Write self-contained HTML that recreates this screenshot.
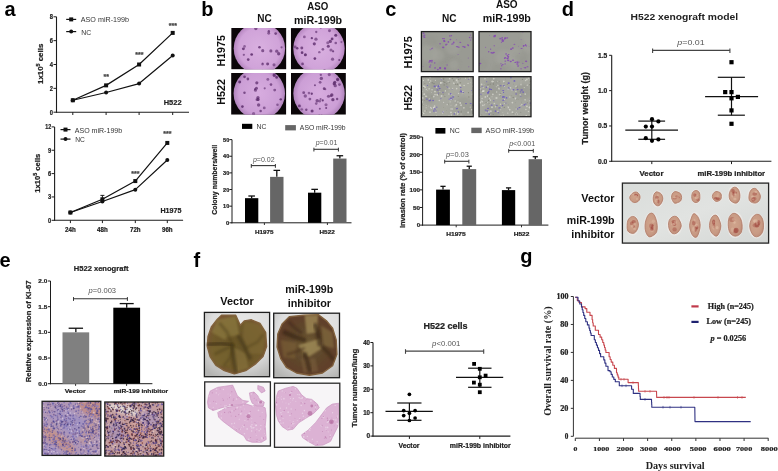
<!DOCTYPE html>
<html><head><meta charset="utf-8"><style>
html,body{margin:0;padding:0;background:#fff;width:778px;height:471px;overflow:hidden;}
svg{display:block;}
</style></head><body>
<svg width="778" height="471" viewBox="0 0 778 471" style="filter:blur(0.35px)"><defs><filter id="bl1" x="-50%" y="-50%" width="200%" height="200%"><feGaussianBlur stdDeviation="0.45"/></filter><filter id="bl2" x="-50%" y="-50%" width="200%" height="200%"><feGaussianBlur stdDeviation="0.8"/></filter><filter id="bl3" x="-50%" y="-50%" width="200%" height="200%"><feGaussianBlur stdDeviation="1.6"/></filter><radialGradient id="dishg" cx="0.5" cy="0.5" r="0.5"><stop offset="0" stop-color="#d9b0e0"/><stop offset="0.8" stop-color="#d0a3d9"/><stop offset="1" stop-color="#b686c0"/></radialGradient><radialGradient id="dishg2" cx="0.5" cy="0.5" r="0.5"><stop offset="0" stop-color="#d7acdf"/><stop offset="0.8" stop-color="#cc9fd6"/><stop offset="1" stop-color="#b184bd"/></radialGradient><clipPath id="d1"><rect x="231.20" y="28.00" width="55.20" height="41.40"/></clipPath><clipPath id="d2"><rect x="290.80" y="28.10" width="55.20" height="41.30"/></clipPath><clipPath id="d3"><rect x="231.10" y="72.90" width="55.20" height="41.80"/></clipPath><clipPath id="d4"><rect x="291.00" y="72.90" width="54.90" height="41.80"/></clipPath><clipPath id="i1"><rect x="421.40" y="31.60" width="51.80" height="40.00"/></clipPath><clipPath id="i2"><rect x="479.00" y="31.60" width="52.00" height="40.00"/></clipPath><clipPath id="i3"><rect x="421.40" y="76.70" width="51.80" height="40.00"/></clipPath><clipPath id="i4"><rect x="479.00" y="76.70" width="52.00" height="40.00"/></clipPath><clipPath id="tp"><rect x="622.40" y="183.10" width="146.20" height="60.00"/></clipPath><radialGradient id="tum" cx="0.45" cy="0.45" r="0.6"><stop offset="0" stop-color="#d0a48c"/><stop offset="0.7" stop-color="#c89a84"/><stop offset="1" stop-color="#bb8a76"/></radialGradient><linearGradient id="tbg" x1="0" y1="0" x2="1" y2="1"><stop offset="0" stop-color="#d9dcda"/><stop offset="0.5" stop-color="#e1e3e1"/><stop offset="1" stop-color="#d4d7d5"/></linearGradient><clipPath id="h1"><rect x="42.10" y="401.30" width="58.70" height="54.10"/></clipPath><clipPath id="h2"><rect x="104.80" y="402.00" width="58.90" height="54.10"/></clipPath><radialGradient id="lbg" cx="0.55" cy="0.3" r="0.8"><stop offset="0" stop-color="#ebebea"/><stop offset="0.6" stop-color="#dedede"/><stop offset="1" stop-color="#b4b4b2"/></radialGradient><radialGradient id="lung1" cx="0.5" cy="0.5" r="0.55"><stop offset="0" stop-color="#665428"/><stop offset="0.75" stop-color="#6f5a2c"/><stop offset="1" stop-color="#7a5434"/></radialGradient><radialGradient id="lung2" cx="0.5" cy="0.5" r="0.55"><stop offset="0" stop-color="#6e5a32"/><stop offset="0.55" stop-color="#5e462c"/><stop offset="1" stop-color="#623e2a"/></radialGradient><clipPath id="l1"><rect x="204.40" y="312.40" width="65.20" height="64.30"/></clipPath><clipPath id="l2"><rect x="273.70" y="313.20" width="65.80" height="64.50"/></clipPath><clipPath id="e1"><rect x="204.70" y="381.90" width="65.70" height="64.10"/></clipPath><clipPath id="e1t"><path d="M 208.4 396.6 L 210.2 391.0 L 217.7 387.3 L 224.2 386.4 L 232.6 385.1 L 234.5 389.2 L 237.3 395.7 L 242.9 400.4 L 248.5 401.3 L 244.7 404.1 L 237.3 405.0 L 228.0 406.0 L 218.6 408.7 L 213.0 410.6 L 208.4 407.8 L 207.5 402.2 Z"/><path d="M 217.7 412.5 L 226.1 407.8 L 237.3 405.6 L 246.6 404.1 L 252.2 406.0 L 257.8 405.0 L 261.5 406.0 L 265.2 407.8 L 266.2 415.3 L 265.2 426.5 L 266.2 439.5 L 261.5 442.3 L 252.2 442.3 L 246.6 440.4 L 243.8 435.8 L 237.3 432.0 L 229.8 426.5 L 222.4 420.9 L 218.6 417.1 Z"/><path d="M 249.4 392.9 L 254.0 392.0 L 257.8 395.7 L 259.6 399.4 L 264.3 402.2 L 263.4 406.0 L 256.8 406.0 L 252.2 403.2 L 250.3 398.5 Z"/><path d="M 257.8 385.5 L 263.4 387.3 L 265.2 391.0 L 261.5 392.9 L 257.8 389.2 Z"/></clipPath><clipPath id="e2"><rect x="274.50" y="383.20" width="65.30" height="64.10"/></clipPath><clipPath id="e2t"><path d="M 276.4 396.6 L 278.3 391.0 L 285.7 388.2 L 293.2 386.4 L 296.9 388.2 L 301.6 394.8 L 306.2 398.5 L 311.8 399.4 L 317.4 404.1 L 319.3 407.8 L 313.7 413.4 L 306.2 418.1 L 298.8 422.7 L 293.2 429.2 L 287.6 430.2 L 282.0 426.5 L 278.3 420.9 L 276.4 415.3 L 275.5 406.0 Z"/><path d="M 301.6 434.8 L 308.1 430.2 L 315.5 422.7 L 321.1 415.3 L 326.7 407.8 L 332.3 404.1 L 338.8 403.2 L 338.8 415.3 L 337.9 426.5 L 334.2 433.9 L 330.5 441.4 L 323.0 445.1 L 315.5 445.5 L 308.1 441.4 L 302.5 437.6 Z"/></clipPath></defs>
<text x="4.60" y="16.20" font-family="'Liberation Sans', sans-serif" font-size="20" font-weight="bold" text-anchor="start" fill="#000">a</text>
<text x="201.20" y="16.00" font-family="'Liberation Sans', sans-serif" font-size="20" font-weight="bold" text-anchor="start" fill="#000">b</text>
<text x="385.30" y="16.40" font-family="'Liberation Sans', sans-serif" font-size="20" font-weight="bold" text-anchor="start" fill="#000">c</text>
<text x="561.80" y="16.00" font-family="'Liberation Sans', sans-serif" font-size="20" font-weight="bold" text-anchor="start" fill="#000">d</text>
<text x="-0.60" y="266.60" font-family="'Liberation Sans', sans-serif" font-size="20" font-weight="bold" text-anchor="start" fill="#000">e</text>
<text x="193.60" y="267.10" font-family="'Liberation Sans', sans-serif" font-size="20" font-weight="bold" text-anchor="start" fill="#000">f</text>
<text x="520.30" y="263.00" font-family="'Liberation Sans', sans-serif" font-size="20" font-weight="bold" text-anchor="start" fill="#000">g</text>
<line x1="56.50" y1="16.80" x2="56.50" y2="112.70" stroke="#1c1c1c" stroke-width="1.1"/>
<line x1="56.00" y1="112.20" x2="189.00" y2="112.20" stroke="#1c1c1c" stroke-width="1.1"/>
<line x1="53.50" y1="112.20" x2="56.50" y2="112.20" stroke="#1c1c1c" stroke-width="1"/>
<text x="53.00" y="114.50" font-family="'Liberation Sans', sans-serif" font-size="6.6" font-weight="bold" text-anchor="end" fill="#222" stroke="#222" stroke-width="0.22" textLength="3.20" lengthAdjust="spacingAndGlyphs">0</text>
<line x1="53.50" y1="88.35" x2="56.50" y2="88.35" stroke="#1c1c1c" stroke-width="1"/>
<text x="53.00" y="90.65" font-family="'Liberation Sans', sans-serif" font-size="6.6" font-weight="bold" text-anchor="end" fill="#222" stroke="#222" stroke-width="0.22" textLength="3.20" lengthAdjust="spacingAndGlyphs">2</text>
<line x1="53.50" y1="64.50" x2="56.50" y2="64.50" stroke="#1c1c1c" stroke-width="1"/>
<text x="53.00" y="66.80" font-family="'Liberation Sans', sans-serif" font-size="6.6" font-weight="bold" text-anchor="end" fill="#222" stroke="#222" stroke-width="0.22" textLength="3.20" lengthAdjust="spacingAndGlyphs">4</text>
<line x1="53.50" y1="40.65" x2="56.50" y2="40.65" stroke="#1c1c1c" stroke-width="1"/>
<text x="53.00" y="42.95" font-family="'Liberation Sans', sans-serif" font-size="6.6" font-weight="bold" text-anchor="end" fill="#222" stroke="#222" stroke-width="0.22" textLength="3.20" lengthAdjust="spacingAndGlyphs">6</text>
<line x1="53.50" y1="16.80" x2="56.50" y2="16.80" stroke="#1c1c1c" stroke-width="1"/>
<text x="53.00" y="19.10" font-family="'Liberation Sans', sans-serif" font-size="6.6" font-weight="bold" text-anchor="end" fill="#222" stroke="#222" stroke-width="0.22" textLength="3.20" lengthAdjust="spacingAndGlyphs">8</text>
<line x1="72.80" y1="112.20" x2="72.80" y2="115.00" stroke="#1c1c1c" stroke-width="1"/>
<line x1="106.10" y1="112.20" x2="106.10" y2="115.00" stroke="#1c1c1c" stroke-width="1"/>
<line x1="139.10" y1="112.20" x2="139.10" y2="115.00" stroke="#1c1c1c" stroke-width="1"/>
<line x1="172.70" y1="112.20" x2="172.70" y2="115.00" stroke="#1c1c1c" stroke-width="1"/>
<polyline points="72.80,100.28 106.10,85.37 139.10,64.50 172.70,32.90" fill="none" stroke="#111" stroke-width="1.2" stroke-linejoin="round" />
<polyline points="72.80,100.28 106.10,92.52 139.10,83.58 172.70,55.56" fill="none" stroke="#111" stroke-width="1.2" stroke-linejoin="round" />
<circle cx="72.80" cy="100.28" r="2.00" fill="#111" />
<circle cx="106.10" cy="92.52" r="2.00" fill="#111" />
<circle cx="139.10" cy="83.58" r="2.00" fill="#111" />
<circle cx="172.70" cy="55.56" r="2.00" fill="#111" />
<rect x="70.80" y="98.28" width="4.00" height="4.00" fill="#111" />
<rect x="104.10" y="83.37" width="4.00" height="4.00" fill="#111" />
<rect x="137.10" y="62.50" width="4.00" height="4.00" fill="#111" />
<rect x="170.70" y="30.90" width="4.00" height="4.00" fill="#111" />
<line x1="66.20" y1="19.40" x2="76.20" y2="19.40" stroke="#111" stroke-width="1.2"/>
<rect x="69.20" y="17.40" width="4.00" height="4.00" fill="#111" />
<text x="104.90" y="21.80" font-family="'Liberation Sans', sans-serif" font-size="7.5" font-weight="normal" text-anchor="middle" fill="#333" textLength="48.12" lengthAdjust="spacingAndGlyphs">ASO miR-199b</text>
<line x1="66.20" y1="31.60" x2="76.20" y2="31.60" stroke="#111" stroke-width="1.2"/>
<circle cx="71.20" cy="31.60" r="2.00" fill="#111" />
<text x="86.30" y="34.50" font-family="'Liberation Sans', sans-serif" font-size="7.5" font-weight="normal" text-anchor="middle" fill="#333" textLength="9.93" lengthAdjust="spacingAndGlyphs">NC</text>
<text x="172.65" y="104.80" font-family="'Liberation Sans', sans-serif" font-size="7.5" font-weight="bold" text-anchor="middle" fill="#222" stroke="#222" stroke-width="0.22" textLength="17.83" lengthAdjust="spacingAndGlyphs">H522</text>
<text x="106.30" y="79.30" font-family="'Liberation Sans', sans-serif" font-size="7" font-weight="bold" text-anchor="middle" fill="#444" stroke="#444" stroke-width="0.22">**</text>
<text x="139.30" y="56.60" font-family="'Liberation Sans', sans-serif" font-size="7" font-weight="bold" text-anchor="middle" fill="#444" stroke="#444" stroke-width="0.22">***</text>
<text x="172.90" y="27.60" font-family="'Liberation Sans', sans-serif" font-size="7" font-weight="bold" text-anchor="middle" fill="#444" stroke="#444" stroke-width="0.22">***</text>
<text x="42.70" y="63.85" font-family="'Liberation Sans', sans-serif" font-size="7.3" font-weight="bold" text-anchor="middle" fill="#222" stroke="#222" stroke-width="0.22" textLength="40.30" lengthAdjust="spacingAndGlyphs" transform="rotate(-90 42.70 63.85)">1x10<tspan font-size="5" dy="-3">5</tspan><tspan dy="3"> cells</tspan></text>
<line x1="54.60" y1="126.90" x2="54.60" y2="220.80" stroke="#1c1c1c" stroke-width="1.1"/>
<line x1="54.10" y1="220.30" x2="183.10" y2="220.30" stroke="#1c1c1c" stroke-width="1.1"/>
<line x1="51.60" y1="220.30" x2="54.60" y2="220.30" stroke="#1c1c1c" stroke-width="1"/>
<text x="51.20" y="222.60" font-family="'Liberation Sans', sans-serif" font-size="6.6" font-weight="bold" text-anchor="end" fill="#222" stroke="#222" stroke-width="0.22" textLength="3.20" lengthAdjust="spacingAndGlyphs">0</text>
<line x1="51.60" y1="196.95" x2="54.60" y2="196.95" stroke="#1c1c1c" stroke-width="1"/>
<text x="51.20" y="199.25" font-family="'Liberation Sans', sans-serif" font-size="6.6" font-weight="bold" text-anchor="end" fill="#222" stroke="#222" stroke-width="0.22" textLength="3.20" lengthAdjust="spacingAndGlyphs">3</text>
<line x1="51.60" y1="173.60" x2="54.60" y2="173.60" stroke="#1c1c1c" stroke-width="1"/>
<text x="51.20" y="175.90" font-family="'Liberation Sans', sans-serif" font-size="6.6" font-weight="bold" text-anchor="end" fill="#222" stroke="#222" stroke-width="0.22" textLength="3.20" lengthAdjust="spacingAndGlyphs">6</text>
<line x1="51.60" y1="150.25" x2="54.60" y2="150.25" stroke="#1c1c1c" stroke-width="1"/>
<text x="51.20" y="152.55" font-family="'Liberation Sans', sans-serif" font-size="6.6" font-weight="bold" text-anchor="end" fill="#222" stroke="#222" stroke-width="0.22" textLength="3.20" lengthAdjust="spacingAndGlyphs">9</text>
<line x1="51.60" y1="126.90" x2="54.60" y2="126.90" stroke="#1c1c1c" stroke-width="1"/>
<text x="51.20" y="129.20" font-family="'Liberation Sans', sans-serif" font-size="6.6" font-weight="bold" text-anchor="end" fill="#222" stroke="#222" stroke-width="0.22" textLength="6.00" lengthAdjust="spacingAndGlyphs">12</text>
<line x1="70.40" y1="220.30" x2="70.40" y2="223.10" stroke="#1c1c1c" stroke-width="1"/>
<line x1="102.40" y1="220.30" x2="102.40" y2="223.10" stroke="#1c1c1c" stroke-width="1"/>
<line x1="135.30" y1="220.30" x2="135.30" y2="223.10" stroke="#1c1c1c" stroke-width="1"/>
<line x1="167.30" y1="220.30" x2="167.30" y2="223.10" stroke="#1c1c1c" stroke-width="1"/>
<text x="70.40" y="231.90" font-family="'Liberation Sans', sans-serif" font-size="6.4" font-weight="bold" text-anchor="middle" fill="#222" stroke="#222" stroke-width="0.22" textLength="10.65" lengthAdjust="spacingAndGlyphs">24h</text>
<text x="102.40" y="231.90" font-family="'Liberation Sans', sans-serif" font-size="6.4" font-weight="bold" text-anchor="middle" fill="#222" stroke="#222" stroke-width="0.22" textLength="10.65" lengthAdjust="spacingAndGlyphs">48h</text>
<text x="135.30" y="231.90" font-family="'Liberation Sans', sans-serif" font-size="6.4" font-weight="bold" text-anchor="middle" fill="#222" stroke="#222" stroke-width="0.22" textLength="10.65" lengthAdjust="spacingAndGlyphs">72h</text>
<text x="167.30" y="231.90" font-family="'Liberation Sans', sans-serif" font-size="6.4" font-weight="bold" text-anchor="middle" fill="#222" stroke="#222" stroke-width="0.22" textLength="10.65" lengthAdjust="spacingAndGlyphs">96h</text>
<line x1="102.40" y1="199.28" x2="102.40" y2="195.39" stroke="#1c1c1c" stroke-width="1"/>
<line x1="100.40" y1="195.39" x2="104.40" y2="195.39" stroke="#1c1c1c" stroke-width="1"/>
<polyline points="70.40,212.52 102.40,199.28 135.30,181.07 167.30,142.93" fill="none" stroke="#111" stroke-width="1.2" stroke-linejoin="round" />
<polyline points="70.40,212.52 102.40,201.46 135.30,189.63 167.30,159.98" fill="none" stroke="#111" stroke-width="1.2" stroke-linejoin="round" />
<circle cx="70.40" cy="212.52" r="2.00" fill="#111" />
<circle cx="102.40" cy="201.46" r="2.00" fill="#111" />
<circle cx="135.30" cy="189.63" r="2.00" fill="#111" />
<circle cx="167.30" cy="159.98" r="2.00" fill="#111" />
<rect x="68.40" y="210.52" width="4.00" height="4.00" fill="#111" />
<rect x="100.40" y="197.28" width="4.00" height="4.00" fill="#111" />
<rect x="133.30" y="179.07" width="4.00" height="4.00" fill="#111" />
<rect x="165.30" y="140.93" width="4.00" height="4.00" fill="#111" />
<line x1="60.50" y1="129.60" x2="70.50" y2="129.60" stroke="#111" stroke-width="1.2"/>
<rect x="63.50" y="127.60" width="4.00" height="4.00" fill="#111" />
<text x="98.45" y="132.50" font-family="'Liberation Sans', sans-serif" font-size="7.5" font-weight="normal" text-anchor="middle" fill="#333" textLength="47.43" lengthAdjust="spacingAndGlyphs">ASO miR-199b</text>
<line x1="60.50" y1="139.10" x2="70.50" y2="139.10" stroke="#111" stroke-width="1.2"/>
<circle cx="65.50" cy="139.10" r="2.00" fill="#111" />
<text x="80.05" y="141.90" font-family="'Liberation Sans', sans-serif" font-size="7.5" font-weight="normal" text-anchor="middle" fill="#333" textLength="9.62" lengthAdjust="spacingAndGlyphs">NC</text>
<text x="170.90" y="213.00" font-family="'Liberation Sans', sans-serif" font-size="7.5" font-weight="bold" text-anchor="middle" fill="#222" stroke="#222" stroke-width="0.22" textLength="20.93" lengthAdjust="spacingAndGlyphs">H1975</text>
<text x="135.30" y="176.40" font-family="'Liberation Sans', sans-serif" font-size="7" font-weight="bold" text-anchor="middle" fill="#444" stroke="#444" stroke-width="0.22">***</text>
<text x="167.30" y="136.10" font-family="'Liberation Sans', sans-serif" font-size="7" font-weight="bold" text-anchor="middle" fill="#444" stroke="#444" stroke-width="0.22">***</text>
<text x="40.20" y="173.25" font-family="'Liberation Sans', sans-serif" font-size="7.3" font-weight="bold" text-anchor="middle" fill="#222" stroke="#222" stroke-width="0.22" textLength="39.10" lengthAdjust="spacingAndGlyphs" transform="rotate(-90 40.20 173.25)">1x10<tspan font-size="5" dy="-3">5</tspan><tspan dy="3"> cells</tspan></text>
<text x="264.55" y="21.90" font-family="'Liberation Sans', sans-serif" font-size="10.5" font-weight="bold" text-anchor="middle" fill="#111" textLength="14.43" lengthAdjust="spacingAndGlyphs">NC</text>
<text x="317.75" y="10.20" font-family="'Liberation Sans', sans-serif" font-size="10.5" font-weight="bold" text-anchor="middle" fill="#111" textLength="21.03" lengthAdjust="spacingAndGlyphs">ASO</text>
<text x="318.10" y="24.00" font-family="'Liberation Sans', sans-serif" font-size="10.5" font-weight="bold" text-anchor="middle" fill="#111" textLength="48.14" lengthAdjust="spacingAndGlyphs">miR-199b</text>
<text x="225.30" y="50.80" font-family="'Liberation Sans', sans-serif" font-size="10.5" font-weight="bold" text-anchor="middle" fill="#111" textLength="31.33" lengthAdjust="spacingAndGlyphs" transform="rotate(-90 225.30 50.80)">H1975</text>
<text x="225.30" y="91.90" font-family="'Liberation Sans', sans-serif" font-size="10.5" font-weight="bold" text-anchor="middle" fill="#111" textLength="25.53" lengthAdjust="spacingAndGlyphs" transform="rotate(-90 225.30 91.90)">H522</text>
<g clip-path="url(#d1)">
<rect x="231.20" y="28.00" width="55.20" height="41.40" fill="#0b0609" />
<circle cx="259.40" cy="48.40" r="25.70" fill="url(#dishg)" filter="url(#bl1)"/>
<circle cx="274.02" cy="64.85" r="1.53" fill="#5e2e6e" opacity="0.64" filter="url(#bl1)"/>
<circle cx="243.38" cy="48.86" r="1.46" fill="#5e2e6e" opacity="0.83" filter="url(#bl1)"/>
<circle cx="262.74" cy="50.64" r="1.59" fill="#5e2e6e" opacity="0.70" filter="url(#bl1)"/>
<circle cx="259.48" cy="47.31" r="1.31" fill="#5e2e6e" opacity="0.80" filter="url(#bl1)"/>
<circle cx="262.49" cy="71.43" r="1.63" fill="#5e2e6e" opacity="0.56" filter="url(#bl1)"/>
<circle cx="276.76" cy="51.20" r="1.66" fill="#5e2e6e" opacity="0.68" filter="url(#bl1)"/>
<circle cx="262.63" cy="63.59" r="1.02" fill="#5e2e6e" opacity="0.63" filter="url(#bl1)"/>
<circle cx="243.84" cy="54.80" r="1.16" fill="#5e2e6e" opacity="0.63" filter="url(#bl1)"/>
<circle cx="262.56" cy="64.29" r="1.20" fill="#5e2e6e" opacity="0.56" filter="url(#bl1)"/>
<circle cx="268.72" cy="33.20" r="1.45" fill="#5e2e6e" opacity="0.62" filter="url(#bl1)"/>
<circle cx="281.54" cy="47.36" r="1.08" fill="#5e2e6e" opacity="0.67" filter="url(#bl1)"/>
<circle cx="255.81" cy="28.57" r="1.66" fill="#5e2e6e" opacity="0.70" filter="url(#bl1)"/>
<circle cx="268.83" cy="31.25" r="1.21" fill="#5e2e6e" opacity="0.76" filter="url(#bl1)"/>
<circle cx="275.66" cy="33.60" r="1.35" fill="#5e2e6e" opacity="0.76" filter="url(#bl1)"/>
<circle cx="270.90" cy="50.93" r="1.56" fill="#5e2e6e" opacity="0.70" filter="url(#bl1)"/>
<circle cx="267.64" cy="64.07" r="1.49" fill="#5e2e6e" opacity="0.79" filter="url(#bl1)"/>
<circle cx="248.22" cy="59.62" r="1.36" fill="#5e2e6e" opacity="0.82" filter="url(#bl1)"/>
<circle cx="244.54" cy="46.43" r="1.34" fill="#5e2e6e" opacity="0.56" filter="url(#bl1)"/>
<circle cx="278.70" cy="53.81" r="1.69" fill="#5e2e6e" opacity="0.76" filter="url(#bl1)"/>
<circle cx="251.66" cy="54.51" r="1.35" fill="#5e2e6e" opacity="0.89" filter="url(#bl1)"/>
</g>
<g clip-path="url(#d2)">
<rect x="290.80" y="28.10" width="55.20" height="41.30" fill="#0b0609" />
<circle cx="319.00" cy="48.45" r="25.70" fill="url(#dishg)" filter="url(#bl1)"/>
<circle cx="341.39" cy="42.10" r="1.04" fill="#5e2e6e" opacity="0.58" filter="url(#bl1)"/>
<circle cx="329.49" cy="30.83" r="1.47" fill="#5e2e6e" opacity="0.66" filter="url(#bl1)"/>
<circle cx="304.36" cy="36.95" r="1.41" fill="#5e2e6e" opacity="0.61" filter="url(#bl1)"/>
<circle cx="305.41" cy="54.78" r="1.51" fill="#5e2e6e" opacity="0.90" filter="url(#bl1)"/>
<circle cx="335.75" cy="42.94" r="1.31" fill="#5e2e6e" opacity="0.64" filter="url(#bl1)"/>
<circle cx="322.86" cy="49.34" r="1.33" fill="#5e2e6e" opacity="0.66" filter="url(#bl1)"/>
<circle cx="302.55" cy="63.90" r="1.37" fill="#5e2e6e" opacity="0.75" filter="url(#bl1)"/>
<circle cx="319.32" cy="52.13" r="1.23" fill="#5e2e6e" opacity="0.60" filter="url(#bl1)"/>
<circle cx="295.16" cy="46.92" r="1.47" fill="#5e2e6e" opacity="0.61" filter="url(#bl1)"/>
<circle cx="335.74" cy="35.22" r="1.51" fill="#5e2e6e" opacity="0.87" filter="url(#bl1)"/>
<circle cx="320.72" cy="27.28" r="1.25" fill="#5e2e6e" opacity="0.89" filter="url(#bl1)"/>
<circle cx="328.32" cy="46.17" r="1.53" fill="#5e2e6e" opacity="0.80" filter="url(#bl1)"/>
<circle cx="302.10" cy="52.63" r="1.34" fill="#5e2e6e" opacity="0.87" filter="url(#bl1)"/>
<circle cx="297.21" cy="48.33" r="1.25" fill="#5e2e6e" opacity="0.86" filter="url(#bl1)"/>
<circle cx="332.11" cy="38.89" r="1.40" fill="#5e2e6e" opacity="0.87" filter="url(#bl1)"/>
<circle cx="316.26" cy="32.00" r="1.16" fill="#5e2e6e" opacity="0.66" filter="url(#bl1)"/>
<circle cx="315.97" cy="39.19" r="1.64" fill="#5e2e6e" opacity="0.64" filter="url(#bl1)"/>
<circle cx="330.29" cy="41.42" r="1.67" fill="#5e2e6e" opacity="0.80" filter="url(#bl1)"/>
<circle cx="301.81" cy="47.99" r="1.46" fill="#5e2e6e" opacity="0.76" filter="url(#bl1)"/>
<circle cx="314.87" cy="58.53" r="1.36" fill="#5e2e6e" opacity="0.88" filter="url(#bl1)"/>
<circle cx="314.31" cy="43.86" r="1.57" fill="#5e2e6e" opacity="0.80" filter="url(#bl1)"/>
<circle cx="327.75" cy="42.72" r="1.52" fill="#5e2e6e" opacity="0.57" filter="url(#bl1)"/>
<circle cx="311.84" cy="38.21" r="1.16" fill="#5e2e6e" opacity="0.86" filter="url(#bl1)"/>
<circle cx="332.56" cy="59.15" r="1.60" fill="#5e2e6e" opacity="0.64" filter="url(#bl1)"/>
<circle cx="324.51" cy="70.19" r="1.30" fill="#5e2e6e" opacity="0.80" filter="url(#bl1)"/>
<circle cx="333.10" cy="51.31" r="1.12" fill="#5e2e6e" opacity="0.79" filter="url(#bl1)"/>
<circle cx="339.25" cy="60.07" r="1.02" fill="#5e2e6e" opacity="0.81" filter="url(#bl1)"/>
<circle cx="330.98" cy="50.05" r="1.57" fill="#5e2e6e" opacity="0.60" filter="url(#bl1)"/>
</g>
<g clip-path="url(#d3)">
<rect x="231.10" y="72.90" width="55.20" height="41.80" fill="#0b0609" />
<circle cx="259.30" cy="93.50" r="25.70" fill="url(#dishg2)" filter="url(#bl1)"/>
<circle cx="260.63" cy="111.08" r="1.26" fill="#5e2e6e" opacity="0.76" filter="url(#bl1)"/>
<circle cx="254.99" cy="89.15" r="1.01" fill="#5e2e6e" opacity="0.84" filter="url(#bl1)"/>
<circle cx="258.62" cy="105.05" r="1.70" fill="#5e2e6e" opacity="0.71" filter="url(#bl1)"/>
<circle cx="267.83" cy="79.38" r="1.45" fill="#5e2e6e" opacity="0.60" filter="url(#bl1)"/>
<circle cx="244.56" cy="76.81" r="1.37" fill="#5e2e6e" opacity="0.81" filter="url(#bl1)"/>
<circle cx="256.43" cy="88.17" r="1.53" fill="#5e2e6e" opacity="0.76" filter="url(#bl1)"/>
<circle cx="257.97" cy="97.49" r="1.61" fill="#5e2e6e" opacity="0.72" filter="url(#bl1)"/>
<circle cx="254.94" cy="71.52" r="1.50" fill="#5e2e6e" opacity="0.87" filter="url(#bl1)"/>
<circle cx="242.40" cy="106.61" r="1.31" fill="#5e2e6e" opacity="0.88" filter="url(#bl1)"/>
<circle cx="264.70" cy="88.35" r="1.10" fill="#5e2e6e" opacity="0.63" filter="url(#bl1)"/>
<circle cx="274.71" cy="90.10" r="1.44" fill="#5e2e6e" opacity="0.66" filter="url(#bl1)"/>
<circle cx="244.47" cy="92.82" r="1.25" fill="#5e2e6e" opacity="0.75" filter="url(#bl1)"/>
<circle cx="239.68" cy="82.02" r="1.48" fill="#5e2e6e" opacity="0.88" filter="url(#bl1)"/>
<circle cx="274.05" cy="74.83" r="1.47" fill="#5e2e6e" opacity="0.61" filter="url(#bl1)"/>
<circle cx="274.34" cy="75.47" r="1.63" fill="#5e2e6e" opacity="0.75" filter="url(#bl1)"/>
<circle cx="256.82" cy="82.80" r="1.58" fill="#5e2e6e" opacity="0.75" filter="url(#bl1)"/>
<circle cx="257.99" cy="99.38" r="1.60" fill="#5e2e6e" opacity="0.90" filter="url(#bl1)"/>
<circle cx="277.46" cy="104.79" r="1.29" fill="#5e2e6e" opacity="0.60" filter="url(#bl1)"/>
<circle cx="253.59" cy="113.66" r="1.61" fill="#5e2e6e" opacity="0.57" filter="url(#bl1)"/>
<circle cx="255.49" cy="90.16" r="1.50" fill="#5e2e6e" opacity="0.67" filter="url(#bl1)"/>
<circle cx="276.65" cy="77.40" r="1.35" fill="#5e2e6e" opacity="0.90" filter="url(#bl1)"/>
<circle cx="256.87" cy="99.67" r="1.42" fill="#5e2e6e" opacity="0.56" filter="url(#bl1)"/>
<circle cx="264.26" cy="107.94" r="1.43" fill="#5e2e6e" opacity="0.60" filter="url(#bl1)"/>
<circle cx="280.78" cy="99.37" r="1.22" fill="#5e2e6e" opacity="0.89" filter="url(#bl1)"/>
<circle cx="271.00" cy="84.62" r="1.32" fill="#5e2e6e" opacity="0.73" filter="url(#bl1)"/>
<circle cx="247.89" cy="79.00" r="1.39" fill="#5e2e6e" opacity="0.77" filter="url(#bl1)"/>
</g>
<g clip-path="url(#d4)">
<rect x="291.00" y="72.90" width="54.90" height="41.80" fill="#0b0609" />
<circle cx="319.05" cy="93.50" r="25.70" fill="url(#dishg2)" filter="url(#bl1)"/>
<circle cx="319.72" cy="101.15" r="1.28" fill="#5e2e6e" opacity="0.60" filter="url(#bl1)"/>
<circle cx="332.89" cy="99.65" r="1.64" fill="#5e2e6e" opacity="0.83" filter="url(#bl1)"/>
<circle cx="320.12" cy="82.29" r="1.38" fill="#5e2e6e" opacity="0.65" filter="url(#bl1)"/>
<circle cx="322.69" cy="100.39" r="1.15" fill="#5e2e6e" opacity="0.87" filter="url(#bl1)"/>
<circle cx="329.26" cy="74.62" r="1.56" fill="#5e2e6e" opacity="0.62" filter="url(#bl1)"/>
<circle cx="312.10" cy="111.10" r="1.51" fill="#5e2e6e" opacity="0.85" filter="url(#bl1)"/>
<circle cx="324.18" cy="88.68" r="1.42" fill="#5e2e6e" opacity="0.79" filter="url(#bl1)"/>
<circle cx="308.98" cy="93.12" r="1.33" fill="#5e2e6e" opacity="0.58" filter="url(#bl1)"/>
<circle cx="339.43" cy="84.62" r="1.38" fill="#5e2e6e" opacity="0.66" filter="url(#bl1)"/>
<circle cx="334.25" cy="83.70" r="1.62" fill="#5e2e6e" opacity="0.85" filter="url(#bl1)"/>
<circle cx="303.69" cy="92.69" r="1.42" fill="#5e2e6e" opacity="0.70" filter="url(#bl1)"/>
<circle cx="326.03" cy="104.71" r="1.57" fill="#5e2e6e" opacity="0.57" filter="url(#bl1)"/>
<circle cx="337.17" cy="98.93" r="1.20" fill="#5e2e6e" opacity="0.74" filter="url(#bl1)"/>
<circle cx="305.28" cy="96.02" r="1.70" fill="#5e2e6e" opacity="0.62" filter="url(#bl1)"/>
<circle cx="309.87" cy="99.11" r="1.44" fill="#5e2e6e" opacity="0.65" filter="url(#bl1)"/>
<circle cx="306.30" cy="109.76" r="1.22" fill="#5e2e6e" opacity="0.75" filter="url(#bl1)"/>
<circle cx="325.31" cy="89.20" r="1.04" fill="#5e2e6e" opacity="0.63" filter="url(#bl1)"/>
<circle cx="320.83" cy="74.83" r="1.17" fill="#5e2e6e" opacity="0.67" filter="url(#bl1)"/>
<circle cx="326.17" cy="108.04" r="1.03" fill="#5e2e6e" opacity="0.79" filter="url(#bl1)"/>
<circle cx="337.59" cy="79.29" r="1.51" fill="#5e2e6e" opacity="0.89" filter="url(#bl1)"/>
<circle cx="331.81" cy="94.97" r="1.68" fill="#5e2e6e" opacity="0.82" filter="url(#bl1)"/>
<circle cx="299.42" cy="105.89" r="1.43" fill="#5e2e6e" opacity="0.84" filter="url(#bl1)"/>
<circle cx="316.23" cy="103.57" r="1.31" fill="#5e2e6e" opacity="0.60" filter="url(#bl1)"/>
<circle cx="301.80" cy="109.37" r="1.23" fill="#5e2e6e" opacity="0.55" filter="url(#bl1)"/>
<circle cx="328.50" cy="96.23" r="1.55" fill="#5e2e6e" opacity="0.68" filter="url(#bl1)"/>
<circle cx="317.18" cy="100.71" r="1.69" fill="#5e2e6e" opacity="0.70" filter="url(#bl1)"/>
<circle cx="320.57" cy="99.12" r="1.04" fill="#5e2e6e" opacity="0.61" filter="url(#bl1)"/>
<circle cx="314.95" cy="85.21" r="1.03" fill="#5e2e6e" opacity="0.72" filter="url(#bl1)"/>
<circle cx="319.19" cy="117.37" r="1.09" fill="#5e2e6e" opacity="0.74" filter="url(#bl1)"/>
<circle cx="321.33" cy="78.38" r="1.69" fill="#5e2e6e" opacity="0.72" filter="url(#bl1)"/>
<circle cx="319.83" cy="108.80" r="1.03" fill="#5e2e6e" opacity="0.70" filter="url(#bl1)"/>
<circle cx="319.25" cy="116.04" r="1.58" fill="#5e2e6e" opacity="0.72" filter="url(#bl1)"/>
<circle cx="330.87" cy="95.88" r="1.17" fill="#5e2e6e" opacity="0.62" filter="url(#bl1)"/>
<circle cx="321.64" cy="115.64" r="1.10" fill="#5e2e6e" opacity="0.57" filter="url(#bl1)"/>
<circle cx="335.21" cy="85.65" r="1.69" fill="#5e2e6e" opacity="0.69" filter="url(#bl1)"/>
<circle cx="334.75" cy="82.23" r="1.55" fill="#5e2e6e" opacity="0.81" filter="url(#bl1)"/>
<circle cx="311.77" cy="93.76" r="1.15" fill="#5e2e6e" opacity="0.86" filter="url(#bl1)"/>
<circle cx="337.62" cy="79.96" r="1.24" fill="#5e2e6e" opacity="0.78" filter="url(#bl1)"/>
</g>
<line x1="232.00" y1="139.60" x2="232.00" y2="223.30" stroke="#1c1c1c" stroke-width="1"/>
<line x1="231.50" y1="222.80" x2="351.50" y2="222.80" stroke="#1c1c1c" stroke-width="1"/>
<line x1="229.40" y1="222.80" x2="232.00" y2="222.80" stroke="#1c1c1c" stroke-width="1"/>
<text x="229.30" y="224.90" font-family="'Liberation Sans', sans-serif" font-size="5.8" font-weight="bold" text-anchor="end" fill="#222" stroke="#222" stroke-width="0.22">0</text>
<line x1="229.40" y1="206.16" x2="232.00" y2="206.16" stroke="#1c1c1c" stroke-width="1"/>
<text x="229.30" y="208.26" font-family="'Liberation Sans', sans-serif" font-size="5.8" font-weight="bold" text-anchor="end" fill="#222" stroke="#222" stroke-width="0.22" textLength="6.20" lengthAdjust="spacingAndGlyphs">10</text>
<line x1="229.40" y1="189.52" x2="232.00" y2="189.52" stroke="#1c1c1c" stroke-width="1"/>
<text x="229.30" y="191.62" font-family="'Liberation Sans', sans-serif" font-size="5.8" font-weight="bold" text-anchor="end" fill="#222" stroke="#222" stroke-width="0.22" textLength="6.20" lengthAdjust="spacingAndGlyphs">20</text>
<line x1="229.40" y1="172.88" x2="232.00" y2="172.88" stroke="#1c1c1c" stroke-width="1"/>
<text x="229.30" y="174.98" font-family="'Liberation Sans', sans-serif" font-size="5.8" font-weight="bold" text-anchor="end" fill="#222" stroke="#222" stroke-width="0.22" textLength="6.20" lengthAdjust="spacingAndGlyphs">30</text>
<line x1="229.40" y1="156.24" x2="232.00" y2="156.24" stroke="#1c1c1c" stroke-width="1"/>
<text x="229.30" y="158.34" font-family="'Liberation Sans', sans-serif" font-size="5.8" font-weight="bold" text-anchor="end" fill="#222" stroke="#222" stroke-width="0.22" textLength="6.20" lengthAdjust="spacingAndGlyphs">40</text>
<line x1="229.40" y1="139.60" x2="232.00" y2="139.60" stroke="#1c1c1c" stroke-width="1"/>
<text x="229.30" y="141.70" font-family="'Liberation Sans', sans-serif" font-size="5.8" font-weight="bold" text-anchor="end" fill="#222" stroke="#222" stroke-width="0.22" textLength="6.20" lengthAdjust="spacingAndGlyphs">50</text>
<line x1="264.40" y1="222.80" x2="264.40" y2="225.00" stroke="#1c1c1c" stroke-width="0.9"/>
<line x1="327.40" y1="222.80" x2="327.40" y2="225.00" stroke="#1c1c1c" stroke-width="0.9"/>
<line x1="251.65" y1="198.17" x2="251.65" y2="196.01" stroke="#111" stroke-width="1.3"/>
<line x1="248.35" y1="196.01" x2="254.95" y2="196.01" stroke="#111" stroke-width="1.3"/>
<rect x="245.00" y="198.17" width="13.30" height="24.63" fill="#000" />
<line x1="276.80" y1="176.87" x2="276.80" y2="170.38" stroke="#111" stroke-width="1.3"/>
<line x1="273.50" y1="170.38" x2="280.10" y2="170.38" stroke="#111" stroke-width="1.3"/>
<rect x="270.10" y="176.87" width="13.40" height="45.93" fill="#666" />
<line x1="314.65" y1="192.68" x2="314.65" y2="189.35" stroke="#111" stroke-width="1.3"/>
<line x1="311.35" y1="189.35" x2="317.95" y2="189.35" stroke="#111" stroke-width="1.3"/>
<rect x="308.00" y="192.68" width="13.30" height="30.12" fill="#000" />
<line x1="339.85" y1="158.57" x2="339.85" y2="155.74" stroke="#111" stroke-width="1.3"/>
<line x1="336.55" y1="155.74" x2="343.15" y2="155.74" stroke="#111" stroke-width="1.3"/>
<rect x="333.20" y="158.57" width="13.30" height="64.23" fill="#666" />
<line x1="251.30" y1="165.60" x2="275.40" y2="165.60" stroke="#333" stroke-width="1.1"/>
<line x1="251.30" y1="164.00" x2="251.30" y2="167.80" stroke="#333" stroke-width="1"/>
<line x1="275.40" y1="164.00" x2="275.40" y2="167.80" stroke="#333" stroke-width="1"/>
<text x="263.80" y="161.70" font-family="'Liberation Sans', sans-serif" font-size="7" font-weight="normal" text-anchor="middle" fill="#555" textLength="21.69" lengthAdjust="spacingAndGlyphs"><tspan font-style="italic">p</tspan>=0.02</text>
<line x1="313.90" y1="149.30" x2="338.40" y2="149.30" stroke="#333" stroke-width="1.1"/>
<line x1="313.90" y1="147.70" x2="313.90" y2="151.50" stroke="#333" stroke-width="1"/>
<line x1="338.40" y1="147.70" x2="338.40" y2="151.50" stroke="#333" stroke-width="1"/>
<text x="326.50" y="145.30" font-family="'Liberation Sans', sans-serif" font-size="7" font-weight="normal" text-anchor="middle" fill="#555" textLength="21.69" lengthAdjust="spacingAndGlyphs"><tspan font-style="italic">p</tspan>=0.01</text>
<rect x="242.00" y="123.80" width="10.30" height="5.10" fill="#000" />
<text x="261.45" y="128.50" font-family="'Liberation Sans', sans-serif" font-size="7" font-weight="normal" text-anchor="middle" fill="#333" textLength="9.79" lengthAdjust="spacingAndGlyphs">NC</text>
<rect x="285.20" y="125.10" width="10.70" height="5.30" fill="#666" />
<text x="322.70" y="129.90" font-family="'Liberation Sans', sans-serif" font-size="7" font-weight="normal" text-anchor="middle" fill="#333" textLength="45.69" lengthAdjust="spacingAndGlyphs">ASO miR-199b</text>
<text x="264.20" y="233.50" font-family="'Liberation Sans', sans-serif" font-size="6.2" font-weight="bold" text-anchor="middle" fill="#222" stroke="#222" stroke-width="0.22" textLength="18.43" lengthAdjust="spacingAndGlyphs">H1975</text>
<text x="327.10" y="233.50" font-family="'Liberation Sans', sans-serif" font-size="6.2" font-weight="bold" text-anchor="middle" fill="#222" stroke="#222" stroke-width="0.22" textLength="15.23" lengthAdjust="spacingAndGlyphs">H522</text>
<text x="217.30" y="179.85" font-family="'Liberation Sans', sans-serif" font-size="6.9" font-weight="bold" text-anchor="middle" fill="#222" stroke="#222" stroke-width="0.22" textLength="69.98" lengthAdjust="spacingAndGlyphs" transform="rotate(-90 217.30 179.85)">Colony numbers/well</text>
<text x="449.20" y="22.00" font-family="'Liberation Sans', sans-serif" font-size="10.5" font-weight="bold" text-anchor="middle" fill="#111" textLength="14.54" lengthAdjust="spacingAndGlyphs">NC</text>
<text x="506.80" y="7.60" font-family="'Liberation Sans', sans-serif" font-size="10.5" font-weight="bold" text-anchor="middle" fill="#111" textLength="21.73" lengthAdjust="spacingAndGlyphs">ASO</text>
<text x="506.80" y="22.00" font-family="'Liberation Sans', sans-serif" font-size="10.5" font-weight="bold" text-anchor="middle" fill="#111" textLength="48.13" lengthAdjust="spacingAndGlyphs">miR-199b</text>
<text x="412.30" y="52.35" font-family="'Liberation Sans', sans-serif" font-size="10.5" font-weight="bold" text-anchor="middle" fill="#111" textLength="32.23" lengthAdjust="spacingAndGlyphs" transform="rotate(-90 412.30 52.35)">H1975</text>
<text x="412.30" y="97.75" font-family="'Liberation Sans', sans-serif" font-size="10.5" font-weight="bold" text-anchor="middle" fill="#111" textLength="25.64" lengthAdjust="spacingAndGlyphs" transform="rotate(-90 412.30 97.75)">H522</text>
<g clip-path="url(#i1)">
<rect x="421.40" y="31.60" width="51.80" height="40.00" fill="#999a93" />
<circle cx="444.83" cy="53.99" r="9.62" fill="#94958e" opacity="0.5" filter="url(#bl3)"/>
<circle cx="444.80" cy="65.80" r="5.95" fill="#94958e" opacity="0.5" filter="url(#bl3)"/>
<circle cx="454.03" cy="63.32" r="5.47" fill="#94958e" opacity="0.5" filter="url(#bl3)"/>
<circle cx="428.74" cy="53.15" r="9.45" fill="#a4a59e" opacity="0.5" filter="url(#bl3)"/>
<circle cx="452.24" cy="47.45" r="7.26" fill="#a4a59e" opacity="0.5" filter="url(#bl3)"/>
<circle cx="453.68" cy="64.87" r="5.32" fill="#a4a59e" opacity="0.5" filter="url(#bl3)"/>
<circle cx="431.25" cy="41.28" r="5.15" fill="#94958e" opacity="0.5" filter="url(#bl3)"/>
<circle cx="438.30" cy="55.24" r="5.98" fill="#a4a59e" opacity="0.5" filter="url(#bl3)"/>
<ellipse cx="442.9" cy="38.6" rx="1.00" ry="0.68" fill="#8548b4" opacity="0.85"/>
<ellipse cx="443.2" cy="47.3" rx="1.20" ry="0.84" fill="#8548b4" opacity="0.85"/>
<ellipse cx="444.2" cy="38.7" rx="0.74" ry="0.62" fill="#8548b4" opacity="0.85"/>
<ellipse cx="448.4" cy="41.9" rx="0.84" ry="0.84" fill="#8548b4" opacity="0.85"/>
<ellipse cx="440.1" cy="43.7" rx="1.11" ry="0.50" fill="#8548b4" opacity="0.85"/>
<ellipse cx="446.0" cy="44.7" rx="0.88" ry="0.89" fill="#8548b4" opacity="0.85"/>
<ellipse cx="444.0" cy="40.9" rx="0.98" ry="0.81" fill="#8548b4" opacity="0.85"/>
<ellipse cx="444.6" cy="41.2" rx="0.80" ry="0.89" fill="#8548b4" opacity="0.85"/>
<ellipse cx="430.8" cy="60.6" rx="0.75" ry="0.54" fill="#8548b4" opacity="0.85"/>
<ellipse cx="434.7" cy="62.9" rx="0.71" ry="0.72" fill="#8548b4" opacity="0.85"/>
<ellipse cx="429.2" cy="62.0" rx="1.04" ry="0.55" fill="#8548b4" opacity="0.85"/>
<ellipse cx="430.0" cy="60.8" rx="0.85" ry="0.59" fill="#8548b4" opacity="0.85"/>
<ellipse cx="429.9" cy="66.9" rx="1.08" ry="0.62" fill="#8548b4" opacity="0.85"/>
<ellipse cx="432.0" cy="60.7" rx="0.84" ry="0.84" fill="#8548b4" opacity="0.85"/>
<ellipse cx="430.0" cy="60.9" rx="1.19" ry="0.59" fill="#8548b4" opacity="0.85"/>
<ellipse cx="430.5" cy="65.0" rx="0.80" ry="0.62" fill="#8548b4" opacity="0.85"/>
<ellipse cx="431.7" cy="62.0" rx="0.95" ry="0.60" fill="#8548b4" opacity="0.85"/>
<ellipse cx="453.7" cy="42.5" rx="0.87" ry="0.88" fill="#8548b4" opacity="0.85"/>
<ellipse cx="452.5" cy="43.9" rx="1.12" ry="0.57" fill="#8548b4" opacity="0.85"/>
<ellipse cx="458.6" cy="47.2" rx="1.09" ry="0.60" fill="#8548b4" opacity="0.85"/>
<ellipse cx="457.0" cy="46.6" rx="1.16" ry="0.58" fill="#8548b4" opacity="0.85"/>
<ellipse cx="460.3" cy="42.3" rx="0.96" ry="0.67" fill="#8548b4" opacity="0.85"/>
<ellipse cx="424.5" cy="35.1" rx="1.18" ry="0.60" fill="#8548b4" opacity="0.85"/>
<ellipse cx="423.5" cy="33.3" rx="1.09" ry="0.74" fill="#8548b4" opacity="0.85"/>
<ellipse cx="423.6" cy="36.0" rx="1.03" ry="0.53" fill="#8548b4" opacity="0.85"/>
<ellipse cx="424.4" cy="37.3" rx="1.11" ry="0.75" fill="#8548b4" opacity="0.85"/>
<ellipse cx="470.6" cy="40.0" rx="0.72" ry="0.51" fill="#8548b4" opacity="0.85"/>
<ellipse cx="471.3" cy="37.8" rx="0.64" ry="0.57" fill="#8548b4" opacity="0.85"/>
<ellipse cx="469.5" cy="37.5" rx="0.68" ry="0.64" fill="#8548b4" opacity="0.85"/>
<ellipse cx="476.9" cy="32.0" rx="0.99" ry="0.78" fill="#8548b4" opacity="0.85"/>
<ellipse cx="470.5" cy="35.0" rx="0.62" ry="0.51" fill="#8548b4" opacity="0.85"/>
<ellipse cx="440.1" cy="67.9" rx="1.18" ry="0.51" fill="#8548b4" opacity="0.85"/>
<ellipse cx="435.1" cy="67.9" rx="1.04" ry="0.63" fill="#8548b4" opacity="0.85"/>
<ellipse cx="437.9" cy="69.6" rx="0.93" ry="0.79" fill="#8548b4" opacity="0.85"/>
<ellipse cx="440.1" cy="67.7" rx="1.02" ry="0.82" fill="#8548b4" opacity="0.85"/>
<ellipse cx="445.1" cy="68.7" rx="1.01" ry="0.86" fill="#8548b4" opacity="0.85"/>
<ellipse cx="444.9" cy="68.1" rx="1.07" ry="0.85" fill="#8548b4" opacity="0.85"/>
<ellipse cx="440.1" cy="68.4" rx="0.83" ry="0.73" fill="#8548b4" opacity="0.85"/>
<ellipse cx="464.7" cy="47.1" rx="0.98" ry="0.90" fill="#8548b4" opacity="0.85"/>
<ellipse cx="468.3" cy="45.4" rx="0.83" ry="0.79" fill="#8548b4" opacity="0.85"/>
<ellipse cx="463.2" cy="46.6" rx="1.10" ry="0.53" fill="#8548b4" opacity="0.85"/>
<ellipse cx="449.9" cy="35.9" rx="0.96" ry="0.69" fill="#8548b4" opacity="0.85"/>
<ellipse cx="450.4" cy="39.5" rx="0.90" ry="0.75" fill="#8548b4" opacity="0.85"/>
<ellipse cx="451.5" cy="35.7" rx="0.61" ry="0.62" fill="#8548b4" opacity="0.85"/>
<circle cx="456.53" cy="39.70" r="0.47" fill="#8548b4" opacity="0.6"/>
<circle cx="468.32" cy="58.00" r="0.58" fill="#8548b4" opacity="0.6"/>
<circle cx="467.59" cy="44.68" r="0.67" fill="#8548b4" opacity="0.6"/>
<circle cx="431.68" cy="48.84" r="0.72" fill="#8548b4" opacity="0.6"/>
<circle cx="468.76" cy="66.81" r="0.55" fill="#8548b4" opacity="0.6"/>
<circle cx="451.60" cy="44.26" r="0.45" fill="#8548b4" opacity="0.6"/>
<circle cx="447.12" cy="65.08" r="0.74" fill="#8548b4" opacity="0.6"/>
<circle cx="458.24" cy="69.60" r="0.51" fill="#8548b4" opacity="0.6"/>
<circle cx="430.16" cy="49.63" r="0.51" fill="#8548b4" opacity="0.6"/>
<circle cx="432.49" cy="48.16" r="0.65" fill="#8548b4" opacity="0.6"/>
<circle cx="446.98" cy="44.21" r="0.74" fill="#8548b4" opacity="0.6"/>
<circle cx="472.27" cy="49.70" r="0.43" fill="#8548b4" opacity="0.6"/>
<circle cx="423.03" cy="66.51" r="0.42" fill="#8548b4" opacity="0.6"/>
<circle cx="458.11" cy="54.42" r="0.52" fill="#8548b4" opacity="0.6"/>
</g>
<rect x="421.40" y="31.60" width="51.80" height="40.00" fill="none" stroke="#1e1e1e" stroke-width="1.3"/>
<g clip-path="url(#i2)">
<rect x="479.00" y="31.60" width="52.00" height="40.00" fill="#9b9c95" />
<circle cx="503.68" cy="57.90" r="8.33" fill="#a4a59e" opacity="0.5" filter="url(#bl3)"/>
<circle cx="498.85" cy="71.46" r="7.41" fill="#94958e" opacity="0.5" filter="url(#bl3)"/>
<circle cx="514.91" cy="55.66" r="7.79" fill="#a4a59e" opacity="0.5" filter="url(#bl3)"/>
<circle cx="529.86" cy="46.31" r="6.70" fill="#a4a59e" opacity="0.5" filter="url(#bl3)"/>
<circle cx="482.06" cy="64.35" r="5.37" fill="#94958e" opacity="0.5" filter="url(#bl3)"/>
<circle cx="514.43" cy="63.52" r="5.44" fill="#a4a59e" opacity="0.5" filter="url(#bl3)"/>
<circle cx="521.62" cy="58.08" r="6.12" fill="#94958e" opacity="0.5" filter="url(#bl3)"/>
<circle cx="528.23" cy="36.10" r="7.12" fill="#a4a59e" opacity="0.5" filter="url(#bl3)"/>
<ellipse cx="500.2" cy="38.6" rx="0.93" ry="0.89" fill="#8548b4" opacity="0.85"/>
<ellipse cx="507.3" cy="37.9" rx="0.90" ry="0.53" fill="#8548b4" opacity="0.85"/>
<ellipse cx="502.2" cy="37.7" rx="0.88" ry="0.74" fill="#8548b4" opacity="0.85"/>
<ellipse cx="501.7" cy="38.9" rx="0.65" ry="0.58" fill="#8548b4" opacity="0.85"/>
<ellipse cx="505.4" cy="38.1" rx="1.16" ry="0.85" fill="#8548b4" opacity="0.85"/>
<ellipse cx="503.4" cy="40.7" rx="0.75" ry="0.63" fill="#8548b4" opacity="0.85"/>
<ellipse cx="502.8" cy="41.5" rx="1.06" ry="0.57" fill="#8548b4" opacity="0.85"/>
<ellipse cx="501.5" cy="42.3" rx="0.62" ry="0.51" fill="#8548b4" opacity="0.85"/>
<ellipse cx="504.7" cy="39.1" rx="0.72" ry="0.74" fill="#8548b4" opacity="0.85"/>
<ellipse cx="505.0" cy="38.2" rx="0.65" ry="0.61" fill="#8548b4" opacity="0.85"/>
<ellipse cx="502.4" cy="40.6" rx="0.96" ry="0.79" fill="#8548b4" opacity="0.85"/>
<ellipse cx="502.7" cy="39.4" rx="0.80" ry="0.68" fill="#8548b4" opacity="0.85"/>
<ellipse cx="506.1" cy="53.9" rx="0.74" ry="0.90" fill="#8548b4" opacity="0.85"/>
<ellipse cx="504.6" cy="58.2" rx="0.71" ry="0.81" fill="#8548b4" opacity="0.85"/>
<ellipse cx="508.2" cy="60.3" rx="1.17" ry="0.87" fill="#8548b4" opacity="0.85"/>
<ellipse cx="508.1" cy="56.4" rx="1.08" ry="0.70" fill="#8548b4" opacity="0.85"/>
<ellipse cx="507.6" cy="58.6" rx="0.82" ry="0.72" fill="#8548b4" opacity="0.85"/>
<ellipse cx="510.7" cy="61.4" rx="1.13" ry="0.77" fill="#8548b4" opacity="0.85"/>
<ellipse cx="507.4" cy="58.6" rx="1.07" ry="0.70" fill="#8548b4" opacity="0.85"/>
<ellipse cx="505.4" cy="57.7" rx="1.01" ry="0.68" fill="#8548b4" opacity="0.85"/>
<ellipse cx="507.4" cy="55.4" rx="0.97" ry="0.52" fill="#8548b4" opacity="0.85"/>
<ellipse cx="505.3" cy="61.1" rx="0.98" ry="0.68" fill="#8548b4" opacity="0.85"/>
<ellipse cx="508.6" cy="54.5" rx="0.91" ry="0.51" fill="#8548b4" opacity="0.85"/>
<ellipse cx="508.2" cy="57.6" rx="0.93" ry="0.61" fill="#8548b4" opacity="0.85"/>
<ellipse cx="517.5" cy="62.6" rx="0.88" ry="0.52" fill="#8548b4" opacity="0.85"/>
<ellipse cx="513.0" cy="60.2" rx="1.16" ry="0.60" fill="#8548b4" opacity="0.85"/>
<ellipse cx="518.9" cy="62.1" rx="0.66" ry="0.66" fill="#8548b4" opacity="0.85"/>
<ellipse cx="517.4" cy="64.0" rx="1.19" ry="0.76" fill="#8548b4" opacity="0.85"/>
<ellipse cx="515.4" cy="62.4" rx="1.01" ry="0.56" fill="#8548b4" opacity="0.85"/>
<ellipse cx="517.1" cy="61.7" rx="0.64" ry="0.67" fill="#8548b4" opacity="0.85"/>
<ellipse cx="518.1" cy="66.0" rx="1.08" ry="0.78" fill="#8548b4" opacity="0.85"/>
<ellipse cx="492.7" cy="53.1" rx="1.08" ry="0.77" fill="#8548b4" opacity="0.85"/>
<ellipse cx="488.7" cy="51.7" rx="0.73" ry="0.74" fill="#8548b4" opacity="0.85"/>
<ellipse cx="490.6" cy="49.2" rx="0.64" ry="0.64" fill="#8548b4" opacity="0.85"/>
<ellipse cx="493.9" cy="52.5" rx="1.01" ry="0.79" fill="#8548b4" opacity="0.85"/>
<ellipse cx="491.4" cy="52.8" rx="1.01" ry="0.75" fill="#8548b4" opacity="0.85"/>
<ellipse cx="523.4" cy="46.1" rx="0.73" ry="0.75" fill="#8548b4" opacity="0.85"/>
<ellipse cx="523.9" cy="45.7" rx="0.96" ry="0.68" fill="#8548b4" opacity="0.85"/>
<ellipse cx="525.6" cy="45.0" rx="0.73" ry="0.89" fill="#8548b4" opacity="0.85"/>
<ellipse cx="521.6" cy="48.5" rx="1.01" ry="0.62" fill="#8548b4" opacity="0.85"/>
<ellipse cx="480.3" cy="63.5" rx="1.14" ry="0.63" fill="#8548b4" opacity="0.85"/>
<ellipse cx="479.2" cy="63.6" rx="0.90" ry="0.78" fill="#8548b4" opacity="0.85"/>
<ellipse cx="477.5" cy="64.5" rx="0.63" ry="0.81" fill="#8548b4" opacity="0.85"/>
<ellipse cx="478.5" cy="65.3" rx="1.08" ry="0.71" fill="#8548b4" opacity="0.85"/>
<ellipse cx="501.7" cy="65.8" rx="0.66" ry="0.73" fill="#8548b4" opacity="0.85"/>
<ellipse cx="500.9" cy="68.7" rx="0.61" ry="0.81" fill="#8548b4" opacity="0.85"/>
<ellipse cx="505.1" cy="63.9" rx="0.70" ry="0.69" fill="#8548b4" opacity="0.85"/>
<ellipse cx="502.8" cy="64.6" rx="0.90" ry="0.67" fill="#8548b4" opacity="0.85"/>
<ellipse cx="511.2" cy="49.1" rx="0.98" ry="0.61" fill="#8548b4" opacity="0.85"/>
<ellipse cx="514.4" cy="44.3" rx="0.96" ry="0.56" fill="#8548b4" opacity="0.85"/>
<ellipse cx="512.8" cy="48.1" rx="0.99" ry="0.82" fill="#8548b4" opacity="0.85"/>
<ellipse cx="511.0" cy="49.1" rx="1.00" ry="0.64" fill="#8548b4" opacity="0.85"/>
<ellipse cx="526.1" cy="61.3" rx="1.16" ry="0.83" fill="#8548b4" opacity="0.85"/>
<ellipse cx="527.5" cy="66.8" rx="1.10" ry="0.54" fill="#8548b4" opacity="0.85"/>
<ellipse cx="525.2" cy="67.8" rx="1.12" ry="0.76" fill="#8548b4" opacity="0.85"/>
<ellipse cx="494.4" cy="36.4" rx="1.19" ry="0.87" fill="#8548b4" opacity="0.85"/>
<ellipse cx="495.2" cy="35.7" rx="0.79" ry="0.85" fill="#8548b4" opacity="0.85"/>
<ellipse cx="494.6" cy="35.6" rx="0.93" ry="0.52" fill="#8548b4" opacity="0.85"/>
<circle cx="521.14" cy="39.42" r="0.48" fill="#8548b4" opacity="0.6"/>
<circle cx="521.05" cy="68.68" r="0.79" fill="#8548b4" opacity="0.6"/>
<circle cx="519.22" cy="53.45" r="0.41" fill="#8548b4" opacity="0.6"/>
<circle cx="526.36" cy="46.18" r="0.60" fill="#8548b4" opacity="0.6"/>
<circle cx="489.41" cy="35.53" r="0.40" fill="#8548b4" opacity="0.6"/>
<circle cx="485.58" cy="47.31" r="0.59" fill="#8548b4" opacity="0.6"/>
<circle cx="494.26" cy="45.84" r="0.74" fill="#8548b4" opacity="0.6"/>
<circle cx="523.35" cy="67.31" r="0.41" fill="#8548b4" opacity="0.6"/>
<circle cx="522.94" cy="32.42" r="0.46" fill="#8548b4" opacity="0.6"/>
<circle cx="518.37" cy="46.26" r="0.44" fill="#8548b4" opacity="0.6"/>
<circle cx="522.85" cy="63.45" r="0.62" fill="#8548b4" opacity="0.6"/>
<circle cx="529.06" cy="46.60" r="0.43" fill="#8548b4" opacity="0.6"/>
<circle cx="526.68" cy="45.54" r="0.49" fill="#8548b4" opacity="0.6"/>
<circle cx="501.00" cy="63.83" r="0.73" fill="#8548b4" opacity="0.6"/>
</g>
<rect x="479.00" y="31.60" width="52.00" height="40.00" fill="none" stroke="#1e1e1e" stroke-width="1.3"/>
<g clip-path="url(#i3)">
<rect x="421.40" y="76.70" width="51.80" height="40.00" fill="#a8a9a0" />
<circle cx="434.82" cy="104.11" r="8.42" fill="#a4a59e" opacity="0.5" filter="url(#bl3)"/>
<circle cx="455.17" cy="103.35" r="9.35" fill="#a4a59e" opacity="0.5" filter="url(#bl3)"/>
<circle cx="428.15" cy="97.95" r="6.07" fill="#94958e" opacity="0.5" filter="url(#bl3)"/>
<circle cx="422.95" cy="81.75" r="8.42" fill="#a4a59e" opacity="0.5" filter="url(#bl3)"/>
<circle cx="472.84" cy="110.08" r="5.42" fill="#94958e" opacity="0.5" filter="url(#bl3)"/>
<circle cx="464.21" cy="106.49" r="9.75" fill="#94958e" opacity="0.5" filter="url(#bl3)"/>
<circle cx="439.83" cy="86.06" r="9.49" fill="#94958e" opacity="0.5" filter="url(#bl3)"/>
<circle cx="456.14" cy="112.25" r="8.19" fill="#a4a59e" opacity="0.5" filter="url(#bl3)"/>
<circle cx="439.32" cy="100.49" r="0.78" fill="#e6e6de" opacity="0.6"/>
<circle cx="435.02" cy="94.64" r="0.77" fill="#e6e6de" opacity="0.6"/>
<circle cx="472.53" cy="94.32" r="0.84" fill="#e6e6de" opacity="0.6"/>
<circle cx="449.16" cy="88.43" r="0.51" fill="#e6e6de" opacity="0.6"/>
<circle cx="439.85" cy="91.54" r="0.56" fill="#e6e6de" opacity="0.6"/>
<circle cx="435.91" cy="112.27" r="0.75" fill="#e6e6de" opacity="0.6"/>
<circle cx="449.89" cy="99.31" r="0.93" fill="#e6e6de" opacity="0.6"/>
<circle cx="457.74" cy="81.94" r="0.66" fill="#e6e6de" opacity="0.6"/>
<circle cx="453.99" cy="95.25" r="0.40" fill="#e6e6de" opacity="0.6"/>
<circle cx="443.38" cy="111.40" r="0.53" fill="#e6e6de" opacity="0.6"/>
<circle cx="447.20" cy="104.63" r="0.67" fill="#e6e6de" opacity="0.6"/>
<circle cx="434.54" cy="106.03" r="0.84" fill="#e6e6de" opacity="0.6"/>
<circle cx="434.42" cy="107.10" r="0.61" fill="#e6e6de" opacity="0.6"/>
<circle cx="457.94" cy="101.92" r="0.71" fill="#e6e6de" opacity="0.6"/>
<circle cx="455.43" cy="112.76" r="0.82" fill="#e6e6de" opacity="0.6"/>
<circle cx="433.71" cy="96.55" r="0.92" fill="#e6e6de" opacity="0.6"/>
<circle cx="423.60" cy="104.77" r="0.42" fill="#e6e6de" opacity="0.6"/>
<circle cx="451.60" cy="99.50" r="0.51" fill="#e6e6de" opacity="0.6"/>
<circle cx="431.39" cy="108.20" r="0.73" fill="#e6e6de" opacity="0.6"/>
<circle cx="468.05" cy="83.39" r="0.66" fill="#e6e6de" opacity="0.6"/>
<circle cx="452.23" cy="108.98" r="0.82" fill="#e6e6de" opacity="0.6"/>
<circle cx="471.70" cy="109.71" r="0.79" fill="#e6e6de" opacity="0.6"/>
<circle cx="448.68" cy="81.76" r="0.59" fill="#e6e6de" opacity="0.6"/>
<circle cx="442.54" cy="112.97" r="0.74" fill="#e6e6de" opacity="0.6"/>
<circle cx="457.61" cy="114.24" r="0.71" fill="#e6e6de" opacity="0.6"/>
<circle cx="465.51" cy="78.13" r="0.59" fill="#e6e6de" opacity="0.6"/>
<circle cx="429.43" cy="99.09" r="0.72" fill="#e6e6de" opacity="0.6"/>
<circle cx="464.10" cy="85.62" r="0.52" fill="#e6e6de" opacity="0.6"/>
<circle cx="462.78" cy="91.75" r="0.83" fill="#e6e6de" opacity="0.6"/>
<circle cx="429.54" cy="82.55" r="0.66" fill="#e6e6de" opacity="0.6"/>
<circle cx="464.09" cy="85.31" r="0.65" fill="#e6e6de" opacity="0.6"/>
<circle cx="433.61" cy="107.62" r="0.76" fill="#e6e6de" opacity="0.6"/>
<circle cx="443.56" cy="102.33" r="0.66" fill="#e6e6de" opacity="0.6"/>
<circle cx="437.82" cy="95.13" r="0.44" fill="#e6e6de" opacity="0.6"/>
<circle cx="423.76" cy="113.55" r="0.79" fill="#e6e6de" opacity="0.6"/>
<circle cx="437.27" cy="94.68" r="0.99" fill="#e6e6de" opacity="0.6"/>
<circle cx="441.59" cy="79.15" r="0.72" fill="#e6e6de" opacity="0.6"/>
<circle cx="470.69" cy="82.63" r="0.43" fill="#e6e6de" opacity="0.6"/>
<circle cx="440.49" cy="82.95" r="0.58" fill="#e6e6de" opacity="0.6"/>
<circle cx="452.65" cy="88.34" r="0.61" fill="#e6e6de" opacity="0.6"/>
<circle cx="426.56" cy="96.34" r="0.75" fill="#e6e6de" opacity="0.6"/>
<circle cx="451.61" cy="94.07" r="0.61" fill="#e6e6de" opacity="0.6"/>
<circle cx="436.71" cy="115.40" r="0.43" fill="#e6e6de" opacity="0.6"/>
<circle cx="430.03" cy="112.19" r="0.84" fill="#e6e6de" opacity="0.6"/>
<circle cx="468.14" cy="112.48" r="0.95" fill="#e6e6de" opacity="0.6"/>
<circle cx="456.71" cy="80.29" r="0.96" fill="#e6e6de" opacity="0.6"/>
<circle cx="425.05" cy="87.26" r="0.89" fill="#e6e6de" opacity="0.6"/>
<circle cx="423.83" cy="86.21" r="0.90" fill="#e6e6de" opacity="0.6"/>
<circle cx="433.77" cy="108.15" r="0.86" fill="#e6e6de" opacity="0.6"/>
<circle cx="431.50" cy="92.42" r="0.43" fill="#e6e6de" opacity="0.6"/>
<circle cx="449.74" cy="78.78" r="0.77" fill="#e6e6de" opacity="0.6"/>
<circle cx="470.23" cy="107.10" r="0.62" fill="#e6e6de" opacity="0.6"/>
<circle cx="441.94" cy="82.66" r="0.73" fill="#e6e6de" opacity="0.6"/>
<circle cx="434.91" cy="91.61" r="0.96" fill="#e6e6de" opacity="0.6"/>
<circle cx="430.05" cy="77.32" r="0.71" fill="#e6e6de" opacity="0.6"/>
<circle cx="435.45" cy="80.34" r="0.60" fill="#e6e6de" opacity="0.6"/>
<circle cx="453.90" cy="83.12" r="0.99" fill="#e6e6de" opacity="0.6"/>
<circle cx="456.33" cy="104.73" r="0.95" fill="#e6e6de" opacity="0.6"/>
<circle cx="423.51" cy="80.49" r="0.64" fill="#e6e6de" opacity="0.6"/>
<circle cx="441.48" cy="92.30" r="0.49" fill="#e6e6de" opacity="0.6"/>
<circle cx="429.14" cy="88.74" r="0.72" fill="#e6e6de" opacity="0.6"/>
<circle cx="448.97" cy="87.75" r="0.54" fill="#e6e6de" opacity="0.6"/>
<circle cx="472.80" cy="114.86" r="0.97" fill="#e6e6de" opacity="0.6"/>
<circle cx="440.82" cy="82.96" r="0.90" fill="#e6e6de" opacity="0.6"/>
<circle cx="462.89" cy="93.07" r="0.49" fill="#e6e6de" opacity="0.6"/>
<circle cx="451.35" cy="115.02" r="0.68" fill="#e6e6de" opacity="0.6"/>
<circle cx="461.09" cy="105.26" r="0.90" fill="#e6e6de" opacity="0.6"/>
<circle cx="422.91" cy="112.93" r="0.69" fill="#e6e6de" opacity="0.6"/>
<circle cx="447.34" cy="81.71" r="0.40" fill="#e6e6de" opacity="0.6"/>
<circle cx="428.29" cy="79.93" r="0.94" fill="#e6e6de" opacity="0.6"/>
<circle cx="450.99" cy="105.69" r="0.43" fill="#e6e6de" opacity="0.6"/>
<circle cx="457.94" cy="113.15" r="0.81" fill="#e6e6de" opacity="0.6"/>
<circle cx="422.80" cy="97.97" r="0.87" fill="#e6e6de" opacity="0.6"/>
<circle cx="456.68" cy="88.63" r="0.77" fill="#e6e6de" opacity="0.6"/>
<circle cx="455.09" cy="105.98" r="0.66" fill="#e6e6de" opacity="0.6"/>
<circle cx="460.29" cy="85.73" r="0.41" fill="#e6e6de" opacity="0.6"/>
<circle cx="426.27" cy="89.35" r="0.70" fill="#e6e6de" opacity="0.6"/>
<circle cx="450.99" cy="112.38" r="0.94" fill="#e6e6de" opacity="0.6"/>
<circle cx="455.22" cy="101.03" r="0.71" fill="#e6e6de" opacity="0.6"/>
<circle cx="472.81" cy="86.12" r="0.71" fill="#e6e6de" opacity="0.6"/>
<circle cx="422.06" cy="91.46" r="0.49" fill="#e6e6de" opacity="0.6"/>
<circle cx="445.58" cy="90.80" r="0.48" fill="#e6e6de" opacity="0.6"/>
<circle cx="439.26" cy="85.76" r="0.57" fill="#e6e6de" opacity="0.6"/>
<circle cx="426.21" cy="105.21" r="0.48" fill="#e6e6de" opacity="0.6"/>
<circle cx="430.64" cy="80.88" r="0.73" fill="#e6e6de" opacity="0.6"/>
<circle cx="428.74" cy="106.11" r="0.42" fill="#e6e6de" opacity="0.6"/>
<circle cx="445.33" cy="90.95" r="0.75" fill="#e6e6de" opacity="0.6"/>
<circle cx="450.98" cy="108.89" r="0.71" fill="#e6e6de" opacity="0.6"/>
<circle cx="424.89" cy="111.06" r="0.72" fill="#e6e6de" opacity="0.6"/>
<circle cx="435.93" cy="91.88" r="0.47" fill="#e6e6de" opacity="0.6"/>
<circle cx="432.05" cy="89.79" r="0.75" fill="#e6e6de" opacity="0.6"/>
<circle cx="461.07" cy="113.97" r="0.58" fill="#e6e6de" opacity="0.6"/>
<circle cx="469.47" cy="77.75" r="0.83" fill="#e6e6de" opacity="0.6"/>
<circle cx="441.58" cy="95.96" r="0.94" fill="#e6e6de" opacity="0.6"/>
<circle cx="424.56" cy="86.72" r="0.40" fill="#e6e6de" opacity="0.6"/>
<circle cx="448.98" cy="116.31" r="0.90" fill="#e6e6de" opacity="0.6"/>
<circle cx="448.90" cy="93.96" r="0.74" fill="#e6e6de" opacity="0.6"/>
<circle cx="421.98" cy="101.86" r="0.93" fill="#e6e6de" opacity="0.6"/>
<circle cx="460.23" cy="102.94" r="0.97" fill="#e6e6de" opacity="0.6"/>
<circle cx="450.13" cy="101.82" r="0.59" fill="#e6e6de" opacity="0.6"/>
<circle cx="472.77" cy="83.10" r="0.51" fill="#e6e6de" opacity="0.6"/>
<circle cx="424.28" cy="94.20" r="0.99" fill="#e6e6de" opacity="0.6"/>
<circle cx="430.63" cy="107.49" r="0.65" fill="#e6e6de" opacity="0.6"/>
<circle cx="425.58" cy="96.18" r="0.71" fill="#e6e6de" opacity="0.6"/>
<circle cx="427.17" cy="90.65" r="0.43" fill="#e6e6de" opacity="0.6"/>
<circle cx="463.89" cy="107.85" r="0.85" fill="#e6e6de" opacity="0.6"/>
<circle cx="426.14" cy="107.72" r="0.58" fill="#e6e6de" opacity="0.6"/>
<circle cx="436.81" cy="87.19" r="0.88" fill="#e6e6de" opacity="0.6"/>
<circle cx="458.45" cy="93.41" r="0.57" fill="#e6e6de" opacity="0.6"/>
<circle cx="459.90" cy="85.17" r="0.90" fill="#e6e6de" opacity="0.6"/>
<circle cx="425.78" cy="78.58" r="0.36" fill="#6c6c60" opacity="0.45"/>
<circle cx="460.38" cy="82.68" r="0.80" fill="#6c6c60" opacity="0.45"/>
<circle cx="453.75" cy="80.71" r="0.55" fill="#6c6c60" opacity="0.45"/>
<circle cx="452.42" cy="78.54" r="0.75" fill="#6c6c60" opacity="0.45"/>
<circle cx="449.63" cy="82.17" r="0.54" fill="#6c6c60" opacity="0.45"/>
<circle cx="446.17" cy="110.35" r="0.36" fill="#6c6c60" opacity="0.45"/>
<circle cx="458.31" cy="96.30" r="0.65" fill="#6c6c60" opacity="0.45"/>
<circle cx="461.25" cy="110.93" r="0.43" fill="#6c6c60" opacity="0.45"/>
<circle cx="422.19" cy="113.51" r="0.65" fill="#6c6c60" opacity="0.45"/>
<circle cx="454.14" cy="82.31" r="0.47" fill="#6c6c60" opacity="0.45"/>
<circle cx="443.60" cy="94.15" r="0.48" fill="#6c6c60" opacity="0.45"/>
<circle cx="438.41" cy="90.66" r="0.40" fill="#6c6c60" opacity="0.45"/>
<circle cx="429.06" cy="83.10" r="0.38" fill="#6c6c60" opacity="0.45"/>
<circle cx="443.54" cy="78.97" r="0.78" fill="#6c6c60" opacity="0.45"/>
<circle cx="443.79" cy="81.63" r="0.51" fill="#6c6c60" opacity="0.45"/>
<circle cx="432.19" cy="82.87" r="0.77" fill="#6c6c60" opacity="0.45"/>
<circle cx="462.82" cy="92.62" r="0.50" fill="#6c6c60" opacity="0.45"/>
<circle cx="468.63" cy="92.71" r="0.34" fill="#6c6c60" opacity="0.45"/>
<circle cx="433.95" cy="83.44" r="0.78" fill="#6c6c60" opacity="0.45"/>
<circle cx="460.31" cy="78.67" r="0.53" fill="#6c6c60" opacity="0.45"/>
<circle cx="426.73" cy="110.80" r="0.56" fill="#6c6c60" opacity="0.45"/>
<circle cx="444.83" cy="82.42" r="0.69" fill="#6c6c60" opacity="0.45"/>
<circle cx="423.65" cy="105.61" r="0.31" fill="#6c6c60" opacity="0.45"/>
<circle cx="471.76" cy="78.49" r="0.44" fill="#6c6c60" opacity="0.45"/>
<circle cx="443.39" cy="107.69" r="0.40" fill="#6c6c60" opacity="0.45"/>
<circle cx="468.45" cy="92.71" r="0.61" fill="#6c6c60" opacity="0.45"/>
<circle cx="444.18" cy="84.94" r="0.68" fill="#6c6c60" opacity="0.45"/>
<circle cx="441.77" cy="92.33" r="0.41" fill="#6c6c60" opacity="0.45"/>
<circle cx="455.71" cy="84.35" r="0.74" fill="#6c6c60" opacity="0.45"/>
<circle cx="432.00" cy="78.18" r="0.31" fill="#6c6c60" opacity="0.45"/>
<circle cx="448.58" cy="104.11" r="0.50" fill="#6c6c60" opacity="0.45"/>
<circle cx="468.85" cy="96.88" r="0.73" fill="#6c6c60" opacity="0.45"/>
<circle cx="444.88" cy="96.39" r="0.54" fill="#6c6c60" opacity="0.45"/>
<circle cx="453.97" cy="79.96" r="0.57" fill="#6c6c60" opacity="0.45"/>
<circle cx="457.12" cy="77.23" r="0.66" fill="#6c6c60" opacity="0.45"/>
<circle cx="446.74" cy="83.79" r="0.66" fill="#6c6c60" opacity="0.45"/>
<circle cx="422.82" cy="104.77" r="0.58" fill="#6c6c60" opacity="0.45"/>
<circle cx="431.94" cy="95.91" r="0.51" fill="#6c6c60" opacity="0.45"/>
<circle cx="423.56" cy="87.78" r="0.70" fill="#6c6c60" opacity="0.45"/>
<circle cx="448.64" cy="82.64" r="0.38" fill="#6c6c60" opacity="0.45"/>
<circle cx="464.09" cy="115.62" r="0.39" fill="#6c6c60" opacity="0.45"/>
<circle cx="424.85" cy="83.46" r="0.54" fill="#6c6c60" opacity="0.45"/>
<circle cx="431.45" cy="116.43" r="0.30" fill="#6c6c60" opacity="0.45"/>
<circle cx="458.55" cy="79.42" r="0.69" fill="#6c6c60" opacity="0.45"/>
<circle cx="424.75" cy="100.51" r="0.49" fill="#6c6c60" opacity="0.45"/>
<circle cx="457.52" cy="84.38" r="0.76" fill="#6c6c60" opacity="0.45"/>
<circle cx="459.32" cy="91.97" r="0.40" fill="#6c6c60" opacity="0.45"/>
<circle cx="473.15" cy="94.74" r="0.70" fill="#6c6c60" opacity="0.45"/>
<circle cx="438.41" cy="94.62" r="0.60" fill="#6c6c60" opacity="0.45"/>
<circle cx="461.15" cy="112.01" r="0.72" fill="#6c6c60" opacity="0.45"/>
<ellipse cx="434.6" cy="86.4" rx="1.02" ry="0.82" fill="#6a58c0" opacity="0.85"/>
<ellipse cx="438.6" cy="86.5" rx="0.86" ry="0.82" fill="#6a58c0" opacity="0.85"/>
<ellipse cx="437.5" cy="89.9" rx="1.07" ry="0.61" fill="#6a58c0" opacity="0.85"/>
<ellipse cx="439.6" cy="88.5" rx="1.06" ry="0.68" fill="#6a58c0" opacity="0.85"/>
<ellipse cx="438.5" cy="85.2" rx="0.71" ry="0.51" fill="#6a58c0" opacity="0.85"/>
<ellipse cx="450.7" cy="93.7" rx="0.94" ry="0.74" fill="#6a58c0" opacity="0.85"/>
<ellipse cx="453.1" cy="97.0" rx="1.14" ry="0.76" fill="#6a58c0" opacity="0.85"/>
<ellipse cx="451.0" cy="98.2" rx="0.80" ry="0.89" fill="#6a58c0" opacity="0.85"/>
<ellipse cx="452.3" cy="98.9" rx="0.66" ry="0.51" fill="#6a58c0" opacity="0.85"/>
<ellipse cx="449.6" cy="99.1" rx="1.11" ry="0.53" fill="#6a58c0" opacity="0.85"/>
<ellipse cx="430.1" cy="100.4" rx="1.06" ry="0.81" fill="#6a58c0" opacity="0.85"/>
<ellipse cx="433.1" cy="100.5" rx="0.89" ry="0.73" fill="#6a58c0" opacity="0.85"/>
<ellipse cx="429.1" cy="100.7" rx="0.91" ry="0.51" fill="#6a58c0" opacity="0.85"/>
<ellipse cx="426.9" cy="99.0" rx="1.18" ry="0.53" fill="#6a58c0" opacity="0.85"/>
<ellipse cx="460.8" cy="91.8" rx="1.14" ry="0.53" fill="#6a58c0" opacity="0.85"/>
<ellipse cx="463.4" cy="92.5" rx="0.67" ry="0.56" fill="#6a58c0" opacity="0.85"/>
<ellipse cx="461.3" cy="91.8" rx="0.90" ry="0.80" fill="#6a58c0" opacity="0.85"/>
<ellipse cx="460.7" cy="87.5" rx="0.90" ry="0.54" fill="#6a58c0" opacity="0.85"/>
<ellipse cx="460.9" cy="90.3" rx="0.65" ry="0.68" fill="#6a58c0" opacity="0.85"/>
<ellipse cx="436.0" cy="110.9" rx="0.63" ry="0.71" fill="#6a58c0" opacity="0.85"/>
<ellipse cx="433.9" cy="111.0" rx="0.98" ry="0.74" fill="#6a58c0" opacity="0.85"/>
<ellipse cx="435.1" cy="109.1" rx="0.78" ry="0.69" fill="#6a58c0" opacity="0.85"/>
<ellipse cx="434.2" cy="108.7" rx="0.62" ry="0.62" fill="#6a58c0" opacity="0.85"/>
<ellipse cx="436.8" cy="107.2" rx="0.60" ry="0.67" fill="#6a58c0" opacity="0.85"/>
<ellipse cx="456.6" cy="108.8" rx="0.82" ry="0.57" fill="#6a58c0" opacity="0.85"/>
<ellipse cx="454.3" cy="113.9" rx="0.83" ry="0.62" fill="#6a58c0" opacity="0.85"/>
<ellipse cx="457.2" cy="108.4" rx="0.61" ry="0.63" fill="#6a58c0" opacity="0.85"/>
<ellipse cx="458.5" cy="112.0" rx="0.77" ry="0.82" fill="#6a58c0" opacity="0.85"/>
<ellipse cx="466.0" cy="103.6" rx="0.91" ry="0.61" fill="#6a58c0" opacity="0.85"/>
<ellipse cx="473.3" cy="105.1" rx="1.05" ry="0.60" fill="#6a58c0" opacity="0.85"/>
<ellipse cx="470.7" cy="103.5" rx="1.04" ry="0.56" fill="#6a58c0" opacity="0.85"/>
<circle cx="442.99" cy="92.45" r="0.73" fill="#6a58c0" opacity="0.6"/>
<circle cx="437.69" cy="86.92" r="0.68" fill="#6a58c0" opacity="0.6"/>
<circle cx="436.08" cy="85.80" r="0.57" fill="#6a58c0" opacity="0.6"/>
<circle cx="446.37" cy="86.52" r="0.43" fill="#6a58c0" opacity="0.6"/>
<circle cx="427.47" cy="85.43" r="0.67" fill="#6a58c0" opacity="0.6"/>
<circle cx="471.64" cy="90.55" r="0.50" fill="#6a58c0" opacity="0.6"/>
<circle cx="452.08" cy="89.46" r="0.43" fill="#6a58c0" opacity="0.6"/>
<circle cx="438.37" cy="93.18" r="0.68" fill="#6a58c0" opacity="0.6"/>
<circle cx="441.47" cy="79.72" r="0.63" fill="#6a58c0" opacity="0.6"/>
<circle cx="447.71" cy="87.16" r="0.71" fill="#6a58c0" opacity="0.6"/>
<circle cx="440.84" cy="98.55" r="0.61" fill="#6a58c0" opacity="0.6"/>
<circle cx="468.52" cy="79.34" r="0.66" fill="#6a58c0" opacity="0.6"/>
<circle cx="458.42" cy="77.22" r="0.53" fill="#6a58c0" opacity="0.6"/>
<circle cx="443.03" cy="112.03" r="0.70" fill="#6a58c0" opacity="0.6"/>
</g>
<rect x="421.40" y="76.70" width="51.80" height="40.00" fill="none" stroke="#1e1e1e" stroke-width="1.3"/>
<g clip-path="url(#i4)">
<rect x="479.00" y="76.70" width="52.00" height="40.00" fill="#a6a79f" />
<circle cx="484.56" cy="104.80" r="8.26" fill="#a4a59e" opacity="0.5" filter="url(#bl3)"/>
<circle cx="493.10" cy="86.93" r="8.67" fill="#94958e" opacity="0.5" filter="url(#bl3)"/>
<circle cx="494.76" cy="104.07" r="6.98" fill="#a4a59e" opacity="0.5" filter="url(#bl3)"/>
<circle cx="492.70" cy="111.53" r="6.58" fill="#94958e" opacity="0.5" filter="url(#bl3)"/>
<circle cx="497.75" cy="102.01" r="7.58" fill="#a4a59e" opacity="0.5" filter="url(#bl3)"/>
<circle cx="507.67" cy="103.26" r="5.82" fill="#a4a59e" opacity="0.5" filter="url(#bl3)"/>
<circle cx="485.40" cy="90.18" r="5.42" fill="#a4a59e" opacity="0.5" filter="url(#bl3)"/>
<circle cx="523.41" cy="91.98" r="7.92" fill="#94958e" opacity="0.5" filter="url(#bl3)"/>
<circle cx="525.61" cy="80.48" r="0.78" fill="#e6e6de" opacity="0.6"/>
<circle cx="525.08" cy="99.85" r="0.78" fill="#e6e6de" opacity="0.6"/>
<circle cx="497.94" cy="111.29" r="0.85" fill="#e6e6de" opacity="0.6"/>
<circle cx="504.30" cy="103.59" r="0.56" fill="#e6e6de" opacity="0.6"/>
<circle cx="511.45" cy="96.09" r="0.57" fill="#e6e6de" opacity="0.6"/>
<circle cx="492.24" cy="81.55" r="1.00" fill="#e6e6de" opacity="0.6"/>
<circle cx="493.49" cy="81.43" r="0.50" fill="#e6e6de" opacity="0.6"/>
<circle cx="500.42" cy="104.15" r="0.75" fill="#e6e6de" opacity="0.6"/>
<circle cx="501.11" cy="115.65" r="0.50" fill="#e6e6de" opacity="0.6"/>
<circle cx="499.11" cy="89.08" r="0.68" fill="#e6e6de" opacity="0.6"/>
<circle cx="500.72" cy="109.77" r="0.55" fill="#e6e6de" opacity="0.6"/>
<circle cx="499.49" cy="94.67" r="0.77" fill="#e6e6de" opacity="0.6"/>
<circle cx="504.43" cy="99.46" r="0.69" fill="#e6e6de" opacity="0.6"/>
<circle cx="492.87" cy="94.36" r="0.90" fill="#e6e6de" opacity="0.6"/>
<circle cx="500.10" cy="116.19" r="0.41" fill="#e6e6de" opacity="0.6"/>
<circle cx="515.91" cy="91.42" r="0.68" fill="#e6e6de" opacity="0.6"/>
<circle cx="497.49" cy="97.90" r="0.43" fill="#e6e6de" opacity="0.6"/>
<circle cx="508.11" cy="108.61" r="0.46" fill="#e6e6de" opacity="0.6"/>
<circle cx="484.09" cy="84.40" r="0.42" fill="#e6e6de" opacity="0.6"/>
<circle cx="479.02" cy="96.97" r="0.71" fill="#e6e6de" opacity="0.6"/>
<circle cx="520.84" cy="116.29" r="0.47" fill="#e6e6de" opacity="0.6"/>
<circle cx="528.74" cy="107.70" r="0.40" fill="#e6e6de" opacity="0.6"/>
<circle cx="492.01" cy="96.73" r="0.51" fill="#e6e6de" opacity="0.6"/>
<circle cx="489.81" cy="103.90" r="0.60" fill="#e6e6de" opacity="0.6"/>
<circle cx="516.51" cy="112.52" r="0.42" fill="#e6e6de" opacity="0.6"/>
<circle cx="526.93" cy="106.35" r="0.87" fill="#e6e6de" opacity="0.6"/>
<circle cx="487.23" cy="102.48" r="0.52" fill="#e6e6de" opacity="0.6"/>
<circle cx="504.49" cy="86.49" r="0.63" fill="#e6e6de" opacity="0.6"/>
<circle cx="507.79" cy="113.10" r="0.69" fill="#e6e6de" opacity="0.6"/>
<circle cx="528.52" cy="77.96" r="0.79" fill="#e6e6de" opacity="0.6"/>
<circle cx="501.33" cy="107.64" r="0.45" fill="#e6e6de" opacity="0.6"/>
<circle cx="520.97" cy="81.90" r="0.43" fill="#e6e6de" opacity="0.6"/>
<circle cx="527.28" cy="85.16" r="0.69" fill="#e6e6de" opacity="0.6"/>
<circle cx="485.54" cy="112.58" r="0.43" fill="#e6e6de" opacity="0.6"/>
<circle cx="484.53" cy="104.86" r="0.72" fill="#e6e6de" opacity="0.6"/>
<circle cx="500.77" cy="94.49" r="0.45" fill="#e6e6de" opacity="0.6"/>
<circle cx="521.04" cy="83.58" r="0.41" fill="#e6e6de" opacity="0.6"/>
<circle cx="526.23" cy="115.96" r="0.92" fill="#e6e6de" opacity="0.6"/>
<circle cx="521.64" cy="116.49" r="0.76" fill="#e6e6de" opacity="0.6"/>
<circle cx="521.81" cy="104.83" r="0.75" fill="#e6e6de" opacity="0.6"/>
<circle cx="503.36" cy="115.07" r="0.59" fill="#e6e6de" opacity="0.6"/>
<circle cx="482.99" cy="91.32" r="1.00" fill="#e6e6de" opacity="0.6"/>
<circle cx="512.37" cy="102.62" r="0.89" fill="#e6e6de" opacity="0.6"/>
<circle cx="526.87" cy="79.44" r="0.90" fill="#e6e6de" opacity="0.6"/>
<circle cx="484.99" cy="78.76" r="0.79" fill="#e6e6de" opacity="0.6"/>
<circle cx="487.88" cy="76.70" r="0.81" fill="#e6e6de" opacity="0.6"/>
<circle cx="481.33" cy="116.06" r="0.93" fill="#e6e6de" opacity="0.6"/>
<circle cx="486.79" cy="112.05" r="0.68" fill="#e6e6de" opacity="0.6"/>
<circle cx="523.95" cy="105.43" r="0.41" fill="#e6e6de" opacity="0.6"/>
<circle cx="483.23" cy="87.56" r="0.57" fill="#e6e6de" opacity="0.6"/>
<circle cx="509.85" cy="97.02" r="0.73" fill="#e6e6de" opacity="0.6"/>
<circle cx="520.41" cy="105.70" r="0.40" fill="#e6e6de" opacity="0.6"/>
<circle cx="497.63" cy="81.16" r="0.47" fill="#e6e6de" opacity="0.6"/>
<circle cx="498.89" cy="88.43" r="0.83" fill="#e6e6de" opacity="0.6"/>
<circle cx="496.34" cy="86.79" r="0.57" fill="#e6e6de" opacity="0.6"/>
<circle cx="508.46" cy="107.44" r="0.59" fill="#e6e6de" opacity="0.6"/>
<circle cx="490.25" cy="100.07" r="0.94" fill="#e6e6de" opacity="0.6"/>
<circle cx="480.33" cy="102.54" r="1.00" fill="#e6e6de" opacity="0.6"/>
<circle cx="496.68" cy="92.08" r="0.76" fill="#e6e6de" opacity="0.6"/>
<circle cx="492.01" cy="107.24" r="0.99" fill="#e6e6de" opacity="0.6"/>
<circle cx="529.52" cy="107.98" r="0.63" fill="#e6e6de" opacity="0.6"/>
<circle cx="516.21" cy="86.48" r="0.89" fill="#e6e6de" opacity="0.6"/>
<circle cx="529.65" cy="107.11" r="0.90" fill="#e6e6de" opacity="0.6"/>
<circle cx="489.15" cy="110.69" r="0.44" fill="#e6e6de" opacity="0.6"/>
<circle cx="520.15" cy="94.84" r="0.80" fill="#e6e6de" opacity="0.6"/>
<circle cx="481.61" cy="84.29" r="0.89" fill="#e6e6de" opacity="0.6"/>
<circle cx="510.40" cy="88.02" r="1.00" fill="#e6e6de" opacity="0.6"/>
<circle cx="502.90" cy="112.68" r="0.44" fill="#e6e6de" opacity="0.6"/>
<circle cx="482.87" cy="105.42" r="0.83" fill="#e6e6de" opacity="0.6"/>
<circle cx="502.97" cy="84.80" r="0.46" fill="#e6e6de" opacity="0.6"/>
<circle cx="497.92" cy="85.42" r="0.81" fill="#e6e6de" opacity="0.6"/>
<circle cx="496.37" cy="98.07" r="0.99" fill="#e6e6de" opacity="0.6"/>
<circle cx="481.59" cy="101.09" r="0.68" fill="#e6e6de" opacity="0.6"/>
<circle cx="525.90" cy="109.49" r="0.69" fill="#e6e6de" opacity="0.6"/>
<circle cx="494.85" cy="78.61" r="0.43" fill="#e6e6de" opacity="0.6"/>
<circle cx="480.58" cy="88.97" r="0.62" fill="#e6e6de" opacity="0.6"/>
<circle cx="494.38" cy="103.53" r="0.84" fill="#e6e6de" opacity="0.6"/>
<circle cx="485.83" cy="116.66" r="0.53" fill="#e6e6de" opacity="0.6"/>
<circle cx="519.03" cy="116.58" r="0.93" fill="#e6e6de" opacity="0.6"/>
<circle cx="490.86" cy="111.26" r="0.91" fill="#e6e6de" opacity="0.6"/>
<circle cx="509.73" cy="109.64" r="0.89" fill="#e6e6de" opacity="0.6"/>
<circle cx="488.23" cy="86.56" r="0.92" fill="#e6e6de" opacity="0.6"/>
<circle cx="512.02" cy="90.11" r="0.71" fill="#e6e6de" opacity="0.6"/>
<circle cx="529.88" cy="81.12" r="0.42" fill="#e6e6de" opacity="0.6"/>
<circle cx="524.28" cy="87.59" r="0.58" fill="#e6e6de" opacity="0.6"/>
<circle cx="521.00" cy="84.68" r="0.71" fill="#e6e6de" opacity="0.6"/>
<circle cx="517.42" cy="114.00" r="0.57" fill="#e6e6de" opacity="0.6"/>
<circle cx="501.97" cy="92.14" r="0.47" fill="#e6e6de" opacity="0.6"/>
<circle cx="530.42" cy="100.85" r="0.89" fill="#e6e6de" opacity="0.6"/>
<circle cx="515.65" cy="98.51" r="0.96" fill="#e6e6de" opacity="0.6"/>
<circle cx="482.08" cy="98.43" r="0.73" fill="#e6e6de" opacity="0.6"/>
<circle cx="530.04" cy="100.22" r="0.52" fill="#e6e6de" opacity="0.6"/>
<circle cx="483.19" cy="91.25" r="0.99" fill="#e6e6de" opacity="0.6"/>
<circle cx="503.80" cy="81.46" r="0.86" fill="#e6e6de" opacity="0.6"/>
<circle cx="528.49" cy="111.58" r="0.75" fill="#e6e6de" opacity="0.6"/>
<circle cx="490.75" cy="114.70" r="0.48" fill="#e6e6de" opacity="0.6"/>
<circle cx="507.88" cy="89.38" r="0.71" fill="#e6e6de" opacity="0.6"/>
<circle cx="512.44" cy="112.22" r="0.93" fill="#e6e6de" opacity="0.6"/>
<circle cx="485.35" cy="96.91" r="0.91" fill="#e6e6de" opacity="0.6"/>
<circle cx="487.59" cy="96.06" r="0.83" fill="#e6e6de" opacity="0.6"/>
<circle cx="484.14" cy="90.88" r="0.72" fill="#e6e6de" opacity="0.6"/>
<circle cx="495.54" cy="106.75" r="0.72" fill="#e6e6de" opacity="0.6"/>
<circle cx="489.55" cy="98.31" r="0.61" fill="#e6e6de" opacity="0.6"/>
<circle cx="515.54" cy="114.07" r="0.50" fill="#e6e6de" opacity="0.6"/>
<circle cx="493.62" cy="78.69" r="0.85" fill="#e6e6de" opacity="0.6"/>
<circle cx="482.47" cy="101.78" r="0.69" fill="#e6e6de" opacity="0.6"/>
<circle cx="488.85" cy="111.88" r="0.93" fill="#e6e6de" opacity="0.6"/>
<circle cx="525.23" cy="94.12" r="0.86" fill="#e6e6de" opacity="0.6"/>
<circle cx="508.03" cy="106.91" r="0.65" fill="#e6e6de" opacity="0.6"/>
<circle cx="516.17" cy="108.93" r="0.53" fill="#e6e6de" opacity="0.6"/>
<circle cx="515.21" cy="102.85" r="0.43" fill="#6c6c60" opacity="0.45"/>
<circle cx="505.61" cy="79.09" r="0.37" fill="#6c6c60" opacity="0.45"/>
<circle cx="499.42" cy="81.21" r="0.41" fill="#6c6c60" opacity="0.45"/>
<circle cx="489.23" cy="103.63" r="0.69" fill="#6c6c60" opacity="0.45"/>
<circle cx="480.79" cy="87.73" r="0.42" fill="#6c6c60" opacity="0.45"/>
<circle cx="496.34" cy="82.10" r="0.33" fill="#6c6c60" opacity="0.45"/>
<circle cx="493.33" cy="83.93" r="0.57" fill="#6c6c60" opacity="0.45"/>
<circle cx="521.60" cy="102.09" r="0.44" fill="#6c6c60" opacity="0.45"/>
<circle cx="504.37" cy="107.38" r="0.67" fill="#6c6c60" opacity="0.45"/>
<circle cx="504.73" cy="82.74" r="0.40" fill="#6c6c60" opacity="0.45"/>
<circle cx="516.99" cy="87.11" r="0.78" fill="#6c6c60" opacity="0.45"/>
<circle cx="529.55" cy="84.70" r="0.59" fill="#6c6c60" opacity="0.45"/>
<circle cx="513.11" cy="113.59" r="0.55" fill="#6c6c60" opacity="0.45"/>
<circle cx="500.10" cy="95.82" r="0.57" fill="#6c6c60" opacity="0.45"/>
<circle cx="530.37" cy="89.45" r="0.57" fill="#6c6c60" opacity="0.45"/>
<circle cx="522.50" cy="79.48" r="0.63" fill="#6c6c60" opacity="0.45"/>
<circle cx="530.29" cy="79.24" r="0.38" fill="#6c6c60" opacity="0.45"/>
<circle cx="488.82" cy="86.76" r="0.55" fill="#6c6c60" opacity="0.45"/>
<circle cx="515.94" cy="107.14" r="0.30" fill="#6c6c60" opacity="0.45"/>
<circle cx="508.68" cy="110.77" r="0.34" fill="#6c6c60" opacity="0.45"/>
<circle cx="483.87" cy="100.79" r="0.40" fill="#6c6c60" opacity="0.45"/>
<circle cx="513.21" cy="97.50" r="0.78" fill="#6c6c60" opacity="0.45"/>
<circle cx="520.78" cy="112.24" r="0.51" fill="#6c6c60" opacity="0.45"/>
<circle cx="520.94" cy="89.92" r="0.49" fill="#6c6c60" opacity="0.45"/>
<circle cx="508.50" cy="104.93" r="0.43" fill="#6c6c60" opacity="0.45"/>
<circle cx="493.59" cy="84.11" r="0.36" fill="#6c6c60" opacity="0.45"/>
<circle cx="530.17" cy="81.57" r="0.71" fill="#6c6c60" opacity="0.45"/>
<circle cx="527.26" cy="102.66" r="0.54" fill="#6c6c60" opacity="0.45"/>
<circle cx="481.87" cy="95.54" r="0.31" fill="#6c6c60" opacity="0.45"/>
<circle cx="486.19" cy="102.33" r="0.68" fill="#6c6c60" opacity="0.45"/>
<circle cx="488.08" cy="84.71" r="0.65" fill="#6c6c60" opacity="0.45"/>
<circle cx="499.01" cy="85.11" r="0.36" fill="#6c6c60" opacity="0.45"/>
<circle cx="522.41" cy="89.82" r="0.33" fill="#6c6c60" opacity="0.45"/>
<circle cx="529.27" cy="113.61" r="0.31" fill="#6c6c60" opacity="0.45"/>
<circle cx="516.78" cy="99.00" r="0.69" fill="#6c6c60" opacity="0.45"/>
<circle cx="518.40" cy="99.14" r="0.37" fill="#6c6c60" opacity="0.45"/>
<circle cx="481.67" cy="90.07" r="0.60" fill="#6c6c60" opacity="0.45"/>
<circle cx="500.79" cy="93.29" r="0.61" fill="#6c6c60" opacity="0.45"/>
<circle cx="511.52" cy="95.91" r="0.75" fill="#6c6c60" opacity="0.45"/>
<circle cx="481.73" cy="115.25" r="0.66" fill="#6c6c60" opacity="0.45"/>
<circle cx="489.00" cy="100.56" r="0.70" fill="#6c6c60" opacity="0.45"/>
<circle cx="485.53" cy="88.73" r="0.31" fill="#6c6c60" opacity="0.45"/>
<circle cx="507.29" cy="84.39" r="0.53" fill="#6c6c60" opacity="0.45"/>
<circle cx="513.30" cy="84.09" r="0.44" fill="#6c6c60" opacity="0.45"/>
<circle cx="493.20" cy="114.48" r="0.54" fill="#6c6c60" opacity="0.45"/>
<circle cx="489.07" cy="96.15" r="0.67" fill="#6c6c60" opacity="0.45"/>
<circle cx="490.22" cy="84.13" r="0.61" fill="#6c6c60" opacity="0.45"/>
<circle cx="491.17" cy="116.13" r="0.38" fill="#6c6c60" opacity="0.45"/>
<circle cx="483.23" cy="92.28" r="0.55" fill="#6c6c60" opacity="0.45"/>
<circle cx="488.44" cy="100.16" r="0.52" fill="#6c6c60" opacity="0.45"/>
<ellipse cx="486.3" cy="87.3" rx="0.77" ry="0.81" fill="#6a58c0" opacity="0.85"/>
<ellipse cx="489.0" cy="91.2" rx="0.62" ry="0.71" fill="#6a58c0" opacity="0.85"/>
<ellipse cx="489.8" cy="89.2" rx="0.93" ry="0.87" fill="#6a58c0" opacity="0.85"/>
<ellipse cx="488.0" cy="92.9" rx="1.08" ry="0.57" fill="#6a58c0" opacity="0.85"/>
<ellipse cx="488.0" cy="92.7" rx="1.04" ry="0.73" fill="#6a58c0" opacity="0.85"/>
<ellipse cx="488.6" cy="91.8" rx="0.68" ry="0.90" fill="#6a58c0" opacity="0.85"/>
<ellipse cx="491.3" cy="89.5" rx="0.72" ry="0.55" fill="#6a58c0" opacity="0.85"/>
<ellipse cx="491.3" cy="89.6" rx="0.64" ry="0.62" fill="#6a58c0" opacity="0.85"/>
<ellipse cx="503.1" cy="96.7" rx="1.00" ry="0.61" fill="#6a58c0" opacity="0.85"/>
<ellipse cx="504.3" cy="96.9" rx="1.04" ry="0.74" fill="#6a58c0" opacity="0.85"/>
<ellipse cx="502.8" cy="97.4" rx="0.67" ry="0.66" fill="#6a58c0" opacity="0.85"/>
<ellipse cx="506.6" cy="97.9" rx="0.78" ry="0.80" fill="#6a58c0" opacity="0.85"/>
<ellipse cx="503.3" cy="100.2" rx="1.10" ry="0.63" fill="#6a58c0" opacity="0.85"/>
<ellipse cx="503.5" cy="92.4" rx="0.63" ry="0.72" fill="#6a58c0" opacity="0.85"/>
<ellipse cx="491.7" cy="105.1" rx="1.15" ry="0.64" fill="#6a58c0" opacity="0.85"/>
<ellipse cx="502.5" cy="105.5" rx="0.78" ry="0.77" fill="#6a58c0" opacity="0.85"/>
<ellipse cx="499.4" cy="107.9" rx="1.18" ry="0.61" fill="#6a58c0" opacity="0.85"/>
<ellipse cx="495.5" cy="111.2" rx="0.83" ry="0.84" fill="#6a58c0" opacity="0.85"/>
<ellipse cx="496.9" cy="105.6" rx="0.65" ry="0.74" fill="#6a58c0" opacity="0.85"/>
<ellipse cx="521.7" cy="90.0" rx="1.16" ry="0.80" fill="#6a58c0" opacity="0.85"/>
<ellipse cx="513.5" cy="89.8" rx="1.03" ry="0.82" fill="#6a58c0" opacity="0.85"/>
<ellipse cx="516.1" cy="93.9" rx="0.79" ry="0.54" fill="#6a58c0" opacity="0.85"/>
<ellipse cx="520.6" cy="91.8" rx="0.79" ry="0.59" fill="#6a58c0" opacity="0.85"/>
<ellipse cx="523.1" cy="92.1" rx="0.87" ry="0.87" fill="#6a58c0" opacity="0.85"/>
<ellipse cx="517.6" cy="89.5" rx="1.00" ry="0.80" fill="#6a58c0" opacity="0.85"/>
<ellipse cx="525.7" cy="104.0" rx="0.97" ry="0.62" fill="#6a58c0" opacity="0.85"/>
<ellipse cx="517.7" cy="108.9" rx="0.77" ry="0.61" fill="#6a58c0" opacity="0.85"/>
<ellipse cx="524.3" cy="104.9" rx="0.78" ry="0.81" fill="#6a58c0" opacity="0.85"/>
<ellipse cx="519.5" cy="107.6" rx="1.20" ry="0.72" fill="#6a58c0" opacity="0.85"/>
<ellipse cx="508.7" cy="83.1" rx="1.14" ry="0.85" fill="#6a58c0" opacity="0.85"/>
<ellipse cx="508.7" cy="87.8" rx="0.90" ry="0.51" fill="#6a58c0" opacity="0.85"/>
<ellipse cx="510.9" cy="77.6" rx="0.70" ry="0.88" fill="#6a58c0" opacity="0.85"/>
<ellipse cx="514.4" cy="80.9" rx="0.95" ry="0.89" fill="#6a58c0" opacity="0.85"/>
<ellipse cx="488.0" cy="108.4" rx="0.89" ry="0.58" fill="#6a58c0" opacity="0.85"/>
<ellipse cx="489.2" cy="114.2" rx="0.62" ry="0.85" fill="#6a58c0" opacity="0.85"/>
<ellipse cx="487.2" cy="111.0" rx="1.09" ry="0.66" fill="#6a58c0" opacity="0.85"/>
<ellipse cx="485.5" cy="110.1" rx="0.90" ry="0.57" fill="#6a58c0" opacity="0.85"/>
<ellipse cx="500.7" cy="85.7" rx="1.05" ry="0.56" fill="#6a58c0" opacity="0.85"/>
<ellipse cx="503.9" cy="85.7" rx="0.76" ry="0.70" fill="#6a58c0" opacity="0.85"/>
<ellipse cx="503.2" cy="90.5" rx="1.06" ry="0.60" fill="#6a58c0" opacity="0.85"/>
<circle cx="505.93" cy="103.08" r="0.60" fill="#6a58c0" opacity="0.6"/>
<circle cx="480.96" cy="94.29" r="0.74" fill="#6a58c0" opacity="0.6"/>
<circle cx="493.74" cy="100.63" r="0.68" fill="#6a58c0" opacity="0.6"/>
<circle cx="530.24" cy="103.23" r="0.76" fill="#6a58c0" opacity="0.6"/>
<circle cx="520.83" cy="96.29" r="0.66" fill="#6a58c0" opacity="0.6"/>
<circle cx="522.95" cy="105.52" r="0.48" fill="#6a58c0" opacity="0.6"/>
<circle cx="498.35" cy="112.61" r="0.77" fill="#6a58c0" opacity="0.6"/>
<circle cx="479.64" cy="89.59" r="0.56" fill="#6a58c0" opacity="0.6"/>
<circle cx="509.80" cy="88.49" r="0.57" fill="#6a58c0" opacity="0.6"/>
<circle cx="523.89" cy="76.94" r="0.56" fill="#6a58c0" opacity="0.6"/>
<circle cx="482.13" cy="86.41" r="0.62" fill="#6a58c0" opacity="0.6"/>
<circle cx="530.14" cy="99.74" r="0.51" fill="#6a58c0" opacity="0.6"/>
<circle cx="486.64" cy="81.64" r="0.67" fill="#6a58c0" opacity="0.6"/>
<circle cx="507.73" cy="89.62" r="0.49" fill="#6a58c0" opacity="0.6"/>
</g>
<rect x="479.00" y="76.70" width="52.00" height="40.00" fill="none" stroke="#1e1e1e" stroke-width="1.3"/>
<line x1="422.60" y1="137.00" x2="422.60" y2="225.60" stroke="#1c1c1c" stroke-width="1"/>
<line x1="422.10" y1="225.10" x2="548.40" y2="225.10" stroke="#1c1c1c" stroke-width="1"/>
<line x1="420.00" y1="225.10" x2="422.60" y2="225.10" stroke="#1c1c1c" stroke-width="1"/>
<text x="420.00" y="227.20" font-family="'Liberation Sans', sans-serif" font-size="6.0" font-weight="bold" text-anchor="end" fill="#222" stroke="#222" stroke-width="0.22">0</text>
<line x1="420.00" y1="207.48" x2="422.60" y2="207.48" stroke="#1c1c1c" stroke-width="1"/>
<text x="420.00" y="209.58" font-family="'Liberation Sans', sans-serif" font-size="6.0" font-weight="bold" text-anchor="end" fill="#222" stroke="#222" stroke-width="0.22" textLength="7.00" lengthAdjust="spacingAndGlyphs">50</text>
<line x1="420.00" y1="189.86" x2="422.60" y2="189.86" stroke="#1c1c1c" stroke-width="1"/>
<text x="420.00" y="191.96" font-family="'Liberation Sans', sans-serif" font-size="6.0" font-weight="bold" text-anchor="end" fill="#222" stroke="#222" stroke-width="0.22" textLength="10.50" lengthAdjust="spacingAndGlyphs">100</text>
<line x1="420.00" y1="172.24" x2="422.60" y2="172.24" stroke="#1c1c1c" stroke-width="1"/>
<text x="420.00" y="174.34" font-family="'Liberation Sans', sans-serif" font-size="6.0" font-weight="bold" text-anchor="end" fill="#222" stroke="#222" stroke-width="0.22" textLength="10.50" lengthAdjust="spacingAndGlyphs">150</text>
<line x1="420.00" y1="154.62" x2="422.60" y2="154.62" stroke="#1c1c1c" stroke-width="1"/>
<text x="420.00" y="156.72" font-family="'Liberation Sans', sans-serif" font-size="6.0" font-weight="bold" text-anchor="end" fill="#222" stroke="#222" stroke-width="0.22" textLength="10.50" lengthAdjust="spacingAndGlyphs">200</text>
<line x1="420.00" y1="137.00" x2="422.60" y2="137.00" stroke="#1c1c1c" stroke-width="1"/>
<text x="420.00" y="139.10" font-family="'Liberation Sans', sans-serif" font-size="6.0" font-weight="bold" text-anchor="end" fill="#222" stroke="#222" stroke-width="0.22" textLength="10.50" lengthAdjust="spacingAndGlyphs">250</text>
<line x1="456.20" y1="225.10" x2="456.20" y2="227.30" stroke="#1c1c1c" stroke-width="0.9"/>
<line x1="521.50" y1="225.10" x2="521.50" y2="227.30" stroke="#1c1c1c" stroke-width="0.9"/>
<line x1="443.00" y1="189.61" x2="443.00" y2="186.34" stroke="#111" stroke-width="1.3"/>
<line x1="440.40" y1="186.34" x2="445.60" y2="186.34" stroke="#111" stroke-width="1.3"/>
<rect x="436.10" y="189.61" width="13.80" height="35.49" fill="#000" />
<line x1="469.25" y1="169.10" x2="469.25" y2="166.21" stroke="#111" stroke-width="1.3"/>
<line x1="466.65" y1="166.21" x2="471.85" y2="166.21" stroke="#111" stroke-width="1.3"/>
<rect x="462.30" y="169.10" width="13.90" height="56.00" fill="#666" />
<line x1="508.55" y1="190.11" x2="508.55" y2="187.89" stroke="#111" stroke-width="1.3"/>
<line x1="505.95" y1="187.89" x2="511.15" y2="187.89" stroke="#111" stroke-width="1.3"/>
<rect x="501.90" y="190.11" width="13.30" height="34.99" fill="#000" />
<line x1="535.30" y1="159.20" x2="535.30" y2="156.73" stroke="#111" stroke-width="1.3"/>
<line x1="532.70" y1="156.73" x2="537.90" y2="156.73" stroke="#111" stroke-width="1.3"/>
<rect x="528.60" y="159.20" width="13.40" height="65.90" fill="#666" />
<line x1="444.70" y1="161.30" x2="468.90" y2="161.30" stroke="#333" stroke-width="1.1"/>
<line x1="444.70" y1="159.70" x2="444.70" y2="163.50" stroke="#333" stroke-width="1"/>
<line x1="468.90" y1="159.70" x2="468.90" y2="163.50" stroke="#333" stroke-width="1"/>
<text x="457.40" y="157.00" font-family="'Liberation Sans', sans-serif" font-size="7" font-weight="normal" text-anchor="middle" fill="#555" textLength="22.89" lengthAdjust="spacingAndGlyphs"><tspan font-style="italic">p</tspan>=0.03</text>
<line x1="508.70" y1="150.50" x2="533.30" y2="150.50" stroke="#333" stroke-width="1.1"/>
<line x1="508.70" y1="148.90" x2="508.70" y2="152.70" stroke="#333" stroke-width="1"/>
<line x1="533.30" y1="148.90" x2="533.30" y2="152.70" stroke="#333" stroke-width="1"/>
<text x="522.15" y="145.50" font-family="'Liberation Sans', sans-serif" font-size="7" font-weight="normal" text-anchor="middle" fill="#555" textLength="25.99" lengthAdjust="spacingAndGlyphs"><tspan font-style="italic">p</tspan>&lt;0.001</text>
<rect x="435.40" y="128.00" width="10.00" height="5.60" fill="#000" />
<text x="454.80" y="132.60" font-family="'Liberation Sans', sans-serif" font-size="7" font-weight="normal" text-anchor="middle" fill="#333" textLength="10.09" lengthAdjust="spacingAndGlyphs">NC</text>
<rect x="471.30" y="127.70" width="10.40" height="5.40" fill="#666" />
<text x="509.75" y="132.60" font-family="'Liberation Sans', sans-serif" font-size="7" font-weight="normal" text-anchor="middle" fill="#333" textLength="48.39" lengthAdjust="spacingAndGlyphs">ASO miR-199b</text>
<text x="455.95" y="235.60" font-family="'Liberation Sans', sans-serif" font-size="6.2" font-weight="bold" text-anchor="middle" fill="#222" stroke="#222" stroke-width="0.22" textLength="19.53" lengthAdjust="spacingAndGlyphs">H1975</text>
<text x="521.55" y="235.60" font-family="'Liberation Sans', sans-serif" font-size="6.2" font-weight="bold" text-anchor="middle" fill="#222" stroke="#222" stroke-width="0.22" textLength="15.73" lengthAdjust="spacingAndGlyphs">H522</text>
<text x="405.20" y="180.50" font-family="'Liberation Sans', sans-serif" font-size="7.2" font-weight="bold" text-anchor="middle" fill="#222" stroke="#222" stroke-width="0.22" textLength="95.10" lengthAdjust="spacingAndGlyphs" transform="rotate(-90 405.20 180.50)">Invasion rate (% of  control)</text>
<text x="684.35" y="20.00" font-family="'Liberation Sans', sans-serif" font-size="9.6" font-weight="bold" text-anchor="middle" fill="#222" textLength="107.57" lengthAdjust="spacingAndGlyphs">H522 xenograft model</text>
<line x1="611.70" y1="55.30" x2="611.70" y2="161.80" stroke="#1c1c1c" stroke-width="1.1"/>
<line x1="611.20" y1="161.30" x2="771.40" y2="161.30" stroke="#1c1c1c" stroke-width="1.1"/>
<line x1="609.10" y1="161.30" x2="611.70" y2="161.30" stroke="#1c1c1c" stroke-width="1"/>
<text x="607.30" y="163.60" font-family="'Liberation Sans', sans-serif" font-size="6.5" font-weight="bold" text-anchor="end" fill="#222" stroke="#222" stroke-width="0.22" textLength="9.30" lengthAdjust="spacingAndGlyphs">0.0</text>
<line x1="609.10" y1="125.97" x2="611.70" y2="125.97" stroke="#1c1c1c" stroke-width="1"/>
<text x="607.30" y="128.27" font-family="'Liberation Sans', sans-serif" font-size="6.5" font-weight="bold" text-anchor="end" fill="#222" stroke="#222" stroke-width="0.22" textLength="9.30" lengthAdjust="spacingAndGlyphs">0.5</text>
<line x1="609.10" y1="90.63" x2="611.70" y2="90.63" stroke="#1c1c1c" stroke-width="1"/>
<text x="607.30" y="92.93" font-family="'Liberation Sans', sans-serif" font-size="6.5" font-weight="bold" text-anchor="end" fill="#222" stroke="#222" stroke-width="0.22" textLength="9.30" lengthAdjust="spacingAndGlyphs">1.0</text>
<line x1="609.10" y1="55.30" x2="611.70" y2="55.30" stroke="#1c1c1c" stroke-width="1"/>
<text x="607.30" y="57.60" font-family="'Liberation Sans', sans-serif" font-size="6.5" font-weight="bold" text-anchor="end" fill="#222" stroke="#222" stroke-width="0.22" textLength="9.30" lengthAdjust="spacingAndGlyphs">1.5</text>
<line x1="651.80" y1="161.30" x2="651.80" y2="164.10" stroke="#1c1c1c" stroke-width="1"/>
<line x1="625.30" y1="130.10" x2="678.00" y2="130.10" stroke="#111" stroke-width="1.2"/>
<line x1="638.30" y1="121.10" x2="665.10" y2="121.10" stroke="#111" stroke-width="1.2"/>
<line x1="638.30" y1="139.30" x2="665.10" y2="139.30" stroke="#111" stroke-width="1.2"/>
<line x1="651.80" y1="121.10" x2="651.80" y2="139.30" stroke="#111" stroke-width="1.2"/>
<circle cx="652.00" cy="119.20" r="2.10" fill="#000" />
<circle cx="658.40" cy="121.40" r="2.10" fill="#000" />
<circle cx="645.80" cy="126.60" r="2.10" fill="#000" />
<circle cx="652.00" cy="126.60" r="2.10" fill="#000" />
<circle cx="645.80" cy="138.20" r="2.10" fill="#000" />
<circle cx="652.00" cy="140.80" r="2.10" fill="#000" />
<circle cx="658.40" cy="139.40" r="2.10" fill="#000" />
<line x1="731.50" y1="161.30" x2="731.50" y2="164.10" stroke="#1c1c1c" stroke-width="1"/>
<line x1="705.10" y1="96.70" x2="758.10" y2="96.70" stroke="#111" stroke-width="1.2"/>
<line x1="717.80" y1="77.30" x2="744.90" y2="77.30" stroke="#111" stroke-width="1.2"/>
<line x1="717.80" y1="115.20" x2="744.90" y2="115.20" stroke="#111" stroke-width="1.2"/>
<line x1="731.50" y1="77.30" x2="731.50" y2="115.20" stroke="#111" stroke-width="1.2"/>
<rect x="729.40" y="60.10" width="4.20" height="4.20" fill="#000" />
<rect x="723.10" y="90.00" width="4.20" height="4.20" fill="#000" />
<rect x="729.40" y="90.00" width="4.20" height="4.20" fill="#000" />
<rect x="729.40" y="96.20" width="4.20" height="4.20" fill="#000" />
<rect x="735.80" y="94.80" width="4.20" height="4.20" fill="#000" />
<rect x="729.40" y="108.30" width="4.20" height="4.20" fill="#000" />
<rect x="729.40" y="121.70" width="4.20" height="4.20" fill="#000" />
<line x1="652.60" y1="50.40" x2="729.90" y2="50.40" stroke="#444" stroke-width="1.2"/>
<line x1="652.60" y1="48.40" x2="652.60" y2="53.00" stroke="#444" stroke-width="1.1"/>
<line x1="729.90" y1="48.40" x2="729.90" y2="53.00" stroke="#444" stroke-width="1.1"/>
<text x="691.00" y="45.10" font-family="'Liberation Sans', sans-serif" font-size="8.1" font-weight="normal" text-anchor="middle" fill="#555" textLength="27.37" lengthAdjust="spacingAndGlyphs"><tspan font-style="italic">p</tspan>=0.01</text>
<text x="651.50" y="176.10" font-family="'Liberation Sans', sans-serif" font-size="6.8" font-weight="bold" text-anchor="middle" fill="#222" stroke="#222" stroke-width="0.22" textLength="23.88" lengthAdjust="spacingAndGlyphs">Vector</text>
<text x="731.30" y="176.10" font-family="'Liberation Sans', sans-serif" font-size="6.8" font-weight="bold" text-anchor="middle" fill="#222" stroke="#222" stroke-width="0.22" textLength="67.68" lengthAdjust="spacingAndGlyphs">miR-199b inhibitor</text>
<text x="588.00" y="108.25" font-family="'Liberation Sans', sans-serif" font-size="8.8" font-weight="bold" text-anchor="middle" fill="#222" stroke="#222" stroke-width="0.22" textLength="72.32" lengthAdjust="spacingAndGlyphs" transform="rotate(-90 588.00 108.25)">Tumor weight (g)</text>
<g clip-path="url(#tp)">
<rect x="622.40" y="183.10" width="146.20" height="60.00" fill="url(#tbg)" />
<ellipse cx="635" cy="197.2" rx="6.1000000000000005" ry="6.1000000000000005" fill="#f0ebe8" opacity="0.7" filter="url(#bl1)"/>
<path d="M 639.86 195.62 Q 640.35 197.20 639.90 198.82 Q 639.45 200.43 638.09 201.46 Q 636.72 202.50 634.97 202.58 Q 633.22 202.67 631.89 201.55 Q 630.55 200.43 629.91 198.82 Q 629.27 197.20 630.27 195.84 Q 631.27 194.49 632.34 193.39 Q 633.41 192.30 635.09 192.01 Q 636.78 191.73 638.07 192.88 Q 639.36 194.03 639.86 195.62 Z" fill="url(#tum)" stroke="#b07a66" stroke-width="0.8" filter="url(#bl1)"/>
<ellipse cx="636.7" cy="195.2" rx="1.5" ry="1.0" fill="#a0463e" opacity="0.51" filter="url(#bl1)"/>
<ellipse cx="635.3" cy="194.7" rx="1.3" ry="1.0" fill="#a0463e" opacity="0.62" filter="url(#bl1)"/>
<ellipse cx="636.1" cy="195.4" rx="1.9" ry="0.9" fill="#a0463e" opacity="0.54" filter="url(#bl1)"/>
<ellipse cx="633.4" cy="194.6" rx="1.5" ry="0.6" fill="#e8c8b0" opacity="0.34" filter="url(#bl1)"/>
<ellipse cx="637.0" cy="199.1" rx="1.0" ry="1.0" fill="#e8c8b0" opacity="0.41" filter="url(#bl1)"/>
<ellipse cx="635.7" cy="195.7" rx="1.5" ry="0.9" fill="#e8c8b0" opacity="0.49" filter="url(#bl1)"/>
<ellipse cx="657.6" cy="198.9" rx="6.0" ry="8.6" fill="#f0ebe8" opacity="0.7" filter="url(#bl1)"/>
<path d="M 662.54 196.54 Q 663.18 198.90 662.35 201.05 Q 661.53 203.21 660.33 204.59 Q 659.12 205.98 657.64 205.81 Q 656.15 205.64 654.99 204.34 Q 653.82 203.04 653.43 200.97 Q 653.03 198.90 653.35 196.74 Q 653.67 194.59 654.83 192.99 Q 655.99 191.40 657.49 191.92 Q 658.99 192.45 660.45 193.32 Q 661.90 194.18 662.54 196.54 Z" fill="url(#tum)" stroke="#b07a66" stroke-width="0.8" filter="url(#bl1)"/>
<ellipse cx="656.9" cy="197.4" rx="1.9" ry="1.7" fill="#a0463e" opacity="0.44" filter="url(#bl1)"/>
<ellipse cx="657.5" cy="200.5" rx="1.1" ry="2.3" fill="#a0463e" opacity="0.36" filter="url(#bl1)"/>
<ellipse cx="658.6" cy="201.6" rx="1.0" ry="2.1" fill="#a0463e" opacity="0.46" filter="url(#bl1)"/>
<ellipse cx="657.9" cy="195.1" rx="0.8" ry="0.9" fill="#e8c8b0" opacity="0.49" filter="url(#bl1)"/>
<ellipse cx="656.4" cy="200.9" rx="1.5" ry="1.5" fill="#e8c8b0" opacity="0.37" filter="url(#bl1)"/>
<ellipse cx="657.0" cy="199.1" rx="1.4" ry="0.9" fill="#e8c8b0" opacity="0.45" filter="url(#bl1)"/>
<ellipse cx="676.3" cy="197.5" rx="6.1000000000000005" ry="6.9" fill="#f0ebe8" opacity="0.7" filter="url(#bl1)"/>
<path d="M 681.40 195.56 Q 681.87 197.50 681.37 199.42 Q 680.87 201.33 679.30 201.95 Q 677.73 202.57 676.12 203.19 Q 674.52 203.82 673.51 202.25 Q 672.51 200.68 671.90 199.09 Q 671.30 197.50 671.64 195.69 Q 671.98 193.88 673.26 192.55 Q 674.53 191.22 676.19 191.62 Q 677.85 192.01 679.39 192.81 Q 680.94 193.61 681.40 195.56 Z" fill="url(#tum)" stroke="#b07a66" stroke-width="0.8" filter="url(#bl1)"/>
<ellipse cx="676.5" cy="196.4" rx="1.4" ry="1.1" fill="#a0463e" opacity="0.37" filter="url(#bl1)"/>
<ellipse cx="674.8" cy="198.6" rx="2.1" ry="1.0" fill="#a0463e" opacity="0.36" filter="url(#bl1)"/>
<ellipse cx="678.3" cy="197.7" rx="1.5" ry="1.1" fill="#a0463e" opacity="0.53" filter="url(#bl1)"/>
<ellipse cx="677.7" cy="197.2" rx="1.1" ry="0.6" fill="#e8c8b0" opacity="0.48" filter="url(#bl1)"/>
<ellipse cx="674.4" cy="197.5" rx="1.4" ry="0.7" fill="#e8c8b0" opacity="0.45" filter="url(#bl1)"/>
<ellipse cx="678.2" cy="198.3" rx="1.4" ry="0.7" fill="#e8c8b0" opacity="0.39" filter="url(#bl1)"/>
<ellipse cx="696.1" cy="196.6" rx="5.1000000000000005" ry="7.4" fill="#f0ebe8" opacity="0.7" filter="url(#bl1)"/>
<path d="M 699.82 194.58 Q 699.95 196.60 699.86 198.67 Q 699.78 200.74 698.56 201.61 Q 697.33 202.48 696.08 202.59 Q 694.82 202.71 693.56 201.80 Q 692.29 200.88 691.92 198.74 Q 691.54 196.60 691.93 194.47 Q 692.31 192.34 693.57 191.41 Q 694.82 190.49 696.11 190.46 Q 697.39 190.44 698.54 191.50 Q 699.69 192.57 699.82 194.58 Z" fill="url(#tum)" stroke="#b07a66" stroke-width="0.8" filter="url(#bl1)"/>
<ellipse cx="696.0" cy="195.2" rx="1.2" ry="1.1" fill="#a0463e" opacity="0.46" filter="url(#bl1)"/>
<ellipse cx="697.7" cy="199.6" rx="1.4" ry="1.5" fill="#a0463e" opacity="0.45" filter="url(#bl1)"/>
<ellipse cx="694.7" cy="195.1" rx="1.5" ry="1.8" fill="#a0463e" opacity="0.46" filter="url(#bl1)"/>
<ellipse cx="697.1" cy="198.4" rx="1.1" ry="1.1" fill="#e8c8b0" opacity="0.45" filter="url(#bl1)"/>
<ellipse cx="695.6" cy="197.9" rx="0.8" ry="1.0" fill="#e8c8b0" opacity="0.45" filter="url(#bl1)"/>
<ellipse cx="696.7" cy="195.3" rx="1.2" ry="1.1" fill="#e8c8b0" opacity="0.42" filter="url(#bl1)"/>
<ellipse cx="717.2" cy="196.5" rx="5.7" ry="6.1000000000000005" fill="#f0ebe8" opacity="0.7" filter="url(#bl1)"/>
<path d="M 721.33 194.92 Q 721.44 196.50 721.28 198.05 Q 721.13 199.59 719.86 200.37 Q 718.59 201.15 717.13 201.40 Q 715.66 201.65 714.50 200.59 Q 713.35 199.53 712.69 198.01 Q 712.04 196.50 712.61 194.92 Q 713.18 193.34 714.40 192.27 Q 715.61 191.20 717.12 191.47 Q 718.63 191.74 719.92 192.54 Q 721.22 193.34 721.33 194.92 Z" fill="url(#tum)" stroke="#b07a66" stroke-width="0.8" filter="url(#bl1)"/>
<ellipse cx="718.1" cy="198.2" rx="1.3" ry="1.4" fill="#a0463e" opacity="0.61" filter="url(#bl1)"/>
<ellipse cx="717.9" cy="199.0" rx="1.9" ry="1.2" fill="#a0463e" opacity="0.51" filter="url(#bl1)"/>
<ellipse cx="715.9" cy="198.3" rx="1.9" ry="1.2" fill="#a0463e" opacity="0.56" filter="url(#bl1)"/>
<ellipse cx="718.0" cy="197.7" rx="0.8" ry="0.9" fill="#e8c8b0" opacity="0.42" filter="url(#bl1)"/>
<ellipse cx="717.8" cy="196.1" rx="1.2" ry="0.9" fill="#e8c8b0" opacity="0.43" filter="url(#bl1)"/>
<ellipse cx="718.0" cy="194.0" rx="0.8" ry="0.7" fill="#e8c8b0" opacity="0.43" filter="url(#bl1)"/>
<ellipse cx="734.5" cy="195" rx="6.9" ry="9.700000000000001" fill="#f0ebe8" opacity="0.7" filter="url(#bl1)"/>
<path d="M 739.54 192.61 Q 740.10 195.00 739.83 197.70 Q 739.57 200.40 737.99 202.02 Q 736.41 203.63 734.63 203.04 Q 732.85 202.45 731.26 201.29 Q 729.68 200.14 729.29 197.57 Q 728.89 195.00 729.53 192.69 Q 730.17 190.38 731.49 188.87 Q 732.81 187.37 734.54 187.18 Q 736.27 187.00 737.63 188.61 Q 738.98 190.22 739.54 192.61 Z" fill="url(#tum)" stroke="#b07a66" stroke-width="0.8" filter="url(#bl1)"/>
<ellipse cx="733.0" cy="190.9" rx="1.8" ry="1.8" fill="#a0463e" opacity="0.53" filter="url(#bl1)"/>
<ellipse cx="734.9" cy="192.7" rx="2.3" ry="1.3" fill="#a0463e" opacity="0.47" filter="url(#bl1)"/>
<ellipse cx="733.4" cy="194.2" rx="1.3" ry="2.4" fill="#a0463e" opacity="0.46" filter="url(#bl1)"/>
<ellipse cx="732.3" cy="196.0" rx="1.0" ry="1.4" fill="#e8c8b0" opacity="0.37" filter="url(#bl1)"/>
<ellipse cx="734.9" cy="199.0" rx="1.6" ry="1.2" fill="#e8c8b0" opacity="0.46" filter="url(#bl1)"/>
<ellipse cx="735.2" cy="193.9" rx="1.0" ry="1.4" fill="#e8c8b0" opacity="0.41" filter="url(#bl1)"/>
<ellipse cx="754.2" cy="195.8" rx="6.9" ry="8.6" fill="#f0ebe8" opacity="0.7" filter="url(#bl1)"/>
<path d="M 759.75 193.73 Q 760.86 195.80 760.23 198.32 Q 759.60 200.83 757.85 202.07 Q 756.10 203.31 754.26 203.09 Q 752.41 202.86 750.65 201.81 Q 748.89 200.75 748.90 198.28 Q 748.92 195.80 749.36 193.75 Q 749.80 191.70 751.06 190.03 Q 752.32 188.36 754.21 188.32 Q 756.11 188.27 757.37 189.97 Q 758.64 191.66 759.75 193.73 Z" fill="url(#tum)" stroke="#b07a66" stroke-width="0.8" filter="url(#bl1)"/>
<ellipse cx="754.8" cy="198.8" rx="1.7" ry="1.7" fill="#a0463e" opacity="0.42" filter="url(#bl1)"/>
<ellipse cx="753.2" cy="199.4" rx="1.7" ry="2.3" fill="#a0463e" opacity="0.62" filter="url(#bl1)"/>
<ellipse cx="754.7" cy="194.0" rx="2.4" ry="1.7" fill="#a0463e" opacity="0.47" filter="url(#bl1)"/>
<ellipse cx="753.3" cy="199.5" rx="1.3" ry="1.0" fill="#e8c8b0" opacity="0.40" filter="url(#bl1)"/>
<ellipse cx="752.4" cy="196.7" rx="1.3" ry="1.0" fill="#e8c8b0" opacity="0.46" filter="url(#bl1)"/>
<ellipse cx="755.8" cy="192.1" rx="1.4" ry="1.0" fill="#e8c8b0" opacity="0.49" filter="url(#bl1)"/>
<ellipse cx="632.6" cy="225.3" rx="6.800000000000001" ry="10.1" fill="#f0ebe8" opacity="0.7" filter="url(#bl1)"/>
<path d="M 638.20 222.53 Q 638.90 225.30 637.99 227.84 Q 637.08 230.38 635.70 231.97 Q 634.32 233.56 632.62 233.44 Q 630.93 233.32 629.10 232.33 Q 627.27 231.34 627.13 228.32 Q 626.99 225.30 627.35 222.53 Q 627.70 219.75 629.25 218.18 Q 630.79 216.60 632.64 216.42 Q 634.49 216.25 635.99 218.00 Q 637.49 219.76 638.20 222.53 Z" fill="url(#tum)" stroke="#b07a66" stroke-width="0.8" filter="url(#bl1)"/>
<ellipse cx="633.7" cy="221.8" rx="2.1" ry="1.8" fill="#a0463e" opacity="0.51" filter="url(#bl1)"/>
<ellipse cx="631.8" cy="223.4" rx="1.8" ry="2.0" fill="#a0463e" opacity="0.46" filter="url(#bl1)"/>
<ellipse cx="633.8" cy="226.1" rx="1.2" ry="1.7" fill="#a0463e" opacity="0.49" filter="url(#bl1)"/>
<ellipse cx="634.6" cy="228.9" rx="1.4" ry="0.9" fill="#e8c8b0" opacity="0.46" filter="url(#bl1)"/>
<ellipse cx="632.3" cy="226.0" rx="1.5" ry="1.5" fill="#e8c8b0" opacity="0.40" filter="url(#bl1)"/>
<ellipse cx="634.5" cy="224.2" rx="1.2" ry="1.7" fill="#e8c8b0" opacity="0.34" filter="url(#bl1)"/>
<ellipse cx="651.2" cy="225.4" rx="7.5" ry="12.9" fill="#f0ebe8" opacity="0.7" filter="url(#bl1)"/>
<path d="M 656.78 222.18 Q 657.48 225.40 657.22 229.21 Q 656.96 233.01 654.99 234.32 Q 653.03 235.62 651.01 236.68 Q 649.00 237.73 647.30 235.26 Q 645.61 232.78 645.16 229.09 Q 644.71 225.40 645.42 222.05 Q 646.13 218.71 647.58 215.96 Q 649.02 213.22 651.23 213.04 Q 653.44 212.86 654.76 215.91 Q 656.08 218.95 656.78 222.18 Z" fill="url(#tum)" stroke="#b07a66" stroke-width="0.8" filter="url(#bl1)"/>
<ellipse cx="651.1" cy="226.0" rx="2.0" ry="2.4" fill="#a0463e" opacity="0.40" filter="url(#bl1)"/>
<ellipse cx="651.7" cy="229.1" rx="1.4" ry="2.2" fill="#a0463e" opacity="0.60" filter="url(#bl1)"/>
<ellipse cx="652.7" cy="227.4" rx="1.4" ry="3.1" fill="#a0463e" opacity="0.64" filter="url(#bl1)"/>
<ellipse cx="653.8" cy="227.8" rx="1.0" ry="2.2" fill="#e8c8b0" opacity="0.34" filter="url(#bl1)"/>
<ellipse cx="652.0" cy="230.8" rx="1.7" ry="1.4" fill="#e8c8b0" opacity="0.36" filter="url(#bl1)"/>
<ellipse cx="653.4" cy="221.2" rx="1.6" ry="1.7" fill="#e8c8b0" opacity="0.33" filter="url(#bl1)"/>
<ellipse cx="674.6" cy="225.6" rx="7.9" ry="10.1" fill="#f0ebe8" opacity="0.7" filter="url(#bl1)"/>
<path d="M 680.79 223.13 Q 681.81 225.60 680.72 228.01 Q 679.64 230.42 678.10 231.97 Q 676.56 233.53 674.53 233.81 Q 672.50 234.10 671.01 232.27 Q 669.52 230.45 668.93 228.03 Q 668.34 225.60 668.59 222.85 Q 668.83 220.09 670.57 218.22 Q 672.31 216.34 674.64 216.20 Q 676.96 216.06 678.36 218.36 Q 679.77 220.67 680.79 223.13 Z" fill="url(#tum)" stroke="#b07a66" stroke-width="0.8" filter="url(#bl1)"/>
<ellipse cx="674.2" cy="223.9" rx="2.2" ry="2.1" fill="#a0463e" opacity="0.63" filter="url(#bl1)"/>
<ellipse cx="673.9" cy="221.5" rx="2.4" ry="1.6" fill="#a0463e" opacity="0.54" filter="url(#bl1)"/>
<ellipse cx="674.6" cy="229.4" rx="2.2" ry="2.2" fill="#a0463e" opacity="0.43" filter="url(#bl1)"/>
<ellipse cx="674.9" cy="223.3" rx="1.8" ry="1.4" fill="#e8c8b0" opacity="0.33" filter="url(#bl1)"/>
<ellipse cx="673.1" cy="224.4" rx="1.8" ry="1.1" fill="#e8c8b0" opacity="0.44" filter="url(#bl1)"/>
<ellipse cx="675.5" cy="221.8" rx="1.8" ry="1.0" fill="#e8c8b0" opacity="0.32" filter="url(#bl1)"/>
<ellipse cx="695" cy="225.2" rx="6.4" ry="13.200000000000001" fill="#f0ebe8" opacity="0.7" filter="url(#bl1)"/>
<path d="M 699.85 221.89 Q 700.62 225.20 699.90 228.59 Q 699.17 231.98 698.01 234.97 Q 696.85 237.96 695.08 237.40 Q 693.31 236.84 692.02 234.48 Q 690.74 232.12 689.92 228.66 Q 689.11 225.20 690.08 221.99 Q 691.05 218.79 692.13 215.83 Q 693.21 212.87 694.86 213.81 Q 696.52 214.76 697.80 216.67 Q 699.08 218.58 699.85 221.89 Z" fill="url(#tum)" stroke="#b07a66" stroke-width="0.8" filter="url(#bl1)"/>
<ellipse cx="697.0" cy="227.4" rx="1.3" ry="2.1" fill="#a0463e" opacity="0.64" filter="url(#bl1)"/>
<ellipse cx="695.7" cy="229.1" rx="1.3" ry="3.0" fill="#a0463e" opacity="0.46" filter="url(#bl1)"/>
<ellipse cx="693.8" cy="223.1" rx="1.8" ry="2.5" fill="#a0463e" opacity="0.47" filter="url(#bl1)"/>
<ellipse cx="693.4" cy="229.3" rx="1.4" ry="2.2" fill="#e8c8b0" opacity="0.39" filter="url(#bl1)"/>
<ellipse cx="696.5" cy="225.4" rx="1.3" ry="1.9" fill="#e8c8b0" opacity="0.45" filter="url(#bl1)"/>
<ellipse cx="694.5" cy="220.2" rx="0.9" ry="1.5" fill="#e8c8b0" opacity="0.31" filter="url(#bl1)"/>
<ellipse cx="715.2" cy="225.6" rx="6.5" ry="12.1" fill="#f0ebe8" opacity="0.7" filter="url(#bl1)"/>
<path d="M 720.31 222.62 Q 721.32 225.60 720.52 228.88 Q 719.71 232.15 718.37 234.54 Q 717.04 236.92 715.36 235.95 Q 713.68 234.97 712.19 233.56 Q 710.70 232.14 709.89 228.87 Q 709.08 225.60 709.81 222.21 Q 710.54 218.83 712.02 216.98 Q 713.50 215.13 715.21 215.08 Q 716.92 215.04 718.11 217.34 Q 719.30 219.65 720.31 222.62 Z" fill="url(#tum)" stroke="#b07a66" stroke-width="0.8" filter="url(#bl1)"/>
<ellipse cx="713.7" cy="221.8" rx="1.5" ry="2.3" fill="#a0463e" opacity="0.61" filter="url(#bl1)"/>
<ellipse cx="713.6" cy="222.8" rx="1.4" ry="2.0" fill="#a0463e" opacity="0.44" filter="url(#bl1)"/>
<ellipse cx="714.0" cy="225.4" rx="1.2" ry="3.2" fill="#a0463e" opacity="0.46" filter="url(#bl1)"/>
<ellipse cx="717.2" cy="227.7" rx="1.4" ry="1.6" fill="#e8c8b0" opacity="0.49" filter="url(#bl1)"/>
<ellipse cx="713.5" cy="227.5" rx="1.1" ry="1.9" fill="#e8c8b0" opacity="0.45" filter="url(#bl1)"/>
<ellipse cx="713.7" cy="222.3" rx="0.9" ry="1.4" fill="#e8c8b0" opacity="0.32" filter="url(#bl1)"/>
<ellipse cx="735.1" cy="224.9" rx="8.4" ry="13.200000000000001" fill="#f0ebe8" opacity="0.7" filter="url(#bl1)"/>
<path d="M 741.61 221.51 Q 742.42 224.90 742.14 228.93 Q 741.86 232.95 739.60 234.58 Q 737.34 236.22 735.11 236.14 Q 732.89 236.07 730.98 234.07 Q 729.08 232.07 728.53 228.49 Q 727.99 224.90 728.34 221.08 Q 728.69 217.27 730.68 214.93 Q 732.66 212.59 734.95 213.37 Q 737.23 214.15 739.01 216.13 Q 740.79 218.12 741.61 221.51 Z" fill="url(#tum)" stroke="#b07a66" stroke-width="0.8" filter="url(#bl1)"/>
<ellipse cx="736.1" cy="230.3" rx="2.5" ry="2.6" fill="#a0463e" opacity="0.64" filter="url(#bl1)"/>
<ellipse cx="732.1" cy="219.5" rx="2.7" ry="2.6" fill="#a0463e" opacity="0.36" filter="url(#bl1)"/>
<ellipse cx="735.4" cy="230.9" rx="2.3" ry="2.5" fill="#a0463e" opacity="0.38" filter="url(#bl1)"/>
<ellipse cx="732.5" cy="229.8" rx="1.7" ry="2.4" fill="#e8c8b0" opacity="0.31" filter="url(#bl1)"/>
<ellipse cx="733.6" cy="219.4" rx="1.6" ry="1.3" fill="#e8c8b0" opacity="0.35" filter="url(#bl1)"/>
<ellipse cx="734.5" cy="222.5" rx="1.2" ry="1.3" fill="#e8c8b0" opacity="0.49" filter="url(#bl1)"/>
<ellipse cx="756.6" cy="225.9" rx="8.6" ry="12.5" fill="#f0ebe8" opacity="0.7" filter="url(#bl1)"/>
<path d="M 763.34 222.41 Q 763.71 225.90 763.27 229.32 Q 762.84 232.73 760.88 234.70 Q 758.92 236.67 756.56 236.84 Q 754.20 237.02 752.60 234.53 Q 750.99 232.04 750.12 228.97 Q 749.24 225.90 750.10 222.81 Q 750.96 219.72 752.58 217.24 Q 754.20 214.76 756.71 214.25 Q 759.22 213.75 761.10 216.34 Q 762.98 218.92 763.34 222.41 Z" fill="url(#tum)" stroke="#b07a66" stroke-width="0.8" filter="url(#bl1)"/>
<ellipse cx="758.8" cy="222.6" rx="1.6" ry="2.7" fill="#a0463e" opacity="0.50" filter="url(#bl1)"/>
<ellipse cx="757.0" cy="224.5" rx="2.5" ry="3.0" fill="#a0463e" opacity="0.62" filter="url(#bl1)"/>
<ellipse cx="755.4" cy="225.3" rx="2.8" ry="2.1" fill="#a0463e" opacity="0.38" filter="url(#bl1)"/>
<ellipse cx="755.4" cy="221.1" rx="2.0" ry="2.1" fill="#e8c8b0" opacity="0.36" filter="url(#bl1)"/>
<ellipse cx="754.3" cy="221.1" rx="1.4" ry="1.3" fill="#e8c8b0" opacity="0.39" filter="url(#bl1)"/>
<ellipse cx="757.1" cy="222.9" rx="1.2" ry="2.0" fill="#e8c8b0" opacity="0.31" filter="url(#bl1)"/>
</g>
<rect x="622.4" y="183.1" width="146.2" height="60.0" fill="none" stroke="#262626" stroke-width="1.3"/>
<text x="597.95" y="201.60" font-family="'Liberation Sans', sans-serif" font-size="10.3" font-weight="bold" text-anchor="middle" fill="#111" textLength="33.22" lengthAdjust="spacingAndGlyphs">Vector</text>
<text x="590.65" y="223.90" font-family="'Liberation Sans', sans-serif" font-size="10.3" font-weight="bold" text-anchor="middle" fill="#111" textLength="47.82" lengthAdjust="spacingAndGlyphs">miR-199b</text>
<text x="592.90" y="237.90" font-family="'Liberation Sans', sans-serif" font-size="10.3" font-weight="bold" text-anchor="middle" fill="#111" textLength="43.32" lengthAdjust="spacingAndGlyphs">inhibitor</text>
<text x="101.10" y="270.50" font-family="'Liberation Sans', sans-serif" font-size="7.5" font-weight="bold" text-anchor="middle" fill="#222" stroke="#222" stroke-width="0.22" textLength="54.72" lengthAdjust="spacingAndGlyphs">H522 xenograft</text>
<line x1="50.50" y1="281.00" x2="50.50" y2="384.20" stroke="#1c1c1c" stroke-width="1"/>
<line x1="50.00" y1="383.70" x2="152.40" y2="383.70" stroke="#1c1c1c" stroke-width="1"/>
<line x1="47.90" y1="383.70" x2="50.50" y2="383.70" stroke="#1c1c1c" stroke-width="1"/>
<text x="47.20" y="385.80" font-family="'Liberation Sans', sans-serif" font-size="6.0" font-weight="bold" text-anchor="end" fill="#222" stroke="#222" stroke-width="0.22" textLength="8.85" lengthAdjust="spacingAndGlyphs">0.0</text>
<line x1="47.90" y1="358.02" x2="50.50" y2="358.02" stroke="#1c1c1c" stroke-width="1"/>
<text x="47.20" y="360.12" font-family="'Liberation Sans', sans-serif" font-size="6.0" font-weight="bold" text-anchor="end" fill="#222" stroke="#222" stroke-width="0.22" textLength="8.85" lengthAdjust="spacingAndGlyphs">0.5</text>
<line x1="47.90" y1="332.35" x2="50.50" y2="332.35" stroke="#1c1c1c" stroke-width="1"/>
<text x="47.20" y="334.45" font-family="'Liberation Sans', sans-serif" font-size="6.0" font-weight="bold" text-anchor="end" fill="#222" stroke="#222" stroke-width="0.22" textLength="8.85" lengthAdjust="spacingAndGlyphs">1.0</text>
<line x1="47.90" y1="306.68" x2="50.50" y2="306.68" stroke="#1c1c1c" stroke-width="1"/>
<text x="47.20" y="308.78" font-family="'Liberation Sans', sans-serif" font-size="6.0" font-weight="bold" text-anchor="end" fill="#222" stroke="#222" stroke-width="0.22" textLength="8.85" lengthAdjust="spacingAndGlyphs">1.5</text>
<line x1="47.90" y1="281.00" x2="50.50" y2="281.00" stroke="#1c1c1c" stroke-width="1"/>
<text x="47.20" y="283.10" font-family="'Liberation Sans', sans-serif" font-size="6.0" font-weight="bold" text-anchor="end" fill="#222" stroke="#222" stroke-width="0.22" textLength="8.85" lengthAdjust="spacingAndGlyphs">2.0</text>
<line x1="75.60" y1="383.70" x2="75.60" y2="385.90" stroke="#1c1c1c" stroke-width="0.9"/>
<line x1="126.60" y1="383.70" x2="126.60" y2="385.90" stroke="#1c1c1c" stroke-width="0.9"/>
<line x1="75.85" y1="332.35" x2="75.85" y2="328.24" stroke="#111" stroke-width="1.3"/>
<line x1="68.65" y1="328.24" x2="83.05" y2="328.24" stroke="#111" stroke-width="1.3"/>
<rect x="62.50" y="332.35" width="26.70" height="51.35" fill="#808080" />
<line x1="126.70" y1="307.70" x2="126.70" y2="303.59" stroke="#111" stroke-width="1.3"/>
<line x1="119.70" y1="303.59" x2="133.70" y2="303.59" stroke="#111" stroke-width="1.3"/>
<rect x="113.30" y="307.70" width="26.80" height="76.00" fill="#000" />
<line x1="73.50" y1="298.70" x2="127.40" y2="298.70" stroke="#333" stroke-width="1.1"/>
<line x1="73.50" y1="297.10" x2="73.50" y2="300.90" stroke="#333" stroke-width="1"/>
<line x1="127.40" y1="297.10" x2="127.40" y2="300.90" stroke="#333" stroke-width="1"/>
<text x="102.30" y="292.60" font-family="'Liberation Sans', sans-serif" font-size="7.2" font-weight="normal" text-anchor="middle" fill="#555" textLength="27.50" lengthAdjust="spacingAndGlyphs"><tspan font-style="italic">p</tspan>=0.003</text>
<text x="75.15" y="393.20" font-family="'Liberation Sans', sans-serif" font-size="6.2" font-weight="bold" text-anchor="middle" fill="#222" stroke="#222" stroke-width="0.22" textLength="20.93" lengthAdjust="spacingAndGlyphs">Vector</text>
<text x="140.90" y="393.10" font-family="'Liberation Sans', sans-serif" font-size="6.2" font-weight="bold" text-anchor="middle" fill="#222" stroke="#222" stroke-width="0.22" textLength="54.43" lengthAdjust="spacingAndGlyphs">miR-199 inhibitor</text>
<text x="30.60" y="331.40" font-family="'Liberation Sans', sans-serif" font-size="7.5" font-weight="bold" text-anchor="middle" fill="#222" stroke="#222" stroke-width="0.22" textLength="101.72" lengthAdjust="spacingAndGlyphs" transform="rotate(-90 30.60 331.40)">Relative expression of Ki-67</text>
<g clip-path="url(#h1)">
<rect x="42.10" y="401.30" width="58.70" height="54.10" fill="#b198b6" />
<ellipse cx="93.8" cy="406.7" rx="16" ry="10" transform="rotate(20 93.8 406.7)" fill="#c48a7e" opacity="0.8" filter="url(#bl3)"/>
<ellipse cx="56.8" cy="439.2" rx="22" ry="6" transform="rotate(35 56.8 439.2)" fill="#c9917f" opacity="0.7" filter="url(#bl3)"/>
<ellipse cx="74.4" cy="425.6" rx="14" ry="10" transform="rotate(30 74.4 425.6)" fill="#9a90c8" opacity="0.6" filter="url(#bl3)"/>
<ellipse cx="62.6" cy="414.8" rx="12" ry="8" transform="rotate(0 62.6 414.8)" fill="#a596c8" opacity="0.5" filter="url(#bl3)"/>
<ellipse cx="89.1" cy="431.1" rx="8" ry="14" transform="rotate(30 89.1 431.1)" fill="#c4968e" opacity="0.5" filter="url(#bl3)"/>
<ellipse cx="50.9" cy="452.7" rx="10" ry="6" transform="rotate(0 50.9 452.7)" fill="#a89ad0" opacity="0.5" filter="url(#bl3)"/>
<circle cx="51.78" cy="438.62" r="0.72" fill="#e6d8e4" opacity="0.6"/>
<circle cx="70.22" cy="412.99" r="0.80" fill="#e6d8e4" opacity="0.6"/>
<circle cx="89.52" cy="429.02" r="0.65" fill="#e6d8e4" opacity="0.6"/>
<circle cx="55.96" cy="401.47" r="0.59" fill="#e6d8e4" opacity="0.6"/>
<circle cx="76.46" cy="405.05" r="0.80" fill="#e6d8e4" opacity="0.6"/>
<circle cx="55.73" cy="413.89" r="0.42" fill="#e6d8e4" opacity="0.6"/>
<circle cx="100.66" cy="441.26" r="0.84" fill="#e6d8e4" opacity="0.6"/>
<circle cx="78.25" cy="403.14" r="0.56" fill="#e6d8e4" opacity="0.6"/>
<circle cx="71.31" cy="407.57" r="0.88" fill="#e6d8e4" opacity="0.6"/>
<circle cx="63.73" cy="409.68" r="0.81" fill="#e6d8e4" opacity="0.6"/>
<circle cx="49.43" cy="451.50" r="0.63" fill="#e6d8e4" opacity="0.6"/>
<circle cx="74.50" cy="419.85" r="0.64" fill="#e6d8e4" opacity="0.6"/>
<circle cx="53.07" cy="403.31" r="0.83" fill="#e6d8e4" opacity="0.6"/>
<circle cx="55.89" cy="443.51" r="0.50" fill="#e6d8e4" opacity="0.6"/>
<circle cx="98.97" cy="449.66" r="0.78" fill="#e6d8e4" opacity="0.6"/>
<circle cx="86.88" cy="432.72" r="0.76" fill="#e6d8e4" opacity="0.6"/>
<circle cx="49.29" cy="427.07" r="0.81" fill="#e6d8e4" opacity="0.6"/>
<circle cx="53.90" cy="451.24" r="0.84" fill="#e6d8e4" opacity="0.6"/>
<circle cx="66.14" cy="421.06" r="0.63" fill="#e6d8e4" opacity="0.6"/>
<circle cx="64.75" cy="455.12" r="0.59" fill="#e6d8e4" opacity="0.6"/>
<circle cx="43.68" cy="406.35" r="0.76" fill="#e6d8e4" opacity="0.6"/>
<circle cx="100.38" cy="428.13" r="0.65" fill="#e6d8e4" opacity="0.6"/>
<circle cx="74.41" cy="441.78" r="0.51" fill="#e6d8e4" opacity="0.6"/>
<circle cx="77.84" cy="431.41" r="0.71" fill="#e6d8e4" opacity="0.6"/>
<circle cx="52.71" cy="410.50" r="0.57" fill="#e6d8e4" opacity="0.6"/>
<circle cx="96.52" cy="420.05" r="0.70" fill="#e6d8e4" opacity="0.6"/>
<circle cx="60.10" cy="406.89" r="0.43" fill="#e6d8e4" opacity="0.6"/>
<circle cx="89.86" cy="443.34" r="0.59" fill="#e6d8e4" opacity="0.6"/>
<circle cx="82.21" cy="437.87" r="0.85" fill="#e6d8e4" opacity="0.6"/>
<circle cx="98.35" cy="423.32" r="0.89" fill="#e6d8e4" opacity="0.6"/>
<circle cx="98.54" cy="433.25" r="0.84" fill="#e6d8e4" opacity="0.6"/>
<circle cx="70.92" cy="421.62" r="0.52" fill="#e6d8e4" opacity="0.6"/>
<circle cx="93.53" cy="410.08" r="0.43" fill="#e6d8e4" opacity="0.6"/>
<circle cx="89.37" cy="443.17" r="0.64" fill="#e6d8e4" opacity="0.6"/>
<circle cx="91.23" cy="404.12" r="0.53" fill="#e6d8e4" opacity="0.6"/>
<circle cx="59.12" cy="424.00" r="0.49" fill="#e6d8e4" opacity="0.6"/>
<circle cx="46.18" cy="419.59" r="0.85" fill="#e6d8e4" opacity="0.6"/>
<circle cx="99.83" cy="441.65" r="0.64" fill="#e6d8e4" opacity="0.6"/>
<circle cx="56.91" cy="453.18" r="0.66" fill="#e6d8e4" opacity="0.6"/>
<circle cx="84.87" cy="402.83" r="0.51" fill="#e6d8e4" opacity="0.6"/>
<circle cx="91.31" cy="444.32" r="0.84" fill="#e6d8e4" opacity="0.6"/>
<circle cx="77.40" cy="424.35" r="0.69" fill="#e6d8e4" opacity="0.6"/>
<circle cx="91.96" cy="417.96" r="0.67" fill="#e6d8e4" opacity="0.6"/>
<circle cx="58.30" cy="442.86" r="0.41" fill="#e6d8e4" opacity="0.6"/>
<circle cx="82.33" cy="452.91" r="0.41" fill="#e6d8e4" opacity="0.6"/>
<circle cx="76.95" cy="436.13" r="0.83" fill="#e6d8e4" opacity="0.6"/>
<circle cx="76.40" cy="415.21" r="0.60" fill="#e6d8e4" opacity="0.6"/>
<circle cx="98.38" cy="450.29" r="0.47" fill="#e6d8e4" opacity="0.6"/>
<circle cx="47.67" cy="406.38" r="0.41" fill="#e6d8e4" opacity="0.6"/>
<circle cx="68.33" cy="408.92" r="0.83" fill="#e6d8e4" opacity="0.6"/>
<circle cx="80.57" cy="408.15" r="0.67" fill="#e6d8e4" opacity="0.6"/>
<circle cx="61.14" cy="428.02" r="0.51" fill="#e6d8e4" opacity="0.6"/>
<circle cx="51.85" cy="411.25" r="0.59" fill="#e6d8e4" opacity="0.6"/>
<circle cx="83.78" cy="431.06" r="0.42" fill="#e6d8e4" opacity="0.6"/>
<circle cx="83.83" cy="448.58" r="0.79" fill="#e6d8e4" opacity="0.6"/>
<circle cx="88.52" cy="401.72" r="0.63" fill="#e6d8e4" opacity="0.6"/>
<circle cx="45.83" cy="442.63" r="0.49" fill="#e6d8e4" opacity="0.6"/>
<circle cx="83.86" cy="414.98" r="0.75" fill="#e6d8e4" opacity="0.6"/>
<circle cx="60.51" cy="403.57" r="0.59" fill="#e6d8e4" opacity="0.6"/>
<circle cx="60.26" cy="450.03" r="0.55" fill="#e6d8e4" opacity="0.6"/>
<circle cx="71.63" cy="431.02" r="0.87" fill="#e6d8e4" opacity="0.6"/>
<circle cx="47.89" cy="433.82" r="0.65" fill="#e6d8e4" opacity="0.6"/>
<circle cx="85.22" cy="453.62" r="0.56" fill="#e6d8e4" opacity="0.6"/>
<circle cx="83.16" cy="429.75" r="0.68" fill="#e6d8e4" opacity="0.6"/>
<circle cx="45.84" cy="445.37" r="0.89" fill="#e6d8e4" opacity="0.6"/>
<circle cx="62.95" cy="418.51" r="0.90" fill="#e6d8e4" opacity="0.6"/>
<circle cx="48.42" cy="405.42" r="0.44" fill="#e6d8e4" opacity="0.6"/>
<circle cx="89.90" cy="442.41" r="0.62" fill="#e6d8e4" opacity="0.6"/>
<circle cx="78.58" cy="402.37" r="0.72" fill="#e6d8e4" opacity="0.6"/>
<circle cx="68.08" cy="429.29" r="0.59" fill="#e6d8e4" opacity="0.6"/>
<circle cx="65.67" cy="413.50" r="0.42" fill="#e6d8e4" opacity="0.6"/>
<circle cx="67.57" cy="414.67" r="0.75" fill="#e6d8e4" opacity="0.6"/>
<circle cx="90.08" cy="440.46" r="0.63" fill="#e6d8e4" opacity="0.6"/>
<circle cx="55.98" cy="422.15" r="0.64" fill="#e6d8e4" opacity="0.6"/>
<circle cx="79.19" cy="453.41" r="0.44" fill="#e6d8e4" opacity="0.6"/>
<circle cx="70.26" cy="427.91" r="0.76" fill="#e6d8e4" opacity="0.6"/>
<circle cx="94.37" cy="443.47" r="0.71" fill="#e6d8e4" opacity="0.6"/>
<circle cx="86.63" cy="437.44" r="0.83" fill="#e6d8e4" opacity="0.6"/>
<circle cx="83.13" cy="438.25" r="0.52" fill="#e6d8e4" opacity="0.6"/>
<circle cx="95.91" cy="422.18" r="0.71" fill="#e6d8e4" opacity="0.6"/>
<circle cx="90.52" cy="453.44" r="0.89" fill="#e6d8e4" opacity="0.6"/>
<circle cx="42.47" cy="418.21" r="0.56" fill="#e6d8e4" opacity="0.6"/>
<circle cx="65.06" cy="409.17" r="0.68" fill="#e6d8e4" opacity="0.6"/>
<circle cx="46.77" cy="417.67" r="0.87" fill="#e6d8e4" opacity="0.6"/>
<circle cx="85.68" cy="426.31" r="0.45" fill="#e6d8e4" opacity="0.6"/>
<circle cx="98.22" cy="439.38" r="0.50" fill="#e6d8e4" opacity="0.6"/>
<circle cx="61.78" cy="436.01" r="0.74" fill="#e6d8e4" opacity="0.6"/>
<circle cx="57.41" cy="452.76" r="0.56" fill="#e6d8e4" opacity="0.6"/>
<circle cx="57.02" cy="447.03" r="0.48" fill="#e6d8e4" opacity="0.6"/>
<circle cx="82.08" cy="412.11" r="0.70" fill="#e6d8e4" opacity="0.6"/>
<circle cx="58.38" cy="421.80" r="0.87" fill="#e6d8e4" opacity="0.6"/>
<circle cx="69.51" cy="424.94" r="0.71" fill="#e6d8e4" opacity="0.6"/>
<circle cx="58.57" cy="410.73" r="0.59" fill="#e6d8e4" opacity="0.6"/>
<circle cx="58.09" cy="411.50" r="0.88" fill="#e6d8e4" opacity="0.6"/>
<circle cx="44.12" cy="445.14" r="0.87" fill="#e6d8e4" opacity="0.6"/>
<circle cx="83.46" cy="402.33" r="0.65" fill="#e6d8e4" opacity="0.6"/>
<circle cx="44.41" cy="434.19" r="0.75" fill="#e6d8e4" opacity="0.6"/>
<circle cx="56.20" cy="401.71" r="0.67" fill="#e6d8e4" opacity="0.6"/>
<circle cx="47.65" cy="418.01" r="0.63" fill="#e6d8e4" opacity="0.6"/>
<circle cx="94.60" cy="421.32" r="0.47" fill="#e6d8e4" opacity="0.6"/>
<circle cx="88.57" cy="445.79" r="0.66" fill="#e6d8e4" opacity="0.6"/>
<circle cx="44.99" cy="411.45" r="0.60" fill="#e6d8e4" opacity="0.6"/>
<circle cx="74.50" cy="413.48" r="0.80" fill="#e6d8e4" opacity="0.6"/>
<circle cx="91.61" cy="451.35" r="0.84" fill="#e6d8e4" opacity="0.6"/>
<circle cx="43.13" cy="432.79" r="0.44" fill="#e6d8e4" opacity="0.6"/>
<circle cx="94.91" cy="441.71" r="0.78" fill="#e6d8e4" opacity="0.6"/>
<circle cx="53.15" cy="404.53" r="0.81" fill="#e6d8e4" opacity="0.6"/>
<circle cx="77.70" cy="434.86" r="0.64" fill="#e6d8e4" opacity="0.6"/>
<circle cx="89.07" cy="419.59" r="0.53" fill="#e6d8e4" opacity="0.6"/>
<circle cx="62.83" cy="417.42" r="0.71" fill="#e6d8e4" opacity="0.6"/>
<circle cx="94.35" cy="405.14" r="0.43" fill="#e6d8e4" opacity="0.6"/>
<circle cx="72.14" cy="437.98" r="0.49" fill="#e6d8e4" opacity="0.6"/>
<circle cx="57.94" cy="404.48" r="0.42" fill="#e6d8e4" opacity="0.6"/>
<circle cx="71.16" cy="438.13" r="0.73" fill="#e6d8e4" opacity="0.6"/>
<circle cx="51.39" cy="406.93" r="0.87" fill="#e6d8e4" opacity="0.6"/>
<circle cx="73.71" cy="423.40" r="0.75" fill="#e6d8e4" opacity="0.6"/>
<circle cx="84.82" cy="429.68" r="0.44" fill="#e6d8e4" opacity="0.6"/>
<circle cx="90.66" cy="412.86" r="0.42" fill="#e6d8e4" opacity="0.6"/>
<circle cx="62.78" cy="430.11" r="0.71" fill="#e6d8e4" opacity="0.6"/>
<circle cx="52.32" cy="439.69" r="0.65" fill="#e6d8e4" opacity="0.6"/>
<circle cx="51.61" cy="447.34" r="0.80" fill="#e6d8e4" opacity="0.6"/>
<circle cx="95.30" cy="438.06" r="0.51" fill="#e6d8e4" opacity="0.6"/>
<circle cx="87.75" cy="450.14" r="0.67" fill="#e6d8e4" opacity="0.6"/>
<circle cx="95.43" cy="453.79" r="0.60" fill="#e6d8e4" opacity="0.6"/>
<circle cx="97.39" cy="451.98" r="0.80" fill="#e6d8e4" opacity="0.6"/>
<circle cx="42.76" cy="420.34" r="0.71" fill="#e6d8e4" opacity="0.6"/>
<circle cx="77.74" cy="442.18" r="0.72" fill="#e6d8e4" opacity="0.6"/>
<circle cx="51.58" cy="451.66" r="0.67" fill="#e6d8e4" opacity="0.6"/>
<circle cx="93.86" cy="412.49" r="0.90" fill="#e6d8e4" opacity="0.6"/>
<circle cx="74.67" cy="443.26" r="0.77" fill="#e6d8e4" opacity="0.6"/>
<circle cx="93.92" cy="420.90" r="0.44" fill="#e6d8e4" opacity="0.6"/>
<circle cx="65.91" cy="410.94" r="0.67" fill="#e6d8e4" opacity="0.6"/>
<circle cx="89.94" cy="420.90" r="0.47" fill="#e6d8e4" opacity="0.6"/>
<circle cx="43.68" cy="424.18" r="0.69" fill="#e6d8e4" opacity="0.6"/>
<circle cx="43.64" cy="437.30" r="0.51" fill="#e6d8e4" opacity="0.6"/>
<circle cx="48.38" cy="451.49" r="0.66" fill="#e6d8e4" opacity="0.6"/>
<circle cx="94.64" cy="429.10" r="0.46" fill="#e6d8e4" opacity="0.6"/>
<circle cx="56.19" cy="424.25" r="0.72" fill="#e6d8e4" opacity="0.6"/>
<circle cx="87.35" cy="441.95" r="0.73" fill="#e6d8e4" opacity="0.6"/>
<circle cx="56.95" cy="424.57" r="0.59" fill="#e6d8e4" opacity="0.6"/>
<circle cx="70.84" cy="415.66" r="0.74" fill="#7e5f90" opacity="0.67"/>
<circle cx="88.42" cy="419.48" r="0.70" fill="#7a70b5" opacity="0.86"/>
<circle cx="85.00" cy="455.05" r="0.67" fill="#7e5f90" opacity="0.61"/>
<circle cx="87.74" cy="448.18" r="0.63" fill="#7e5f90" opacity="0.67"/>
<circle cx="55.44" cy="441.02" r="0.87" fill="#7e5f90" opacity="0.84"/>
<circle cx="43.69" cy="450.88" r="0.56" fill="#7a70b5" opacity="0.76"/>
<circle cx="64.96" cy="435.30" r="0.77" fill="#8a7cc0" opacity="0.62"/>
<circle cx="57.15" cy="406.96" r="0.80" fill="#8a7cc0" opacity="0.87"/>
<circle cx="88.64" cy="451.51" r="0.59" fill="#7a70b5" opacity="0.91"/>
<circle cx="46.63" cy="417.96" r="0.79" fill="#5a4f98" opacity="0.86"/>
<circle cx="97.00" cy="406.94" r="0.78" fill="#8a7cc0" opacity="0.68"/>
<circle cx="54.25" cy="428.22" r="0.82" fill="#5a4f98" opacity="0.61"/>
<circle cx="94.96" cy="451.15" r="0.74" fill="#6d62a8" opacity="0.67"/>
<circle cx="50.38" cy="404.42" r="0.81" fill="#7e5f90" opacity="0.62"/>
<circle cx="86.49" cy="433.86" r="0.73" fill="#8a7cc0" opacity="0.68"/>
<circle cx="83.45" cy="427.70" r="0.74" fill="#4a3f80" opacity="0.73"/>
<circle cx="79.45" cy="435.69" r="0.66" fill="#7a70b5" opacity="0.74"/>
<circle cx="68.15" cy="436.35" r="0.82" fill="#4a3f80" opacity="0.68"/>
<circle cx="88.44" cy="402.38" r="0.79" fill="#7e5f90" opacity="0.90"/>
<circle cx="87.57" cy="450.11" r="0.84" fill="#7a70b5" opacity="0.77"/>
<circle cx="51.79" cy="444.53" r="0.65" fill="#7a70b5" opacity="0.70"/>
<circle cx="98.72" cy="426.01" r="0.59" fill="#6d62a8" opacity="0.82"/>
<circle cx="91.84" cy="413.26" r="0.55" fill="#4a3f80" opacity="0.83"/>
<circle cx="78.99" cy="407.92" r="0.56" fill="#8a7cc0" opacity="0.84"/>
<circle cx="73.72" cy="405.90" r="0.61" fill="#4a3f80" opacity="0.80"/>
<circle cx="56.47" cy="424.66" r="0.85" fill="#4a3f80" opacity="0.84"/>
<circle cx="89.79" cy="422.92" r="0.93" fill="#8a7cc0" opacity="0.73"/>
<circle cx="88.17" cy="403.16" r="0.72" fill="#7e5f90" opacity="0.87"/>
<circle cx="76.13" cy="411.15" r="0.92" fill="#6d62a8" opacity="0.87"/>
<circle cx="57.18" cy="426.82" r="0.62" fill="#5a4f98" opacity="0.70"/>
<circle cx="63.88" cy="427.86" r="0.62" fill="#7a70b5" opacity="0.62"/>
<circle cx="58.96" cy="406.19" r="0.65" fill="#5a4f98" opacity="0.86"/>
<circle cx="50.87" cy="417.98" r="0.55" fill="#8a7cc0" opacity="0.84"/>
<circle cx="95.32" cy="403.95" r="0.84" fill="#7e5f90" opacity="0.78"/>
<circle cx="48.34" cy="453.90" r="0.60" fill="#7a70b5" opacity="0.85"/>
<circle cx="44.84" cy="435.17" r="0.77" fill="#7e5f90" opacity="0.67"/>
<circle cx="95.71" cy="424.32" r="0.59" fill="#6d62a8" opacity="0.68"/>
<circle cx="51.81" cy="453.44" r="0.51" fill="#5a4f98" opacity="0.90"/>
<circle cx="98.69" cy="414.75" r="0.66" fill="#7e5f90" opacity="0.67"/>
<circle cx="83.26" cy="449.94" r="0.58" fill="#7a70b5" opacity="0.77"/>
<circle cx="61.38" cy="449.53" r="0.88" fill="#5a4f98" opacity="0.70"/>
<circle cx="86.13" cy="438.98" r="0.83" fill="#6d62a8" opacity="0.91"/>
<circle cx="56.54" cy="455.22" r="0.65" fill="#7e5f90" opacity="0.89"/>
<circle cx="88.05" cy="440.33" r="0.51" fill="#4a3f80" opacity="0.70"/>
<circle cx="57.77" cy="444.27" r="0.78" fill="#8a7cc0" opacity="0.68"/>
<circle cx="49.22" cy="402.62" r="0.59" fill="#7e5f90" opacity="0.94"/>
<circle cx="71.41" cy="439.26" r="0.73" fill="#5a4f98" opacity="0.83"/>
<circle cx="67.37" cy="437.22" r="0.63" fill="#5a4f98" opacity="0.78"/>
<circle cx="44.94" cy="439.88" r="0.84" fill="#5a4f98" opacity="0.76"/>
<circle cx="86.91" cy="403.92" r="0.79" fill="#6d62a8" opacity="0.66"/>
<circle cx="76.32" cy="436.61" r="0.89" fill="#7a70b5" opacity="0.74"/>
<circle cx="65.10" cy="440.71" r="0.55" fill="#7a70b5" opacity="0.60"/>
<circle cx="66.13" cy="444.14" r="0.89" fill="#7e5f90" opacity="0.82"/>
<circle cx="60.45" cy="439.27" r="0.88" fill="#5a4f98" opacity="0.79"/>
<circle cx="80.34" cy="435.39" r="0.59" fill="#5a4f98" opacity="0.89"/>
<circle cx="58.46" cy="443.68" r="0.50" fill="#7a70b5" opacity="0.62"/>
<circle cx="88.42" cy="438.81" r="0.73" fill="#6d62a8" opacity="0.88"/>
<circle cx="52.28" cy="432.31" r="0.75" fill="#5a4f98" opacity="0.90"/>
<circle cx="78.59" cy="410.44" r="0.84" fill="#6d62a8" opacity="0.66"/>
<circle cx="85.07" cy="423.61" r="0.65" fill="#8a7cc0" opacity="0.74"/>
<circle cx="88.56" cy="447.55" r="0.84" fill="#8a7cc0" opacity="0.61"/>
<circle cx="59.66" cy="413.62" r="0.87" fill="#5a4f98" opacity="0.95"/>
<circle cx="47.02" cy="453.48" r="0.91" fill="#7e5f90" opacity="0.85"/>
<circle cx="96.90" cy="411.22" r="0.82" fill="#7e5f90" opacity="0.94"/>
<circle cx="93.78" cy="450.62" r="0.54" fill="#8a7cc0" opacity="0.79"/>
<circle cx="95.19" cy="451.77" r="0.87" fill="#6d62a8" opacity="0.82"/>
<circle cx="42.62" cy="442.76" r="0.94" fill="#4a3f80" opacity="0.65"/>
<circle cx="79.40" cy="435.38" r="0.53" fill="#7e5f90" opacity="0.63"/>
<circle cx="66.02" cy="454.52" r="0.89" fill="#7e5f90" opacity="0.77"/>
<circle cx="57.67" cy="431.91" r="0.79" fill="#5a4f98" opacity="0.71"/>
<circle cx="96.53" cy="408.99" r="0.91" fill="#8a7cc0" opacity="0.71"/>
<circle cx="57.46" cy="420.37" r="0.74" fill="#6d62a8" opacity="0.73"/>
<circle cx="72.08" cy="450.61" r="0.79" fill="#5a4f98" opacity="0.76"/>
<circle cx="69.84" cy="429.19" r="0.61" fill="#4a3f80" opacity="0.77"/>
<circle cx="87.38" cy="438.41" r="0.64" fill="#4a3f80" opacity="0.81"/>
<circle cx="70.47" cy="424.03" r="0.60" fill="#7a70b5" opacity="0.67"/>
<circle cx="52.65" cy="430.56" r="0.93" fill="#5a4f98" opacity="0.63"/>
<circle cx="84.57" cy="415.66" r="0.84" fill="#7e5f90" opacity="0.81"/>
<circle cx="57.97" cy="428.46" r="0.54" fill="#4a3f80" opacity="0.83"/>
<circle cx="79.01" cy="407.56" r="0.63" fill="#6d62a8" opacity="0.67"/>
<circle cx="73.67" cy="438.98" r="0.73" fill="#4a3f80" opacity="0.78"/>
<circle cx="88.95" cy="435.77" r="0.79" fill="#8a7cc0" opacity="0.75"/>
<circle cx="82.24" cy="437.82" r="0.62" fill="#8a7cc0" opacity="0.66"/>
<circle cx="53.38" cy="439.78" r="0.94" fill="#7e5f90" opacity="0.67"/>
<circle cx="81.47" cy="454.99" r="0.92" fill="#8a7cc0" opacity="0.83"/>
<circle cx="65.42" cy="416.62" r="0.83" fill="#5a4f98" opacity="0.62"/>
<circle cx="63.37" cy="421.54" r="0.65" fill="#7e5f90" opacity="0.78"/>
<circle cx="57.58" cy="409.98" r="0.90" fill="#5a4f98" opacity="0.64"/>
<circle cx="80.56" cy="450.36" r="0.58" fill="#4a3f80" opacity="0.66"/>
<circle cx="77.03" cy="440.32" r="0.80" fill="#6d62a8" opacity="0.61"/>
<circle cx="45.11" cy="437.72" r="0.87" fill="#4a3f80" opacity="0.81"/>
<circle cx="52.00" cy="422.77" r="0.87" fill="#7e5f90" opacity="0.87"/>
<circle cx="99.71" cy="409.20" r="0.92" fill="#7e5f90" opacity="0.83"/>
<circle cx="68.39" cy="423.14" r="0.93" fill="#7a70b5" opacity="0.64"/>
<circle cx="81.41" cy="436.17" r="0.87" fill="#6d62a8" opacity="0.64"/>
<circle cx="61.87" cy="407.52" r="0.67" fill="#8a7cc0" opacity="0.72"/>
<circle cx="65.66" cy="440.81" r="0.62" fill="#8a7cc0" opacity="0.92"/>
<circle cx="45.26" cy="442.74" r="0.91" fill="#4a3f80" opacity="0.69"/>
<circle cx="63.10" cy="428.27" r="0.64" fill="#6d62a8" opacity="0.76"/>
<circle cx="66.28" cy="425.73" r="0.72" fill="#7a70b5" opacity="0.91"/>
<circle cx="89.14" cy="423.56" r="0.79" fill="#6d62a8" opacity="0.87"/>
<circle cx="85.59" cy="432.38" r="0.61" fill="#7a70b5" opacity="0.70"/>
<circle cx="88.77" cy="424.38" r="0.85" fill="#8a7cc0" opacity="0.87"/>
<circle cx="64.41" cy="419.83" r="0.93" fill="#5a4f98" opacity="0.71"/>
<circle cx="91.47" cy="416.68" r="0.87" fill="#8a7cc0" opacity="0.76"/>
<circle cx="98.55" cy="406.18" r="0.62" fill="#8a7cc0" opacity="0.64"/>
<circle cx="71.33" cy="436.67" r="0.64" fill="#7e5f90" opacity="0.72"/>
<circle cx="55.45" cy="415.34" r="0.85" fill="#5a4f98" opacity="0.66"/>
<circle cx="86.12" cy="405.47" r="0.67" fill="#7e5f90" opacity="0.79"/>
<circle cx="98.82" cy="429.08" r="0.72" fill="#4a3f80" opacity="0.86"/>
<circle cx="50.62" cy="444.79" r="0.68" fill="#8a7cc0" opacity="0.94"/>
<circle cx="71.05" cy="423.81" r="0.60" fill="#7a70b5" opacity="0.89"/>
<circle cx="43.19" cy="436.38" r="0.59" fill="#7a70b5" opacity="0.81"/>
<circle cx="77.19" cy="441.09" r="0.76" fill="#7e5f90" opacity="0.70"/>
<circle cx="47.57" cy="432.82" r="0.62" fill="#6d62a8" opacity="0.84"/>
<circle cx="91.04" cy="414.52" r="0.72" fill="#7e5f90" opacity="0.75"/>
<circle cx="45.72" cy="454.46" r="0.83" fill="#7a70b5" opacity="0.61"/>
<circle cx="73.76" cy="408.22" r="0.94" fill="#4a3f80" opacity="0.93"/>
<circle cx="64.84" cy="452.44" r="0.71" fill="#6d62a8" opacity="0.80"/>
<circle cx="57.94" cy="435.31" r="0.52" fill="#8a7cc0" opacity="0.71"/>
<circle cx="52.91" cy="403.56" r="0.93" fill="#5a4f98" opacity="0.80"/>
<circle cx="90.70" cy="428.98" r="0.57" fill="#4a3f80" opacity="0.78"/>
<circle cx="88.49" cy="454.23" r="0.62" fill="#8a7cc0" opacity="0.82"/>
<circle cx="47.22" cy="429.66" r="0.67" fill="#7e5f90" opacity="0.87"/>
<circle cx="56.82" cy="427.58" r="0.79" fill="#7a70b5" opacity="0.69"/>
<circle cx="81.16" cy="413.05" r="0.57" fill="#7e5f90" opacity="0.85"/>
<circle cx="79.36" cy="422.67" r="0.76" fill="#6d62a8" opacity="0.79"/>
<circle cx="70.28" cy="415.30" r="0.91" fill="#5a4f98" opacity="0.66"/>
<circle cx="90.80" cy="408.82" r="0.91" fill="#4a3f80" opacity="0.68"/>
<circle cx="96.21" cy="435.64" r="0.59" fill="#7a70b5" opacity="0.90"/>
<circle cx="60.52" cy="448.09" r="0.56" fill="#7a70b5" opacity="0.70"/>
<circle cx="81.51" cy="416.44" r="0.66" fill="#7a70b5" opacity="0.67"/>
<circle cx="90.20" cy="411.23" r="0.88" fill="#7a70b5" opacity="0.91"/>
<circle cx="44.03" cy="443.75" r="0.61" fill="#7a70b5" opacity="0.82"/>
<circle cx="76.01" cy="423.34" r="0.79" fill="#7a70b5" opacity="0.72"/>
<circle cx="74.45" cy="441.49" r="0.52" fill="#6d62a8" opacity="0.88"/>
<circle cx="51.30" cy="437.70" r="0.70" fill="#4a3f80" opacity="0.65"/>
<circle cx="98.75" cy="424.91" r="0.81" fill="#5a4f98" opacity="0.65"/>
<circle cx="93.33" cy="429.29" r="0.52" fill="#7e5f90" opacity="0.64"/>
<circle cx="74.89" cy="428.56" r="0.64" fill="#7e5f90" opacity="0.93"/>
<circle cx="58.79" cy="402.27" r="0.61" fill="#7e5f90" opacity="0.89"/>
<circle cx="53.03" cy="419.08" r="0.71" fill="#8a7cc0" opacity="0.72"/>
<circle cx="52.41" cy="439.77" r="0.70" fill="#8a7cc0" opacity="0.89"/>
<circle cx="55.15" cy="436.55" r="0.58" fill="#4a3f80" opacity="0.88"/>
<circle cx="84.46" cy="427.83" r="0.77" fill="#7e5f90" opacity="0.66"/>
<circle cx="62.85" cy="409.43" r="0.70" fill="#4a3f80" opacity="0.90"/>
<circle cx="74.44" cy="455.10" r="0.71" fill="#7a70b5" opacity="0.63"/>
<circle cx="64.31" cy="432.20" r="0.87" fill="#4a3f80" opacity="0.62"/>
<circle cx="61.11" cy="417.49" r="0.74" fill="#7a70b5" opacity="0.81"/>
<circle cx="43.32" cy="436.84" r="0.50" fill="#7a70b5" opacity="0.76"/>
<circle cx="88.72" cy="446.40" r="0.81" fill="#8a7cc0" opacity="0.63"/>
<circle cx="54.25" cy="438.90" r="0.92" fill="#6d62a8" opacity="0.94"/>
<circle cx="82.09" cy="409.89" r="0.59" fill="#7e5f90" opacity="0.61"/>
<circle cx="46.72" cy="449.51" r="0.72" fill="#4a3f80" opacity="0.61"/>
<circle cx="70.44" cy="424.59" r="0.77" fill="#5a4f98" opacity="0.87"/>
<circle cx="91.91" cy="454.98" r="0.75" fill="#8a7cc0" opacity="0.86"/>
<circle cx="49.66" cy="411.96" r="0.85" fill="#8a7cc0" opacity="0.87"/>
<circle cx="92.79" cy="429.12" r="0.63" fill="#7e5f90" opacity="0.73"/>
<circle cx="65.36" cy="440.08" r="0.62" fill="#4a3f80" opacity="0.79"/>
<circle cx="66.86" cy="452.20" r="0.52" fill="#5a4f98" opacity="0.94"/>
<circle cx="49.69" cy="449.93" r="0.79" fill="#7e5f90" opacity="0.90"/>
<circle cx="59.14" cy="440.17" r="0.74" fill="#7e5f90" opacity="0.85"/>
<circle cx="73.31" cy="406.18" r="0.89" fill="#7a70b5" opacity="0.68"/>
<circle cx="57.56" cy="424.27" r="0.54" fill="#7a70b5" opacity="0.60"/>
<circle cx="100.19" cy="419.64" r="0.93" fill="#6d62a8" opacity="0.90"/>
<circle cx="84.50" cy="436.95" r="0.86" fill="#7a70b5" opacity="0.64"/>
<circle cx="65.14" cy="409.10" r="0.53" fill="#5a4f98" opacity="0.86"/>
<circle cx="49.70" cy="450.80" r="0.77" fill="#7e5f90" opacity="0.78"/>
<circle cx="57.32" cy="431.85" r="0.57" fill="#6d62a8" opacity="0.94"/>
<circle cx="63.28" cy="424.81" r="0.63" fill="#7a70b5" opacity="0.83"/>
<circle cx="94.78" cy="444.30" r="0.60" fill="#5a4f98" opacity="0.81"/>
<circle cx="70.25" cy="418.85" r="0.72" fill="#6d62a8" opacity="0.90"/>
<circle cx="52.68" cy="449.01" r="0.57" fill="#4a3f80" opacity="0.75"/>
<circle cx="80.49" cy="416.27" r="0.75" fill="#5a4f98" opacity="0.74"/>
<circle cx="64.67" cy="424.99" r="0.57" fill="#8a7cc0" opacity="0.88"/>
<circle cx="100.13" cy="413.92" r="0.93" fill="#7e5f90" opacity="0.76"/>
<circle cx="84.45" cy="408.02" r="0.75" fill="#7a70b5" opacity="0.82"/>
<circle cx="57.88" cy="411.77" r="0.79" fill="#6d62a8" opacity="0.62"/>
<circle cx="42.31" cy="455.13" r="0.65" fill="#6d62a8" opacity="0.92"/>
<circle cx="86.57" cy="431.11" r="0.65" fill="#4a3f80" opacity="0.81"/>
<circle cx="96.52" cy="408.05" r="0.60" fill="#4a3f80" opacity="0.88"/>
<circle cx="42.32" cy="440.50" r="0.78" fill="#7e5f90" opacity="0.92"/>
<circle cx="99.54" cy="408.42" r="0.51" fill="#5a4f98" opacity="0.78"/>
<circle cx="93.21" cy="444.90" r="0.59" fill="#5a4f98" opacity="0.70"/>
<circle cx="95.72" cy="408.86" r="0.61" fill="#5a4f98" opacity="0.94"/>
<circle cx="63.92" cy="440.65" r="0.75" fill="#4a3f80" opacity="0.77"/>
<circle cx="43.84" cy="431.47" r="0.88" fill="#7e5f90" opacity="0.80"/>
<circle cx="46.99" cy="407.12" r="0.57" fill="#7e5f90" opacity="0.68"/>
<circle cx="71.49" cy="453.20" r="0.77" fill="#7e5f90" opacity="0.66"/>
<circle cx="63.79" cy="432.69" r="0.67" fill="#6d62a8" opacity="0.79"/>
<circle cx="96.06" cy="401.79" r="0.86" fill="#5a4f98" opacity="0.70"/>
<circle cx="57.93" cy="419.22" r="0.74" fill="#5a4f98" opacity="0.85"/>
<circle cx="89.35" cy="430.51" r="0.64" fill="#7e5f90" opacity="0.85"/>
<circle cx="42.13" cy="402.78" r="0.84" fill="#8a7cc0" opacity="0.74"/>
<circle cx="63.91" cy="433.82" r="0.63" fill="#7a70b5" opacity="0.71"/>
<circle cx="95.70" cy="425.82" r="0.82" fill="#7e5f90" opacity="0.68"/>
<circle cx="45.98" cy="402.81" r="0.56" fill="#6d62a8" opacity="0.61"/>
<circle cx="84.15" cy="425.97" r="0.76" fill="#7a70b5" opacity="0.92"/>
<circle cx="65.53" cy="423.82" r="0.87" fill="#8a7cc0" opacity="0.92"/>
<circle cx="51.28" cy="448.59" r="0.78" fill="#4a3f80" opacity="0.67"/>
<circle cx="96.97" cy="446.88" r="0.78" fill="#7e5f90" opacity="0.72"/>
<circle cx="55.09" cy="405.93" r="0.82" fill="#7e5f90" opacity="0.68"/>
<circle cx="64.15" cy="402.35" r="0.89" fill="#7a70b5" opacity="0.78"/>
<circle cx="66.92" cy="444.10" r="0.56" fill="#4a3f80" opacity="0.62"/>
<circle cx="67.59" cy="454.76" r="0.50" fill="#5a4f98" opacity="0.94"/>
<circle cx="48.14" cy="453.87" r="0.94" fill="#7e5f90" opacity="0.63"/>
<circle cx="77.34" cy="403.87" r="0.70" fill="#7a70b5" opacity="0.86"/>
<circle cx="87.88" cy="407.55" r="0.77" fill="#5a4f98" opacity="0.92"/>
<circle cx="85.24" cy="447.26" r="0.64" fill="#8a7cc0" opacity="0.78"/>
<circle cx="55.57" cy="451.07" r="0.50" fill="#7e5f90" opacity="0.70"/>
<circle cx="94.88" cy="434.15" r="0.71" fill="#5a4f98" opacity="0.84"/>
<circle cx="80.31" cy="434.19" r="0.76" fill="#7a70b5" opacity="0.92"/>
<circle cx="94.62" cy="437.36" r="0.65" fill="#4a3f80" opacity="0.77"/>
<circle cx="79.22" cy="431.84" r="0.72" fill="#6d62a8" opacity="0.91"/>
<circle cx="86.39" cy="412.29" r="0.65" fill="#6d62a8" opacity="0.89"/>
<circle cx="60.11" cy="423.19" r="0.73" fill="#4a3f80" opacity="0.64"/>
<circle cx="95.97" cy="451.17" r="0.85" fill="#5a4f98" opacity="0.82"/>
<circle cx="71.13" cy="421.53" r="0.86" fill="#4a3f80" opacity="0.61"/>
<circle cx="47.16" cy="445.78" r="0.51" fill="#7e5f90" opacity="0.67"/>
<circle cx="99.41" cy="426.78" r="0.77" fill="#4a3f80" opacity="0.89"/>
<circle cx="66.44" cy="426.20" r="0.85" fill="#7a70b5" opacity="0.79"/>
<circle cx="47.38" cy="454.46" r="0.68" fill="#5a4f98" opacity="0.72"/>
<circle cx="62.22" cy="406.94" r="0.87" fill="#6d62a8" opacity="0.89"/>
<circle cx="45.26" cy="411.66" r="0.78" fill="#7a70b5" opacity="0.62"/>
<circle cx="56.90" cy="415.81" r="0.82" fill="#7a70b5" opacity="0.63"/>
<circle cx="69.50" cy="454.17" r="0.94" fill="#4a3f80" opacity="0.62"/>
<circle cx="66.02" cy="451.86" r="0.53" fill="#5a4f98" opacity="0.76"/>
<circle cx="45.61" cy="436.68" r="0.91" fill="#5a4f98" opacity="0.79"/>
<circle cx="47.95" cy="405.30" r="0.53" fill="#5a4f98" opacity="0.64"/>
<circle cx="69.99" cy="445.72" r="0.59" fill="#7e5f90" opacity="0.82"/>
<circle cx="81.05" cy="442.19" r="0.65" fill="#7e5f90" opacity="0.89"/>
<circle cx="98.60" cy="402.58" r="0.53" fill="#4a3f80" opacity="0.91"/>
<circle cx="45.16" cy="424.95" r="0.71" fill="#5a4f98" opacity="0.75"/>
<circle cx="87.03" cy="409.66" r="0.70" fill="#8a7cc0" opacity="0.78"/>
<circle cx="86.96" cy="442.07" r="0.91" fill="#4a3f80" opacity="0.92"/>
<circle cx="60.57" cy="446.06" r="0.56" fill="#8a7cc0" opacity="0.82"/>
<circle cx="69.53" cy="432.93" r="0.81" fill="#6d62a8" opacity="0.94"/>
<circle cx="90.37" cy="413.34" r="0.54" fill="#4a3f80" opacity="0.72"/>
<circle cx="85.54" cy="436.03" r="0.89" fill="#8a7cc0" opacity="0.69"/>
<circle cx="90.29" cy="453.28" r="0.92" fill="#6d62a8" opacity="0.64"/>
<circle cx="92.44" cy="419.95" r="0.85" fill="#5a4f98" opacity="0.94"/>
<circle cx="60.99" cy="432.69" r="0.91" fill="#8a7cc0" opacity="0.80"/>
<circle cx="63.90" cy="446.88" r="0.57" fill="#8a7cc0" opacity="0.88"/>
<circle cx="64.09" cy="434.01" r="0.80" fill="#6d62a8" opacity="0.93"/>
<circle cx="66.99" cy="448.25" r="0.84" fill="#7a70b5" opacity="0.61"/>
<circle cx="57.78" cy="402.97" r="0.83" fill="#5a4f98" opacity="0.92"/>
<circle cx="90.82" cy="407.26" r="0.57" fill="#7a70b5" opacity="0.74"/>
<circle cx="88.37" cy="425.34" r="0.58" fill="#8a7cc0" opacity="0.69"/>
<circle cx="65.27" cy="415.53" r="0.67" fill="#4a3f80" opacity="0.74"/>
<circle cx="91.42" cy="420.48" r="0.93" fill="#7a70b5" opacity="0.73"/>
<circle cx="96.78" cy="445.24" r="0.94" fill="#4a3f80" opacity="0.75"/>
<circle cx="68.60" cy="408.31" r="0.74" fill="#4a3f80" opacity="0.67"/>
<circle cx="60.62" cy="404.86" r="0.70" fill="#7e5f90" opacity="0.83"/>
<circle cx="55.13" cy="443.73" r="0.90" fill="#5a4f98" opacity="0.75"/>
<circle cx="83.32" cy="405.31" r="0.76" fill="#8a7cc0" opacity="0.62"/>
<circle cx="97.66" cy="448.22" r="0.70" fill="#5a4f98" opacity="0.82"/>
<circle cx="66.84" cy="422.37" r="0.89" fill="#7e5f90" opacity="0.61"/>
<circle cx="97.50" cy="413.57" r="0.78" fill="#8a7cc0" opacity="0.72"/>
<circle cx="98.15" cy="415.58" r="0.77" fill="#5a4f98" opacity="0.70"/>
<circle cx="93.11" cy="442.24" r="0.57" fill="#7e5f90" opacity="0.64"/>
<circle cx="88.83" cy="432.47" r="0.92" fill="#4a3f80" opacity="0.92"/>
<circle cx="52.39" cy="442.46" r="0.68" fill="#6d62a8" opacity="0.82"/>
<circle cx="92.69" cy="430.29" r="0.59" fill="#7a70b5" opacity="0.85"/>
<circle cx="51.38" cy="426.23" r="0.88" fill="#4a3f80" opacity="0.69"/>
<circle cx="95.80" cy="429.78" r="0.65" fill="#7e5f90" opacity="0.84"/>
<circle cx="92.80" cy="432.44" r="0.93" fill="#4a3f80" opacity="0.83"/>
<circle cx="56.10" cy="442.18" r="0.84" fill="#4a3f80" opacity="0.86"/>
<circle cx="97.39" cy="444.75" r="0.71" fill="#6d62a8" opacity="0.80"/>
<circle cx="96.04" cy="405.91" r="0.83" fill="#8a7cc0" opacity="0.92"/>
<circle cx="87.70" cy="425.83" r="0.75" fill="#6d62a8" opacity="0.75"/>
<circle cx="62.23" cy="415.65" r="0.82" fill="#8a7cc0" opacity="0.78"/>
<circle cx="51.58" cy="410.91" r="0.54" fill="#7e5f90" opacity="0.86"/>
<circle cx="72.75" cy="442.05" r="0.86" fill="#7e5f90" opacity="0.88"/>
<circle cx="71.48" cy="403.80" r="0.58" fill="#7a70b5" opacity="0.69"/>
<circle cx="53.45" cy="421.01" r="0.91" fill="#7a70b5" opacity="0.66"/>
<circle cx="85.45" cy="455.16" r="0.82" fill="#5a4f98" opacity="0.92"/>
<circle cx="60.41" cy="406.03" r="0.94" fill="#4a3f80" opacity="0.90"/>
<circle cx="70.20" cy="439.54" r="0.58" fill="#7a70b5" opacity="0.80"/>
<circle cx="53.31" cy="435.09" r="0.87" fill="#7e5f90" opacity="0.71"/>
<circle cx="82.13" cy="404.60" r="0.65" fill="#7a70b5" opacity="0.74"/>
<circle cx="76.53" cy="415.94" r="0.62" fill="#8a7cc0" opacity="0.70"/>
<circle cx="70.16" cy="446.14" r="0.75" fill="#5a4f98" opacity="0.67"/>
<circle cx="52.97" cy="404.78" r="0.82" fill="#7a70b5" opacity="0.82"/>
<circle cx="93.52" cy="405.19" r="0.84" fill="#7e5f90" opacity="0.93"/>
<circle cx="96.81" cy="429.82" r="0.60" fill="#4a3f80" opacity="0.68"/>
<circle cx="46.19" cy="421.53" r="0.83" fill="#8a7cc0" opacity="0.74"/>
<circle cx="93.30" cy="414.59" r="0.82" fill="#6d62a8" opacity="0.77"/>
<circle cx="73.95" cy="441.48" r="0.76" fill="#5a4f98" opacity="0.92"/>
<circle cx="72.57" cy="420.80" r="0.73" fill="#5a4f98" opacity="0.85"/>
<circle cx="86.79" cy="447.33" r="0.62" fill="#7a70b5" opacity="0.74"/>
<circle cx="60.96" cy="404.58" r="0.51" fill="#4a3f80" opacity="0.65"/>
<circle cx="94.21" cy="426.10" r="0.69" fill="#5a4f98" opacity="0.82"/>
<circle cx="57.91" cy="413.78" r="0.65" fill="#5a4f98" opacity="0.77"/>
<circle cx="65.01" cy="446.21" r="0.68" fill="#8a7cc0" opacity="0.84"/>
<circle cx="85.66" cy="407.32" r="0.81" fill="#5a4f98" opacity="0.87"/>
<circle cx="92.31" cy="435.74" r="0.95" fill="#8a7cc0" opacity="0.60"/>
<circle cx="76.39" cy="429.71" r="0.79" fill="#6d62a8" opacity="0.93"/>
<circle cx="62.83" cy="442.57" r="0.65" fill="#8a7cc0" opacity="0.60"/>
<circle cx="44.69" cy="449.56" r="0.62" fill="#6d62a8" opacity="0.77"/>
<circle cx="54.09" cy="428.53" r="0.87" fill="#4a3f80" opacity="0.95"/>
<circle cx="44.82" cy="446.11" r="0.77" fill="#5a4f98" opacity="0.74"/>
<circle cx="86.02" cy="416.73" r="0.87" fill="#5a4f98" opacity="0.94"/>
<circle cx="60.73" cy="413.38" r="0.56" fill="#7a70b5" opacity="0.91"/>
<circle cx="49.18" cy="429.89" r="0.66" fill="#7a70b5" opacity="0.84"/>
<circle cx="90.87" cy="430.00" r="0.63" fill="#8a7cc0" opacity="0.92"/>
<circle cx="66.28" cy="453.39" r="0.83" fill="#6d62a8" opacity="0.72"/>
<circle cx="88.10" cy="426.76" r="0.85" fill="#4a3f80" opacity="0.63"/>
<circle cx="66.22" cy="418.74" r="0.82" fill="#7e5f90" opacity="0.88"/>
<circle cx="67.31" cy="408.80" r="0.93" fill="#6d62a8" opacity="0.92"/>
<circle cx="48.39" cy="450.40" r="0.60" fill="#6d62a8" opacity="0.93"/>
<circle cx="70.44" cy="403.70" r="0.60" fill="#8a7cc0" opacity="0.94"/>
<circle cx="87.83" cy="446.08" r="0.57" fill="#7a70b5" opacity="0.73"/>
<circle cx="95.06" cy="416.15" r="0.77" fill="#6d62a8" opacity="0.69"/>
<circle cx="75.07" cy="434.20" r="0.94" fill="#7e5f90" opacity="0.74"/>
<circle cx="76.48" cy="430.32" r="0.62" fill="#6d62a8" opacity="0.61"/>
<circle cx="67.40" cy="455.25" r="0.69" fill="#6d62a8" opacity="0.76"/>
<circle cx="86.46" cy="432.53" r="0.67" fill="#6d62a8" opacity="0.83"/>
<circle cx="51.33" cy="447.04" r="0.53" fill="#7a70b5" opacity="0.82"/>
<circle cx="96.70" cy="441.50" r="0.92" fill="#4a3f80" opacity="0.64"/>
<circle cx="52.92" cy="426.52" r="0.55" fill="#7e5f90" opacity="0.90"/>
<circle cx="89.33" cy="449.67" r="0.60" fill="#6d62a8" opacity="0.89"/>
<circle cx="46.57" cy="407.74" r="0.52" fill="#4a3f80" opacity="0.79"/>
<circle cx="43.03" cy="434.81" r="0.63" fill="#8a7cc0" opacity="0.73"/>
<circle cx="91.05" cy="441.99" r="0.67" fill="#4a3f80" opacity="0.79"/>
<circle cx="58.01" cy="434.06" r="0.87" fill="#7e5f90" opacity="0.78"/>
<circle cx="67.47" cy="454.47" r="0.58" fill="#4a3f80" opacity="0.80"/>
<circle cx="47.89" cy="431.74" r="0.58" fill="#7e5f90" opacity="0.86"/>
<circle cx="91.51" cy="429.80" r="0.58" fill="#4a3f80" opacity="0.91"/>
<circle cx="97.13" cy="409.49" r="0.54" fill="#7e5f90" opacity="0.83"/>
<circle cx="55.21" cy="444.74" r="0.75" fill="#7a70b5" opacity="0.81"/>
<circle cx="54.31" cy="437.34" r="0.78" fill="#6d62a8" opacity="0.90"/>
<circle cx="56.56" cy="440.75" r="0.89" fill="#8a7cc0" opacity="0.86"/>
<circle cx="84.93" cy="429.02" r="0.74" fill="#4a3f80" opacity="0.82"/>
<circle cx="49.74" cy="447.59" r="0.55" fill="#4a3f80" opacity="0.93"/>
<circle cx="63.26" cy="445.26" r="0.89" fill="#5a4f98" opacity="0.74"/>
<circle cx="51.20" cy="406.78" r="0.60" fill="#7e5f90" opacity="0.65"/>
<circle cx="86.53" cy="407.47" r="0.87" fill="#6d62a8" opacity="0.91"/>
<circle cx="65.01" cy="454.04" r="0.69" fill="#8a7cc0" opacity="0.85"/>
<circle cx="55.93" cy="445.99" r="0.85" fill="#7e5f90" opacity="0.68"/>
<circle cx="54.97" cy="428.00" r="0.58" fill="#7a70b5" opacity="0.82"/>
<circle cx="53.80" cy="414.58" r="0.92" fill="#7e5f90" opacity="0.86"/>
<circle cx="67.91" cy="451.20" r="0.74" fill="#4a3f80" opacity="0.86"/>
<circle cx="84.06" cy="401.92" r="0.61" fill="#8a7cc0" opacity="0.81"/>
<circle cx="83.69" cy="447.03" r="0.80" fill="#6d62a8" opacity="0.76"/>
<circle cx="97.95" cy="429.43" r="0.61" fill="#7a70b5" opacity="0.83"/>
<circle cx="65.55" cy="441.92" r="0.74" fill="#7e5f90" opacity="0.60"/>
<circle cx="46.28" cy="426.42" r="0.67" fill="#6d62a8" opacity="0.95"/>
<circle cx="61.90" cy="421.20" r="0.75" fill="#7a70b5" opacity="0.65"/>
<circle cx="44.04" cy="449.26" r="0.66" fill="#5a4f98" opacity="0.87"/>
<circle cx="96.67" cy="451.80" r="0.62" fill="#8a7cc0" opacity="0.84"/>
<circle cx="78.83" cy="427.69" r="0.91" fill="#4a3f80" opacity="0.71"/>
<circle cx="61.13" cy="429.56" r="0.55" fill="#5a4f98" opacity="0.85"/>
<circle cx="69.04" cy="418.63" r="0.65" fill="#7e5f90" opacity="0.92"/>
<circle cx="98.13" cy="408.94" r="0.71" fill="#5a4f98" opacity="0.68"/>
<circle cx="72.89" cy="437.14" r="0.77" fill="#8a7cc0" opacity="0.94"/>
<circle cx="61.41" cy="433.20" r="0.93" fill="#7e5f90" opacity="0.80"/>
<circle cx="89.34" cy="416.49" r="0.63" fill="#7e5f90" opacity="0.63"/>
<circle cx="89.22" cy="407.97" r="0.94" fill="#8a7cc0" opacity="0.90"/>
<circle cx="73.79" cy="439.19" r="0.67" fill="#6d62a8" opacity="0.72"/>
<circle cx="69.64" cy="453.32" r="0.75" fill="#6d62a8" opacity="0.94"/>
<circle cx="59.83" cy="432.16" r="0.83" fill="#8a7cc0" opacity="0.88"/>
<circle cx="60.79" cy="424.62" r="0.89" fill="#6d62a8" opacity="0.71"/>
<circle cx="62.80" cy="444.63" r="0.90" fill="#4a3f80" opacity="0.93"/>
<circle cx="53.28" cy="444.59" r="0.74" fill="#8a7cc0" opacity="0.76"/>
<circle cx="44.95" cy="418.01" r="0.63" fill="#5a4f98" opacity="0.85"/>
<circle cx="74.28" cy="407.43" r="0.93" fill="#8a7cc0" opacity="0.71"/>
<circle cx="88.27" cy="439.85" r="0.55" fill="#5a4f98" opacity="0.61"/>
<circle cx="49.41" cy="412.72" r="0.61" fill="#5a4f98" opacity="0.88"/>
<circle cx="87.67" cy="445.50" r="0.56" fill="#8a7cc0" opacity="0.63"/>
<circle cx="88.47" cy="431.98" r="0.71" fill="#5a4f98" opacity="0.76"/>
<circle cx="98.91" cy="417.67" r="0.66" fill="#7a70b5" opacity="0.91"/>
<circle cx="89.80" cy="438.85" r="0.63" fill="#4a3f80" opacity="0.82"/>
<circle cx="44.67" cy="419.85" r="0.67" fill="#6d62a8" opacity="0.85"/>
<circle cx="88.60" cy="450.86" r="0.94" fill="#7a70b5" opacity="0.86"/>
<circle cx="69.65" cy="453.33" r="0.52" fill="#5a4f98" opacity="0.92"/>
<circle cx="89.25" cy="432.17" r="0.78" fill="#7e5f90" opacity="0.75"/>
<circle cx="89.01" cy="409.12" r="0.55" fill="#6d62a8" opacity="0.78"/>
<circle cx="80.53" cy="451.97" r="0.55" fill="#6d62a8" opacity="0.75"/>
<circle cx="96.02" cy="450.75" r="0.83" fill="#8a7cc0" opacity="0.83"/>
<circle cx="79.61" cy="422.90" r="0.77" fill="#5a4f98" opacity="0.89"/>
<circle cx="68.89" cy="440.85" r="0.63" fill="#7e5f90" opacity="0.60"/>
<circle cx="75.39" cy="442.75" r="0.91" fill="#4a3f80" opacity="0.89"/>
<circle cx="62.77" cy="429.96" r="0.56" fill="#5a4f98" opacity="0.82"/>
<circle cx="57.04" cy="405.57" r="0.53" fill="#5a4f98" opacity="0.72"/>
<circle cx="95.03" cy="417.80" r="0.60" fill="#7e5f90" opacity="0.77"/>
<circle cx="90.66" cy="421.94" r="0.94" fill="#4a3f80" opacity="0.84"/>
<circle cx="64.69" cy="446.47" r="0.73" fill="#7a70b5" opacity="0.81"/>
<circle cx="89.39" cy="408.62" r="0.85" fill="#7e5f90" opacity="0.85"/>
<circle cx="92.81" cy="431.21" r="0.93" fill="#4a3f80" opacity="0.81"/>
<circle cx="66.10" cy="420.84" r="0.60" fill="#4a3f80" opacity="0.93"/>
<circle cx="72.97" cy="436.43" r="0.76" fill="#6d62a8" opacity="0.85"/>
<circle cx="83.01" cy="401.86" r="0.93" fill="#7e5f90" opacity="0.61"/>
<circle cx="87.34" cy="435.66" r="0.50" fill="#4a3f80" opacity="0.81"/>
<circle cx="44.42" cy="441.21" r="0.80" fill="#7e5f90" opacity="0.77"/>
<circle cx="96.09" cy="423.72" r="0.50" fill="#6d62a8" opacity="0.80"/>
<circle cx="59.18" cy="414.00" r="0.54" fill="#8a7cc0" opacity="0.83"/>
<circle cx="94.24" cy="451.56" r="0.66" fill="#7e5f90" opacity="0.82"/>
<circle cx="79.30" cy="417.61" r="0.74" fill="#6d62a8" opacity="0.89"/>
<circle cx="74.69" cy="420.61" r="0.82" fill="#7e5f90" opacity="0.80"/>
<circle cx="82.68" cy="432.09" r="0.94" fill="#5a4f98" opacity="0.84"/>
<circle cx="74.11" cy="438.31" r="0.93" fill="#7a70b5" opacity="0.87"/>
<circle cx="61.65" cy="415.81" r="0.89" fill="#6d62a8" opacity="0.68"/>
<circle cx="81.11" cy="402.51" r="0.85" fill="#7e5f90" opacity="0.65"/>
<circle cx="81.59" cy="446.34" r="0.95" fill="#8a7cc0" opacity="0.86"/>
<circle cx="47.04" cy="443.91" r="0.70" fill="#4a3f80" opacity="0.82"/>
<circle cx="54.00" cy="449.93" r="0.77" fill="#7a70b5" opacity="0.95"/>
<circle cx="64.27" cy="425.89" r="0.76" fill="#6d62a8" opacity="0.63"/>
<circle cx="87.71" cy="453.65" r="0.77" fill="#7e5f90" opacity="0.79"/>
<circle cx="96.50" cy="442.29" r="0.71" fill="#7e5f90" opacity="0.74"/>
<circle cx="72.19" cy="448.17" r="0.89" fill="#4a3f80" opacity="0.84"/>
<circle cx="90.58" cy="409.65" r="0.69" fill="#6d62a8" opacity="0.83"/>
<circle cx="89.43" cy="415.19" r="0.78" fill="#7a70b5" opacity="0.69"/>
<circle cx="68.89" cy="404.40" r="0.91" fill="#6d62a8" opacity="0.78"/>
<circle cx="75.48" cy="432.87" r="0.62" fill="#6d62a8" opacity="0.81"/>
<circle cx="73.58" cy="439.54" r="0.65" fill="#6d62a8" opacity="0.67"/>
<circle cx="99.58" cy="421.75" r="0.84" fill="#5a4f98" opacity="0.83"/>
<circle cx="51.92" cy="454.44" r="0.75" fill="#8a7cc0" opacity="0.61"/>
<circle cx="71.20" cy="433.62" r="0.60" fill="#8a7cc0" opacity="0.91"/>
<circle cx="83.43" cy="446.08" r="0.54" fill="#7a70b5" opacity="0.74"/>
<circle cx="88.10" cy="410.71" r="0.63" fill="#7a70b5" opacity="0.85"/>
<circle cx="92.09" cy="451.44" r="0.61" fill="#5a4f98" opacity="0.83"/>
<circle cx="95.31" cy="401.96" r="0.68" fill="#6d62a8" opacity="0.77"/>
<circle cx="54.48" cy="435.19" r="0.71" fill="#7a70b5" opacity="0.86"/>
<circle cx="64.50" cy="405.80" r="0.75" fill="#7e5f90" opacity="0.91"/>
<circle cx="73.88" cy="432.95" r="0.58" fill="#7a70b5" opacity="0.85"/>
<circle cx="98.92" cy="431.18" r="0.77" fill="#7a70b5" opacity="0.68"/>
<circle cx="52.70" cy="448.52" r="0.84" fill="#7a70b5" opacity="0.69"/>
<circle cx="71.66" cy="409.03" r="0.60" fill="#4a3f80" opacity="0.94"/>
<circle cx="56.51" cy="420.98" r="0.90" fill="#7e5f90" opacity="0.78"/>
<circle cx="81.10" cy="453.43" r="0.66" fill="#6d62a8" opacity="0.74"/>
<circle cx="65.33" cy="423.61" r="0.78" fill="#7e5f90" opacity="0.91"/>
<circle cx="76.85" cy="407.31" r="0.76" fill="#7e5f90" opacity="0.67"/>
<circle cx="61.52" cy="404.35" r="0.78" fill="#7a70b5" opacity="0.74"/>
<circle cx="85.37" cy="420.61" r="0.85" fill="#6d62a8" opacity="0.61"/>
<circle cx="81.66" cy="404.63" r="0.76" fill="#8a7cc0" opacity="0.68"/>
<circle cx="44.20" cy="417.36" r="0.65" fill="#4a3f80" opacity="0.87"/>
<circle cx="60.62" cy="411.69" r="0.69" fill="#7a70b5" opacity="0.69"/>
<circle cx="43.40" cy="403.73" r="0.62" fill="#8a7cc0" opacity="0.76"/>
<circle cx="61.96" cy="409.26" r="0.66" fill="#4a3f80" opacity="0.77"/>
<circle cx="77.66" cy="403.87" r="0.50" fill="#7e5f90" opacity="0.87"/>
<circle cx="69.42" cy="415.07" r="0.81" fill="#7e5f90" opacity="0.68"/>
<circle cx="92.57" cy="404.58" r="0.59" fill="#7e5f90" opacity="0.93"/>
<circle cx="53.31" cy="411.49" r="0.50" fill="#7e5f90" opacity="0.84"/>
<circle cx="53.96" cy="441.67" r="0.73" fill="#7e5f90" opacity="0.85"/>
<circle cx="98.57" cy="434.16" r="0.82" fill="#7e5f90" opacity="0.91"/>
<circle cx="60.80" cy="425.80" r="0.88" fill="#5a4f98" opacity="0.80"/>
<circle cx="62.87" cy="437.40" r="0.77" fill="#7e5f90" opacity="0.75"/>
<circle cx="70.30" cy="442.88" r="0.55" fill="#7e5f90" opacity="0.73"/>
<circle cx="91.48" cy="432.69" r="0.93" fill="#5a4f98" opacity="0.71"/>
<circle cx="100.29" cy="401.97" r="0.81" fill="#6d62a8" opacity="0.60"/>
<circle cx="62.44" cy="410.91" r="0.72" fill="#5a4f98" opacity="0.91"/>
<circle cx="66.24" cy="451.57" r="0.59" fill="#8a7cc0" opacity="0.80"/>
<circle cx="92.45" cy="444.82" r="0.86" fill="#7a70b5" opacity="0.68"/>
<circle cx="77.32" cy="433.12" r="0.77" fill="#7e5f90" opacity="0.63"/>
<circle cx="87.24" cy="435.91" r="0.73" fill="#7a70b5" opacity="0.93"/>
<circle cx="92.73" cy="428.92" r="0.81" fill="#4a3f80" opacity="0.81"/>
<circle cx="46.23" cy="422.93" r="0.81" fill="#6d62a8" opacity="0.63"/>
<circle cx="54.80" cy="411.80" r="0.71" fill="#4a3f80" opacity="0.81"/>
<circle cx="64.46" cy="436.23" r="0.54" fill="#5a4f98" opacity="0.61"/>
<circle cx="86.36" cy="420.25" r="0.54" fill="#4a3f80" opacity="0.67"/>
<circle cx="49.67" cy="451.91" r="0.63" fill="#7e5f90" opacity="0.70"/>
<circle cx="83.54" cy="427.46" r="0.86" fill="#7a70b5" opacity="0.64"/>
<circle cx="96.67" cy="410.76" r="0.63" fill="#7a70b5" opacity="0.68"/>
<circle cx="73.25" cy="435.55" r="0.91" fill="#8a7cc0" opacity="0.81"/>
<circle cx="43.85" cy="437.26" r="0.93" fill="#7e5f90" opacity="0.92"/>
<circle cx="49.56" cy="439.90" r="0.95" fill="#5a4f98" opacity="0.75"/>
<circle cx="100.25" cy="448.72" r="0.59" fill="#6d62a8" opacity="0.84"/>
<circle cx="61.07" cy="434.95" r="0.61" fill="#5a4f98" opacity="0.61"/>
<circle cx="70.55" cy="425.59" r="0.57" fill="#8a7cc0" opacity="0.68"/>
<circle cx="54.16" cy="405.59" r="0.53" fill="#8a7cc0" opacity="0.76"/>
<circle cx="86.59" cy="423.56" r="0.86" fill="#5a4f98" opacity="0.82"/>
<circle cx="54.64" cy="444.00" r="0.90" fill="#6d62a8" opacity="0.86"/>
<circle cx="42.99" cy="442.56" r="0.89" fill="#5a4f98" opacity="0.77"/>
<circle cx="61.75" cy="422.02" r="0.88" fill="#4a3f80" opacity="0.69"/>
<circle cx="89.97" cy="445.62" r="0.51" fill="#6d62a8" opacity="0.61"/>
<circle cx="63.80" cy="453.79" r="0.71" fill="#6d62a8" opacity="0.84"/>
<circle cx="91.72" cy="443.87" r="0.52" fill="#4a3f80" opacity="0.70"/>
<circle cx="64.14" cy="408.45" r="0.69" fill="#4a3f80" opacity="0.62"/>
<circle cx="84.78" cy="421.72" r="0.95" fill="#6d62a8" opacity="0.87"/>
<circle cx="69.46" cy="406.01" r="0.73" fill="#7a70b5" opacity="0.89"/>
<circle cx="81.75" cy="433.22" r="0.73" fill="#7a70b5" opacity="0.71"/>
<circle cx="50.17" cy="412.66" r="0.54" fill="#5a4f98" opacity="0.61"/>
<circle cx="74.87" cy="450.23" r="0.93" fill="#6d62a8" opacity="0.89"/>
<circle cx="60.65" cy="420.73" r="0.62" fill="#6d62a8" opacity="0.60"/>
<circle cx="76.60" cy="406.98" r="0.89" fill="#8a7cc0" opacity="0.73"/>
<circle cx="70.38" cy="446.49" r="0.66" fill="#7e5f90" opacity="0.76"/>
<circle cx="63.16" cy="438.57" r="0.89" fill="#5a4f98" opacity="0.91"/>
<circle cx="58.43" cy="446.77" r="0.92" fill="#5a4f98" opacity="0.60"/>
<circle cx="81.38" cy="426.01" r="0.57" fill="#5a4f98" opacity="0.94"/>
<circle cx="69.41" cy="454.34" r="0.73" fill="#8a7cc0" opacity="0.86"/>
<circle cx="55.08" cy="436.19" r="0.52" fill="#8a7cc0" opacity="0.75"/>
<circle cx="80.82" cy="449.33" r="0.84" fill="#4a3f80" opacity="0.87"/>
<circle cx="64.05" cy="410.63" r="0.91" fill="#7e5f90" opacity="0.94"/>
<circle cx="64.45" cy="442.01" r="0.79" fill="#4a3f80" opacity="0.67"/>
<circle cx="70.66" cy="437.23" r="0.55" fill="#7a70b5" opacity="0.66"/>
<circle cx="55.99" cy="408.37" r="0.55" fill="#4a3f80" opacity="0.75"/>
<circle cx="58.62" cy="429.62" r="0.62" fill="#7e5f90" opacity="0.74"/>
<circle cx="85.97" cy="433.90" r="0.62" fill="#8a7cc0" opacity="0.79"/>
<circle cx="89.09" cy="412.49" r="0.66" fill="#5a4f98" opacity="0.64"/>
<circle cx="60.83" cy="414.18" r="0.59" fill="#8a7cc0" opacity="0.83"/>
<circle cx="75.92" cy="433.20" r="0.69" fill="#7e5f90" opacity="0.83"/>
<circle cx="52.78" cy="410.46" r="0.51" fill="#7e5f90" opacity="0.91"/>
<circle cx="66.61" cy="407.14" r="0.78" fill="#7e5f90" opacity="0.88"/>
<circle cx="45.84" cy="444.77" r="0.90" fill="#7a70b5" opacity="0.67"/>
<circle cx="92.58" cy="426.88" r="0.66" fill="#5a4f98" opacity="0.68"/>
<circle cx="92.18" cy="406.13" r="0.82" fill="#7a70b5" opacity="0.81"/>
<circle cx="88.46" cy="451.36" r="0.75" fill="#5a4f98" opacity="0.86"/>
<circle cx="43.28" cy="427.33" r="0.86" fill="#7a70b5" opacity="0.86"/>
<circle cx="89.62" cy="436.10" r="0.82" fill="#4a3f80" opacity="0.94"/>
<circle cx="52.80" cy="438.80" r="0.52" fill="#7e5f90" opacity="0.65"/>
<circle cx="78.32" cy="441.77" r="0.76" fill="#5a4f98" opacity="0.90"/>
<circle cx="74.73" cy="448.29" r="0.53" fill="#5a4f98" opacity="0.67"/>
<circle cx="63.99" cy="441.75" r="0.56" fill="#5a4f98" opacity="0.90"/>
<circle cx="83.27" cy="416.60" r="0.55" fill="#6d62a8" opacity="0.64"/>
<circle cx="85.52" cy="440.61" r="0.74" fill="#7a70b5" opacity="0.72"/>
<circle cx="62.27" cy="421.77" r="0.67" fill="#4a3f80" opacity="0.90"/>
<circle cx="46.75" cy="429.99" r="0.63" fill="#7e5f90" opacity="0.74"/>
<circle cx="72.75" cy="416.76" r="0.65" fill="#8a7cc0" opacity="0.87"/>
<circle cx="49.40" cy="435.10" r="0.82" fill="#7e5f90" opacity="0.77"/>
<circle cx="56.62" cy="423.45" r="0.83" fill="#4a3f80" opacity="0.74"/>
<circle cx="50.31" cy="440.69" r="0.70" fill="#8a7cc0" opacity="0.68"/>
<circle cx="62.09" cy="440.12" r="0.52" fill="#7e5f90" opacity="0.91"/>
<circle cx="45.38" cy="432.54" r="0.54" fill="#5a4f98" opacity="0.72"/>
<circle cx="49.52" cy="437.67" r="0.82" fill="#4a3f80" opacity="0.69"/>
<circle cx="83.41" cy="452.17" r="0.74" fill="#8a7cc0" opacity="0.62"/>
<circle cx="78.21" cy="413.21" r="0.75" fill="#6d62a8" opacity="0.81"/>
<circle cx="93.53" cy="414.75" r="0.82" fill="#7a70b5" opacity="0.78"/>
<circle cx="86.13" cy="441.18" r="0.65" fill="#6d62a8" opacity="0.62"/>
<circle cx="99.73" cy="419.46" r="0.85" fill="#7e5f90" opacity="0.63"/>
<circle cx="54.65" cy="441.48" r="0.88" fill="#7a70b5" opacity="0.91"/>
<circle cx="65.67" cy="444.82" r="0.65" fill="#6d62a8" opacity="0.71"/>
<circle cx="90.19" cy="420.21" r="0.91" fill="#4a3f80" opacity="0.74"/>
<circle cx="51.91" cy="416.87" r="0.92" fill="#6d62a8" opacity="0.85"/>
<circle cx="93.65" cy="452.10" r="0.70" fill="#7e5f90" opacity="0.75"/>
<circle cx="95.98" cy="436.58" r="0.50" fill="#7a70b5" opacity="0.81"/>
<circle cx="58.14" cy="432.54" r="0.79" fill="#7e5f90" opacity="0.91"/>
<circle cx="75.05" cy="425.42" r="0.63" fill="#8a7cc0" opacity="0.78"/>
<circle cx="46.92" cy="424.77" r="0.89" fill="#8a7cc0" opacity="0.92"/>
<circle cx="47.56" cy="419.91" r="0.67" fill="#6d62a8" opacity="0.82"/>
<circle cx="91.18" cy="434.73" r="0.74" fill="#8a7cc0" opacity="0.76"/>
<circle cx="45.68" cy="412.53" r="0.55" fill="#4a3f80" opacity="0.83"/>
<circle cx="97.29" cy="402.71" r="0.76" fill="#6d62a8" opacity="0.62"/>
<circle cx="81.96" cy="436.20" r="0.87" fill="#4a3f80" opacity="0.72"/>
<circle cx="45.46" cy="425.57" r="0.59" fill="#8a7cc0" opacity="0.78"/>
<circle cx="86.20" cy="444.51" r="0.91" fill="#7a70b5" opacity="0.77"/>
<circle cx="84.97" cy="416.96" r="0.55" fill="#4a3f80" opacity="0.92"/>
<circle cx="44.35" cy="429.19" r="0.92" fill="#6d62a8" opacity="0.83"/>
<circle cx="52.99" cy="416.77" r="0.66" fill="#8a7cc0" opacity="0.94"/>
<circle cx="75.49" cy="404.07" r="0.68" fill="#5a4f98" opacity="0.94"/>
<circle cx="67.73" cy="445.18" r="0.87" fill="#8a7cc0" opacity="0.69"/>
<circle cx="50.58" cy="444.16" r="0.60" fill="#7e5f90" opacity="0.73"/>
<circle cx="74.28" cy="441.06" r="0.80" fill="#4a3f80" opacity="0.63"/>
<circle cx="87.49" cy="413.56" r="0.75" fill="#7a70b5" opacity="0.63"/>
<circle cx="44.86" cy="453.46" r="0.79" fill="#7a70b5" opacity="0.67"/>
<circle cx="81.40" cy="411.34" r="0.53" fill="#7a70b5" opacity="0.90"/>
<circle cx="47.63" cy="423.70" r="0.54" fill="#6d62a8" opacity="0.64"/>
<circle cx="45.35" cy="419.14" r="0.68" fill="#5a4f98" opacity="0.74"/>
<circle cx="43.99" cy="437.19" r="0.72" fill="#6d62a8" opacity="0.68"/>
<circle cx="45.06" cy="453.20" r="0.79" fill="#5a4f98" opacity="0.94"/>
<circle cx="75.58" cy="440.27" r="0.85" fill="#5a4f98" opacity="0.68"/>
<circle cx="92.62" cy="446.22" r="0.86" fill="#4a3f80" opacity="0.69"/>
<circle cx="77.46" cy="443.72" r="0.89" fill="#7e5f90" opacity="0.75"/>
<circle cx="62.20" cy="446.19" r="0.64" fill="#7a70b5" opacity="0.82"/>
<circle cx="76.58" cy="444.62" r="0.73" fill="#7a70b5" opacity="0.90"/>
<circle cx="83.15" cy="423.89" r="0.95" fill="#6d62a8" opacity="0.95"/>
<circle cx="100.38" cy="415.53" r="0.68" fill="#4a3f80" opacity="0.91"/>
<circle cx="86.45" cy="448.46" r="0.69" fill="#7e5f90" opacity="0.76"/>
<circle cx="44.99" cy="433.52" r="0.61" fill="#8a7cc0" opacity="0.71"/>
<circle cx="73.25" cy="418.44" r="0.70" fill="#5a4f98" opacity="0.88"/>
<circle cx="90.85" cy="449.26" r="0.71" fill="#4a3f80" opacity="0.89"/>
<circle cx="100.08" cy="445.79" r="0.56" fill="#5a4f98" opacity="0.93"/>
<circle cx="54.44" cy="443.50" r="0.72" fill="#6d62a8" opacity="0.67"/>
<circle cx="84.91" cy="436.58" r="0.64" fill="#5a4f98" opacity="0.90"/>
<circle cx="79.01" cy="406.00" r="0.90" fill="#6d62a8" opacity="0.75"/>
<circle cx="51.17" cy="424.49" r="0.89" fill="#6d62a8" opacity="0.83"/>
<circle cx="64.37" cy="424.62" r="0.68" fill="#4a3f80" opacity="0.94"/>
<circle cx="53.71" cy="428.75" r="0.79" fill="#6d62a8" opacity="0.69"/>
<circle cx="89.73" cy="437.52" r="0.87" fill="#7a70b5" opacity="0.77"/>
<circle cx="63.00" cy="406.27" r="0.82" fill="#7e5f90" opacity="0.71"/>
<circle cx="56.49" cy="445.79" r="0.90" fill="#7a70b5" opacity="0.82"/>
<circle cx="61.01" cy="408.00" r="0.63" fill="#5a4f98" opacity="0.70"/>
<circle cx="53.38" cy="428.14" r="0.85" fill="#5a4f98" opacity="0.77"/>
<circle cx="100.51" cy="435.58" r="0.68" fill="#7e5f90" opacity="0.74"/>
<circle cx="99.65" cy="422.16" r="0.62" fill="#8a7cc0" opacity="0.84"/>
<circle cx="72.80" cy="442.22" r="0.89" fill="#7e5f90" opacity="0.71"/>
<circle cx="91.56" cy="409.37" r="0.87" fill="#5a4f98" opacity="0.89"/>
<circle cx="69.03" cy="444.14" r="0.70" fill="#7e5f90" opacity="0.74"/>
<circle cx="84.85" cy="441.38" r="0.91" fill="#7a70b5" opacity="0.95"/>
<circle cx="86.11" cy="406.58" r="0.63" fill="#7a70b5" opacity="0.83"/>
<circle cx="93.41" cy="433.36" r="0.77" fill="#6d62a8" opacity="0.85"/>
<circle cx="62.22" cy="404.61" r="0.52" fill="#6d62a8" opacity="0.63"/>
<circle cx="85.81" cy="406.34" r="0.56" fill="#6d62a8" opacity="0.62"/>
<circle cx="61.33" cy="421.27" r="0.86" fill="#5a4f98" opacity="0.68"/>
<circle cx="65.41" cy="421.63" r="0.76" fill="#7e5f90" opacity="0.81"/>
<circle cx="49.95" cy="404.69" r="0.81" fill="#7e5f90" opacity="0.94"/>
<circle cx="97.59" cy="410.92" r="0.87" fill="#5a4f98" opacity="0.94"/>
<circle cx="61.67" cy="424.13" r="0.90" fill="#5a4f98" opacity="0.71"/>
<circle cx="83.64" cy="417.06" r="0.56" fill="#4a3f80" opacity="0.73"/>
<circle cx="98.60" cy="448.52" r="0.74" fill="#7e5f90" opacity="0.75"/>
<circle cx="71.55" cy="409.83" r="0.50" fill="#7e5f90" opacity="0.79"/>
<circle cx="91.24" cy="454.69" r="0.79" fill="#7a70b5" opacity="0.86"/>
<circle cx="88.31" cy="427.26" r="0.74" fill="#4a3f80" opacity="0.78"/>
<circle cx="68.81" cy="440.24" r="0.52" fill="#7a70b5" opacity="0.88"/>
<circle cx="97.22" cy="406.15" r="0.89" fill="#8a7cc0" opacity="0.76"/>
<circle cx="95.80" cy="427.51" r="0.67" fill="#6d62a8" opacity="0.70"/>
<circle cx="60.77" cy="417.27" r="0.71" fill="#7e5f90" opacity="0.64"/>
<circle cx="72.52" cy="429.99" r="0.68" fill="#7e5f90" opacity="0.74"/>
<circle cx="91.53" cy="442.74" r="0.65" fill="#6d62a8" opacity="0.91"/>
<circle cx="78.18" cy="454.38" r="0.66" fill="#4a3f80" opacity="0.89"/>
<circle cx="95.89" cy="455.15" r="0.74" fill="#7a70b5" opacity="0.75"/>
<circle cx="72.63" cy="425.11" r="0.86" fill="#7e5f90" opacity="0.86"/>
<circle cx="57.58" cy="417.64" r="0.81" fill="#6d62a8" opacity="0.67"/>
<circle cx="50.29" cy="431.55" r="0.63" fill="#7e5f90" opacity="0.71"/>
<circle cx="89.77" cy="414.23" r="0.81" fill="#6d62a8" opacity="0.94"/>
<circle cx="98.23" cy="419.06" r="0.78" fill="#4a3f80" opacity="0.85"/>
<circle cx="61.00" cy="441.43" r="0.52" fill="#8a7cc0" opacity="0.81"/>
<circle cx="92.68" cy="427.01" r="0.69" fill="#7a70b5" opacity="0.68"/>
<circle cx="74.78" cy="428.80" r="0.63" fill="#4a3f80" opacity="0.86"/>
<circle cx="96.50" cy="413.29" r="0.92" fill="#4a3f80" opacity="0.87"/>
<circle cx="74.11" cy="444.39" r="0.78" fill="#7a70b5" opacity="0.67"/>
<circle cx="45.14" cy="449.40" r="0.56" fill="#4a3f80" opacity="0.67"/>
<circle cx="100.56" cy="453.66" r="0.51" fill="#7a70b5" opacity="0.69"/>
<circle cx="53.41" cy="439.20" r="0.74" fill="#6d62a8" opacity="0.73"/>
<circle cx="44.27" cy="409.71" r="0.88" fill="#7e5f90" opacity="0.73"/>
<circle cx="53.48" cy="403.35" r="0.92" fill="#6d62a8" opacity="0.76"/>
<circle cx="92.49" cy="414.50" r="0.60" fill="#7a70b5" opacity="0.94"/>
<circle cx="98.93" cy="435.84" r="0.72" fill="#6d62a8" opacity="0.93"/>
<circle cx="76.26" cy="452.58" r="0.74" fill="#7a70b5" opacity="0.92"/>
<circle cx="93.89" cy="430.40" r="0.56" fill="#4a3f80" opacity="0.87"/>
<circle cx="75.78" cy="439.97" r="0.53" fill="#8a7cc0" opacity="0.85"/>
<circle cx="59.79" cy="403.75" r="0.63" fill="#7e5f90" opacity="0.84"/>
<circle cx="73.10" cy="434.05" r="0.91" fill="#7e5f90" opacity="0.74"/>
<circle cx="63.58" cy="427.96" r="0.64" fill="#8a7cc0" opacity="0.82"/>
<circle cx="55.57" cy="444.10" r="0.92" fill="#6d62a8" opacity="0.63"/>
<circle cx="89.15" cy="416.22" r="0.63" fill="#7a70b5" opacity="0.90"/>
<circle cx="78.62" cy="447.35" r="0.52" fill="#6d62a8" opacity="0.70"/>
<circle cx="73.28" cy="431.13" r="0.65" fill="#7e5f90" opacity="0.86"/>
<circle cx="92.31" cy="422.13" r="0.86" fill="#6d62a8" opacity="0.66"/>
<circle cx="47.86" cy="415.61" r="0.50" fill="#7a70b5" opacity="0.69"/>
<circle cx="58.93" cy="447.99" r="0.72" fill="#7e5f90" opacity="0.65"/>
<circle cx="67.87" cy="411.66" r="0.58" fill="#7a70b5" opacity="0.90"/>
<circle cx="67.32" cy="429.01" r="0.80" fill="#7a70b5" opacity="0.74"/>
<circle cx="66.54" cy="416.20" r="0.81" fill="#7e5f90" opacity="0.90"/>
<circle cx="81.06" cy="444.16" r="0.68" fill="#6d62a8" opacity="0.61"/>
<circle cx="99.69" cy="438.73" r="0.77" fill="#8a7cc0" opacity="0.69"/>
<circle cx="60.10" cy="411.00" r="0.62" fill="#4a3f80" opacity="0.80"/>
<circle cx="94.88" cy="405.09" r="0.82" fill="#7e5f90" opacity="0.91"/>
<circle cx="82.65" cy="426.50" r="0.55" fill="#5a4f98" opacity="0.61"/>
<circle cx="88.22" cy="452.24" r="0.67" fill="#7a70b5" opacity="0.86"/>
<circle cx="94.06" cy="430.79" r="0.57" fill="#6d62a8" opacity="0.70"/>
<circle cx="79.46" cy="433.32" r="0.81" fill="#5a4f98" opacity="0.76"/>
<circle cx="53.37" cy="421.42" r="0.80" fill="#5a4f98" opacity="0.84"/>
<circle cx="87.98" cy="454.12" r="0.56" fill="#6d62a8" opacity="0.68"/>
<circle cx="89.60" cy="407.69" r="0.57" fill="#7e5f90" opacity="0.94"/>
<circle cx="59.70" cy="454.18" r="0.89" fill="#8a7cc0" opacity="0.82"/>
<circle cx="49.00" cy="411.09" r="0.92" fill="#5a4f98" opacity="0.66"/>
<circle cx="66.36" cy="420.68" r="0.83" fill="#6d62a8" opacity="0.61"/>
<circle cx="47.12" cy="438.03" r="0.50" fill="#8a7cc0" opacity="0.87"/>
<circle cx="52.73" cy="401.79" r="0.68" fill="#7a70b5" opacity="0.61"/>
<circle cx="57.73" cy="416.16" r="0.60" fill="#7e5f90" opacity="0.84"/>
<circle cx="50.92" cy="415.68" r="0.89" fill="#7a70b5" opacity="0.63"/>
<circle cx="78.95" cy="419.63" r="0.63" fill="#8a7cc0" opacity="0.67"/>
<circle cx="66.51" cy="451.10" r="0.93" fill="#6d62a8" opacity="0.82"/>
<circle cx="60.12" cy="414.76" r="0.68" fill="#7e5f90" opacity="0.61"/>
<circle cx="52.42" cy="437.27" r="0.85" fill="#8a7cc0" opacity="0.63"/>
<circle cx="79.45" cy="403.50" r="0.80" fill="#5a4f98" opacity="0.60"/>
<circle cx="73.20" cy="424.54" r="0.53" fill="#4a3f80" opacity="0.74"/>
<circle cx="42.25" cy="433.60" r="0.74" fill="#7a70b5" opacity="0.74"/>
<circle cx="53.45" cy="421.79" r="0.64" fill="#4a3f80" opacity="0.75"/>
<circle cx="72.28" cy="422.76" r="0.76" fill="#4a3f80" opacity="0.69"/>
<circle cx="84.70" cy="430.76" r="0.83" fill="#7a70b5" opacity="0.75"/>
<circle cx="44.05" cy="423.99" r="0.83" fill="#5a4f98" opacity="0.78"/>
<circle cx="95.75" cy="433.55" r="0.72" fill="#7e5f90" opacity="0.81"/>
<circle cx="78.13" cy="406.66" r="0.86" fill="#5a4f98" opacity="0.91"/>
<circle cx="82.93" cy="436.77" r="0.54" fill="#5a4f98" opacity="0.69"/>
<circle cx="79.25" cy="430.74" r="0.80" fill="#8a7cc0" opacity="0.87"/>
<circle cx="46.92" cy="443.79" r="0.53" fill="#6d62a8" opacity="0.61"/>
<circle cx="67.03" cy="441.41" r="0.87" fill="#8a7cc0" opacity="0.81"/>
<circle cx="57.12" cy="436.14" r="0.75" fill="#8a7cc0" opacity="0.83"/>
<circle cx="90.48" cy="402.93" r="0.88" fill="#4a3f80" opacity="0.87"/>
<circle cx="86.76" cy="446.41" r="0.64" fill="#7e5f90" opacity="0.61"/>
<circle cx="88.96" cy="405.34" r="0.93" fill="#7e5f90" opacity="0.77"/>
<circle cx="86.84" cy="423.52" r="0.59" fill="#8a7cc0" opacity="0.80"/>
<circle cx="92.16" cy="416.60" r="0.79" fill="#8a7cc0" opacity="0.74"/>
<circle cx="56.19" cy="444.44" r="0.82" fill="#4a3f80" opacity="0.72"/>
<circle cx="81.70" cy="433.54" r="0.54" fill="#8a7cc0" opacity="0.93"/>
<circle cx="54.23" cy="422.19" r="0.62" fill="#5a4f98" opacity="0.92"/>
<circle cx="55.59" cy="404.45" r="0.56" fill="#7e5f90" opacity="0.82"/>
<circle cx="75.40" cy="450.06" r="0.80" fill="#6d62a8" opacity="0.91"/>
<circle cx="52.67" cy="412.06" r="0.60" fill="#6d62a8" opacity="0.92"/>
<circle cx="47.93" cy="402.46" r="0.52" fill="#6d62a8" opacity="0.73"/>
<circle cx="56.95" cy="453.92" r="0.64" fill="#6d62a8" opacity="0.75"/>
<circle cx="88.30" cy="439.28" r="0.50" fill="#5a4f98" opacity="0.72"/>
<circle cx="82.85" cy="453.08" r="0.65" fill="#7a70b5" opacity="0.90"/>
<circle cx="70.21" cy="419.43" r="0.77" fill="#7a70b5" opacity="0.87"/>
<circle cx="64.15" cy="418.17" r="0.84" fill="#8a7cc0" opacity="0.71"/>
<circle cx="43.22" cy="412.03" r="0.75" fill="#7a70b5" opacity="0.62"/>
<circle cx="90.58" cy="422.58" r="0.90" fill="#7e5f90" opacity="0.61"/>
<circle cx="47.09" cy="424.16" r="0.75" fill="#4a3f80" opacity="0.69"/>
<circle cx="84.16" cy="436.71" r="0.56" fill="#7e5f90" opacity="0.78"/>
<circle cx="64.34" cy="427.67" r="0.94" fill="#6d62a8" opacity="0.61"/>
<circle cx="69.88" cy="442.17" r="0.83" fill="#5a4f98" opacity="0.74"/>
<circle cx="93.29" cy="438.52" r="0.65" fill="#7e5f90" opacity="0.67"/>
<circle cx="96.12" cy="425.19" r="0.77" fill="#4a3f80" opacity="0.71"/>
<circle cx="67.62" cy="424.47" r="0.93" fill="#4a3f80" opacity="0.91"/>
<circle cx="43.54" cy="435.08" r="0.53" fill="#7a70b5" opacity="0.85"/>
<circle cx="49.27" cy="431.10" r="0.57" fill="#7e5f90" opacity="0.91"/>
<circle cx="90.85" cy="432.49" r="0.88" fill="#6d62a8" opacity="0.87"/>
<circle cx="60.47" cy="414.41" r="0.51" fill="#4a3f80" opacity="0.84"/>
<circle cx="56.97" cy="454.87" r="0.60" fill="#7a70b5" opacity="0.62"/>
<circle cx="55.32" cy="407.09" r="0.89" fill="#4a3f80" opacity="0.91"/>
<circle cx="53.12" cy="426.10" r="0.86" fill="#6d62a8" opacity="0.74"/>
<circle cx="97.45" cy="413.36" r="0.85" fill="#4a3f80" opacity="0.83"/>
<circle cx="63.65" cy="451.21" r="0.78" fill="#7a70b5" opacity="0.89"/>
<circle cx="58.53" cy="409.61" r="0.52" fill="#5a4f98" opacity="0.91"/>
<circle cx="63.47" cy="438.99" r="0.69" fill="#4a3f80" opacity="0.61"/>
<circle cx="50.75" cy="406.57" r="0.58" fill="#7e5f90" opacity="0.76"/>
<circle cx="75.44" cy="448.91" r="0.60" fill="#5a4f98" opacity="0.65"/>
<circle cx="91.06" cy="423.27" r="0.74" fill="#7a70b5" opacity="0.63"/>
<circle cx="47.26" cy="412.81" r="0.67" fill="#7e5f90" opacity="0.90"/>
<circle cx="94.76" cy="406.59" r="0.54" fill="#4a3f80" opacity="0.75"/>
<circle cx="55.04" cy="421.66" r="0.60" fill="#6d62a8" opacity="0.72"/>
<circle cx="88.28" cy="408.73" r="0.89" fill="#4a3f80" opacity="0.67"/>
<circle cx="75.66" cy="453.89" r="0.63" fill="#5a4f98" opacity="0.65"/>
<circle cx="81.46" cy="449.95" r="0.67" fill="#7e5f90" opacity="0.88"/>
<circle cx="76.07" cy="415.05" r="0.51" fill="#4a3f80" opacity="0.66"/>
<circle cx="90.19" cy="418.92" r="0.66" fill="#4a3f80" opacity="0.89"/>
<circle cx="46.81" cy="444.50" r="0.70" fill="#6d62a8" opacity="0.77"/>
<circle cx="48.77" cy="429.54" r="0.92" fill="#6d62a8" opacity="0.95"/>
<circle cx="62.97" cy="417.11" r="0.52" fill="#7e5f90" opacity="0.87"/>
<circle cx="63.55" cy="444.02" r="0.92" fill="#7e5f90" opacity="0.77"/>
<circle cx="55.90" cy="451.71" r="0.50" fill="#6d62a8" opacity="0.90"/>
<circle cx="99.06" cy="427.77" r="0.90" fill="#6d62a8" opacity="0.67"/>
<circle cx="81.76" cy="435.58" r="0.83" fill="#6d62a8" opacity="0.80"/>
<circle cx="70.36" cy="402.63" r="0.95" fill="#6d62a8" opacity="0.83"/>
<circle cx="62.55" cy="440.87" r="0.70" fill="#4a3f80" opacity="0.87"/>
<circle cx="67.13" cy="454.83" r="0.68" fill="#4a3f80" opacity="0.92"/>
<circle cx="90.44" cy="439.04" r="0.81" fill="#7e5f90" opacity="0.84"/>
<circle cx="48.68" cy="437.15" r="0.76" fill="#7e5f90" opacity="0.61"/>
<circle cx="73.95" cy="418.58" r="0.65" fill="#7a70b5" opacity="0.79"/>
<circle cx="61.47" cy="408.24" r="0.51" fill="#7e5f90" opacity="0.69"/>
<circle cx="68.43" cy="413.23" r="0.86" fill="#5a4f98" opacity="0.75"/>
<circle cx="84.24" cy="451.05" r="0.82" fill="#7e5f90" opacity="0.67"/>
<circle cx="73.24" cy="415.45" r="0.92" fill="#5a4f98" opacity="0.61"/>
<circle cx="44.03" cy="407.52" r="0.53" fill="#5a4f98" opacity="0.75"/>
<circle cx="94.37" cy="423.59" r="0.88" fill="#6d62a8" opacity="0.60"/>
<circle cx="97.56" cy="419.25" r="0.54" fill="#4a3f80" opacity="0.63"/>
<circle cx="93.11" cy="431.34" r="0.74" fill="#4a3f80" opacity="0.71"/>
<circle cx="74.21" cy="423.02" r="0.77" fill="#7e5f90" opacity="0.78"/>
<circle cx="53.44" cy="418.18" r="0.54" fill="#4a3f80" opacity="0.60"/>
<circle cx="48.52" cy="408.07" r="0.88" fill="#5a4f98" opacity="0.80"/>
<circle cx="50.23" cy="415.63" r="0.68" fill="#6d62a8" opacity="0.77"/>
<circle cx="48.08" cy="404.38" r="0.94" fill="#4a3f80" opacity="0.63"/>
<circle cx="58.71" cy="433.30" r="0.66" fill="#6d62a8" opacity="0.79"/>
<circle cx="97.31" cy="454.38" r="0.57" fill="#5a4f98" opacity="0.66"/>
<circle cx="55.37" cy="448.48" r="0.91" fill="#6d62a8" opacity="0.89"/>
<circle cx="44.15" cy="443.03" r="0.87" fill="#7e5f90" opacity="0.82"/>
<circle cx="45.80" cy="447.14" r="0.86" fill="#8a7cc0" opacity="0.92"/>
<circle cx="93.16" cy="415.48" r="0.59" fill="#8a7cc0" opacity="0.67"/>
<circle cx="96.11" cy="433.01" r="0.73" fill="#7e5f90" opacity="0.88"/>
<circle cx="58.96" cy="437.84" r="0.85" fill="#6d62a8" opacity="0.88"/>
<circle cx="100.02" cy="443.59" r="0.69" fill="#7a70b5" opacity="0.76"/>
<circle cx="86.91" cy="401.65" r="0.65" fill="#6d62a8" opacity="0.88"/>
<circle cx="49.61" cy="445.08" r="0.79" fill="#5a4f98" opacity="0.85"/>
<circle cx="46.13" cy="437.29" r="0.80" fill="#7e5f90" opacity="0.63"/>
<circle cx="61.89" cy="442.47" r="0.81" fill="#7a70b5" opacity="0.75"/>
<circle cx="74.79" cy="419.49" r="0.91" fill="#7a70b5" opacity="0.82"/>
<circle cx="58.49" cy="437.95" r="0.89" fill="#7e5f90" opacity="0.92"/>
<circle cx="44.68" cy="420.11" r="0.57" fill="#5a4f98" opacity="0.65"/>
<circle cx="60.21" cy="438.73" r="0.94" fill="#4a3f80" opacity="0.77"/>
<circle cx="93.19" cy="451.46" r="0.55" fill="#4a3f80" opacity="0.74"/>
<circle cx="96.01" cy="418.77" r="0.51" fill="#6d62a8" opacity="0.94"/>
<circle cx="52.04" cy="402.03" r="0.92" fill="#8a7cc0" opacity="0.69"/>
<circle cx="90.62" cy="427.65" r="0.79" fill="#6d62a8" opacity="0.63"/>
<circle cx="44.30" cy="425.75" r="0.79" fill="#5a4f98" opacity="0.63"/>
<circle cx="95.25" cy="402.01" r="0.86" fill="#4a3f80" opacity="0.62"/>
<circle cx="68.44" cy="417.88" r="0.71" fill="#6d62a8" opacity="0.90"/>
<circle cx="85.97" cy="445.81" r="0.94" fill="#4a3f80" opacity="0.63"/>
<circle cx="58.79" cy="404.52" r="0.61" fill="#4a3f80" opacity="0.88"/>
<circle cx="68.92" cy="447.01" r="0.88" fill="#8a7cc0" opacity="0.86"/>
</g>
<rect x="42.10" y="401.30" width="58.70" height="54.10" fill="none" stroke="#1e1e1e" stroke-width="1.3"/>
<g clip-path="url(#h2)">
<rect x="104.80" y="402.00" width="58.90" height="54.10" fill="#c29c9e" />
<ellipse cx="123.6" cy="409.6" rx="16" ry="4" transform="rotate(15 123.6 409.6)" fill="#e8e2dc" opacity="0.85" filter="url(#bl3)"/>
<ellipse cx="137.2" cy="431.8" rx="16" ry="12" transform="rotate(0 137.2 431.8)" fill="#d09a8e" opacity="0.5" filter="url(#bl3)"/>
<ellipse cx="116.6" cy="431.8" rx="8" ry="10" transform="rotate(0 116.6 431.8)" fill="#9a8ac0" opacity="0.5" filter="url(#bl3)"/>
<ellipse cx="149.0" cy="418.2" rx="10" ry="8" transform="rotate(0 149.0 418.2)" fill="#a494c8" opacity="0.5" filter="url(#bl3)"/>
<ellipse cx="154.9" cy="448.0" rx="10" ry="8" transform="rotate(0 154.9 448.0)" fill="#c79488" opacity="0.5" filter="url(#bl3)"/>
<circle cx="161.24" cy="409.59" r="0.41" fill="#eadcdc" opacity="0.6"/>
<circle cx="163.62" cy="411.97" r="0.46" fill="#eadcdc" opacity="0.6"/>
<circle cx="143.17" cy="420.70" r="0.84" fill="#eadcdc" opacity="0.6"/>
<circle cx="118.45" cy="453.91" r="0.56" fill="#eadcdc" opacity="0.6"/>
<circle cx="140.21" cy="452.43" r="0.74" fill="#eadcdc" opacity="0.6"/>
<circle cx="159.21" cy="440.31" r="0.42" fill="#eadcdc" opacity="0.6"/>
<circle cx="156.71" cy="433.89" r="0.56" fill="#eadcdc" opacity="0.6"/>
<circle cx="116.00" cy="447.97" r="0.69" fill="#eadcdc" opacity="0.6"/>
<circle cx="160.05" cy="443.87" r="0.88" fill="#eadcdc" opacity="0.6"/>
<circle cx="138.16" cy="439.78" r="0.71" fill="#eadcdc" opacity="0.6"/>
<circle cx="120.02" cy="453.76" r="0.56" fill="#eadcdc" opacity="0.6"/>
<circle cx="150.81" cy="453.65" r="0.73" fill="#eadcdc" opacity="0.6"/>
<circle cx="113.18" cy="446.64" r="0.73" fill="#eadcdc" opacity="0.6"/>
<circle cx="115.70" cy="404.66" r="0.67" fill="#eadcdc" opacity="0.6"/>
<circle cx="106.70" cy="452.05" r="0.65" fill="#eadcdc" opacity="0.6"/>
<circle cx="135.27" cy="424.15" r="0.73" fill="#eadcdc" opacity="0.6"/>
<circle cx="158.78" cy="418.63" r="0.59" fill="#eadcdc" opacity="0.6"/>
<circle cx="139.11" cy="418.08" r="0.70" fill="#eadcdc" opacity="0.6"/>
<circle cx="136.79" cy="425.45" r="0.74" fill="#eadcdc" opacity="0.6"/>
<circle cx="135.91" cy="406.77" r="0.90" fill="#eadcdc" opacity="0.6"/>
<circle cx="125.75" cy="425.36" r="0.60" fill="#eadcdc" opacity="0.6"/>
<circle cx="159.55" cy="453.51" r="0.66" fill="#eadcdc" opacity="0.6"/>
<circle cx="128.40" cy="407.22" r="0.85" fill="#eadcdc" opacity="0.6"/>
<circle cx="114.90" cy="431.57" r="0.57" fill="#eadcdc" opacity="0.6"/>
<circle cx="124.14" cy="421.32" r="0.50" fill="#eadcdc" opacity="0.6"/>
<circle cx="106.98" cy="430.97" r="0.80" fill="#eadcdc" opacity="0.6"/>
<circle cx="142.91" cy="412.90" r="0.75" fill="#eadcdc" opacity="0.6"/>
<circle cx="107.87" cy="424.22" r="0.81" fill="#eadcdc" opacity="0.6"/>
<circle cx="159.05" cy="426.92" r="0.82" fill="#eadcdc" opacity="0.6"/>
<circle cx="134.16" cy="430.35" r="0.69" fill="#eadcdc" opacity="0.6"/>
<circle cx="163.19" cy="442.23" r="0.64" fill="#eadcdc" opacity="0.6"/>
<circle cx="147.64" cy="436.80" r="0.58" fill="#eadcdc" opacity="0.6"/>
<circle cx="150.99" cy="446.35" r="0.70" fill="#eadcdc" opacity="0.6"/>
<circle cx="160.33" cy="402.98" r="0.65" fill="#eadcdc" opacity="0.6"/>
<circle cx="142.18" cy="420.43" r="0.49" fill="#eadcdc" opacity="0.6"/>
<circle cx="145.56" cy="425.50" r="0.53" fill="#eadcdc" opacity="0.6"/>
<circle cx="107.27" cy="454.32" r="0.58" fill="#eadcdc" opacity="0.6"/>
<circle cx="111.76" cy="413.70" r="0.53" fill="#eadcdc" opacity="0.6"/>
<circle cx="155.82" cy="411.77" r="0.54" fill="#eadcdc" opacity="0.6"/>
<circle cx="110.53" cy="427.42" r="0.50" fill="#eadcdc" opacity="0.6"/>
<circle cx="125.07" cy="441.76" r="0.86" fill="#eadcdc" opacity="0.6"/>
<circle cx="153.93" cy="404.07" r="0.59" fill="#eadcdc" opacity="0.6"/>
<circle cx="154.80" cy="403.78" r="0.50" fill="#eadcdc" opacity="0.6"/>
<circle cx="133.66" cy="422.69" r="0.78" fill="#eadcdc" opacity="0.6"/>
<circle cx="147.10" cy="427.13" r="0.52" fill="#eadcdc" opacity="0.6"/>
<circle cx="118.39" cy="416.41" r="0.43" fill="#eadcdc" opacity="0.6"/>
<circle cx="144.01" cy="410.54" r="0.84" fill="#eadcdc" opacity="0.6"/>
<circle cx="142.85" cy="405.07" r="0.65" fill="#eadcdc" opacity="0.6"/>
<circle cx="140.36" cy="404.29" r="0.64" fill="#eadcdc" opacity="0.6"/>
<circle cx="106.56" cy="443.46" r="0.40" fill="#eadcdc" opacity="0.6"/>
<circle cx="142.02" cy="455.32" r="0.82" fill="#eadcdc" opacity="0.6"/>
<circle cx="118.54" cy="430.92" r="0.47" fill="#eadcdc" opacity="0.6"/>
<circle cx="124.96" cy="448.73" r="0.81" fill="#eadcdc" opacity="0.6"/>
<circle cx="105.34" cy="422.55" r="0.72" fill="#eadcdc" opacity="0.6"/>
<circle cx="115.14" cy="445.42" r="0.85" fill="#eadcdc" opacity="0.6"/>
<circle cx="137.28" cy="421.59" r="0.82" fill="#eadcdc" opacity="0.6"/>
<circle cx="135.01" cy="412.19" r="0.54" fill="#eadcdc" opacity="0.6"/>
<circle cx="114.17" cy="447.37" r="0.65" fill="#eadcdc" opacity="0.6"/>
<circle cx="145.83" cy="446.22" r="0.89" fill="#eadcdc" opacity="0.6"/>
<circle cx="116.02" cy="423.95" r="0.84" fill="#eadcdc" opacity="0.6"/>
<circle cx="149.66" cy="422.92" r="0.73" fill="#eadcdc" opacity="0.6"/>
<circle cx="116.28" cy="410.75" r="0.43" fill="#eadcdc" opacity="0.6"/>
<circle cx="127.16" cy="414.76" r="0.66" fill="#eadcdc" opacity="0.6"/>
<circle cx="161.90" cy="410.27" r="0.68" fill="#eadcdc" opacity="0.6"/>
<circle cx="155.73" cy="434.37" r="0.66" fill="#eadcdc" opacity="0.6"/>
<circle cx="150.02" cy="403.18" r="0.87" fill="#eadcdc" opacity="0.6"/>
<circle cx="145.23" cy="445.64" r="0.81" fill="#eadcdc" opacity="0.6"/>
<circle cx="110.61" cy="405.60" r="0.49" fill="#eadcdc" opacity="0.6"/>
<circle cx="134.53" cy="452.76" r="0.85" fill="#eadcdc" opacity="0.6"/>
<circle cx="129.07" cy="435.67" r="0.77" fill="#eadcdc" opacity="0.6"/>
<circle cx="124.38" cy="454.50" r="0.87" fill="#eadcdc" opacity="0.6"/>
<circle cx="147.62" cy="450.77" r="0.80" fill="#eadcdc" opacity="0.6"/>
<circle cx="143.22" cy="419.38" r="0.54" fill="#eadcdc" opacity="0.6"/>
<circle cx="118.85" cy="405.10" r="0.86" fill="#eadcdc" opacity="0.6"/>
<circle cx="122.37" cy="403.29" r="0.56" fill="#eadcdc" opacity="0.6"/>
<circle cx="110.88" cy="426.08" r="0.57" fill="#eadcdc" opacity="0.6"/>
<circle cx="115.14" cy="427.79" r="0.61" fill="#eadcdc" opacity="0.6"/>
<circle cx="125.65" cy="446.00" r="0.55" fill="#eadcdc" opacity="0.6"/>
<circle cx="136.68" cy="449.50" r="0.88" fill="#eadcdc" opacity="0.6"/>
<circle cx="126.87" cy="404.19" r="0.88" fill="#eadcdc" opacity="0.6"/>
<circle cx="135.08" cy="413.77" r="0.46" fill="#eadcdc" opacity="0.6"/>
<circle cx="118.88" cy="418.80" r="0.47" fill="#eadcdc" opacity="0.6"/>
<circle cx="107.69" cy="455.80" r="0.81" fill="#eadcdc" opacity="0.6"/>
<circle cx="111.47" cy="428.01" r="0.80" fill="#eadcdc" opacity="0.6"/>
<circle cx="134.51" cy="405.74" r="0.57" fill="#eadcdc" opacity="0.6"/>
<circle cx="127.22" cy="451.48" r="0.69" fill="#eadcdc" opacity="0.6"/>
<circle cx="131.83" cy="436.12" r="0.42" fill="#eadcdc" opacity="0.6"/>
<circle cx="145.22" cy="445.71" r="0.74" fill="#eadcdc" opacity="0.6"/>
<circle cx="126.06" cy="417.47" r="0.41" fill="#eadcdc" opacity="0.6"/>
<circle cx="109.63" cy="410.36" r="0.63" fill="#eadcdc" opacity="0.6"/>
<circle cx="150.64" cy="413.75" r="0.64" fill="#eadcdc" opacity="0.6"/>
<circle cx="142.25" cy="436.06" r="0.41" fill="#eadcdc" opacity="0.6"/>
<circle cx="159.02" cy="433.66" r="0.55" fill="#eadcdc" opacity="0.6"/>
<circle cx="118.90" cy="439.27" r="0.87" fill="#eadcdc" opacity="0.6"/>
<circle cx="124.67" cy="423.54" r="0.68" fill="#eadcdc" opacity="0.6"/>
<circle cx="115.10" cy="423.96" r="0.86" fill="#eadcdc" opacity="0.6"/>
<circle cx="137.57" cy="446.53" r="0.53" fill="#eadcdc" opacity="0.6"/>
<circle cx="155.97" cy="444.34" r="0.51" fill="#eadcdc" opacity="0.6"/>
<circle cx="136.02" cy="438.89" r="0.69" fill="#eadcdc" opacity="0.6"/>
<circle cx="140.25" cy="414.99" r="0.68" fill="#eadcdc" opacity="0.6"/>
<circle cx="125.68" cy="445.17" r="0.59" fill="#eadcdc" opacity="0.6"/>
<circle cx="162.49" cy="433.41" r="0.51" fill="#eadcdc" opacity="0.6"/>
<circle cx="129.29" cy="408.93" r="0.77" fill="#eadcdc" opacity="0.6"/>
<circle cx="107.51" cy="434.73" r="0.55" fill="#eadcdc" opacity="0.6"/>
<circle cx="150.57" cy="408.86" r="0.74" fill="#eadcdc" opacity="0.6"/>
<circle cx="146.85" cy="414.61" r="0.47" fill="#eadcdc" opacity="0.6"/>
<circle cx="126.74" cy="437.11" r="0.53" fill="#eadcdc" opacity="0.6"/>
<circle cx="105.32" cy="425.88" r="0.80" fill="#eadcdc" opacity="0.6"/>
<circle cx="114.10" cy="452.89" r="0.65" fill="#eadcdc" opacity="0.6"/>
<circle cx="114.26" cy="407.41" r="0.59" fill="#eadcdc" opacity="0.6"/>
<circle cx="132.86" cy="411.50" r="0.44" fill="#eadcdc" opacity="0.6"/>
<circle cx="134.32" cy="415.74" r="0.62" fill="#eadcdc" opacity="0.6"/>
<circle cx="131.35" cy="439.73" r="0.69" fill="#eadcdc" opacity="0.6"/>
<circle cx="118.25" cy="411.72" r="0.83" fill="#eadcdc" opacity="0.6"/>
<circle cx="107.77" cy="408.66" r="0.43" fill="#eadcdc" opacity="0.6"/>
<circle cx="153.47" cy="431.27" r="0.86" fill="#eadcdc" opacity="0.6"/>
<circle cx="141.69" cy="420.15" r="0.62" fill="#eadcdc" opacity="0.6"/>
<circle cx="147.94" cy="414.51" r="0.80" fill="#eadcdc" opacity="0.6"/>
<circle cx="128.80" cy="404.28" r="0.57" fill="#eadcdc" opacity="0.6"/>
<circle cx="137.80" cy="409.93" r="0.85" fill="#eadcdc" opacity="0.6"/>
<circle cx="159.35" cy="429.66" r="0.91" fill="#6a5aa8" opacity="0.79"/>
<circle cx="114.11" cy="453.55" r="0.91" fill="#2a1a30" opacity="0.83"/>
<circle cx="129.80" cy="421.51" r="0.51" fill="#2a1a30" opacity="0.74"/>
<circle cx="121.81" cy="435.16" r="0.86" fill="#5b2c3a" opacity="0.93"/>
<circle cx="163.67" cy="407.93" r="0.71" fill="#4d3a8a" opacity="0.71"/>
<circle cx="153.81" cy="426.61" r="0.57" fill="#2b2250" opacity="0.95"/>
<circle cx="116.17" cy="424.82" r="0.79" fill="#2a1a30" opacity="0.82"/>
<circle cx="122.89" cy="437.92" r="0.83" fill="#6a5aa8" opacity="0.71"/>
<circle cx="137.67" cy="454.69" r="0.56" fill="#7a3a3a" opacity="0.74"/>
<circle cx="109.20" cy="450.58" r="0.63" fill="#6a5aa8" opacity="0.86"/>
<circle cx="105.44" cy="450.65" r="0.86" fill="#2a1a30" opacity="0.67"/>
<circle cx="117.27" cy="441.72" r="0.52" fill="#2b2250" opacity="0.89"/>
<circle cx="111.75" cy="420.93" r="0.55" fill="#4d3a8a" opacity="0.93"/>
<circle cx="161.63" cy="411.22" r="0.62" fill="#4d3a8a" opacity="0.87"/>
<circle cx="141.06" cy="439.13" r="0.55" fill="#6a5aa8" opacity="0.65"/>
<circle cx="112.72" cy="443.83" r="0.94" fill="#6a5aa8" opacity="0.72"/>
<circle cx="163.30" cy="435.29" r="0.80" fill="#7a3a3a" opacity="0.79"/>
<circle cx="117.95" cy="436.35" r="0.56" fill="#6a5aa8" opacity="0.69"/>
<circle cx="161.36" cy="452.41" r="0.60" fill="#2b2250" opacity="0.80"/>
<circle cx="153.95" cy="417.87" r="0.55" fill="#3b2a6a" opacity="0.87"/>
<circle cx="104.88" cy="440.88" r="0.81" fill="#2a1a30" opacity="0.86"/>
<circle cx="129.09" cy="438.64" r="0.84" fill="#4d3a8a" opacity="0.66"/>
<circle cx="120.36" cy="419.25" r="0.54" fill="#2a1a30" opacity="0.68"/>
<circle cx="137.53" cy="429.24" r="0.60" fill="#5b2c3a" opacity="0.70"/>
<circle cx="123.73" cy="454.69" r="0.52" fill="#3b2a6a" opacity="0.80"/>
<circle cx="106.24" cy="418.57" r="0.86" fill="#7a3a3a" opacity="0.74"/>
<circle cx="125.69" cy="429.88" r="0.73" fill="#6a5aa8" opacity="0.64"/>
<circle cx="134.15" cy="449.20" r="0.68" fill="#4d3a8a" opacity="0.81"/>
<circle cx="112.96" cy="455.66" r="0.53" fill="#7a3a3a" opacity="0.71"/>
<circle cx="120.48" cy="421.66" r="0.55" fill="#3a2030" opacity="0.72"/>
<circle cx="156.83" cy="421.82" r="0.87" fill="#3a2030" opacity="0.86"/>
<circle cx="161.71" cy="444.96" r="0.69" fill="#5b2c3a" opacity="0.87"/>
<circle cx="148.62" cy="428.66" r="0.95" fill="#5b2c3a" opacity="0.68"/>
<circle cx="130.17" cy="406.82" r="0.67" fill="#2a1a30" opacity="0.76"/>
<circle cx="162.06" cy="426.49" r="0.86" fill="#2a1a30" opacity="0.64"/>
<circle cx="122.36" cy="417.05" r="0.56" fill="#2a1a30" opacity="0.79"/>
<circle cx="162.89" cy="434.27" r="0.77" fill="#7a3a3a" opacity="0.74"/>
<circle cx="119.09" cy="427.76" r="0.72" fill="#3b2a6a" opacity="0.85"/>
<circle cx="161.06" cy="440.23" r="0.76" fill="#6a5aa8" opacity="0.94"/>
<circle cx="147.59" cy="420.74" r="0.84" fill="#2b2250" opacity="0.77"/>
<circle cx="160.63" cy="444.36" r="0.50" fill="#4d3a8a" opacity="0.74"/>
<circle cx="132.30" cy="404.74" r="0.58" fill="#4d3a8a" opacity="0.72"/>
<circle cx="107.86" cy="416.23" r="0.66" fill="#2b2250" opacity="0.63"/>
<circle cx="148.01" cy="454.50" r="0.84" fill="#5b2c3a" opacity="0.80"/>
<circle cx="152.19" cy="429.60" r="0.76" fill="#3b2a6a" opacity="0.90"/>
<circle cx="123.10" cy="448.71" r="0.65" fill="#3b2a6a" opacity="0.86"/>
<circle cx="155.74" cy="455.26" r="0.87" fill="#4d3a8a" opacity="0.79"/>
<circle cx="115.08" cy="429.06" r="0.81" fill="#3b2a6a" opacity="0.80"/>
<circle cx="121.54" cy="411.97" r="0.70" fill="#2b2250" opacity="0.79"/>
<circle cx="125.69" cy="414.22" r="0.66" fill="#7a3a3a" opacity="0.84"/>
<circle cx="119.48" cy="452.00" r="0.52" fill="#3a2030" opacity="0.84"/>
<circle cx="141.62" cy="435.90" r="0.92" fill="#5b2c3a" opacity="0.95"/>
<circle cx="125.35" cy="436.35" r="0.63" fill="#3b2a6a" opacity="0.81"/>
<circle cx="112.19" cy="453.79" r="0.74" fill="#4d3a8a" opacity="0.70"/>
<circle cx="114.15" cy="449.41" r="0.51" fill="#4d3a8a" opacity="0.69"/>
<circle cx="149.24" cy="423.14" r="0.93" fill="#3a2030" opacity="0.75"/>
<circle cx="162.93" cy="446.60" r="0.76" fill="#2a1a30" opacity="0.70"/>
<circle cx="138.48" cy="405.47" r="0.83" fill="#3a2030" opacity="0.82"/>
<circle cx="127.05" cy="423.63" r="0.55" fill="#2a1a30" opacity="0.86"/>
<circle cx="110.14" cy="445.62" r="0.84" fill="#3a2030" opacity="0.85"/>
<circle cx="115.58" cy="437.85" r="0.79" fill="#4d3a8a" opacity="0.93"/>
<circle cx="157.75" cy="428.32" r="0.69" fill="#7a3a3a" opacity="0.90"/>
<circle cx="145.96" cy="450.43" r="0.64" fill="#3b2a6a" opacity="0.68"/>
<circle cx="133.66" cy="440.69" r="0.63" fill="#2a1a30" opacity="0.69"/>
<circle cx="122.77" cy="430.71" r="0.83" fill="#4d3a8a" opacity="0.94"/>
<circle cx="114.52" cy="428.11" r="0.55" fill="#7a3a3a" opacity="0.74"/>
<circle cx="154.84" cy="428.15" r="0.86" fill="#2b2250" opacity="0.93"/>
<circle cx="119.70" cy="434.09" r="0.74" fill="#4d3a8a" opacity="0.63"/>
<circle cx="145.30" cy="419.65" r="0.70" fill="#7a3a3a" opacity="0.65"/>
<circle cx="154.92" cy="425.18" r="0.74" fill="#4d3a8a" opacity="0.90"/>
<circle cx="131.14" cy="417.69" r="0.73" fill="#4d3a8a" opacity="0.91"/>
<circle cx="132.96" cy="451.06" r="0.84" fill="#2b2250" opacity="0.66"/>
<circle cx="147.40" cy="410.74" r="0.60" fill="#3b2a6a" opacity="0.79"/>
<circle cx="110.11" cy="416.15" r="0.89" fill="#6a5aa8" opacity="0.86"/>
<circle cx="126.37" cy="423.24" r="0.52" fill="#5b2c3a" opacity="0.89"/>
<circle cx="115.22" cy="429.22" r="0.84" fill="#6a5aa8" opacity="0.82"/>
<circle cx="142.83" cy="438.11" r="0.90" fill="#2b2250" opacity="0.64"/>
<circle cx="147.01" cy="422.99" r="0.63" fill="#3b2a6a" opacity="0.67"/>
<circle cx="155.55" cy="443.33" r="0.93" fill="#4d3a8a" opacity="0.62"/>
<circle cx="159.43" cy="409.08" r="0.75" fill="#5b2c3a" opacity="0.95"/>
<circle cx="120.31" cy="422.19" r="0.66" fill="#6a5aa8" opacity="0.84"/>
<circle cx="146.85" cy="404.72" r="0.83" fill="#2a1a30" opacity="0.67"/>
<circle cx="139.81" cy="423.76" r="0.53" fill="#3a2030" opacity="0.87"/>
<circle cx="121.99" cy="402.05" r="0.54" fill="#3b2a6a" opacity="0.68"/>
<circle cx="159.07" cy="432.42" r="0.80" fill="#5b2c3a" opacity="0.82"/>
<circle cx="159.97" cy="445.84" r="0.84" fill="#6a5aa8" opacity="0.93"/>
<circle cx="156.58" cy="442.63" r="0.87" fill="#2b2250" opacity="0.61"/>
<circle cx="106.61" cy="418.88" r="0.50" fill="#3a2030" opacity="0.91"/>
<circle cx="158.06" cy="404.77" r="0.51" fill="#3a2030" opacity="0.70"/>
<circle cx="156.03" cy="427.01" r="0.82" fill="#2b2250" opacity="0.95"/>
<circle cx="106.74" cy="403.16" r="0.82" fill="#6a5aa8" opacity="0.72"/>
<circle cx="158.06" cy="436.25" r="0.81" fill="#5b2c3a" opacity="0.86"/>
<circle cx="157.63" cy="405.59" r="0.87" fill="#6a5aa8" opacity="0.66"/>
<circle cx="155.21" cy="455.39" r="0.70" fill="#2a1a30" opacity="0.82"/>
<circle cx="135.82" cy="429.57" r="0.65" fill="#4d3a8a" opacity="0.68"/>
<circle cx="127.44" cy="403.22" r="0.65" fill="#4d3a8a" opacity="0.65"/>
<circle cx="115.98" cy="423.39" r="0.63" fill="#2b2250" opacity="0.89"/>
<circle cx="133.36" cy="422.36" r="0.56" fill="#5b2c3a" opacity="0.88"/>
<circle cx="145.75" cy="456.00" r="0.62" fill="#3a2030" opacity="0.76"/>
<circle cx="161.38" cy="425.95" r="0.83" fill="#2b2250" opacity="0.94"/>
<circle cx="149.85" cy="419.72" r="0.79" fill="#3a2030" opacity="0.93"/>
<circle cx="119.34" cy="441.51" r="0.82" fill="#5b2c3a" opacity="0.78"/>
<circle cx="157.17" cy="421.07" r="0.63" fill="#3a2030" opacity="0.65"/>
<circle cx="138.52" cy="430.92" r="0.87" fill="#3b2a6a" opacity="0.61"/>
<circle cx="106.13" cy="420.45" r="0.90" fill="#5b2c3a" opacity="0.85"/>
<circle cx="105.34" cy="430.78" r="0.58" fill="#2a1a30" opacity="0.80"/>
<circle cx="112.81" cy="431.05" r="0.62" fill="#4d3a8a" opacity="0.81"/>
<circle cx="153.44" cy="428.57" r="0.72" fill="#6a5aa8" opacity="0.84"/>
<circle cx="150.27" cy="410.35" r="0.54" fill="#3b2a6a" opacity="0.83"/>
<circle cx="105.73" cy="439.94" r="0.75" fill="#2a1a30" opacity="0.71"/>
<circle cx="153.65" cy="455.04" r="0.72" fill="#3b2a6a" opacity="0.75"/>
<circle cx="106.78" cy="427.80" r="0.75" fill="#4d3a8a" opacity="0.78"/>
<circle cx="148.39" cy="422.03" r="0.92" fill="#3b2a6a" opacity="0.80"/>
<circle cx="163.31" cy="423.53" r="0.56" fill="#7a3a3a" opacity="0.82"/>
<circle cx="108.12" cy="402.21" r="0.85" fill="#7a3a3a" opacity="0.65"/>
<circle cx="146.92" cy="443.73" r="0.51" fill="#7a3a3a" opacity="0.91"/>
<circle cx="132.07" cy="434.22" r="0.86" fill="#4d3a8a" opacity="0.73"/>
<circle cx="115.01" cy="419.41" r="0.88" fill="#7a3a3a" opacity="0.82"/>
<circle cx="136.23" cy="426.11" r="0.71" fill="#2b2250" opacity="0.94"/>
<circle cx="126.99" cy="407.44" r="0.79" fill="#5b2c3a" opacity="0.82"/>
<circle cx="153.25" cy="425.25" r="0.54" fill="#4d3a8a" opacity="0.83"/>
<circle cx="144.53" cy="406.94" r="0.64" fill="#6a5aa8" opacity="0.75"/>
<circle cx="137.85" cy="436.83" r="0.65" fill="#3a2030" opacity="0.85"/>
<circle cx="105.38" cy="427.19" r="0.80" fill="#2a1a30" opacity="0.71"/>
<circle cx="108.35" cy="433.41" r="0.59" fill="#4d3a8a" opacity="0.75"/>
<circle cx="153.69" cy="453.50" r="0.62" fill="#7a3a3a" opacity="0.82"/>
<circle cx="113.37" cy="431.63" r="0.87" fill="#3b2a6a" opacity="0.92"/>
<circle cx="152.81" cy="422.70" r="0.56" fill="#3a2030" opacity="0.77"/>
<circle cx="152.98" cy="426.07" r="0.82" fill="#5b2c3a" opacity="0.69"/>
<circle cx="111.57" cy="421.28" r="0.72" fill="#5b2c3a" opacity="0.83"/>
<circle cx="114.85" cy="419.82" r="0.63" fill="#3a2030" opacity="0.63"/>
<circle cx="111.46" cy="407.56" r="0.51" fill="#3a2030" opacity="0.95"/>
<circle cx="105.03" cy="434.98" r="0.76" fill="#7a3a3a" opacity="0.87"/>
<circle cx="121.92" cy="436.31" r="0.51" fill="#5b2c3a" opacity="0.66"/>
<circle cx="130.73" cy="421.17" r="0.87" fill="#2b2250" opacity="0.90"/>
<circle cx="135.56" cy="440.42" r="0.79" fill="#5b2c3a" opacity="0.83"/>
<circle cx="119.98" cy="428.56" r="0.78" fill="#2a1a30" opacity="0.72"/>
<circle cx="112.68" cy="408.78" r="0.67" fill="#3a2030" opacity="0.64"/>
<circle cx="128.62" cy="414.23" r="0.76" fill="#7a3a3a" opacity="0.75"/>
<circle cx="120.56" cy="438.50" r="0.92" fill="#3b2a6a" opacity="0.75"/>
<circle cx="158.72" cy="421.79" r="0.90" fill="#2a1a30" opacity="0.66"/>
<circle cx="136.97" cy="448.30" r="0.65" fill="#2b2250" opacity="0.81"/>
<circle cx="116.01" cy="418.60" r="0.68" fill="#7a3a3a" opacity="0.88"/>
<circle cx="120.31" cy="442.43" r="0.70" fill="#3a2030" opacity="0.90"/>
<circle cx="157.52" cy="409.66" r="0.74" fill="#2a1a30" opacity="0.77"/>
<circle cx="136.00" cy="436.22" r="0.78" fill="#5b2c3a" opacity="0.86"/>
<circle cx="141.62" cy="429.15" r="0.51" fill="#2b2250" opacity="0.71"/>
<circle cx="155.54" cy="448.23" r="0.72" fill="#7a3a3a" opacity="0.85"/>
<circle cx="112.03" cy="434.78" r="0.55" fill="#7a3a3a" opacity="0.69"/>
<circle cx="144.05" cy="407.94" r="0.69" fill="#3a2030" opacity="0.83"/>
<circle cx="106.42" cy="450.09" r="0.55" fill="#2b2250" opacity="0.78"/>
<circle cx="148.28" cy="448.44" r="0.80" fill="#7a3a3a" opacity="0.84"/>
<circle cx="155.78" cy="439.58" r="0.89" fill="#7a3a3a" opacity="0.92"/>
<circle cx="138.93" cy="420.12" r="0.90" fill="#5b2c3a" opacity="0.81"/>
<circle cx="127.59" cy="455.19" r="0.51" fill="#2a1a30" opacity="0.69"/>
<circle cx="156.35" cy="448.62" r="0.67" fill="#3a2030" opacity="0.80"/>
<circle cx="126.68" cy="451.85" r="0.58" fill="#5b2c3a" opacity="0.83"/>
<circle cx="159.49" cy="449.86" r="0.93" fill="#3a2030" opacity="0.64"/>
<circle cx="119.39" cy="429.29" r="0.51" fill="#3a2030" opacity="0.61"/>
<circle cx="116.48" cy="409.23" r="0.67" fill="#4d3a8a" opacity="0.68"/>
<circle cx="126.87" cy="432.51" r="0.83" fill="#2b2250" opacity="0.60"/>
<circle cx="159.60" cy="427.95" r="0.95" fill="#2a1a30" opacity="0.64"/>
<circle cx="141.70" cy="427.54" r="0.88" fill="#4d3a8a" opacity="0.62"/>
<circle cx="145.94" cy="434.85" r="0.80" fill="#3b2a6a" opacity="0.93"/>
<circle cx="155.63" cy="440.24" r="0.89" fill="#5b2c3a" opacity="0.71"/>
<circle cx="118.50" cy="435.21" r="0.94" fill="#2b2250" opacity="0.76"/>
<circle cx="107.43" cy="426.50" r="0.58" fill="#3b2a6a" opacity="0.61"/>
<circle cx="123.76" cy="403.26" r="0.58" fill="#5b2c3a" opacity="0.74"/>
<circle cx="124.19" cy="451.81" r="0.55" fill="#3b2a6a" opacity="0.93"/>
<circle cx="135.11" cy="435.86" r="0.93" fill="#5b2c3a" opacity="0.89"/>
<circle cx="155.81" cy="441.55" r="0.75" fill="#6a5aa8" opacity="0.89"/>
<circle cx="152.96" cy="449.58" r="0.74" fill="#3b2a6a" opacity="0.83"/>
<circle cx="122.69" cy="453.55" r="0.57" fill="#7a3a3a" opacity="0.71"/>
<circle cx="159.34" cy="432.80" r="0.70" fill="#2a1a30" opacity="0.95"/>
<circle cx="133.03" cy="445.44" r="0.74" fill="#3a2030" opacity="0.75"/>
<circle cx="143.08" cy="454.50" r="0.83" fill="#6a5aa8" opacity="0.73"/>
<circle cx="143.69" cy="452.01" r="0.51" fill="#7a3a3a" opacity="0.69"/>
<circle cx="111.69" cy="428.04" r="0.54" fill="#2a1a30" opacity="0.74"/>
<circle cx="112.97" cy="407.35" r="0.53" fill="#4d3a8a" opacity="0.67"/>
<circle cx="155.09" cy="403.70" r="0.55" fill="#2b2250" opacity="0.75"/>
<circle cx="121.96" cy="426.52" r="0.71" fill="#3a2030" opacity="0.81"/>
<circle cx="123.42" cy="438.83" r="0.88" fill="#3a2030" opacity="0.72"/>
<circle cx="127.99" cy="419.55" r="0.79" fill="#2a1a30" opacity="0.85"/>
<circle cx="116.21" cy="412.97" r="0.57" fill="#7a3a3a" opacity="0.66"/>
<circle cx="128.98" cy="436.10" r="0.84" fill="#7a3a3a" opacity="0.69"/>
<circle cx="131.52" cy="404.91" r="0.79" fill="#6a5aa8" opacity="0.75"/>
<circle cx="127.01" cy="439.49" r="0.84" fill="#3a2030" opacity="0.67"/>
<circle cx="106.98" cy="429.03" r="0.72" fill="#5b2c3a" opacity="0.77"/>
<circle cx="150.23" cy="405.68" r="0.69" fill="#3a2030" opacity="0.83"/>
<circle cx="157.26" cy="434.35" r="0.60" fill="#6a5aa8" opacity="0.77"/>
<circle cx="155.04" cy="452.72" r="0.62" fill="#3a2030" opacity="0.79"/>
<circle cx="157.56" cy="434.26" r="0.85" fill="#2a1a30" opacity="0.84"/>
<circle cx="147.31" cy="450.08" r="0.90" fill="#2b2250" opacity="0.86"/>
<circle cx="149.20" cy="403.80" r="0.87" fill="#2b2250" opacity="0.92"/>
<circle cx="143.25" cy="437.25" r="0.81" fill="#2b2250" opacity="0.84"/>
<circle cx="144.92" cy="447.84" r="0.66" fill="#4d3a8a" opacity="0.74"/>
<circle cx="125.65" cy="430.19" r="0.52" fill="#3b2a6a" opacity="0.64"/>
<circle cx="132.26" cy="419.72" r="0.94" fill="#5b2c3a" opacity="0.95"/>
<circle cx="132.09" cy="414.98" r="0.78" fill="#2b2250" opacity="0.73"/>
<circle cx="154.98" cy="419.72" r="0.85" fill="#3a2030" opacity="0.68"/>
<circle cx="145.96" cy="437.01" r="0.91" fill="#3b2a6a" opacity="0.84"/>
<circle cx="158.23" cy="446.26" r="0.67" fill="#5b2c3a" opacity="0.72"/>
<circle cx="138.93" cy="432.09" r="0.70" fill="#3b2a6a" opacity="0.74"/>
<circle cx="112.68" cy="414.62" r="0.87" fill="#3a2030" opacity="0.76"/>
<circle cx="141.40" cy="405.75" r="0.68" fill="#7a3a3a" opacity="0.92"/>
<circle cx="156.66" cy="441.09" r="0.79" fill="#5b2c3a" opacity="0.89"/>
<circle cx="153.77" cy="442.71" r="0.69" fill="#7a3a3a" opacity="0.78"/>
<circle cx="139.26" cy="449.11" r="0.87" fill="#3b2a6a" opacity="0.78"/>
<circle cx="134.27" cy="404.41" r="0.52" fill="#3a2030" opacity="0.90"/>
<circle cx="127.38" cy="432.68" r="0.52" fill="#7a3a3a" opacity="0.81"/>
<circle cx="155.43" cy="402.86" r="0.71" fill="#5b2c3a" opacity="0.94"/>
<circle cx="111.65" cy="421.94" r="0.75" fill="#3a2030" opacity="0.65"/>
<circle cx="153.69" cy="411.51" r="0.58" fill="#3a2030" opacity="0.76"/>
<circle cx="134.54" cy="406.32" r="0.90" fill="#2b2250" opacity="0.67"/>
<circle cx="140.07" cy="437.15" r="0.61" fill="#3a2030" opacity="0.69"/>
<circle cx="163.52" cy="420.64" r="0.60" fill="#2b2250" opacity="0.83"/>
<circle cx="140.58" cy="453.59" r="0.90" fill="#3a2030" opacity="0.63"/>
<circle cx="148.94" cy="451.67" r="0.75" fill="#6a5aa8" opacity="0.74"/>
<circle cx="124.60" cy="428.28" r="0.88" fill="#2b2250" opacity="0.62"/>
<circle cx="105.13" cy="455.41" r="0.84" fill="#3a2030" opacity="0.71"/>
<circle cx="137.96" cy="430.80" r="0.71" fill="#3b2a6a" opacity="0.81"/>
<circle cx="143.02" cy="435.42" r="0.57" fill="#5b2c3a" opacity="0.66"/>
<circle cx="133.70" cy="439.82" r="0.58" fill="#3b2a6a" opacity="0.88"/>
<circle cx="152.29" cy="412.55" r="0.85" fill="#3a2030" opacity="0.62"/>
<circle cx="159.47" cy="432.26" r="0.91" fill="#2b2250" opacity="0.92"/>
<circle cx="153.11" cy="442.47" r="0.89" fill="#3b2a6a" opacity="0.66"/>
<circle cx="133.00" cy="453.14" r="0.80" fill="#7a3a3a" opacity="0.78"/>
<circle cx="118.99" cy="445.76" r="0.74" fill="#2a1a30" opacity="0.76"/>
<circle cx="116.07" cy="418.26" r="0.51" fill="#2a1a30" opacity="0.88"/>
<circle cx="106.98" cy="427.06" r="0.92" fill="#3b2a6a" opacity="0.89"/>
<circle cx="161.93" cy="410.65" r="0.72" fill="#2a1a30" opacity="0.71"/>
<circle cx="135.23" cy="412.15" r="0.53" fill="#4d3a8a" opacity="0.86"/>
<circle cx="150.65" cy="450.42" r="0.75" fill="#3b2a6a" opacity="0.87"/>
<circle cx="131.71" cy="427.32" r="0.59" fill="#2a1a30" opacity="0.70"/>
<circle cx="139.54" cy="439.44" r="0.76" fill="#4d3a8a" opacity="0.78"/>
<circle cx="122.30" cy="403.93" r="0.78" fill="#5b2c3a" opacity="0.94"/>
<circle cx="150.70" cy="430.74" r="0.87" fill="#5b2c3a" opacity="0.65"/>
<circle cx="105.84" cy="445.80" r="0.72" fill="#3a2030" opacity="0.89"/>
<circle cx="142.44" cy="437.71" r="0.64" fill="#7a3a3a" opacity="0.68"/>
<circle cx="105.10" cy="435.65" r="0.82" fill="#3a2030" opacity="0.89"/>
<circle cx="142.96" cy="415.53" r="0.52" fill="#3b2a6a" opacity="0.65"/>
<circle cx="160.23" cy="429.45" r="0.59" fill="#3a2030" opacity="0.72"/>
<circle cx="110.70" cy="440.45" r="0.94" fill="#4d3a8a" opacity="0.82"/>
<circle cx="107.73" cy="446.54" r="0.89" fill="#4d3a8a" opacity="0.92"/>
<circle cx="136.97" cy="413.21" r="0.59" fill="#2b2250" opacity="0.81"/>
<circle cx="113.99" cy="424.23" r="0.69" fill="#2b2250" opacity="0.69"/>
<circle cx="117.49" cy="422.41" r="0.53" fill="#4d3a8a" opacity="0.93"/>
<circle cx="128.88" cy="440.42" r="0.89" fill="#7a3a3a" opacity="0.62"/>
<circle cx="133.35" cy="448.29" r="0.93" fill="#3a2030" opacity="0.65"/>
<circle cx="107.43" cy="430.94" r="0.78" fill="#5b2c3a" opacity="0.83"/>
<circle cx="121.11" cy="455.20" r="0.55" fill="#7a3a3a" opacity="0.79"/>
<circle cx="139.86" cy="425.06" r="0.53" fill="#2a1a30" opacity="0.78"/>
<circle cx="162.36" cy="434.84" r="0.90" fill="#3b2a6a" opacity="0.82"/>
<circle cx="120.67" cy="425.59" r="0.84" fill="#2b2250" opacity="0.62"/>
<circle cx="134.04" cy="449.12" r="0.91" fill="#2b2250" opacity="0.65"/>
<circle cx="155.11" cy="436.46" r="0.59" fill="#7a3a3a" opacity="0.91"/>
<circle cx="155.73" cy="441.02" r="0.84" fill="#3a2030" opacity="0.64"/>
<circle cx="161.59" cy="453.36" r="0.69" fill="#2a1a30" opacity="0.69"/>
<circle cx="154.46" cy="411.86" r="0.64" fill="#2a1a30" opacity="0.60"/>
<circle cx="139.49" cy="430.28" r="0.73" fill="#2a1a30" opacity="0.67"/>
<circle cx="158.42" cy="437.10" r="0.64" fill="#6a5aa8" opacity="0.69"/>
<circle cx="144.00" cy="436.65" r="0.87" fill="#2b2250" opacity="0.90"/>
<circle cx="153.84" cy="412.66" r="0.54" fill="#3b2a6a" opacity="0.84"/>
<circle cx="158.57" cy="430.82" r="0.88" fill="#3a2030" opacity="0.64"/>
<circle cx="125.10" cy="430.16" r="0.53" fill="#3a2030" opacity="0.84"/>
<circle cx="106.54" cy="436.41" r="0.52" fill="#3b2a6a" opacity="0.70"/>
<circle cx="127.93" cy="413.17" r="0.64" fill="#3b2a6a" opacity="0.83"/>
<circle cx="136.46" cy="414.21" r="0.76" fill="#6a5aa8" opacity="0.79"/>
<circle cx="133.33" cy="425.88" r="0.61" fill="#3a2030" opacity="0.85"/>
<circle cx="161.63" cy="449.75" r="0.78" fill="#3a2030" opacity="0.89"/>
<circle cx="115.34" cy="420.85" r="0.62" fill="#4d3a8a" opacity="0.94"/>
<circle cx="117.59" cy="410.98" r="0.55" fill="#4d3a8a" opacity="0.79"/>
<circle cx="155.85" cy="434.95" r="0.51" fill="#7a3a3a" opacity="0.84"/>
<circle cx="152.39" cy="402.23" r="0.86" fill="#7a3a3a" opacity="0.71"/>
<circle cx="132.41" cy="405.11" r="0.70" fill="#2b2250" opacity="0.68"/>
<circle cx="124.23" cy="411.88" r="0.91" fill="#3a2030" opacity="0.77"/>
<circle cx="131.31" cy="417.81" r="0.75" fill="#5b2c3a" opacity="0.67"/>
<circle cx="160.32" cy="440.99" r="0.69" fill="#2b2250" opacity="0.81"/>
<circle cx="104.83" cy="420.03" r="0.94" fill="#2a1a30" opacity="0.74"/>
<circle cx="107.93" cy="411.68" r="0.81" fill="#5b2c3a" opacity="0.93"/>
<circle cx="133.34" cy="451.73" r="0.69" fill="#7a3a3a" opacity="0.80"/>
<circle cx="136.61" cy="445.19" r="0.93" fill="#6a5aa8" opacity="0.85"/>
<circle cx="139.23" cy="448.00" r="0.59" fill="#6a5aa8" opacity="0.72"/>
<circle cx="150.49" cy="407.82" r="0.89" fill="#4d3a8a" opacity="0.76"/>
<circle cx="125.57" cy="409.14" r="0.90" fill="#5b2c3a" opacity="0.94"/>
<circle cx="133.48" cy="442.94" r="0.71" fill="#6a5aa8" opacity="0.85"/>
<circle cx="160.27" cy="422.95" r="0.56" fill="#5b2c3a" opacity="0.69"/>
<circle cx="138.12" cy="438.64" r="0.58" fill="#2b2250" opacity="0.75"/>
<circle cx="140.60" cy="434.36" r="0.63" fill="#3a2030" opacity="0.83"/>
<circle cx="134.80" cy="429.05" r="0.93" fill="#4d3a8a" opacity="0.82"/>
<circle cx="138.63" cy="454.27" r="0.67" fill="#3a2030" opacity="0.74"/>
<circle cx="138.92" cy="439.50" r="0.52" fill="#7a3a3a" opacity="0.91"/>
<circle cx="148.09" cy="408.59" r="0.73" fill="#5b2c3a" opacity="0.74"/>
<circle cx="150.65" cy="441.83" r="0.52" fill="#3a2030" opacity="0.90"/>
<circle cx="121.55" cy="438.29" r="0.72" fill="#3a2030" opacity="0.81"/>
<circle cx="146.81" cy="452.68" r="0.87" fill="#2a1a30" opacity="0.82"/>
<circle cx="115.49" cy="446.92" r="0.83" fill="#2a1a30" opacity="0.67"/>
<circle cx="117.53" cy="410.04" r="0.89" fill="#5b2c3a" opacity="0.61"/>
<circle cx="123.40" cy="452.34" r="0.73" fill="#6a5aa8" opacity="0.75"/>
<circle cx="122.68" cy="410.90" r="0.75" fill="#2a1a30" opacity="0.76"/>
<circle cx="139.55" cy="412.97" r="0.92" fill="#5b2c3a" opacity="0.66"/>
<circle cx="155.42" cy="440.23" r="0.52" fill="#2a1a30" opacity="0.70"/>
<circle cx="116.46" cy="428.18" r="0.52" fill="#5b2c3a" opacity="0.77"/>
<circle cx="160.02" cy="434.70" r="0.65" fill="#2a1a30" opacity="0.70"/>
<circle cx="107.79" cy="404.15" r="0.80" fill="#3b2a6a" opacity="0.95"/>
<circle cx="136.51" cy="435.13" r="0.86" fill="#2a1a30" opacity="0.64"/>
<circle cx="125.09" cy="423.51" r="0.79" fill="#3a2030" opacity="0.73"/>
<circle cx="141.42" cy="424.53" r="0.75" fill="#2a1a30" opacity="0.64"/>
<circle cx="106.72" cy="413.80" r="0.60" fill="#5b2c3a" opacity="0.72"/>
<circle cx="117.38" cy="434.47" r="0.81" fill="#2b2250" opacity="0.64"/>
<circle cx="159.16" cy="444.37" r="0.61" fill="#2b2250" opacity="0.65"/>
<circle cx="148.70" cy="418.09" r="0.68" fill="#2b2250" opacity="0.70"/>
<circle cx="121.81" cy="441.00" r="0.73" fill="#6a5aa8" opacity="0.85"/>
<circle cx="137.16" cy="434.49" r="0.80" fill="#3a2030" opacity="0.94"/>
<circle cx="129.68" cy="422.80" r="0.78" fill="#2a1a30" opacity="0.79"/>
<circle cx="116.16" cy="411.03" r="0.75" fill="#4d3a8a" opacity="0.80"/>
<circle cx="106.03" cy="420.16" r="0.77" fill="#2a1a30" opacity="0.90"/>
<circle cx="113.01" cy="433.68" r="0.64" fill="#3a2030" opacity="0.77"/>
<circle cx="158.03" cy="424.27" r="0.79" fill="#6a5aa8" opacity="0.60"/>
<circle cx="149.73" cy="445.11" r="0.83" fill="#7a3a3a" opacity="0.63"/>
<circle cx="122.21" cy="448.04" r="0.73" fill="#6a5aa8" opacity="0.69"/>
<circle cx="154.80" cy="450.39" r="0.58" fill="#3a2030" opacity="0.95"/>
<circle cx="107.72" cy="414.79" r="0.91" fill="#6a5aa8" opacity="0.69"/>
<circle cx="131.26" cy="419.67" r="0.93" fill="#2b2250" opacity="0.61"/>
<circle cx="124.35" cy="428.94" r="0.76" fill="#2a1a30" opacity="0.74"/>
<circle cx="159.90" cy="419.53" r="0.66" fill="#4d3a8a" opacity="0.71"/>
<circle cx="133.95" cy="405.70" r="0.86" fill="#2a1a30" opacity="0.90"/>
<circle cx="144.49" cy="424.45" r="0.52" fill="#6a5aa8" opacity="0.81"/>
<circle cx="112.67" cy="453.40" r="0.68" fill="#4d3a8a" opacity="0.82"/>
<circle cx="109.55" cy="426.76" r="0.85" fill="#2b2250" opacity="0.63"/>
<circle cx="142.65" cy="417.04" r="0.63" fill="#4d3a8a" opacity="0.70"/>
<circle cx="119.52" cy="423.15" r="0.87" fill="#3a2030" opacity="0.86"/>
<circle cx="161.70" cy="404.25" r="0.90" fill="#6a5aa8" opacity="0.88"/>
<circle cx="138.49" cy="424.14" r="0.51" fill="#2a1a30" opacity="0.63"/>
<circle cx="123.45" cy="452.02" r="0.95" fill="#3a2030" opacity="0.92"/>
<circle cx="156.74" cy="427.25" r="0.61" fill="#2b2250" opacity="0.63"/>
<circle cx="120.85" cy="436.08" r="0.60" fill="#7a3a3a" opacity="0.83"/>
<circle cx="133.28" cy="408.10" r="0.94" fill="#4d3a8a" opacity="0.85"/>
<circle cx="115.69" cy="440.30" r="0.82" fill="#5b2c3a" opacity="0.91"/>
<circle cx="110.36" cy="430.96" r="0.56" fill="#3a2030" opacity="0.70"/>
<circle cx="153.81" cy="426.52" r="0.58" fill="#5b2c3a" opacity="0.68"/>
<circle cx="152.72" cy="437.91" r="0.71" fill="#3a2030" opacity="0.63"/>
<circle cx="142.21" cy="415.61" r="0.56" fill="#3b2a6a" opacity="0.72"/>
<circle cx="127.64" cy="405.52" r="0.62" fill="#7a3a3a" opacity="0.73"/>
<circle cx="158.08" cy="411.65" r="0.69" fill="#5b2c3a" opacity="0.82"/>
<circle cx="118.86" cy="407.41" r="0.87" fill="#5b2c3a" opacity="0.93"/>
<circle cx="115.42" cy="417.34" r="0.82" fill="#6a5aa8" opacity="0.70"/>
<circle cx="140.32" cy="413.68" r="0.54" fill="#3b2a6a" opacity="0.84"/>
<circle cx="123.53" cy="435.38" r="0.82" fill="#4d3a8a" opacity="0.83"/>
<circle cx="153.44" cy="405.03" r="0.93" fill="#6a5aa8" opacity="0.74"/>
<circle cx="116.82" cy="440.49" r="0.75" fill="#3b2a6a" opacity="0.67"/>
<circle cx="145.55" cy="407.06" r="0.92" fill="#3b2a6a" opacity="0.79"/>
<circle cx="131.20" cy="448.68" r="0.82" fill="#7a3a3a" opacity="0.80"/>
<circle cx="118.44" cy="446.96" r="0.62" fill="#3b2a6a" opacity="0.74"/>
<circle cx="128.10" cy="427.49" r="0.73" fill="#5b2c3a" opacity="0.64"/>
<circle cx="125.33" cy="415.04" r="0.64" fill="#4d3a8a" opacity="0.64"/>
<circle cx="126.09" cy="448.13" r="0.84" fill="#3b2a6a" opacity="0.64"/>
<circle cx="124.74" cy="418.21" r="0.70" fill="#6a5aa8" opacity="0.76"/>
<circle cx="109.41" cy="442.70" r="0.84" fill="#7a3a3a" opacity="0.92"/>
<circle cx="142.35" cy="443.12" r="0.83" fill="#7a3a3a" opacity="0.81"/>
<circle cx="114.44" cy="417.91" r="0.51" fill="#3b2a6a" opacity="0.85"/>
<circle cx="162.78" cy="417.88" r="0.77" fill="#3a2030" opacity="0.61"/>
<circle cx="158.87" cy="433.89" r="0.53" fill="#5b2c3a" opacity="0.68"/>
<circle cx="162.21" cy="424.51" r="0.95" fill="#3a2030" opacity="0.64"/>
<circle cx="138.00" cy="444.69" r="0.58" fill="#2a1a30" opacity="0.80"/>
<circle cx="148.71" cy="442.72" r="0.91" fill="#6a5aa8" opacity="0.82"/>
<circle cx="147.21" cy="433.65" r="0.61" fill="#2b2250" opacity="0.61"/>
<circle cx="115.30" cy="422.02" r="0.75" fill="#4d3a8a" opacity="0.65"/>
<circle cx="152.63" cy="404.64" r="0.90" fill="#2a1a30" opacity="0.65"/>
<circle cx="116.67" cy="442.10" r="0.93" fill="#7a3a3a" opacity="0.91"/>
<circle cx="146.85" cy="417.48" r="0.88" fill="#6a5aa8" opacity="0.86"/>
<circle cx="108.05" cy="455.21" r="0.54" fill="#3a2030" opacity="0.78"/>
<circle cx="156.10" cy="425.20" r="0.66" fill="#6a5aa8" opacity="0.94"/>
<circle cx="117.53" cy="452.90" r="0.83" fill="#2a1a30" opacity="0.73"/>
<circle cx="110.75" cy="453.83" r="0.89" fill="#6a5aa8" opacity="0.78"/>
<circle cx="107.99" cy="407.01" r="0.60" fill="#2a1a30" opacity="0.72"/>
<circle cx="139.17" cy="419.91" r="0.75" fill="#3b2a6a" opacity="0.71"/>
<circle cx="126.25" cy="425.54" r="0.69" fill="#3b2a6a" opacity="0.91"/>
<circle cx="133.39" cy="438.84" r="0.72" fill="#5b2c3a" opacity="0.75"/>
<circle cx="150.98" cy="424.64" r="0.90" fill="#4d3a8a" opacity="0.70"/>
<circle cx="147.15" cy="425.97" r="0.92" fill="#4d3a8a" opacity="0.71"/>
<circle cx="115.48" cy="452.21" r="0.59" fill="#5b2c3a" opacity="0.88"/>
<circle cx="149.74" cy="436.49" r="0.68" fill="#6a5aa8" opacity="0.77"/>
<circle cx="108.15" cy="450.56" r="0.72" fill="#6a5aa8" opacity="0.74"/>
<circle cx="116.69" cy="425.22" r="0.74" fill="#4d3a8a" opacity="0.67"/>
<circle cx="133.54" cy="431.29" r="0.76" fill="#2b2250" opacity="0.74"/>
<circle cx="163.02" cy="421.18" r="0.78" fill="#7a3a3a" opacity="0.67"/>
<circle cx="136.84" cy="417.17" r="0.66" fill="#3b2a6a" opacity="0.77"/>
<circle cx="109.99" cy="405.06" r="0.76" fill="#2b2250" opacity="0.79"/>
<circle cx="136.00" cy="429.25" r="0.84" fill="#7a3a3a" opacity="0.75"/>
<circle cx="120.19" cy="422.77" r="0.71" fill="#3a2030" opacity="0.62"/>
<circle cx="128.14" cy="452.36" r="0.69" fill="#4d3a8a" opacity="0.82"/>
<circle cx="161.83" cy="432.19" r="0.54" fill="#3a2030" opacity="0.93"/>
<circle cx="161.90" cy="437.34" r="0.67" fill="#3b2a6a" opacity="0.85"/>
<circle cx="124.17" cy="408.73" r="0.58" fill="#7a3a3a" opacity="0.92"/>
<circle cx="156.84" cy="447.66" r="0.81" fill="#2a1a30" opacity="0.76"/>
<circle cx="107.16" cy="423.84" r="0.60" fill="#4d3a8a" opacity="0.63"/>
<circle cx="131.78" cy="439.34" r="0.63" fill="#5b2c3a" opacity="0.91"/>
<circle cx="159.96" cy="433.18" r="0.89" fill="#3b2a6a" opacity="0.65"/>
<circle cx="137.72" cy="445.32" r="0.84" fill="#6a5aa8" opacity="0.86"/>
<circle cx="114.85" cy="441.94" r="0.74" fill="#6a5aa8" opacity="0.84"/>
<circle cx="113.87" cy="416.26" r="0.67" fill="#2b2250" opacity="0.89"/>
<circle cx="133.36" cy="438.87" r="0.74" fill="#7a3a3a" opacity="0.92"/>
<circle cx="126.23" cy="413.22" r="0.70" fill="#2b2250" opacity="0.81"/>
<circle cx="152.58" cy="413.62" r="0.53" fill="#5b2c3a" opacity="0.72"/>
<circle cx="113.81" cy="417.63" r="0.94" fill="#2b2250" opacity="0.82"/>
<circle cx="161.08" cy="432.21" r="0.67" fill="#2a1a30" opacity="0.80"/>
<circle cx="157.47" cy="402.59" r="0.92" fill="#3a2030" opacity="0.71"/>
<circle cx="137.25" cy="419.73" r="0.84" fill="#2a1a30" opacity="0.69"/>
<circle cx="146.35" cy="417.09" r="0.53" fill="#2a1a30" opacity="0.78"/>
<circle cx="119.42" cy="415.78" r="0.71" fill="#2b2250" opacity="0.91"/>
<circle cx="140.91" cy="433.13" r="0.78" fill="#7a3a3a" opacity="0.73"/>
<circle cx="159.87" cy="420.50" r="0.58" fill="#7a3a3a" opacity="0.92"/>
<circle cx="113.15" cy="441.36" r="0.60" fill="#3b2a6a" opacity="0.73"/>
<circle cx="106.54" cy="445.56" r="0.76" fill="#3a2030" opacity="0.90"/>
<circle cx="105.86" cy="450.84" r="0.71" fill="#5b2c3a" opacity="0.90"/>
<circle cx="123.52" cy="416.69" r="0.57" fill="#3b2a6a" opacity="0.78"/>
<circle cx="105.34" cy="403.85" r="0.52" fill="#2a1a30" opacity="0.68"/>
<circle cx="151.83" cy="443.99" r="0.62" fill="#6a5aa8" opacity="0.67"/>
<circle cx="116.36" cy="423.02" r="0.72" fill="#4d3a8a" opacity="0.71"/>
<circle cx="162.32" cy="441.17" r="0.94" fill="#7a3a3a" opacity="0.93"/>
<circle cx="141.95" cy="436.80" r="0.72" fill="#6a5aa8" opacity="0.85"/>
<circle cx="154.60" cy="450.32" r="0.82" fill="#7a3a3a" opacity="0.87"/>
<circle cx="112.31" cy="443.50" r="0.71" fill="#3b2a6a" opacity="0.73"/>
<circle cx="157.08" cy="430.55" r="0.66" fill="#6a5aa8" opacity="0.72"/>
<circle cx="123.75" cy="448.33" r="0.95" fill="#2b2250" opacity="0.94"/>
<circle cx="147.85" cy="430.20" r="0.71" fill="#4d3a8a" opacity="0.93"/>
<circle cx="134.42" cy="438.06" r="0.86" fill="#5b2c3a" opacity="0.75"/>
<circle cx="126.53" cy="442.11" r="0.87" fill="#7a3a3a" opacity="0.85"/>
<circle cx="138.61" cy="441.27" r="0.95" fill="#2a1a30" opacity="0.94"/>
<circle cx="128.37" cy="441.15" r="0.81" fill="#5b2c3a" opacity="0.62"/>
<circle cx="127.57" cy="434.83" r="0.76" fill="#2b2250" opacity="0.80"/>
<circle cx="160.72" cy="412.60" r="0.93" fill="#3b2a6a" opacity="0.80"/>
<circle cx="107.31" cy="428.21" r="0.91" fill="#5b2c3a" opacity="0.93"/>
<circle cx="136.31" cy="443.47" r="0.57" fill="#3a2030" opacity="0.70"/>
<circle cx="149.89" cy="415.16" r="0.53" fill="#5b2c3a" opacity="0.71"/>
<circle cx="136.86" cy="428.51" r="0.68" fill="#2b2250" opacity="0.68"/>
<circle cx="133.65" cy="411.11" r="0.80" fill="#3a2030" opacity="0.72"/>
<circle cx="143.11" cy="422.78" r="0.93" fill="#3b2a6a" opacity="0.89"/>
<circle cx="146.65" cy="443.30" r="0.74" fill="#3b2a6a" opacity="0.60"/>
<circle cx="140.75" cy="418.15" r="0.80" fill="#3b2a6a" opacity="0.64"/>
<circle cx="124.24" cy="444.53" r="0.81" fill="#3b2a6a" opacity="0.94"/>
<circle cx="154.45" cy="415.49" r="0.50" fill="#7a3a3a" opacity="0.82"/>
<circle cx="136.02" cy="440.38" r="0.79" fill="#2b2250" opacity="0.72"/>
<circle cx="159.99" cy="426.95" r="0.63" fill="#2b2250" opacity="0.81"/>
<circle cx="161.43" cy="414.17" r="0.91" fill="#5b2c3a" opacity="0.61"/>
<circle cx="120.41" cy="447.13" r="0.79" fill="#6a5aa8" opacity="0.79"/>
<circle cx="124.95" cy="420.69" r="0.73" fill="#7a3a3a" opacity="0.76"/>
<circle cx="121.85" cy="450.70" r="0.83" fill="#6a5aa8" opacity="0.67"/>
<circle cx="150.89" cy="435.12" r="0.65" fill="#7a3a3a" opacity="0.88"/>
<circle cx="136.63" cy="414.87" r="0.63" fill="#3b2a6a" opacity="0.69"/>
<circle cx="108.66" cy="438.73" r="0.52" fill="#2a1a30" opacity="0.74"/>
<circle cx="123.81" cy="448.65" r="0.89" fill="#3b2a6a" opacity="0.66"/>
<circle cx="160.65" cy="423.40" r="0.86" fill="#3b2a6a" opacity="0.90"/>
<circle cx="161.52" cy="441.72" r="0.87" fill="#6a5aa8" opacity="0.75"/>
<circle cx="110.62" cy="422.34" r="0.53" fill="#2a1a30" opacity="0.92"/>
<circle cx="156.98" cy="414.18" r="0.79" fill="#3a2030" opacity="0.84"/>
<circle cx="158.23" cy="421.36" r="0.77" fill="#3b2a6a" opacity="0.94"/>
<circle cx="130.67" cy="429.17" r="0.88" fill="#6a5aa8" opacity="0.77"/>
<circle cx="161.84" cy="441.80" r="0.95" fill="#5b2c3a" opacity="0.61"/>
<circle cx="105.36" cy="453.23" r="0.92" fill="#2b2250" opacity="0.86"/>
<circle cx="150.80" cy="406.26" r="0.52" fill="#4d3a8a" opacity="0.65"/>
<circle cx="157.51" cy="430.53" r="0.92" fill="#3a2030" opacity="0.80"/>
<circle cx="139.62" cy="404.83" r="0.83" fill="#2b2250" opacity="0.73"/>
<circle cx="140.65" cy="410.61" r="0.84" fill="#6a5aa8" opacity="0.71"/>
<circle cx="141.20" cy="410.73" r="0.81" fill="#6a5aa8" opacity="0.85"/>
<circle cx="125.66" cy="432.48" r="0.80" fill="#2a1a30" opacity="0.92"/>
<circle cx="153.38" cy="435.42" r="0.83" fill="#5b2c3a" opacity="0.81"/>
<circle cx="140.67" cy="444.65" r="0.66" fill="#3b2a6a" opacity="0.64"/>
<circle cx="135.86" cy="403.82" r="0.87" fill="#6a5aa8" opacity="0.72"/>
<circle cx="147.99" cy="426.74" r="0.71" fill="#2b2250" opacity="0.81"/>
<circle cx="126.68" cy="419.30" r="0.89" fill="#2a1a30" opacity="0.69"/>
<circle cx="127.44" cy="429.96" r="0.73" fill="#2a1a30" opacity="0.90"/>
<circle cx="124.58" cy="453.47" r="0.94" fill="#3a2030" opacity="0.84"/>
<circle cx="146.36" cy="444.90" r="0.92" fill="#2a1a30" opacity="0.66"/>
<circle cx="119.09" cy="422.68" r="0.60" fill="#4d3a8a" opacity="0.95"/>
<circle cx="108.22" cy="437.96" r="0.57" fill="#2b2250" opacity="0.75"/>
<circle cx="128.09" cy="434.00" r="0.54" fill="#5b2c3a" opacity="0.75"/>
<circle cx="124.75" cy="424.33" r="0.71" fill="#6a5aa8" opacity="0.94"/>
<circle cx="146.60" cy="445.42" r="0.65" fill="#2a1a30" opacity="0.66"/>
<circle cx="156.37" cy="435.48" r="0.59" fill="#2a1a30" opacity="0.72"/>
<circle cx="125.20" cy="433.54" r="0.65" fill="#2a1a30" opacity="0.65"/>
<circle cx="138.89" cy="446.11" r="0.78" fill="#3b2a6a" opacity="0.91"/>
<circle cx="159.66" cy="428.89" r="0.52" fill="#2a1a30" opacity="0.94"/>
<circle cx="114.75" cy="455.90" r="0.95" fill="#3a2030" opacity="0.71"/>
<circle cx="138.87" cy="426.26" r="0.87" fill="#6a5aa8" opacity="0.94"/>
<circle cx="108.84" cy="453.77" r="0.65" fill="#5b2c3a" opacity="0.75"/>
<circle cx="121.55" cy="449.88" r="0.77" fill="#5b2c3a" opacity="0.65"/>
<circle cx="161.47" cy="417.22" r="0.95" fill="#2a1a30" opacity="0.60"/>
<circle cx="131.51" cy="453.19" r="0.74" fill="#3a2030" opacity="0.81"/>
<circle cx="135.23" cy="419.15" r="0.81" fill="#5b2c3a" opacity="0.78"/>
<circle cx="114.41" cy="406.98" r="0.53" fill="#7a3a3a" opacity="0.85"/>
<circle cx="127.37" cy="437.21" r="0.61" fill="#2b2250" opacity="0.84"/>
<circle cx="105.79" cy="418.23" r="0.88" fill="#2b2250" opacity="0.61"/>
<circle cx="145.38" cy="448.75" r="0.69" fill="#3a2030" opacity="0.80"/>
<circle cx="144.37" cy="431.96" r="0.84" fill="#6a5aa8" opacity="0.87"/>
<circle cx="130.62" cy="448.41" r="0.56" fill="#5b2c3a" opacity="0.62"/>
<circle cx="125.12" cy="407.59" r="0.94" fill="#2a1a30" opacity="0.62"/>
<circle cx="119.42" cy="410.78" r="0.94" fill="#7a3a3a" opacity="0.92"/>
<circle cx="141.74" cy="456.00" r="0.63" fill="#3a2030" opacity="0.86"/>
<circle cx="114.63" cy="404.61" r="0.53" fill="#2b2250" opacity="0.88"/>
<circle cx="151.50" cy="440.98" r="0.74" fill="#3a2030" opacity="0.82"/>
<circle cx="144.34" cy="425.58" r="0.67" fill="#6a5aa8" opacity="0.66"/>
<circle cx="130.67" cy="425.20" r="0.55" fill="#3a2030" opacity="0.75"/>
<circle cx="116.43" cy="414.36" r="0.88" fill="#4d3a8a" opacity="0.89"/>
<circle cx="143.35" cy="419.82" r="0.94" fill="#4d3a8a" opacity="0.86"/>
<circle cx="158.19" cy="444.69" r="0.70" fill="#3b2a6a" opacity="0.76"/>
<circle cx="129.04" cy="412.21" r="0.59" fill="#2a1a30" opacity="0.76"/>
<circle cx="129.94" cy="442.49" r="0.63" fill="#2b2250" opacity="0.72"/>
<circle cx="113.17" cy="409.72" r="0.86" fill="#7a3a3a" opacity="0.69"/>
<circle cx="110.30" cy="436.89" r="0.73" fill="#6a5aa8" opacity="0.81"/>
<circle cx="115.68" cy="417.12" r="0.53" fill="#4d3a8a" opacity="0.86"/>
<circle cx="111.31" cy="441.65" r="0.83" fill="#6a5aa8" opacity="0.61"/>
<circle cx="160.49" cy="431.91" r="0.71" fill="#3a2030" opacity="0.89"/>
<circle cx="117.75" cy="409.05" r="0.52" fill="#6a5aa8" opacity="0.65"/>
<circle cx="155.80" cy="434.55" r="0.68" fill="#3a2030" opacity="0.70"/>
<circle cx="118.42" cy="420.74" r="0.54" fill="#2a1a30" opacity="0.68"/>
<circle cx="124.87" cy="402.78" r="0.84" fill="#5b2c3a" opacity="0.80"/>
<circle cx="151.28" cy="434.34" r="0.55" fill="#2a1a30" opacity="0.63"/>
<circle cx="130.76" cy="455.65" r="0.75" fill="#7a3a3a" opacity="0.67"/>
<circle cx="131.35" cy="430.34" r="0.51" fill="#2b2250" opacity="0.88"/>
<circle cx="156.28" cy="424.97" r="0.84" fill="#3b2a6a" opacity="0.81"/>
<circle cx="133.11" cy="447.54" r="0.55" fill="#5b2c3a" opacity="0.80"/>
<circle cx="122.11" cy="429.59" r="0.88" fill="#7a3a3a" opacity="0.61"/>
<circle cx="111.26" cy="416.12" r="0.78" fill="#3a2030" opacity="0.83"/>
<circle cx="153.44" cy="437.97" r="0.56" fill="#2a1a30" opacity="0.73"/>
<circle cx="160.10" cy="432.40" r="0.79" fill="#7a3a3a" opacity="0.78"/>
<circle cx="123.24" cy="426.85" r="0.52" fill="#6a5aa8" opacity="0.69"/>
<circle cx="158.63" cy="404.73" r="0.70" fill="#6a5aa8" opacity="0.77"/>
<circle cx="159.24" cy="453.88" r="0.84" fill="#6a5aa8" opacity="0.90"/>
<circle cx="114.67" cy="429.89" r="0.77" fill="#7a3a3a" opacity="0.83"/>
<circle cx="142.07" cy="425.60" r="0.83" fill="#2a1a30" opacity="0.80"/>
<circle cx="153.90" cy="443.36" r="0.94" fill="#4d3a8a" opacity="0.82"/>
<circle cx="109.65" cy="452.81" r="0.52" fill="#2b2250" opacity="0.61"/>
<circle cx="138.31" cy="422.95" r="0.86" fill="#2b2250" opacity="0.85"/>
<circle cx="121.79" cy="454.77" r="0.83" fill="#2a1a30" opacity="0.86"/>
<circle cx="144.57" cy="429.04" r="0.80" fill="#6a5aa8" opacity="0.62"/>
<circle cx="106.14" cy="452.78" r="0.72" fill="#3a2030" opacity="0.70"/>
<circle cx="149.61" cy="402.90" r="0.61" fill="#2b2250" opacity="0.67"/>
<circle cx="161.48" cy="449.40" r="0.90" fill="#3a2030" opacity="0.62"/>
<circle cx="150.04" cy="429.54" r="0.71" fill="#2b2250" opacity="0.66"/>
<circle cx="163.30" cy="438.66" r="0.66" fill="#7a3a3a" opacity="0.87"/>
<circle cx="146.01" cy="404.51" r="0.89" fill="#4d3a8a" opacity="0.64"/>
<circle cx="159.99" cy="453.55" r="0.92" fill="#6a5aa8" opacity="0.86"/>
<circle cx="113.00" cy="452.40" r="0.71" fill="#2a1a30" opacity="0.70"/>
<circle cx="156.20" cy="402.36" r="0.73" fill="#6a5aa8" opacity="0.72"/>
<circle cx="140.88" cy="440.98" r="0.86" fill="#3b2a6a" opacity="0.76"/>
<circle cx="124.98" cy="446.74" r="0.88" fill="#2a1a30" opacity="0.87"/>
<circle cx="146.87" cy="432.21" r="0.92" fill="#4d3a8a" opacity="0.85"/>
<circle cx="108.42" cy="432.38" r="0.74" fill="#2a1a30" opacity="0.93"/>
<circle cx="155.01" cy="449.38" r="0.83" fill="#7a3a3a" opacity="0.92"/>
<circle cx="153.11" cy="416.86" r="0.77" fill="#2b2250" opacity="0.71"/>
<circle cx="147.73" cy="453.66" r="0.70" fill="#5b2c3a" opacity="0.90"/>
<circle cx="147.80" cy="431.28" r="0.87" fill="#3a2030" opacity="0.64"/>
<circle cx="145.23" cy="419.39" r="0.83" fill="#3b2a6a" opacity="0.89"/>
<circle cx="133.34" cy="403.03" r="0.90" fill="#4d3a8a" opacity="0.88"/>
<circle cx="128.52" cy="435.47" r="0.90" fill="#4d3a8a" opacity="0.65"/>
<circle cx="105.72" cy="447.37" r="0.77" fill="#2b2250" opacity="0.74"/>
<circle cx="119.03" cy="450.18" r="0.94" fill="#4d3a8a" opacity="0.79"/>
<circle cx="121.03" cy="402.64" r="0.76" fill="#2a1a30" opacity="0.93"/>
<circle cx="125.56" cy="453.35" r="0.54" fill="#4d3a8a" opacity="0.92"/>
<circle cx="113.37" cy="402.17" r="0.64" fill="#4d3a8a" opacity="0.64"/>
<circle cx="110.05" cy="427.25" r="0.55" fill="#6a5aa8" opacity="0.92"/>
<circle cx="115.11" cy="403.30" r="0.94" fill="#2b2250" opacity="0.88"/>
<circle cx="124.78" cy="406.30" r="0.55" fill="#4d3a8a" opacity="0.91"/>
<circle cx="158.83" cy="427.60" r="0.55" fill="#2a1a30" opacity="0.91"/>
<circle cx="118.45" cy="449.29" r="0.76" fill="#4d3a8a" opacity="0.79"/>
<circle cx="122.22" cy="449.16" r="0.85" fill="#2b2250" opacity="0.64"/>
<circle cx="159.25" cy="446.09" r="0.60" fill="#7a3a3a" opacity="0.74"/>
<circle cx="137.53" cy="433.19" r="0.92" fill="#4d3a8a" opacity="0.72"/>
<circle cx="117.78" cy="405.41" r="0.72" fill="#4d3a8a" opacity="0.66"/>
<circle cx="116.83" cy="436.17" r="0.56" fill="#3b2a6a" opacity="0.77"/>
<circle cx="134.18" cy="407.17" r="0.64" fill="#3a2030" opacity="0.81"/>
<circle cx="108.34" cy="408.22" r="0.87" fill="#7a3a3a" opacity="0.64"/>
<circle cx="124.02" cy="448.45" r="0.68" fill="#2b2250" opacity="0.88"/>
<circle cx="155.64" cy="445.17" r="0.59" fill="#2a1a30" opacity="0.85"/>
<circle cx="145.36" cy="433.96" r="0.94" fill="#2b2250" opacity="0.73"/>
<circle cx="129.67" cy="444.42" r="0.74" fill="#2a1a30" opacity="0.79"/>
<circle cx="113.27" cy="441.03" r="0.77" fill="#3a2030" opacity="0.69"/>
<circle cx="147.15" cy="413.32" r="0.61" fill="#5b2c3a" opacity="0.73"/>
<circle cx="153.83" cy="453.59" r="0.52" fill="#2b2250" opacity="0.76"/>
<circle cx="152.14" cy="432.62" r="0.76" fill="#2b2250" opacity="0.68"/>
<circle cx="106.23" cy="421.64" r="0.86" fill="#3b2a6a" opacity="0.84"/>
<circle cx="137.23" cy="446.85" r="0.77" fill="#3a2030" opacity="0.87"/>
<circle cx="122.49" cy="424.22" r="0.82" fill="#3a2030" opacity="0.95"/>
<circle cx="145.65" cy="436.60" r="0.80" fill="#5b2c3a" opacity="0.76"/>
<circle cx="163.61" cy="412.81" r="0.71" fill="#2a1a30" opacity="0.90"/>
<circle cx="110.81" cy="451.69" r="0.89" fill="#3a2030" opacity="0.63"/>
<circle cx="119.04" cy="409.90" r="0.50" fill="#7a3a3a" opacity="0.69"/>
<circle cx="119.02" cy="444.13" r="0.69" fill="#4d3a8a" opacity="0.81"/>
<circle cx="106.95" cy="427.27" r="0.62" fill="#3a2030" opacity="0.68"/>
<circle cx="129.02" cy="427.21" r="0.65" fill="#2b2250" opacity="0.82"/>
<circle cx="118.15" cy="431.02" r="0.78" fill="#5b2c3a" opacity="0.86"/>
<circle cx="133.95" cy="428.99" r="0.65" fill="#3b2a6a" opacity="0.79"/>
<circle cx="142.45" cy="402.77" r="0.74" fill="#3b2a6a" opacity="0.79"/>
<circle cx="142.81" cy="406.28" r="0.58" fill="#4d3a8a" opacity="0.76"/>
<circle cx="114.15" cy="419.85" r="0.54" fill="#7a3a3a" opacity="0.83"/>
<circle cx="156.17" cy="442.43" r="0.73" fill="#4d3a8a" opacity="0.75"/>
<circle cx="106.28" cy="411.70" r="0.95" fill="#4d3a8a" opacity="0.75"/>
<circle cx="115.36" cy="402.21" r="0.95" fill="#2a1a30" opacity="0.89"/>
<circle cx="125.29" cy="447.60" r="0.84" fill="#2a1a30" opacity="0.93"/>
<circle cx="115.00" cy="426.71" r="0.58" fill="#3b2a6a" opacity="0.67"/>
<circle cx="146.99" cy="427.44" r="0.76" fill="#4d3a8a" opacity="0.80"/>
<circle cx="112.86" cy="409.36" r="0.70" fill="#2a1a30" opacity="0.74"/>
<circle cx="153.37" cy="427.08" r="0.78" fill="#4d3a8a" opacity="0.89"/>
<circle cx="150.35" cy="406.33" r="0.72" fill="#2b2250" opacity="0.78"/>
<circle cx="155.96" cy="424.95" r="0.57" fill="#4d3a8a" opacity="0.85"/>
<circle cx="143.98" cy="415.62" r="0.88" fill="#2b2250" opacity="0.85"/>
<circle cx="139.28" cy="450.82" r="0.79" fill="#6a5aa8" opacity="0.88"/>
<circle cx="138.86" cy="410.50" r="0.80" fill="#7a3a3a" opacity="0.62"/>
<circle cx="157.55" cy="452.41" r="0.93" fill="#5b2c3a" opacity="0.67"/>
<circle cx="111.08" cy="415.22" r="0.94" fill="#4d3a8a" opacity="0.63"/>
<circle cx="116.27" cy="437.27" r="0.89" fill="#2b2250" opacity="0.78"/>
<circle cx="105.51" cy="451.43" r="0.89" fill="#4d3a8a" opacity="0.74"/>
<circle cx="124.88" cy="431.80" r="0.51" fill="#4d3a8a" opacity="0.86"/>
<circle cx="131.85" cy="410.77" r="0.91" fill="#3a2030" opacity="0.78"/>
<circle cx="127.05" cy="409.62" r="0.78" fill="#4d3a8a" opacity="0.60"/>
<circle cx="115.50" cy="409.59" r="0.64" fill="#7a3a3a" opacity="0.68"/>
<circle cx="117.12" cy="404.50" r="0.79" fill="#3b2a6a" opacity="0.64"/>
<circle cx="130.83" cy="443.11" r="0.69" fill="#2a1a30" opacity="0.86"/>
<circle cx="136.76" cy="451.46" r="0.79" fill="#2b2250" opacity="0.95"/>
<circle cx="135.69" cy="440.02" r="0.83" fill="#4d3a8a" opacity="0.81"/>
<circle cx="124.82" cy="403.77" r="0.55" fill="#7a3a3a" opacity="0.93"/>
<circle cx="113.67" cy="424.19" r="0.57" fill="#2a1a30" opacity="0.79"/>
<circle cx="134.39" cy="453.99" r="0.89" fill="#6a5aa8" opacity="0.67"/>
<circle cx="163.04" cy="426.46" r="0.67" fill="#4d3a8a" opacity="0.69"/>
<circle cx="160.62" cy="434.08" r="0.77" fill="#2b2250" opacity="0.72"/>
<circle cx="136.86" cy="417.34" r="0.69" fill="#3b2a6a" opacity="0.73"/>
<circle cx="138.10" cy="402.69" r="0.75" fill="#7a3a3a" opacity="0.88"/>
<circle cx="140.72" cy="408.48" r="0.77" fill="#6a5aa8" opacity="0.70"/>
<circle cx="134.48" cy="421.81" r="0.95" fill="#5b2c3a" opacity="0.82"/>
<circle cx="155.88" cy="421.48" r="0.83" fill="#6a5aa8" opacity="0.70"/>
<circle cx="111.72" cy="415.55" r="0.54" fill="#7a3a3a" opacity="0.68"/>
<circle cx="145.51" cy="445.80" r="0.76" fill="#3a2030" opacity="0.66"/>
<circle cx="126.18" cy="430.69" r="0.71" fill="#7a3a3a" opacity="0.81"/>
<circle cx="149.48" cy="405.27" r="0.57" fill="#2b2250" opacity="0.82"/>
<circle cx="145.49" cy="448.56" r="0.87" fill="#7a3a3a" opacity="0.73"/>
<circle cx="148.33" cy="411.58" r="0.56" fill="#6a5aa8" opacity="0.74"/>
<circle cx="145.02" cy="451.75" r="0.86" fill="#6a5aa8" opacity="0.67"/>
<circle cx="133.78" cy="418.07" r="0.69" fill="#3a2030" opacity="0.64"/>
<circle cx="146.03" cy="430.54" r="0.60" fill="#4d3a8a" opacity="0.72"/>
<circle cx="109.46" cy="424.97" r="0.59" fill="#6a5aa8" opacity="0.64"/>
<circle cx="139.40" cy="412.10" r="0.70" fill="#4d3a8a" opacity="0.81"/>
<circle cx="143.84" cy="437.72" r="0.86" fill="#3a2030" opacity="0.68"/>
<circle cx="148.65" cy="425.75" r="0.60" fill="#4d3a8a" opacity="0.64"/>
<circle cx="111.72" cy="451.23" r="0.90" fill="#5b2c3a" opacity="0.78"/>
<circle cx="148.97" cy="441.62" r="0.61" fill="#7a3a3a" opacity="0.89"/>
<circle cx="149.42" cy="431.79" r="0.69" fill="#5b2c3a" opacity="0.76"/>
<circle cx="135.50" cy="409.53" r="0.65" fill="#2a1a30" opacity="0.66"/>
<circle cx="138.31" cy="432.73" r="0.52" fill="#2a1a30" opacity="0.72"/>
<circle cx="130.74" cy="453.61" r="0.83" fill="#5b2c3a" opacity="0.73"/>
<circle cx="120.77" cy="409.52" r="0.68" fill="#4d3a8a" opacity="0.75"/>
<circle cx="130.98" cy="447.14" r="0.84" fill="#3a2030" opacity="0.92"/>
<circle cx="142.05" cy="440.44" r="0.80" fill="#6a5aa8" opacity="0.68"/>
<circle cx="159.83" cy="409.46" r="0.78" fill="#5b2c3a" opacity="0.86"/>
<circle cx="105.36" cy="415.01" r="0.50" fill="#3a2030" opacity="0.72"/>
<circle cx="137.18" cy="447.50" r="0.61" fill="#6a5aa8" opacity="0.85"/>
<circle cx="139.42" cy="435.46" r="0.88" fill="#4d3a8a" opacity="0.92"/>
<circle cx="107.59" cy="418.64" r="0.84" fill="#3a2030" opacity="0.78"/>
<circle cx="135.63" cy="432.62" r="0.81" fill="#6a5aa8" opacity="0.76"/>
<circle cx="116.16" cy="425.48" r="0.58" fill="#2a1a30" opacity="0.77"/>
<circle cx="151.69" cy="453.95" r="0.95" fill="#2b2250" opacity="0.75"/>
<circle cx="108.21" cy="447.11" r="0.82" fill="#3a2030" opacity="0.79"/>
<circle cx="117.50" cy="411.00" r="0.90" fill="#4d3a8a" opacity="0.67"/>
<circle cx="146.88" cy="420.57" r="0.86" fill="#3a2030" opacity="0.64"/>
<circle cx="137.11" cy="442.44" r="0.78" fill="#4d3a8a" opacity="0.62"/>
<circle cx="158.42" cy="417.62" r="0.57" fill="#2a1a30" opacity="0.77"/>
<circle cx="129.46" cy="429.21" r="0.53" fill="#3b2a6a" opacity="0.79"/>
<circle cx="117.42" cy="449.77" r="0.60" fill="#6a5aa8" opacity="0.94"/>
<circle cx="146.15" cy="416.52" r="0.69" fill="#5b2c3a" opacity="0.80"/>
<circle cx="139.58" cy="437.49" r="0.73" fill="#2a1a30" opacity="0.64"/>
<circle cx="127.48" cy="435.07" r="0.55" fill="#6a5aa8" opacity="0.86"/>
<circle cx="118.65" cy="446.17" r="0.58" fill="#2a1a30" opacity="0.79"/>
<circle cx="131.65" cy="438.98" r="0.64" fill="#2b2250" opacity="0.86"/>
<circle cx="138.96" cy="405.58" r="0.93" fill="#7a3a3a" opacity="0.77"/>
<circle cx="149.79" cy="411.44" r="0.94" fill="#2a1a30" opacity="0.93"/>
<circle cx="112.54" cy="441.88" r="0.77" fill="#7a3a3a" opacity="0.64"/>
<circle cx="157.63" cy="452.02" r="0.78" fill="#3a2030" opacity="0.72"/>
<circle cx="109.86" cy="405.38" r="0.55" fill="#2b2250" opacity="0.74"/>
<circle cx="126.01" cy="454.54" r="0.88" fill="#3a2030" opacity="0.79"/>
<circle cx="158.12" cy="414.94" r="0.64" fill="#7a3a3a" opacity="0.62"/>
<circle cx="120.04" cy="417.21" r="0.91" fill="#3b2a6a" opacity="0.91"/>
<circle cx="138.27" cy="414.90" r="0.63" fill="#3b2a6a" opacity="0.64"/>
<circle cx="146.79" cy="429.18" r="0.65" fill="#4d3a8a" opacity="0.72"/>
<circle cx="117.59" cy="406.37" r="0.54" fill="#3a2030" opacity="0.72"/>
<circle cx="145.89" cy="427.77" r="0.69" fill="#6a5aa8" opacity="0.91"/>
<circle cx="136.43" cy="422.26" r="0.83" fill="#6a5aa8" opacity="0.82"/>
<circle cx="111.30" cy="447.59" r="0.63" fill="#6a5aa8" opacity="0.61"/>
<circle cx="149.71" cy="411.73" r="0.76" fill="#3a2030" opacity="0.82"/>
<circle cx="118.15" cy="440.50" r="0.75" fill="#5b2c3a" opacity="0.94"/>
<circle cx="153.66" cy="454.42" r="0.75" fill="#3a2030" opacity="0.69"/>
<circle cx="136.29" cy="424.64" r="0.79" fill="#7a3a3a" opacity="0.64"/>
<circle cx="118.71" cy="403.64" r="0.59" fill="#5b2c3a" opacity="0.93"/>
<circle cx="120.56" cy="406.70" r="0.60" fill="#4d3a8a" opacity="0.73"/>
<circle cx="158.26" cy="412.39" r="0.53" fill="#4d3a8a" opacity="0.86"/>
<circle cx="115.80" cy="449.40" r="0.51" fill="#2b2250" opacity="0.66"/>
<circle cx="141.08" cy="450.62" r="0.52" fill="#5b2c3a" opacity="0.61"/>
<circle cx="144.64" cy="414.45" r="0.63" fill="#4d3a8a" opacity="0.84"/>
<circle cx="148.31" cy="424.04" r="0.93" fill="#3b2a6a" opacity="0.92"/>
<circle cx="108.46" cy="418.76" r="0.60" fill="#5b2c3a" opacity="0.74"/>
<circle cx="126.96" cy="416.78" r="0.77" fill="#6a5aa8" opacity="0.92"/>
<circle cx="125.41" cy="442.02" r="0.61" fill="#3b2a6a" opacity="0.91"/>
<circle cx="143.48" cy="455.64" r="0.87" fill="#3b2a6a" opacity="0.82"/>
<circle cx="154.11" cy="414.70" r="0.75" fill="#4d3a8a" opacity="0.80"/>
<circle cx="141.65" cy="431.81" r="0.61" fill="#6a5aa8" opacity="0.82"/>
<circle cx="109.78" cy="432.08" r="0.60" fill="#2a1a30" opacity="0.88"/>
<circle cx="130.08" cy="413.32" r="0.62" fill="#7a3a3a" opacity="0.66"/>
<circle cx="142.98" cy="446.74" r="0.59" fill="#2a1a30" opacity="0.86"/>
<circle cx="147.48" cy="446.88" r="0.75" fill="#3a2030" opacity="0.62"/>
<circle cx="132.15" cy="435.55" r="0.72" fill="#3a2030" opacity="0.83"/>
<circle cx="124.89" cy="449.58" r="0.51" fill="#3a2030" opacity="0.72"/>
<circle cx="115.68" cy="420.28" r="0.61" fill="#4d3a8a" opacity="0.70"/>
<circle cx="110.20" cy="450.18" r="0.54" fill="#6a5aa8" opacity="0.70"/>
<circle cx="110.54" cy="442.02" r="0.66" fill="#2a1a30" opacity="0.68"/>
<circle cx="125.42" cy="410.99" r="0.90" fill="#4d3a8a" opacity="0.63"/>
<circle cx="115.78" cy="403.47" r="0.90" fill="#7a3a3a" opacity="0.88"/>
<circle cx="116.72" cy="410.86" r="0.90" fill="#5b2c3a" opacity="0.84"/>
<circle cx="127.41" cy="425.89" r="0.71" fill="#3a2030" opacity="0.70"/>
<circle cx="108.00" cy="436.84" r="0.81" fill="#4d3a8a" opacity="0.70"/>
<circle cx="157.91" cy="423.05" r="0.86" fill="#3a2030" opacity="0.64"/>
<circle cx="122.47" cy="430.14" r="0.65" fill="#3a2030" opacity="0.84"/>
<circle cx="163.47" cy="435.50" r="0.78" fill="#3a2030" opacity="0.75"/>
<circle cx="140.59" cy="408.96" r="0.60" fill="#2b2250" opacity="0.89"/>
<circle cx="106.55" cy="455.00" r="0.51" fill="#4d3a8a" opacity="0.60"/>
<circle cx="135.46" cy="451.80" r="0.56" fill="#4d3a8a" opacity="0.88"/>
<circle cx="109.62" cy="416.04" r="0.61" fill="#7a3a3a" opacity="0.64"/>
<circle cx="161.88" cy="409.58" r="0.71" fill="#7a3a3a" opacity="0.64"/>
<circle cx="108.69" cy="435.20" r="0.91" fill="#3a2030" opacity="0.70"/>
<circle cx="130.81" cy="405.97" r="0.92" fill="#3b2a6a" opacity="0.85"/>
<circle cx="143.85" cy="418.27" r="0.72" fill="#2b2250" opacity="0.89"/>
<circle cx="133.71" cy="418.90" r="0.69" fill="#2b2250" opacity="0.94"/>
<circle cx="146.93" cy="432.66" r="0.52" fill="#6a5aa8" opacity="0.86"/>
<circle cx="160.98" cy="433.28" r="0.76" fill="#2a1a30" opacity="0.82"/>
<circle cx="161.35" cy="424.32" r="0.54" fill="#6a5aa8" opacity="0.72"/>
<circle cx="113.96" cy="423.36" r="0.50" fill="#6a5aa8" opacity="0.73"/>
<circle cx="109.09" cy="408.56" r="0.92" fill="#7a3a3a" opacity="0.95"/>
<circle cx="127.93" cy="428.39" r="0.67" fill="#3b2a6a" opacity="0.77"/>
<circle cx="119.20" cy="416.38" r="0.95" fill="#2b2250" opacity="0.93"/>
<circle cx="121.33" cy="427.12" r="0.76" fill="#2b2250" opacity="0.92"/>
<circle cx="162.91" cy="417.39" r="0.64" fill="#2a1a30" opacity="0.60"/>
<circle cx="159.55" cy="423.71" r="0.64" fill="#4d3a8a" opacity="0.61"/>
<circle cx="149.18" cy="406.62" r="0.90" fill="#2b2250" opacity="0.78"/>
<circle cx="159.91" cy="439.63" r="0.77" fill="#3b2a6a" opacity="0.67"/>
<circle cx="109.70" cy="453.95" r="0.72" fill="#5b2c3a" opacity="0.78"/>
<circle cx="156.74" cy="406.46" r="0.71" fill="#2a1a30" opacity="0.60"/>
<circle cx="156.23" cy="455.12" r="0.84" fill="#2a1a30" opacity="0.82"/>
<circle cx="160.51" cy="455.84" r="0.92" fill="#7a3a3a" opacity="0.61"/>
<circle cx="153.32" cy="415.26" r="0.72" fill="#4d3a8a" opacity="0.72"/>
<circle cx="160.71" cy="443.32" r="0.79" fill="#3a2030" opacity="0.77"/>
<circle cx="139.33" cy="450.75" r="0.90" fill="#5b2c3a" opacity="0.74"/>
<circle cx="118.29" cy="426.79" r="0.55" fill="#2b2250" opacity="0.81"/>
<circle cx="161.23" cy="454.97" r="0.63" fill="#6a5aa8" opacity="0.70"/>
<circle cx="110.28" cy="409.68" r="0.72" fill="#4d3a8a" opacity="0.63"/>
<circle cx="161.50" cy="431.36" r="0.83" fill="#2a1a30" opacity="0.87"/>
<circle cx="150.61" cy="450.74" r="0.91" fill="#2b2250" opacity="0.71"/>
<circle cx="151.57" cy="437.92" r="0.70" fill="#2a1a30" opacity="0.73"/>
<circle cx="162.49" cy="421.80" r="0.74" fill="#2b2250" opacity="0.77"/>
<circle cx="116.55" cy="410.82" r="0.74" fill="#3b2a6a" opacity="0.94"/>
<circle cx="129.52" cy="411.72" r="0.92" fill="#3a2030" opacity="0.93"/>
<circle cx="122.15" cy="431.80" r="0.95" fill="#7a3a3a" opacity="0.89"/>
<circle cx="139.66" cy="419.20" r="0.63" fill="#4d3a8a" opacity="0.77"/>
<circle cx="132.00" cy="434.48" r="0.50" fill="#7a3a3a" opacity="0.86"/>
<circle cx="124.41" cy="406.57" r="0.84" fill="#3b2a6a" opacity="0.70"/>
<circle cx="133.55" cy="432.15" r="0.91" fill="#3b2a6a" opacity="0.65"/>
<circle cx="149.31" cy="448.18" r="0.63" fill="#6a5aa8" opacity="0.65"/>
<circle cx="153.44" cy="451.91" r="0.52" fill="#7a3a3a" opacity="0.82"/>
<circle cx="111.99" cy="436.20" r="0.59" fill="#3a2030" opacity="0.79"/>
<circle cx="136.29" cy="408.06" r="0.83" fill="#2a1a30" opacity="0.93"/>
<circle cx="110.94" cy="422.76" r="0.86" fill="#2b2250" opacity="0.88"/>
<circle cx="123.08" cy="406.02" r="0.85" fill="#2b2250" opacity="0.78"/>
<circle cx="113.66" cy="425.44" r="0.90" fill="#3b2a6a" opacity="0.74"/>
<circle cx="128.70" cy="444.48" r="0.76" fill="#5b2c3a" opacity="0.89"/>
<circle cx="147.24" cy="437.37" r="0.80" fill="#4d3a8a" opacity="0.78"/>
<circle cx="145.09" cy="404.09" r="0.86" fill="#5b2c3a" opacity="0.86"/>
<circle cx="133.51" cy="408.76" r="0.61" fill="#3a2030" opacity="0.89"/>
<circle cx="121.72" cy="447.32" r="0.61" fill="#4d3a8a" opacity="0.86"/>
<circle cx="124.18" cy="411.99" r="0.52" fill="#4d3a8a" opacity="0.79"/>
<circle cx="147.07" cy="435.29" r="0.69" fill="#2b2250" opacity="0.84"/>
<circle cx="133.82" cy="448.60" r="0.59" fill="#5b2c3a" opacity="0.67"/>
<circle cx="119.68" cy="434.31" r="0.84" fill="#3b2a6a" opacity="0.75"/>
<circle cx="136.53" cy="431.47" r="0.53" fill="#7a3a3a" opacity="0.67"/>
<circle cx="147.38" cy="407.44" r="0.62" fill="#3b2a6a" opacity="0.89"/>
<circle cx="127.13" cy="439.31" r="0.94" fill="#2a1a30" opacity="0.69"/>
<circle cx="112.75" cy="438.46" r="0.82" fill="#3a2030" opacity="0.88"/>
<circle cx="158.02" cy="454.72" r="0.84" fill="#5b2c3a" opacity="0.82"/>
<circle cx="150.16" cy="406.85" r="0.55" fill="#7a3a3a" opacity="0.70"/>
<circle cx="123.47" cy="436.29" r="0.53" fill="#4d3a8a" opacity="0.75"/>
<circle cx="158.95" cy="446.07" r="0.77" fill="#5b2c3a" opacity="0.73"/>
<circle cx="137.62" cy="452.70" r="0.75" fill="#5b2c3a" opacity="0.91"/>
<circle cx="147.31" cy="410.41" r="0.74" fill="#7a3a3a" opacity="0.76"/>
<circle cx="132.82" cy="404.03" r="0.62" fill="#2a1a30" opacity="0.79"/>
<circle cx="148.73" cy="410.81" r="0.88" fill="#2b2250" opacity="0.74"/>
<circle cx="106.79" cy="438.77" r="0.53" fill="#2a1a30" opacity="0.74"/>
<circle cx="153.81" cy="402.78" r="0.74" fill="#7a3a3a" opacity="0.76"/>
<circle cx="123.69" cy="424.39" r="0.71" fill="#2b2250" opacity="0.91"/>
<circle cx="135.41" cy="408.30" r="0.66" fill="#5b2c3a" opacity="0.66"/>
<circle cx="108.20" cy="415.11" r="0.53" fill="#5b2c3a" opacity="0.65"/>
<circle cx="156.24" cy="451.06" r="0.79" fill="#3b2a6a" opacity="0.92"/>
<circle cx="156.29" cy="424.10" r="0.81" fill="#2b2250" opacity="0.71"/>
<circle cx="155.63" cy="412.46" r="0.80" fill="#2a1a30" opacity="0.84"/>
<circle cx="147.99" cy="441.45" r="0.70" fill="#6a5aa8" opacity="0.63"/>
<circle cx="130.29" cy="438.65" r="0.81" fill="#2a1a30" opacity="0.84"/>
<circle cx="152.23" cy="414.48" r="0.89" fill="#3b2a6a" opacity="0.69"/>
<circle cx="130.80" cy="425.70" r="0.67" fill="#2a1a30" opacity="0.75"/>
<circle cx="155.03" cy="416.15" r="0.57" fill="#3b2a6a" opacity="0.71"/>
<circle cx="141.72" cy="417.30" r="0.69" fill="#6a5aa8" opacity="0.65"/>
<circle cx="163.41" cy="447.54" r="0.54" fill="#2b2250" opacity="0.90"/>
<circle cx="127.70" cy="419.41" r="0.60" fill="#2b2250" opacity="0.75"/>
<circle cx="129.24" cy="417.41" r="0.89" fill="#7a3a3a" opacity="0.66"/>
<circle cx="158.20" cy="413.61" r="0.83" fill="#3b2a6a" opacity="0.92"/>
<circle cx="161.13" cy="443.51" r="0.80" fill="#2b2250" opacity="0.82"/>
<circle cx="118.19" cy="402.62" r="0.76" fill="#7a3a3a" opacity="0.72"/>
<circle cx="119.42" cy="428.54" r="0.81" fill="#6a5aa8" opacity="0.89"/>
<circle cx="132.30" cy="431.21" r="0.92" fill="#3a2030" opacity="0.63"/>
<circle cx="139.38" cy="428.01" r="0.67" fill="#2a1a30" opacity="0.92"/>
<circle cx="140.89" cy="445.25" r="0.85" fill="#4d3a8a" opacity="0.85"/>
<circle cx="134.59" cy="402.40" r="0.70" fill="#3a2030" opacity="0.85"/>
<circle cx="115.79" cy="450.44" r="0.72" fill="#6a5aa8" opacity="0.70"/>
<circle cx="151.55" cy="434.70" r="0.57" fill="#2a1a30" opacity="0.64"/>
<circle cx="109.02" cy="454.90" r="0.51" fill="#7a3a3a" opacity="0.63"/>
<circle cx="127.30" cy="435.79" r="0.86" fill="#4d3a8a" opacity="0.90"/>
<circle cx="110.99" cy="411.14" r="0.81" fill="#3a2030" opacity="0.84"/>
<circle cx="134.63" cy="403.45" r="0.59" fill="#2a1a30" opacity="0.71"/>
<circle cx="163.01" cy="447.56" r="0.51" fill="#3b2a6a" opacity="0.60"/>
<circle cx="159.78" cy="438.47" r="0.52" fill="#2b2250" opacity="0.75"/>
<circle cx="125.00" cy="455.53" r="0.78" fill="#3b2a6a" opacity="0.87"/>
<circle cx="129.50" cy="445.85" r="0.84" fill="#3a2030" opacity="0.65"/>
<circle cx="134.45" cy="452.96" r="0.60" fill="#3a2030" opacity="0.84"/>
<circle cx="110.99" cy="451.47" r="0.54" fill="#6a5aa8" opacity="0.67"/>
<circle cx="153.39" cy="448.72" r="0.75" fill="#3a2030" opacity="0.77"/>
<circle cx="155.90" cy="413.54" r="0.91" fill="#3b2a6a" opacity="0.63"/>
<circle cx="117.31" cy="440.19" r="0.76" fill="#7a3a3a" opacity="0.82"/>
<circle cx="136.56" cy="416.22" r="0.93" fill="#2b2250" opacity="0.61"/>
<circle cx="105.58" cy="409.71" r="0.68" fill="#3b2a6a" opacity="0.85"/>
<circle cx="107.52" cy="406.54" r="0.70" fill="#3a2030" opacity="0.73"/>
<circle cx="148.14" cy="415.72" r="0.71" fill="#7a3a3a" opacity="0.68"/>
<circle cx="137.52" cy="429.41" r="0.70" fill="#7a3a3a" opacity="0.75"/>
<circle cx="111.74" cy="442.18" r="0.90" fill="#7a3a3a" opacity="0.95"/>
<circle cx="125.14" cy="412.70" r="0.86" fill="#3b2a6a" opacity="0.86"/>
<circle cx="121.11" cy="428.18" r="0.88" fill="#7a3a3a" opacity="0.64"/>
<circle cx="132.75" cy="420.61" r="0.79" fill="#2a1a30" opacity="0.74"/>
<circle cx="150.29" cy="446.35" r="0.54" fill="#2b2250" opacity="0.86"/>
<circle cx="120.52" cy="403.05" r="0.80" fill="#3a2030" opacity="0.69"/>
<circle cx="129.61" cy="437.79" r="0.87" fill="#3b2a6a" opacity="0.87"/>
<circle cx="143.14" cy="451.77" r="0.61" fill="#2a1a30" opacity="0.78"/>
<circle cx="132.71" cy="454.99" r="0.76" fill="#2b2250" opacity="0.87"/>
<circle cx="144.23" cy="419.22" r="0.74" fill="#2a1a30" opacity="0.77"/>
<circle cx="153.76" cy="424.82" r="0.91" fill="#2a1a30" opacity="0.84"/>
<circle cx="140.19" cy="415.10" r="0.67" fill="#5b2c3a" opacity="0.74"/>
<circle cx="116.57" cy="402.72" r="0.62" fill="#3b2a6a" opacity="0.80"/>
<circle cx="124.58" cy="431.19" r="0.56" fill="#3a2030" opacity="0.73"/>
<circle cx="147.18" cy="454.22" r="0.73" fill="#4d3a8a" opacity="0.60"/>
<circle cx="119.21" cy="452.98" r="0.89" fill="#5b2c3a" opacity="0.95"/>
<circle cx="139.03" cy="428.35" r="0.53" fill="#2b2250" opacity="0.80"/>
<circle cx="131.13" cy="449.19" r="0.76" fill="#5b2c3a" opacity="0.91"/>
<circle cx="123.29" cy="452.27" r="0.74" fill="#3a2030" opacity="0.63"/>
<circle cx="136.77" cy="445.39" r="0.71" fill="#4d3a8a" opacity="0.87"/>
<circle cx="148.90" cy="413.63" r="0.85" fill="#2b2250" opacity="0.81"/>
<circle cx="129.17" cy="438.68" r="0.77" fill="#4d3a8a" opacity="0.90"/>
<circle cx="123.84" cy="442.98" r="0.83" fill="#3a2030" opacity="0.82"/>
<circle cx="157.10" cy="415.89" r="0.82" fill="#2b2250" opacity="0.83"/>
<circle cx="123.53" cy="417.51" r="0.56" fill="#4d3a8a" opacity="0.62"/>
<circle cx="138.50" cy="448.69" r="0.89" fill="#2b2250" opacity="0.75"/>
<circle cx="119.07" cy="431.58" r="0.66" fill="#3b2a6a" opacity="0.89"/>
<circle cx="143.34" cy="402.07" r="0.75" fill="#3b2a6a" opacity="0.70"/>
<circle cx="122.41" cy="422.97" r="0.56" fill="#5b2c3a" opacity="0.64"/>
<circle cx="107.13" cy="438.08" r="0.63" fill="#3b2a6a" opacity="0.72"/>
<circle cx="133.46" cy="420.72" r="0.77" fill="#2b2250" opacity="0.91"/>
<circle cx="130.42" cy="409.49" r="0.50" fill="#4d3a8a" opacity="0.94"/>
<circle cx="136.01" cy="415.16" r="0.67" fill="#2b2250" opacity="0.61"/>
<circle cx="108.07" cy="432.90" r="0.55" fill="#6a5aa8" opacity="0.82"/>
<circle cx="111.66" cy="417.52" r="0.64" fill="#2b2250" opacity="0.91"/>
<circle cx="141.17" cy="450.40" r="0.75" fill="#4d3a8a" opacity="0.74"/>
<circle cx="153.92" cy="418.99" r="0.68" fill="#3b2a6a" opacity="0.71"/>
<circle cx="135.34" cy="455.60" r="0.71" fill="#4d3a8a" opacity="0.93"/>
<circle cx="118.27" cy="407.55" r="0.60" fill="#4d3a8a" opacity="0.69"/>
<circle cx="135.03" cy="440.24" r="0.91" fill="#6a5aa8" opacity="0.93"/>
<circle cx="155.38" cy="450.07" r="0.93" fill="#2b2250" opacity="0.88"/>
<circle cx="146.39" cy="444.35" r="0.93" fill="#4d3a8a" opacity="0.60"/>
<circle cx="157.74" cy="439.26" r="0.75" fill="#4d3a8a" opacity="0.64"/>
<circle cx="107.54" cy="431.70" r="0.59" fill="#2b2250" opacity="0.63"/>
<circle cx="105.36" cy="453.18" r="0.54" fill="#2a1a30" opacity="0.60"/>
<circle cx="142.01" cy="431.07" r="0.91" fill="#6a5aa8" opacity="0.73"/>
<circle cx="138.26" cy="420.27" r="0.56" fill="#3b2a6a" opacity="0.68"/>
<circle cx="131.76" cy="413.13" r="0.72" fill="#2b2250" opacity="0.91"/>
<circle cx="147.66" cy="415.14" r="0.94" fill="#2b2250" opacity="0.71"/>
<circle cx="149.50" cy="434.51" r="0.85" fill="#5b2c3a" opacity="0.93"/>
<circle cx="114.46" cy="450.93" r="0.57" fill="#2a1a30" opacity="0.63"/>
<circle cx="160.16" cy="423.73" r="0.68" fill="#4d3a8a" opacity="0.77"/>
<circle cx="143.07" cy="423.25" r="0.69" fill="#4d3a8a" opacity="0.80"/>
<circle cx="148.59" cy="408.30" r="0.74" fill="#2b2250" opacity="0.94"/>
<circle cx="115.06" cy="448.37" r="0.63" fill="#4d3a8a" opacity="0.89"/>
<circle cx="152.30" cy="437.00" r="0.57" fill="#4d3a8a" opacity="0.93"/>
<circle cx="138.89" cy="425.40" r="0.79" fill="#2a1a30" opacity="0.89"/>
<circle cx="150.77" cy="448.52" r="0.91" fill="#3b2a6a" opacity="0.62"/>
<circle cx="130.06" cy="405.73" r="0.85" fill="#3a2030" opacity="0.81"/>
<circle cx="131.90" cy="434.12" r="0.89" fill="#7a3a3a" opacity="0.94"/>
<circle cx="128.59" cy="441.19" r="0.90" fill="#4d3a8a" opacity="0.87"/>
<circle cx="162.71" cy="404.54" r="0.67" fill="#4d3a8a" opacity="0.80"/>
<circle cx="151.80" cy="429.60" r="0.54" fill="#2a1a30" opacity="0.77"/>
</g>
<rect x="104.80" y="402.00" width="58.90" height="54.10" fill="none" stroke="#1e1e1e" stroke-width="1.3"/>
<text x="237.05" y="304.90" font-family="'Liberation Sans', sans-serif" font-size="10.5" font-weight="bold" text-anchor="middle" fill="#111" textLength="33.44" lengthAdjust="spacingAndGlyphs">Vector</text>
<text x="309.30" y="293.20" font-family="'Liberation Sans', sans-serif" font-size="10.5" font-weight="bold" text-anchor="middle" fill="#111" textLength="47.93" lengthAdjust="spacingAndGlyphs">miR-199b</text>
<text x="309.40" y="306.50" font-family="'Liberation Sans', sans-serif" font-size="10.5" font-weight="bold" text-anchor="middle" fill="#111" textLength="43.33" lengthAdjust="spacingAndGlyphs">inhibitor</text>
<g clip-path="url(#l1)">
<rect x="204.40" y="312.40" width="65.20" height="64.30" fill="url(#lbg)" />
<path d="M 221.5 315.3 L 235.7 315.3 L 240.3 325.2 L 244.3 321.0 L 251.4 319.8 L 259.9 323.5 L 265.6 332.3 L 266.6 346.6 L 263.0 356.5 L 255.9 363.6 L 245.7 370.7 L 234.3 373.9 L 224.3 370.7 L 215.8 365.1 L 210.1 356.5 L 207.3 346.6 L 208.0 336.6 L 211.5 326.6 L 217.2 319.5 Z" fill="url(#lung1)" stroke="#80603c" stroke-width="1.4" stroke-linejoin="round" filter="url(#bl1)"/>
<path d="M 217.2 319.5 L 235.7 316.0 L 239.3 335.2 L 224.3 339.4 L 211.5 332.3 Z" fill="#8c7a40" opacity="0.7" stroke-linejoin="round" filter="url(#bl2)"/>
<path d="M 244.3 321.7 L 259.9 323.8 L 265.6 333.8 L 262.7 353.7 L 248.5 353.7 L 242.8 336.6 Z" fill="#7e6836" opacity="0.7" stroke-linejoin="round" filter="url(#bl2)"/>
<path d="M 208.7 346.6 L 231.4 345.1 L 230.0 365.1 L 217.2 366.5 L 210.1 356.5 Z" fill="#7a6832" opacity="0.6" stroke-linejoin="round" filter="url(#bl2)"/>
<path d="M 232.9 346.6 L 245.7 353.7 L 248.5 367.9 L 235.7 372.2 Z" fill="#8a7640" opacity="0.6" stroke-linejoin="round" filter="url(#bl2)"/>
<path d="M 225.8 336.6 L 240.0 335.2 L 238.6 346.6 L 228.6 346.6 Z" fill="#6a5628" opacity="0.6" stroke-linejoin="round" filter="url(#bl2)"/>
<path d="M 208.7 344.4 L 220.1 343.4 L 231.4 345.1" fill="none" stroke="#3c2e12" stroke-width="4.50" stroke-linecap="round" stroke-linejoin="round" opacity="0.52" filter="url(#bl2)"/>
<path d="M 232.2 346.6 L 233.6 357.9 L 235.7 370.7" fill="none" stroke="#3e3014" stroke-width="4.05" stroke-linecap="round" stroke-linejoin="round" opacity="0.49" filter="url(#bl2)"/>
<path d="M 238.6 336.6 L 244.3 346.6 L 249.9 357.9" fill="none" stroke="#3e3014" stroke-width="4.05" stroke-linecap="round" stroke-linejoin="round" opacity="0.45" filter="url(#bl2)"/>
<path d="M 220.1 323.8 L 227.2 332.3 L 232.2 345.1" fill="none" stroke="#4a3a18" stroke-width="3.15" stroke-linecap="round" stroke-linejoin="round" opacity="0.39" filter="url(#bl2)"/>
<path d="M 215.8 353.7 L 224.3 349.4 L 232.2 345.9" fill="none" stroke="#4a3a18" stroke-width="3.15" stroke-linecap="round" stroke-linejoin="round" opacity="0.39" filter="url(#bl2)"/>
<path d="M 262.7 335.2 L 257.1 342.3 L 245.7 348.0" fill="none" stroke="#4a3a18" stroke-width="2.70" stroke-linecap="round" stroke-linejoin="round" opacity="0.32" filter="url(#bl2)"/>
<path d="M 224.3 365.1 L 230.0 357.9 L 232.2 348.0" fill="none" stroke="#4a3a18" stroke-width="2.70" stroke-linecap="round" stroke-linejoin="round" opacity="0.35" filter="url(#bl2)"/>
</g>
<rect x="204.40" y="312.40" width="65.20" height="64.30" fill="none" stroke="#1e1e1e" stroke-width="1.3"/>
<g clip-path="url(#l2)">
<rect x="273.70" y="313.20" width="65.80" height="64.50" fill="url(#lbg)" />
<path d="M 289.3 316.8 L 303.7 315.3 L 318.2 314.6 L 326.8 321.1 L 332.6 328.3 L 336.2 339.9 L 336.9 354.3 L 332.6 365.8 L 322.5 373.0 L 309.5 375.2 L 296.5 373.0 L 286.4 367.3 L 280.7 358.6 L 277.1 347.1 L 277.8 334.1 L 282.1 324.0 Z" fill="url(#lung2)" stroke="#80603c" stroke-width="1.4" stroke-linejoin="round" filter="url(#bl1)"/>
<path d="M 304.5 315.3 L 318.2 315.0 L 316.7 332.6 L 306.6 334.1 Z" fill="#a38e58" opacity="0.75" stroke-linejoin="round" filter="url(#bl2)"/>
<path d="M 298.0 345.6 L 319.6 338.4 L 321.8 348.5 L 308.1 357.2 Z" fill="#a08c58" opacity="0.8" stroke-linejoin="round" filter="url(#bl2)"/>
<path d="M 280.7 339.9 L 296.5 342.7 L 295.1 358.6 L 283.5 357.2 Z" fill="#7e6238" opacity="0.6" stroke-linejoin="round" filter="url(#bl2)"/>
<path d="M 321.1 325.4 L 332.6 332.6 L 334.0 348.5 L 323.9 345.6 Z" fill="#8c7444" opacity="0.55" stroke-linejoin="round" filter="url(#bl2)"/>
<path d="M 300.9 358.6 L 315.3 358.6 L 318.2 371.6 L 303.7 373.0 Z" fill="#806440" opacity="0.5" stroke-linejoin="round" filter="url(#bl2)"/>
<path d="M 285.0 332.6 L 295.1 337.0 L 303.7 339.9" fill="none" stroke="#2e1a0c" stroke-width="4.95" stroke-linecap="round" stroke-linejoin="round" opacity="0.52" filter="url(#bl2)"/>
<path d="M 315.3 325.4 L 318.2 334.1 L 319.6 344.2" fill="none" stroke="#2e1a0c" stroke-width="4.50" stroke-linecap="round" stroke-linejoin="round" opacity="0.52" filter="url(#bl2)"/>
<path d="M 305.2 354.3 L 307.4 361.5 L 309.5 370.2" fill="none" stroke="#2e1a0c" stroke-width="4.50" stroke-linecap="round" stroke-linejoin="round" opacity="0.52" filter="url(#bl2)"/>
<path d="M 322.5 347.1 L 328.3 352.8 L 332.6 358.6" fill="none" stroke="#33200f" stroke-width="4.05" stroke-linecap="round" stroke-linejoin="round" opacity="0.45" filter="url(#bl2)"/>
<path d="M 289.3 322.5 L 295.1 328.3 L 300.9 332.6" fill="none" stroke="#3a2414" stroke-width="3.60" stroke-linecap="round" stroke-linejoin="round" opacity="0.42" filter="url(#bl2)"/>
<path d="M 287.9 354.3 L 296.5 351.4 L 303.7 348.5" fill="none" stroke="#3a2414" stroke-width="3.15" stroke-linecap="round" stroke-linejoin="round" opacity="0.35" filter="url(#bl2)"/>
</g>
<rect x="273.70" y="313.20" width="65.80" height="64.50" fill="none" stroke="#1e1e1e" stroke-width="1.3"/>
<g clip-path="url(#e1)">
<rect x="204.70" y="381.90" width="65.70" height="64.10" fill="#f7f5f7" />
<path d="M 208.4 396.6 L 210.2 391.0 L 217.7 387.3 L 224.2 386.4 L 232.6 385.1 L 234.5 389.2 L 237.3 395.7 L 242.9 400.4 L 248.5 401.3 L 244.7 404.1 L 237.3 405.0 L 228.0 406.0 L 218.6 408.7 L 213.0 410.6 L 208.4 407.8 L 207.5 402.2 Z" fill="#dcb2d4" stroke="#cc98c2" stroke-width="0.7" stroke-linejoin="round" filter="url(#bl1)"/>
<path d="M 217.7 412.5 L 226.1 407.8 L 237.3 405.6 L 246.6 404.1 L 252.2 406.0 L 257.8 405.0 L 261.5 406.0 L 265.2 407.8 L 266.2 415.3 L 265.2 426.5 L 266.2 439.5 L 261.5 442.3 L 252.2 442.3 L 246.6 440.4 L 243.8 435.8 L 237.3 432.0 L 229.8 426.5 L 222.4 420.9 L 218.6 417.1 Z" fill="#dcb2d4" stroke="#cc98c2" stroke-width="0.7" stroke-linejoin="round" filter="url(#bl1)"/>
<path d="M 249.4 392.9 L 254.0 392.0 L 257.8 395.7 L 259.6 399.4 L 264.3 402.2 L 263.4 406.0 L 256.8 406.0 L 252.2 403.2 L 250.3 398.5 Z" fill="#dcb2d4" stroke="#cc98c2" stroke-width="0.7" stroke-linejoin="round" filter="url(#bl1)"/>
<path d="M 257.8 385.5 L 263.4 387.3 L 265.2 391.0 L 261.5 392.9 L 257.8 389.2 Z" fill="#dcb2d4" stroke="#cc98c2" stroke-width="0.7" stroke-linejoin="round" filter="url(#bl1)"/>
<g clip-path="url(#e1t)">
<circle cx="230.21" cy="397.77" r="0.45" fill="#f3e6f0" opacity="0.55"/>
<circle cx="216.94" cy="438.82" r="0.69" fill="#f3e6f0" opacity="0.55"/>
<circle cx="242.36" cy="425.38" r="0.46" fill="#f3e6f0" opacity="0.55"/>
<circle cx="240.82" cy="406.95" r="0.54" fill="#f3e6f0" opacity="0.55"/>
<circle cx="251.84" cy="418.54" r="0.47" fill="#f3e6f0" opacity="0.55"/>
<circle cx="254.90" cy="423.66" r="0.52" fill="#f3e6f0" opacity="0.55"/>
<circle cx="258.48" cy="410.31" r="0.85" fill="#f3e6f0" opacity="0.55"/>
<circle cx="216.27" cy="392.91" r="0.65" fill="#f3e6f0" opacity="0.55"/>
<circle cx="251.32" cy="393.97" r="0.67" fill="#f3e6f0" opacity="0.55"/>
<circle cx="247.09" cy="421.21" r="0.47" fill="#f3e6f0" opacity="0.55"/>
<circle cx="210.37" cy="431.04" r="0.48" fill="#f3e6f0" opacity="0.55"/>
<circle cx="208.74" cy="436.00" r="0.45" fill="#f3e6f0" opacity="0.55"/>
<circle cx="258.59" cy="396.87" r="0.75" fill="#f3e6f0" opacity="0.55"/>
<circle cx="251.51" cy="427.91" r="0.69" fill="#f3e6f0" opacity="0.55"/>
<circle cx="214.41" cy="424.16" r="0.77" fill="#f3e6f0" opacity="0.55"/>
<circle cx="214.34" cy="438.78" r="0.69" fill="#f3e6f0" opacity="0.55"/>
<circle cx="249.20" cy="442.80" r="0.53" fill="#f3e6f0" opacity="0.55"/>
<circle cx="210.00" cy="403.00" r="0.60" fill="#f3e6f0" opacity="0.55"/>
<circle cx="244.95" cy="420.45" r="0.58" fill="#f3e6f0" opacity="0.55"/>
<circle cx="217.93" cy="437.26" r="0.86" fill="#f3e6f0" opacity="0.55"/>
<circle cx="258.93" cy="402.02" r="0.75" fill="#f3e6f0" opacity="0.55"/>
<circle cx="215.70" cy="424.03" r="0.82" fill="#f3e6f0" opacity="0.55"/>
<circle cx="231.82" cy="423.77" r="0.73" fill="#f3e6f0" opacity="0.55"/>
<circle cx="237.13" cy="407.63" r="0.88" fill="#f3e6f0" opacity="0.55"/>
<circle cx="208.04" cy="392.01" r="0.78" fill="#f3e6f0" opacity="0.55"/>
<circle cx="234.98" cy="427.67" r="0.40" fill="#f3e6f0" opacity="0.55"/>
<circle cx="232.96" cy="428.64" r="0.44" fill="#f3e6f0" opacity="0.55"/>
<circle cx="240.00" cy="436.81" r="0.42" fill="#f3e6f0" opacity="0.55"/>
<circle cx="247.12" cy="403.24" r="0.85" fill="#f3e6f0" opacity="0.55"/>
<circle cx="215.26" cy="387.85" r="0.51" fill="#f3e6f0" opacity="0.55"/>
<circle cx="209.14" cy="435.74" r="0.63" fill="#f3e6f0" opacity="0.55"/>
<circle cx="260.66" cy="429.06" r="0.69" fill="#f3e6f0" opacity="0.55"/>
<circle cx="213.45" cy="423.60" r="0.51" fill="#f3e6f0" opacity="0.55"/>
<circle cx="214.58" cy="437.33" r="0.54" fill="#f3e6f0" opacity="0.55"/>
<circle cx="247.14" cy="428.95" r="0.84" fill="#f3e6f0" opacity="0.55"/>
<circle cx="244.28" cy="409.04" r="0.49" fill="#f3e6f0" opacity="0.55"/>
<circle cx="259.05" cy="441.70" r="0.82" fill="#f3e6f0" opacity="0.55"/>
<circle cx="221.62" cy="410.19" r="0.63" fill="#f3e6f0" opacity="0.55"/>
<circle cx="251.95" cy="424.77" r="0.74" fill="#f3e6f0" opacity="0.55"/>
<circle cx="232.03" cy="410.95" r="0.60" fill="#f3e6f0" opacity="0.55"/>
<circle cx="266.40" cy="400.48" r="0.74" fill="#f3e6f0" opacity="0.55"/>
<circle cx="219.75" cy="425.14" r="0.75" fill="#f3e6f0" opacity="0.55"/>
<circle cx="223.79" cy="437.84" r="0.61" fill="#f3e6f0" opacity="0.55"/>
<circle cx="226.80" cy="439.47" r="0.55" fill="#f3e6f0" opacity="0.55"/>
<circle cx="230.13" cy="437.10" r="0.61" fill="#f3e6f0" opacity="0.55"/>
<circle cx="253.04" cy="427.89" r="0.77" fill="#f3e6f0" opacity="0.55"/>
<circle cx="219.92" cy="393.77" r="0.41" fill="#f3e6f0" opacity="0.55"/>
<circle cx="208.61" cy="394.76" r="0.50" fill="#f3e6f0" opacity="0.55"/>
<circle cx="247.83" cy="387.77" r="0.58" fill="#f3e6f0" opacity="0.55"/>
<circle cx="221.34" cy="417.98" r="0.75" fill="#f3e6f0" opacity="0.55"/>
<circle cx="216.27" cy="403.68" r="0.65" fill="#f3e6f0" opacity="0.55"/>
<circle cx="220.79" cy="424.53" r="0.51" fill="#f3e6f0" opacity="0.55"/>
<circle cx="214.01" cy="443.85" r="0.84" fill="#f3e6f0" opacity="0.55"/>
<circle cx="243.64" cy="426.75" r="0.69" fill="#f3e6f0" opacity="0.55"/>
<circle cx="240.79" cy="413.82" r="0.84" fill="#f3e6f0" opacity="0.55"/>
<circle cx="266.59" cy="437.61" r="0.59" fill="#f3e6f0" opacity="0.55"/>
<circle cx="257.41" cy="385.69" r="0.88" fill="#f3e6f0" opacity="0.55"/>
<circle cx="243.07" cy="440.50" r="0.69" fill="#f3e6f0" opacity="0.55"/>
<circle cx="246.08" cy="414.73" r="0.57" fill="#f3e6f0" opacity="0.55"/>
<circle cx="246.79" cy="394.54" r="0.48" fill="#f3e6f0" opacity="0.55"/>
<circle cx="251.60" cy="431.00" r="0.80" fill="#f3e6f0" opacity="0.55"/>
<circle cx="211.13" cy="414.54" r="0.49" fill="#f3e6f0" opacity="0.55"/>
<circle cx="243.43" cy="405.06" r="0.81" fill="#f3e6f0" opacity="0.55"/>
<circle cx="248.76" cy="439.31" r="0.81" fill="#f3e6f0" opacity="0.55"/>
<circle cx="262.61" cy="402.40" r="0.47" fill="#f3e6f0" opacity="0.55"/>
<circle cx="216.06" cy="435.22" r="0.76" fill="#f3e6f0" opacity="0.55"/>
<circle cx="244.46" cy="433.75" r="0.75" fill="#f3e6f0" opacity="0.55"/>
<circle cx="260.31" cy="400.69" r="0.45" fill="#f3e6f0" opacity="0.55"/>
<circle cx="242.94" cy="402.12" r="0.78" fill="#f3e6f0" opacity="0.55"/>
<circle cx="255.91" cy="425.46" r="0.87" fill="#f3e6f0" opacity="0.55"/>
<circle cx="221.45" cy="413.96" r="0.57" fill="#f3e6f0" opacity="0.55"/>
<circle cx="243.36" cy="397.91" r="0.67" fill="#f3e6f0" opacity="0.55"/>
<circle cx="217.96" cy="412.40" r="0.61" fill="#f3e6f0" opacity="0.55"/>
<circle cx="211.15" cy="413.66" r="0.52" fill="#f3e6f0" opacity="0.55"/>
<circle cx="264.70" cy="433.54" r="0.48" fill="#f3e6f0" opacity="0.55"/>
<circle cx="210.05" cy="433.53" r="0.73" fill="#f3e6f0" opacity="0.55"/>
<circle cx="250.91" cy="426.46" r="0.88" fill="#f3e6f0" opacity="0.55"/>
<circle cx="208.35" cy="429.57" r="0.46" fill="#f3e6f0" opacity="0.55"/>
<circle cx="218.76" cy="432.16" r="0.41" fill="#f3e6f0" opacity="0.55"/>
<circle cx="226.60" cy="405.94" r="0.67" fill="#f3e6f0" opacity="0.55"/>
<circle cx="217.33" cy="436.04" r="0.53" fill="#f3e6f0" opacity="0.55"/>
<circle cx="220.39" cy="436.36" r="0.83" fill="#f3e6f0" opacity="0.55"/>
<circle cx="238.40" cy="392.82" r="0.55" fill="#f3e6f0" opacity="0.55"/>
<circle cx="247.12" cy="415.80" r="0.41" fill="#f3e6f0" opacity="0.55"/>
<circle cx="208.37" cy="433.40" r="0.56" fill="#f3e6f0" opacity="0.55"/>
<circle cx="223.42" cy="385.33" r="0.61" fill="#f3e6f0" opacity="0.55"/>
<circle cx="253.98" cy="427.60" r="0.62" fill="#f3e6f0" opacity="0.55"/>
<circle cx="230.50" cy="395.09" r="0.61" fill="#f3e6f0" opacity="0.55"/>
<circle cx="239.21" cy="419.14" r="0.54" fill="#f3e6f0" opacity="0.55"/>
<circle cx="249.24" cy="413.32" r="0.88" fill="#f3e6f0" opacity="0.55"/>
<circle cx="241.74" cy="427.22" r="0.41" fill="#f3e6f0" opacity="0.55"/>
<circle cx="218.40" cy="394.75" r="0.51" fill="#f3e6f0" opacity="0.55"/>
<circle cx="236.59" cy="429.22" r="0.81" fill="#f3e6f0" opacity="0.55"/>
<circle cx="256.23" cy="435.19" r="0.50" fill="#f3e6f0" opacity="0.55"/>
<circle cx="233.78" cy="426.79" r="0.50" fill="#f3e6f0" opacity="0.55"/>
<circle cx="213.25" cy="407.26" r="0.60" fill="#f3e6f0" opacity="0.55"/>
<circle cx="210.82" cy="434.10" r="0.72" fill="#f3e6f0" opacity="0.55"/>
<circle cx="268.39" cy="424.15" r="0.81" fill="#f3e6f0" opacity="0.55"/>
<circle cx="253.13" cy="406.27" r="0.79" fill="#f3e6f0" opacity="0.55"/>
<circle cx="255.75" cy="389.01" r="0.49" fill="#f3e6f0" opacity="0.55"/>
<circle cx="229.57" cy="404.98" r="0.87" fill="#f3e6f0" opacity="0.55"/>
<circle cx="260.00" cy="394.30" r="0.49" fill="#f3e6f0" opacity="0.55"/>
<circle cx="216.52" cy="389.27" r="0.80" fill="#f3e6f0" opacity="0.55"/>
<circle cx="258.70" cy="402.86" r="0.83" fill="#f3e6f0" opacity="0.55"/>
<circle cx="262.42" cy="402.71" r="0.46" fill="#f3e6f0" opacity="0.55"/>
<circle cx="258.32" cy="395.62" r="0.59" fill="#f3e6f0" opacity="0.55"/>
<circle cx="262.38" cy="442.42" r="0.51" fill="#f3e6f0" opacity="0.55"/>
<circle cx="260.90" cy="425.48" r="0.63" fill="#f3e6f0" opacity="0.55"/>
<circle cx="262.01" cy="438.85" r="0.79" fill="#f3e6f0" opacity="0.55"/>
<circle cx="266.17" cy="400.45" r="0.80" fill="#f3e6f0" opacity="0.55"/>
<circle cx="259.14" cy="430.76" r="0.78" fill="#f3e6f0" opacity="0.55"/>
<circle cx="228.04" cy="394.01" r="0.41" fill="#f3e6f0" opacity="0.55"/>
<circle cx="262.21" cy="412.29" r="0.54" fill="#f3e6f0" opacity="0.55"/>
<circle cx="239.41" cy="437.18" r="0.86" fill="#f3e6f0" opacity="0.55"/>
<circle cx="236.55" cy="399.08" r="0.77" fill="#f3e6f0" opacity="0.55"/>
<circle cx="249.02" cy="415.89" r="0.78" fill="#f3e6f0" opacity="0.55"/>
<circle cx="223.51" cy="425.49" r="0.49" fill="#f3e6f0" opacity="0.55"/>
<circle cx="262.48" cy="398.68" r="0.48" fill="#f3e6f0" opacity="0.55"/>
<circle cx="256.85" cy="429.20" r="0.64" fill="#f3e6f0" opacity="0.55"/>
<circle cx="238.94" cy="395.52" r="0.70" fill="#f3e6f0" opacity="0.55"/>
<circle cx="247.73" cy="400.81" r="0.46" fill="#f3e6f0" opacity="0.55"/>
<circle cx="222.17" cy="435.19" r="0.84" fill="#f3e6f0" opacity="0.55"/>
<circle cx="223.40" cy="389.46" r="0.69" fill="#f3e6f0" opacity="0.55"/>
<circle cx="258.87" cy="443.69" r="0.86" fill="#f3e6f0" opacity="0.55"/>
<circle cx="225.54" cy="408.24" r="0.85" fill="#f3e6f0" opacity="0.55"/>
<circle cx="240.30" cy="429.15" r="0.60" fill="#f3e6f0" opacity="0.55"/>
<circle cx="207.45" cy="422.84" r="0.54" fill="#f3e6f0" opacity="0.55"/>
<circle cx="221.12" cy="439.74" r="0.82" fill="#f3e6f0" opacity="0.55"/>
<circle cx="232.28" cy="440.65" r="0.65" fill="#f3e6f0" opacity="0.55"/>
<circle cx="234.47" cy="423.27" r="0.70" fill="#f3e6f0" opacity="0.55"/>
<circle cx="209.04" cy="396.08" r="0.76" fill="#f3e6f0" opacity="0.55"/>
<circle cx="224.98" cy="406.10" r="0.89" fill="#f3e6f0" opacity="0.55"/>
<circle cx="217.38" cy="409.21" r="0.66" fill="#f3e6f0" opacity="0.55"/>
<circle cx="212.14" cy="417.93" r="0.63" fill="#f3e6f0" opacity="0.55"/>
<circle cx="266.11" cy="435.42" r="0.83" fill="#f3e6f0" opacity="0.55"/>
<circle cx="245.07" cy="442.90" r="0.44" fill="#f3e6f0" opacity="0.55"/>
<circle cx="251.65" cy="422.02" r="0.62" fill="#f3e6f0" opacity="0.55"/>
<circle cx="234.92" cy="388.85" r="0.51" fill="#f3e6f0" opacity="0.55"/>
<circle cx="261.81" cy="437.76" r="0.71" fill="#f3e6f0" opacity="0.55"/>
<circle cx="256.36" cy="425.31" r="0.81" fill="#f3e6f0" opacity="0.55"/>
<circle cx="256.84" cy="441.51" r="0.47" fill="#b0649e" opacity="0.45"/>
<circle cx="266.67" cy="430.16" r="0.38" fill="#b0649e" opacity="0.45"/>
<circle cx="207.70" cy="440.83" r="0.35" fill="#b0649e" opacity="0.45"/>
<circle cx="241.73" cy="411.07" r="0.66" fill="#b0649e" opacity="0.45"/>
<circle cx="233.29" cy="400.15" r="0.53" fill="#b0649e" opacity="0.45"/>
<circle cx="208.80" cy="421.06" r="0.67" fill="#b0649e" opacity="0.45"/>
<circle cx="244.80" cy="389.09" r="0.41" fill="#b0649e" opacity="0.45"/>
<circle cx="263.64" cy="438.20" r="0.41" fill="#b0649e" opacity="0.45"/>
<circle cx="260.05" cy="416.20" r="0.37" fill="#b0649e" opacity="0.45"/>
<circle cx="230.45" cy="412.18" r="0.56" fill="#b0649e" opacity="0.45"/>
<circle cx="229.57" cy="441.33" r="0.52" fill="#b0649e" opacity="0.45"/>
<circle cx="263.42" cy="437.90" r="0.64" fill="#b0649e" opacity="0.45"/>
<circle cx="238.77" cy="414.61" r="0.54" fill="#b0649e" opacity="0.45"/>
<circle cx="249.10" cy="401.28" r="0.43" fill="#b0649e" opacity="0.45"/>
<circle cx="218.06" cy="443.09" r="0.34" fill="#b0649e" opacity="0.45"/>
<circle cx="223.33" cy="400.14" r="0.61" fill="#b0649e" opacity="0.45"/>
<circle cx="237.08" cy="389.21" r="0.68" fill="#b0649e" opacity="0.45"/>
<circle cx="239.01" cy="393.53" r="0.43" fill="#b0649e" opacity="0.45"/>
<circle cx="257.86" cy="388.82" r="0.42" fill="#b0649e" opacity="0.45"/>
<circle cx="256.19" cy="400.05" r="0.51" fill="#b0649e" opacity="0.45"/>
<circle cx="255.32" cy="432.02" r="0.45" fill="#b0649e" opacity="0.45"/>
<circle cx="265.65" cy="394.39" r="0.60" fill="#b0649e" opacity="0.45"/>
<circle cx="267.45" cy="392.80" r="0.49" fill="#b0649e" opacity="0.45"/>
<circle cx="228.37" cy="384.34" r="0.49" fill="#b0649e" opacity="0.45"/>
<circle cx="237.18" cy="388.83" r="0.45" fill="#b0649e" opacity="0.45"/>
<circle cx="240.98" cy="439.98" r="0.40" fill="#b0649e" opacity="0.45"/>
<circle cx="254.93" cy="422.83" r="0.67" fill="#b0649e" opacity="0.45"/>
<circle cx="212.30" cy="443.19" r="0.68" fill="#b0649e" opacity="0.45"/>
<circle cx="229.21" cy="440.96" r="0.38" fill="#b0649e" opacity="0.45"/>
<circle cx="215.69" cy="401.87" r="0.45" fill="#b0649e" opacity="0.45"/>
<circle cx="265.17" cy="428.79" r="0.59" fill="#b0649e" opacity="0.45"/>
<circle cx="218.20" cy="411.40" r="0.44" fill="#b0649e" opacity="0.45"/>
<circle cx="240.16" cy="399.04" r="0.48" fill="#b0649e" opacity="0.45"/>
<circle cx="220.19" cy="388.94" r="0.53" fill="#b0649e" opacity="0.45"/>
<circle cx="238.13" cy="408.89" r="0.41" fill="#b0649e" opacity="0.45"/>
<circle cx="228.29" cy="412.72" r="0.45" fill="#b0649e" opacity="0.45"/>
<circle cx="228.08" cy="407.12" r="0.59" fill="#b0649e" opacity="0.45"/>
<circle cx="253.83" cy="392.81" r="0.68" fill="#b0649e" opacity="0.45"/>
<circle cx="212.59" cy="410.76" r="0.33" fill="#b0649e" opacity="0.45"/>
<circle cx="224.57" cy="412.45" r="0.65" fill="#b0649e" opacity="0.45"/>
<circle cx="259.75" cy="440.77" r="0.33" fill="#b0649e" opacity="0.45"/>
<circle cx="257.09" cy="439.23" r="0.56" fill="#b0649e" opacity="0.45"/>
<circle cx="220.93" cy="404.71" r="0.32" fill="#b0649e" opacity="0.45"/>
<circle cx="213.59" cy="401.31" r="0.52" fill="#b0649e" opacity="0.45"/>
<circle cx="222.78" cy="398.31" r="0.39" fill="#b0649e" opacity="0.45"/>
<circle cx="227.27" cy="440.42" r="0.62" fill="#b0649e" opacity="0.45"/>
<circle cx="238.49" cy="437.97" r="0.31" fill="#b0649e" opacity="0.45"/>
<circle cx="239.23" cy="428.91" r="0.50" fill="#b0649e" opacity="0.45"/>
<circle cx="248.04" cy="419.51" r="0.68" fill="#b0649e" opacity="0.45"/>
<circle cx="263.73" cy="419.60" r="0.51" fill="#b0649e" opacity="0.45"/>
<circle cx="237.77" cy="397.69" r="0.48" fill="#b0649e" opacity="0.45"/>
<circle cx="212.81" cy="409.67" r="0.56" fill="#b0649e" opacity="0.45"/>
<circle cx="231.76" cy="391.75" r="0.62" fill="#b0649e" opacity="0.45"/>
<circle cx="265.47" cy="384.96" r="0.57" fill="#b0649e" opacity="0.45"/>
<circle cx="233.93" cy="398.72" r="0.47" fill="#b0649e" opacity="0.45"/>
<circle cx="231.89" cy="434.18" r="0.38" fill="#b0649e" opacity="0.45"/>
<circle cx="266.17" cy="407.85" r="0.61" fill="#b0649e" opacity="0.45"/>
<circle cx="250.63" cy="437.54" r="0.50" fill="#b0649e" opacity="0.45"/>
<circle cx="224.61" cy="407.74" r="0.68" fill="#b0649e" opacity="0.45"/>
<circle cx="233.44" cy="434.20" r="0.44" fill="#b0649e" opacity="0.45"/>
<circle cx="225.41" cy="437.78" r="0.42" fill="#b0649e" opacity="0.45"/>
<circle cx="218.14" cy="424.82" r="0.49" fill="#b0649e" opacity="0.45"/>
<circle cx="245.62" cy="385.94" r="0.70" fill="#b0649e" opacity="0.45"/>
<circle cx="226.89" cy="434.12" r="0.61" fill="#b0649e" opacity="0.45"/>
<circle cx="231.50" cy="387.34" r="0.42" fill="#b0649e" opacity="0.45"/>
<circle cx="235.70" cy="416.41" r="0.58" fill="#b0649e" opacity="0.45"/>
<circle cx="235.67" cy="409.20" r="0.63" fill="#b0649e" opacity="0.45"/>
<circle cx="264.58" cy="424.21" r="0.32" fill="#b0649e" opacity="0.45"/>
<circle cx="234.10" cy="410.76" r="0.60" fill="#b0649e" opacity="0.45"/>
<circle cx="254.19" cy="398.22" r="0.49" fill="#b0649e" opacity="0.45"/>
<circle cx="236.44" cy="429.60" r="0.65" fill="#b0649e" opacity="0.45"/>
<circle cx="212.27" cy="392.79" r="0.60" fill="#b0649e" opacity="0.45"/>
<circle cx="209.83" cy="424.15" r="0.45" fill="#b0649e" opacity="0.45"/>
<circle cx="256.06" cy="423.67" r="0.33" fill="#b0649e" opacity="0.45"/>
<circle cx="244.95" cy="385.81" r="0.46" fill="#b0649e" opacity="0.45"/>
<circle cx="229.15" cy="411.69" r="0.45" fill="#b0649e" opacity="0.45"/>
<circle cx="227.48" cy="398.94" r="0.38" fill="#b0649e" opacity="0.45"/>
<circle cx="229.62" cy="397.57" r="0.58" fill="#b0649e" opacity="0.45"/>
<circle cx="211.02" cy="418.23" r="0.65" fill="#b0649e" opacity="0.45"/>
<circle cx="208.20" cy="409.95" r="0.48" fill="#b0649e" opacity="0.45"/>
<circle cx="231.48" cy="432.60" r="0.35" fill="#b0649e" opacity="0.45"/>
<circle cx="250.27" cy="411.46" r="0.52" fill="#b0649e" opacity="0.45"/>
<circle cx="207.08" cy="426.68" r="0.44" fill="#b0649e" opacity="0.45"/>
<circle cx="251.36" cy="422.24" r="0.32" fill="#b0649e" opacity="0.45"/>
<circle cx="267.82" cy="413.46" r="0.34" fill="#b0649e" opacity="0.45"/>
<circle cx="231.12" cy="416.01" r="0.46" fill="#b0649e" opacity="0.45"/>
<circle cx="213.16" cy="421.55" r="0.31" fill="#b0649e" opacity="0.45"/>
<circle cx="214.84" cy="424.14" r="0.35" fill="#b0649e" opacity="0.45"/>
<circle cx="244.45" cy="425.06" r="0.68" fill="#b0649e" opacity="0.45"/>
<circle cx="218.08" cy="426.71" r="0.51" fill="#b0649e" opacity="0.45"/>
</g>
<circle cx="248.50" cy="416.20" r="2.00" fill="#a95a92" opacity="0.55" filter="url(#bl1)"/>
<circle cx="260.60" cy="402.20" r="1.40" fill="#a95a92" opacity="0.55" filter="url(#bl1)"/>
<circle cx="232.00" cy="405.00" r="1.00" fill="#a95a92" opacity="0.55" filter="url(#bl1)"/>
</g>
<rect x="204.70" y="381.90" width="65.70" height="64.10" fill="none" stroke="#2a2a2a" stroke-width="1.3"/>
<g clip-path="url(#e2)">
<rect x="274.50" y="383.20" width="65.30" height="64.10" fill="#f7f5f7" />
<path d="M 276.4 396.6 L 278.3 391.0 L 285.7 388.2 L 293.2 386.4 L 296.9 388.2 L 301.6 394.8 L 306.2 398.5 L 311.8 399.4 L 317.4 404.1 L 319.3 407.8 L 313.7 413.4 L 306.2 418.1 L 298.8 422.7 L 293.2 429.2 L 287.6 430.2 L 282.0 426.5 L 278.3 420.9 L 276.4 415.3 L 275.5 406.0 Z" fill="#dcb2d4" stroke="#cc98c2" stroke-width="0.7" stroke-linejoin="round" filter="url(#bl1)"/>
<path d="M 301.6 434.8 L 308.1 430.2 L 315.5 422.7 L 321.1 415.3 L 326.7 407.8 L 332.3 404.1 L 338.8 403.2 L 338.8 415.3 L 337.9 426.5 L 334.2 433.9 L 330.5 441.4 L 323.0 445.1 L 315.5 445.5 L 308.1 441.4 L 302.5 437.6 Z" fill="#dcb2d4" stroke="#cc98c2" stroke-width="0.7" stroke-linejoin="round" filter="url(#bl1)"/>
<g clip-path="url(#e2t)">
<circle cx="315.70" cy="386.70" r="0.44" fill="#f3e6f0" opacity="0.55"/>
<circle cx="293.36" cy="398.61" r="0.76" fill="#f3e6f0" opacity="0.55"/>
<circle cx="321.65" cy="425.87" r="0.64" fill="#f3e6f0" opacity="0.55"/>
<circle cx="331.19" cy="390.43" r="0.78" fill="#f3e6f0" opacity="0.55"/>
<circle cx="302.36" cy="386.99" r="0.75" fill="#f3e6f0" opacity="0.55"/>
<circle cx="289.90" cy="415.57" r="0.72" fill="#f3e6f0" opacity="0.55"/>
<circle cx="278.13" cy="397.15" r="0.65" fill="#f3e6f0" opacity="0.55"/>
<circle cx="316.34" cy="417.95" r="0.80" fill="#f3e6f0" opacity="0.55"/>
<circle cx="290.01" cy="420.61" r="0.45" fill="#f3e6f0" opacity="0.55"/>
<circle cx="326.12" cy="385.59" r="0.51" fill="#f3e6f0" opacity="0.55"/>
<circle cx="325.90" cy="427.16" r="0.75" fill="#f3e6f0" opacity="0.55"/>
<circle cx="297.36" cy="394.54" r="0.55" fill="#f3e6f0" opacity="0.55"/>
<circle cx="335.18" cy="405.43" r="0.69" fill="#f3e6f0" opacity="0.55"/>
<circle cx="282.19" cy="391.01" r="0.64" fill="#f3e6f0" opacity="0.55"/>
<circle cx="328.45" cy="421.48" r="0.67" fill="#f3e6f0" opacity="0.55"/>
<circle cx="325.98" cy="429.06" r="0.61" fill="#f3e6f0" opacity="0.55"/>
<circle cx="309.37" cy="443.68" r="0.77" fill="#f3e6f0" opacity="0.55"/>
<circle cx="299.70" cy="418.38" r="0.57" fill="#f3e6f0" opacity="0.55"/>
<circle cx="327.34" cy="422.37" r="0.75" fill="#f3e6f0" opacity="0.55"/>
<circle cx="329.32" cy="419.90" r="0.54" fill="#f3e6f0" opacity="0.55"/>
<circle cx="319.69" cy="387.95" r="0.53" fill="#f3e6f0" opacity="0.55"/>
<circle cx="290.47" cy="402.59" r="0.46" fill="#f3e6f0" opacity="0.55"/>
<circle cx="281.39" cy="399.19" r="0.50" fill="#f3e6f0" opacity="0.55"/>
<circle cx="282.69" cy="401.91" r="0.46" fill="#f3e6f0" opacity="0.55"/>
<circle cx="315.47" cy="407.13" r="0.67" fill="#f3e6f0" opacity="0.55"/>
<circle cx="299.19" cy="397.79" r="0.78" fill="#f3e6f0" opacity="0.55"/>
<circle cx="292.87" cy="441.49" r="0.49" fill="#f3e6f0" opacity="0.55"/>
<circle cx="316.22" cy="421.81" r="0.51" fill="#f3e6f0" opacity="0.55"/>
<circle cx="286.99" cy="429.02" r="0.64" fill="#f3e6f0" opacity="0.55"/>
<circle cx="286.52" cy="408.01" r="0.76" fill="#f3e6f0" opacity="0.55"/>
<circle cx="337.16" cy="423.66" r="0.89" fill="#f3e6f0" opacity="0.55"/>
<circle cx="310.64" cy="426.35" r="0.66" fill="#f3e6f0" opacity="0.55"/>
<circle cx="328.17" cy="431.84" r="0.54" fill="#f3e6f0" opacity="0.55"/>
<circle cx="290.54" cy="387.13" r="0.45" fill="#f3e6f0" opacity="0.55"/>
<circle cx="295.84" cy="401.29" r="0.50" fill="#f3e6f0" opacity="0.55"/>
<circle cx="289.43" cy="441.87" r="0.51" fill="#f3e6f0" opacity="0.55"/>
<circle cx="330.22" cy="404.11" r="0.49" fill="#f3e6f0" opacity="0.55"/>
<circle cx="316.68" cy="408.98" r="0.41" fill="#f3e6f0" opacity="0.55"/>
<circle cx="332.56" cy="412.78" r="0.67" fill="#f3e6f0" opacity="0.55"/>
<circle cx="292.74" cy="400.02" r="0.54" fill="#f3e6f0" opacity="0.55"/>
<circle cx="310.91" cy="400.99" r="0.89" fill="#f3e6f0" opacity="0.55"/>
<circle cx="312.34" cy="439.16" r="0.68" fill="#f3e6f0" opacity="0.55"/>
<circle cx="300.98" cy="398.38" r="0.75" fill="#f3e6f0" opacity="0.55"/>
<circle cx="337.65" cy="415.82" r="0.46" fill="#f3e6f0" opacity="0.55"/>
<circle cx="282.07" cy="388.03" r="0.83" fill="#f3e6f0" opacity="0.55"/>
<circle cx="283.22" cy="422.91" r="0.65" fill="#f3e6f0" opacity="0.55"/>
<circle cx="325.05" cy="410.57" r="0.84" fill="#f3e6f0" opacity="0.55"/>
<circle cx="280.39" cy="408.14" r="0.69" fill="#f3e6f0" opacity="0.55"/>
<circle cx="337.56" cy="417.00" r="0.63" fill="#f3e6f0" opacity="0.55"/>
<circle cx="336.03" cy="436.93" r="0.62" fill="#f3e6f0" opacity="0.55"/>
<circle cx="277.20" cy="428.52" r="0.49" fill="#f3e6f0" opacity="0.55"/>
<circle cx="318.29" cy="417.47" r="0.43" fill="#f3e6f0" opacity="0.55"/>
<circle cx="292.86" cy="423.72" r="0.87" fill="#f3e6f0" opacity="0.55"/>
<circle cx="283.34" cy="411.33" r="0.64" fill="#f3e6f0" opacity="0.55"/>
<circle cx="304.31" cy="442.52" r="0.81" fill="#f3e6f0" opacity="0.55"/>
<circle cx="330.19" cy="401.03" r="0.60" fill="#f3e6f0" opacity="0.55"/>
<circle cx="307.19" cy="395.94" r="0.44" fill="#f3e6f0" opacity="0.55"/>
<circle cx="332.44" cy="437.52" r="0.71" fill="#f3e6f0" opacity="0.55"/>
<circle cx="294.79" cy="423.60" r="0.43" fill="#f3e6f0" opacity="0.55"/>
<circle cx="313.83" cy="394.39" r="0.47" fill="#f3e6f0" opacity="0.55"/>
<circle cx="323.24" cy="417.62" r="0.68" fill="#f3e6f0" opacity="0.55"/>
<circle cx="324.23" cy="417.07" r="0.55" fill="#f3e6f0" opacity="0.55"/>
<circle cx="276.54" cy="404.68" r="0.90" fill="#f3e6f0" opacity="0.55"/>
<circle cx="277.69" cy="441.04" r="0.46" fill="#f3e6f0" opacity="0.55"/>
<circle cx="330.37" cy="435.18" r="0.78" fill="#f3e6f0" opacity="0.55"/>
<circle cx="295.35" cy="388.68" r="0.70" fill="#f3e6f0" opacity="0.55"/>
<circle cx="330.32" cy="442.11" r="0.80" fill="#f3e6f0" opacity="0.55"/>
<circle cx="281.75" cy="414.41" r="0.51" fill="#f3e6f0" opacity="0.55"/>
<circle cx="280.74" cy="430.91" r="0.66" fill="#f3e6f0" opacity="0.55"/>
<circle cx="323.45" cy="392.92" r="0.63" fill="#f3e6f0" opacity="0.55"/>
<circle cx="305.63" cy="418.24" r="0.62" fill="#f3e6f0" opacity="0.55"/>
<circle cx="292.75" cy="437.63" r="0.83" fill="#f3e6f0" opacity="0.55"/>
<circle cx="302.44" cy="397.93" r="0.90" fill="#f3e6f0" opacity="0.55"/>
<circle cx="309.56" cy="429.07" r="0.55" fill="#f3e6f0" opacity="0.55"/>
<circle cx="288.83" cy="403.93" r="0.71" fill="#f3e6f0" opacity="0.55"/>
<circle cx="337.50" cy="424.26" r="0.70" fill="#f3e6f0" opacity="0.55"/>
<circle cx="303.36" cy="416.31" r="0.77" fill="#f3e6f0" opacity="0.55"/>
<circle cx="283.92" cy="398.70" r="0.87" fill="#f3e6f0" opacity="0.55"/>
<circle cx="297.22" cy="420.56" r="0.50" fill="#f3e6f0" opacity="0.55"/>
<circle cx="290.61" cy="398.44" r="0.51" fill="#f3e6f0" opacity="0.55"/>
<circle cx="280.85" cy="423.13" r="0.73" fill="#f3e6f0" opacity="0.55"/>
<circle cx="290.53" cy="439.62" r="0.48" fill="#f3e6f0" opacity="0.55"/>
<circle cx="329.20" cy="389.46" r="0.49" fill="#f3e6f0" opacity="0.55"/>
<circle cx="291.09" cy="425.41" r="0.44" fill="#f3e6f0" opacity="0.55"/>
<circle cx="289.63" cy="393.15" r="0.40" fill="#f3e6f0" opacity="0.55"/>
<circle cx="333.85" cy="419.52" r="0.63" fill="#f3e6f0" opacity="0.55"/>
<circle cx="305.47" cy="432.36" r="0.70" fill="#f3e6f0" opacity="0.55"/>
<circle cx="326.00" cy="396.64" r="0.55" fill="#f3e6f0" opacity="0.55"/>
<circle cx="282.44" cy="411.11" r="0.52" fill="#f3e6f0" opacity="0.55"/>
<circle cx="302.47" cy="413.27" r="0.75" fill="#f3e6f0" opacity="0.55"/>
<circle cx="321.19" cy="425.67" r="0.75" fill="#f3e6f0" opacity="0.55"/>
<circle cx="336.83" cy="391.11" r="0.63" fill="#f3e6f0" opacity="0.55"/>
<circle cx="301.18" cy="405.59" r="0.74" fill="#f3e6f0" opacity="0.55"/>
<circle cx="329.32" cy="400.14" r="0.86" fill="#f3e6f0" opacity="0.55"/>
<circle cx="288.16" cy="412.16" r="0.79" fill="#f3e6f0" opacity="0.55"/>
<circle cx="302.36" cy="401.94" r="0.71" fill="#f3e6f0" opacity="0.55"/>
<circle cx="291.81" cy="440.69" r="0.73" fill="#f3e6f0" opacity="0.55"/>
<circle cx="303.66" cy="436.97" r="0.87" fill="#f3e6f0" opacity="0.55"/>
<circle cx="310.23" cy="388.24" r="0.61" fill="#f3e6f0" opacity="0.55"/>
<circle cx="337.76" cy="435.45" r="0.67" fill="#f3e6f0" opacity="0.55"/>
<circle cx="335.90" cy="440.87" r="0.72" fill="#f3e6f0" opacity="0.55"/>
<circle cx="328.53" cy="395.20" r="0.85" fill="#f3e6f0" opacity="0.55"/>
<circle cx="306.27" cy="398.05" r="0.81" fill="#f3e6f0" opacity="0.55"/>
<circle cx="301.08" cy="388.72" r="0.44" fill="#f3e6f0" opacity="0.55"/>
<circle cx="299.73" cy="444.42" r="0.48" fill="#f3e6f0" opacity="0.55"/>
<circle cx="292.76" cy="432.32" r="0.55" fill="#f3e6f0" opacity="0.55"/>
<circle cx="304.39" cy="410.62" r="0.77" fill="#f3e6f0" opacity="0.55"/>
<circle cx="335.18" cy="445.02" r="0.68" fill="#f3e6f0" opacity="0.55"/>
<circle cx="310.57" cy="428.38" r="0.54" fill="#f3e6f0" opacity="0.55"/>
<circle cx="285.99" cy="403.03" r="0.46" fill="#f3e6f0" opacity="0.55"/>
<circle cx="335.88" cy="420.01" r="0.74" fill="#f3e6f0" opacity="0.55"/>
<circle cx="309.74" cy="430.15" r="0.75" fill="#f3e6f0" opacity="0.55"/>
<circle cx="280.00" cy="420.31" r="0.87" fill="#f3e6f0" opacity="0.55"/>
<circle cx="307.32" cy="436.45" r="0.65" fill="#f3e6f0" opacity="0.55"/>
<circle cx="286.15" cy="442.94" r="0.65" fill="#f3e6f0" opacity="0.55"/>
<circle cx="281.41" cy="396.37" r="0.44" fill="#f3e6f0" opacity="0.55"/>
<circle cx="312.98" cy="425.78" r="0.42" fill="#f3e6f0" opacity="0.55"/>
<circle cx="290.92" cy="392.41" r="0.62" fill="#f3e6f0" opacity="0.55"/>
<circle cx="331.07" cy="400.00" r="0.56" fill="#f3e6f0" opacity="0.55"/>
<circle cx="312.94" cy="422.42" r="0.53" fill="#f3e6f0" opacity="0.55"/>
<circle cx="302.20" cy="420.28" r="0.45" fill="#f3e6f0" opacity="0.55"/>
<circle cx="308.55" cy="441.38" r="0.88" fill="#f3e6f0" opacity="0.55"/>
<circle cx="289.02" cy="428.24" r="0.82" fill="#f3e6f0" opacity="0.55"/>
<circle cx="291.13" cy="408.99" r="0.69" fill="#f3e6f0" opacity="0.55"/>
<circle cx="317.67" cy="403.23" r="0.88" fill="#f3e6f0" opacity="0.55"/>
<circle cx="295.88" cy="430.39" r="0.90" fill="#f3e6f0" opacity="0.55"/>
<circle cx="280.95" cy="412.74" r="0.74" fill="#f3e6f0" opacity="0.55"/>
<circle cx="337.71" cy="445.07" r="0.53" fill="#f3e6f0" opacity="0.55"/>
<circle cx="280.99" cy="398.01" r="0.42" fill="#f3e6f0" opacity="0.55"/>
<circle cx="292.76" cy="441.29" r="0.78" fill="#f3e6f0" opacity="0.55"/>
<circle cx="330.50" cy="438.04" r="0.64" fill="#f3e6f0" opacity="0.55"/>
<circle cx="299.15" cy="394.68" r="0.73" fill="#f3e6f0" opacity="0.55"/>
<circle cx="327.61" cy="427.48" r="0.86" fill="#f3e6f0" opacity="0.55"/>
<circle cx="314.00" cy="444.53" r="0.49" fill="#f3e6f0" opacity="0.55"/>
<circle cx="316.59" cy="385.67" r="0.69" fill="#f3e6f0" opacity="0.55"/>
<circle cx="326.59" cy="403.19" r="0.72" fill="#f3e6f0" opacity="0.55"/>
<circle cx="317.17" cy="441.63" r="0.65" fill="#f3e6f0" opacity="0.55"/>
<circle cx="284.73" cy="392.14" r="0.45" fill="#f3e6f0" opacity="0.55"/>
<circle cx="283.06" cy="418.45" r="0.57" fill="#f3e6f0" opacity="0.55"/>
<circle cx="293.19" cy="421.55" r="0.57" fill="#f3e6f0" opacity="0.55"/>
<circle cx="320.49" cy="397.44" r="0.57" fill="#b0649e" opacity="0.45"/>
<circle cx="315.38" cy="401.07" r="0.64" fill="#b0649e" opacity="0.45"/>
<circle cx="306.45" cy="439.61" r="0.43" fill="#b0649e" opacity="0.45"/>
<circle cx="328.37" cy="390.75" r="0.58" fill="#b0649e" opacity="0.45"/>
<circle cx="302.47" cy="401.83" r="0.42" fill="#b0649e" opacity="0.45"/>
<circle cx="276.72" cy="431.54" r="0.68" fill="#b0649e" opacity="0.45"/>
<circle cx="315.56" cy="400.94" r="0.63" fill="#b0649e" opacity="0.45"/>
<circle cx="321.94" cy="418.36" r="0.52" fill="#b0649e" opacity="0.45"/>
<circle cx="302.72" cy="385.78" r="0.48" fill="#b0649e" opacity="0.45"/>
<circle cx="281.11" cy="438.27" r="0.43" fill="#b0649e" opacity="0.45"/>
<circle cx="331.91" cy="417.99" r="0.43" fill="#b0649e" opacity="0.45"/>
<circle cx="327.66" cy="420.21" r="0.69" fill="#b0649e" opacity="0.45"/>
<circle cx="285.58" cy="392.86" r="0.46" fill="#b0649e" opacity="0.45"/>
<circle cx="295.40" cy="439.23" r="0.51" fill="#b0649e" opacity="0.45"/>
<circle cx="325.30" cy="436.93" r="0.70" fill="#b0649e" opacity="0.45"/>
<circle cx="331.60" cy="397.83" r="0.56" fill="#b0649e" opacity="0.45"/>
<circle cx="291.80" cy="391.38" r="0.52" fill="#b0649e" opacity="0.45"/>
<circle cx="324.32" cy="438.34" r="0.47" fill="#b0649e" opacity="0.45"/>
<circle cx="301.41" cy="422.50" r="0.38" fill="#b0649e" opacity="0.45"/>
<circle cx="285.97" cy="441.09" r="0.44" fill="#b0649e" opacity="0.45"/>
<circle cx="329.50" cy="443.87" r="0.60" fill="#b0649e" opacity="0.45"/>
<circle cx="326.20" cy="438.17" r="0.55" fill="#b0649e" opacity="0.45"/>
<circle cx="278.02" cy="429.47" r="0.60" fill="#b0649e" opacity="0.45"/>
<circle cx="296.86" cy="441.14" r="0.38" fill="#b0649e" opacity="0.45"/>
<circle cx="325.68" cy="437.13" r="0.52" fill="#b0649e" opacity="0.45"/>
<circle cx="326.20" cy="401.24" r="0.67" fill="#b0649e" opacity="0.45"/>
<circle cx="324.77" cy="391.70" r="0.48" fill="#b0649e" opacity="0.45"/>
<circle cx="329.96" cy="436.80" r="0.58" fill="#b0649e" opacity="0.45"/>
<circle cx="290.14" cy="434.28" r="0.35" fill="#b0649e" opacity="0.45"/>
<circle cx="304.72" cy="403.54" r="0.69" fill="#b0649e" opacity="0.45"/>
<circle cx="325.25" cy="398.88" r="0.54" fill="#b0649e" opacity="0.45"/>
<circle cx="277.95" cy="396.81" r="0.40" fill="#b0649e" opacity="0.45"/>
<circle cx="296.62" cy="437.15" r="0.36" fill="#b0649e" opacity="0.45"/>
<circle cx="335.77" cy="401.98" r="0.52" fill="#b0649e" opacity="0.45"/>
<circle cx="315.82" cy="409.22" r="0.52" fill="#b0649e" opacity="0.45"/>
<circle cx="336.64" cy="417.43" r="0.34" fill="#b0649e" opacity="0.45"/>
<circle cx="334.08" cy="392.13" r="0.70" fill="#b0649e" opacity="0.45"/>
<circle cx="335.99" cy="395.93" r="0.67" fill="#b0649e" opacity="0.45"/>
<circle cx="335.50" cy="401.15" r="0.48" fill="#b0649e" opacity="0.45"/>
<circle cx="283.15" cy="411.32" r="0.35" fill="#b0649e" opacity="0.45"/>
<circle cx="321.16" cy="404.05" r="0.63" fill="#b0649e" opacity="0.45"/>
<circle cx="313.66" cy="415.94" r="0.50" fill="#b0649e" opacity="0.45"/>
<circle cx="300.11" cy="419.85" r="0.59" fill="#b0649e" opacity="0.45"/>
<circle cx="292.11" cy="427.80" r="0.50" fill="#b0649e" opacity="0.45"/>
<circle cx="276.60" cy="440.83" r="0.41" fill="#b0649e" opacity="0.45"/>
<circle cx="309.51" cy="428.44" r="0.63" fill="#b0649e" opacity="0.45"/>
<circle cx="321.98" cy="425.50" r="0.69" fill="#b0649e" opacity="0.45"/>
<circle cx="298.83" cy="389.41" r="0.40" fill="#b0649e" opacity="0.45"/>
<circle cx="317.22" cy="405.05" r="0.52" fill="#b0649e" opacity="0.45"/>
<circle cx="295.74" cy="436.17" r="0.45" fill="#b0649e" opacity="0.45"/>
<circle cx="320.62" cy="403.25" r="0.67" fill="#b0649e" opacity="0.45"/>
<circle cx="295.46" cy="409.74" r="0.50" fill="#b0649e" opacity="0.45"/>
<circle cx="301.17" cy="402.97" r="0.65" fill="#b0649e" opacity="0.45"/>
<circle cx="284.30" cy="410.47" r="0.65" fill="#b0649e" opacity="0.45"/>
<circle cx="334.14" cy="425.91" r="0.41" fill="#b0649e" opacity="0.45"/>
<circle cx="331.84" cy="422.19" r="0.62" fill="#b0649e" opacity="0.45"/>
<circle cx="294.95" cy="418.13" r="0.47" fill="#b0649e" opacity="0.45"/>
<circle cx="276.52" cy="402.44" r="0.67" fill="#b0649e" opacity="0.45"/>
<circle cx="302.85" cy="420.06" r="0.50" fill="#b0649e" opacity="0.45"/>
<circle cx="316.63" cy="413.15" r="0.63" fill="#b0649e" opacity="0.45"/>
<circle cx="303.60" cy="398.04" r="0.41" fill="#b0649e" opacity="0.45"/>
<circle cx="305.51" cy="439.36" r="0.42" fill="#b0649e" opacity="0.45"/>
<circle cx="325.30" cy="395.40" r="0.53" fill="#b0649e" opacity="0.45"/>
<circle cx="281.70" cy="416.18" r="0.70" fill="#b0649e" opacity="0.45"/>
<circle cx="315.30" cy="405.34" r="0.50" fill="#b0649e" opacity="0.45"/>
<circle cx="326.67" cy="430.34" r="0.36" fill="#b0649e" opacity="0.45"/>
<circle cx="317.74" cy="398.70" r="0.52" fill="#b0649e" opacity="0.45"/>
<circle cx="288.71" cy="386.67" r="0.44" fill="#b0649e" opacity="0.45"/>
<circle cx="291.51" cy="413.76" r="0.52" fill="#b0649e" opacity="0.45"/>
<circle cx="328.59" cy="389.58" r="0.52" fill="#b0649e" opacity="0.45"/>
<circle cx="301.91" cy="423.05" r="0.48" fill="#b0649e" opacity="0.45"/>
<circle cx="288.42" cy="427.05" r="0.43" fill="#b0649e" opacity="0.45"/>
<circle cx="306.81" cy="399.86" r="0.38" fill="#b0649e" opacity="0.45"/>
<circle cx="316.72" cy="385.53" r="0.58" fill="#b0649e" opacity="0.45"/>
<circle cx="322.53" cy="431.48" r="0.53" fill="#b0649e" opacity="0.45"/>
<circle cx="283.03" cy="410.75" r="0.39" fill="#b0649e" opacity="0.45"/>
<circle cx="287.28" cy="442.77" r="0.61" fill="#b0649e" opacity="0.45"/>
<circle cx="308.25" cy="388.22" r="0.32" fill="#b0649e" opacity="0.45"/>
<circle cx="291.78" cy="436.19" r="0.60" fill="#b0649e" opacity="0.45"/>
<circle cx="304.48" cy="433.37" r="0.58" fill="#b0649e" opacity="0.45"/>
<circle cx="317.42" cy="444.57" r="0.62" fill="#b0649e" opacity="0.45"/>
<circle cx="313.00" cy="442.30" r="0.45" fill="#b0649e" opacity="0.45"/>
<circle cx="331.14" cy="422.02" r="0.57" fill="#b0649e" opacity="0.45"/>
<circle cx="320.59" cy="415.54" r="0.63" fill="#b0649e" opacity="0.45"/>
<circle cx="327.41" cy="418.13" r="0.69" fill="#b0649e" opacity="0.45"/>
<circle cx="331.50" cy="429.89" r="0.50" fill="#b0649e" opacity="0.45"/>
<circle cx="305.60" cy="400.78" r="0.31" fill="#b0649e" opacity="0.45"/>
<circle cx="291.66" cy="423.52" r="0.50" fill="#b0649e" opacity="0.45"/>
<circle cx="323.44" cy="416.53" r="0.54" fill="#b0649e" opacity="0.45"/>
<circle cx="314.92" cy="401.70" r="0.65" fill="#b0649e" opacity="0.45"/>
</g>
<circle cx="310.00" cy="413.40" r="2.40" fill="#a95a92" opacity="0.55" filter="url(#bl1)"/>
<circle cx="331.40" cy="421.80" r="2.40" fill="#a95a92" opacity="0.55" filter="url(#bl1)"/>
<circle cx="311.80" cy="406.00" r="1.40" fill="#a95a92" opacity="0.55" filter="url(#bl1)"/>
<circle cx="290.00" cy="395.00" r="1.00" fill="#a95a92" opacity="0.55" filter="url(#bl1)"/>
</g>
<rect x="274.50" y="383.20" width="65.30" height="64.10" fill="none" stroke="#2a2a2a" stroke-width="1.3"/>
<text x="445.45" y="328.90" font-family="'Liberation Sans', sans-serif" font-size="8.6" font-weight="bold" text-anchor="middle" fill="#222" stroke="#222" stroke-width="0.22" textLength="44.10" lengthAdjust="spacingAndGlyphs">H522 cells</text>
<line x1="373.00" y1="342.50" x2="373.00" y2="436.60" stroke="#1c1c1c" stroke-width="1.1"/>
<line x1="372.50" y1="436.10" x2="510.40" y2="436.10" stroke="#1c1c1c" stroke-width="1.1"/>
<line x1="370.40" y1="436.10" x2="373.00" y2="436.10" stroke="#1c1c1c" stroke-width="1"/>
<text x="370.00" y="438.40" font-family="'Liberation Sans', sans-serif" font-size="6.5" font-weight="bold" text-anchor="end" fill="#222" stroke="#222" stroke-width="0.22">0</text>
<line x1="370.40" y1="412.70" x2="373.00" y2="412.70" stroke="#1c1c1c" stroke-width="1"/>
<text x="370.00" y="415.00" font-family="'Liberation Sans', sans-serif" font-size="6.5" font-weight="bold" text-anchor="end" fill="#222" stroke="#222" stroke-width="0.22" textLength="6.80" lengthAdjust="spacingAndGlyphs">10</text>
<line x1="370.40" y1="389.30" x2="373.00" y2="389.30" stroke="#1c1c1c" stroke-width="1"/>
<text x="370.00" y="391.60" font-family="'Liberation Sans', sans-serif" font-size="6.5" font-weight="bold" text-anchor="end" fill="#222" stroke="#222" stroke-width="0.22" textLength="6.80" lengthAdjust="spacingAndGlyphs">20</text>
<line x1="370.40" y1="365.90" x2="373.00" y2="365.90" stroke="#1c1c1c" stroke-width="1"/>
<text x="370.00" y="368.20" font-family="'Liberation Sans', sans-serif" font-size="6.5" font-weight="bold" text-anchor="end" fill="#222" stroke="#222" stroke-width="0.22" textLength="6.80" lengthAdjust="spacingAndGlyphs">30</text>
<line x1="370.40" y1="342.50" x2="373.00" y2="342.50" stroke="#1c1c1c" stroke-width="1"/>
<text x="370.00" y="344.80" font-family="'Liberation Sans', sans-serif" font-size="6.5" font-weight="bold" text-anchor="end" fill="#222" stroke="#222" stroke-width="0.22" textLength="6.80" lengthAdjust="spacingAndGlyphs">40</text>
<line x1="409.40" y1="436.10" x2="409.40" y2="438.90" stroke="#1c1c1c" stroke-width="1"/>
<line x1="385.50" y1="411.30" x2="432.80" y2="411.30" stroke="#111" stroke-width="1.2"/>
<line x1="397.20" y1="403.00" x2="421.50" y2="403.00" stroke="#111" stroke-width="1.2"/>
<line x1="397.20" y1="420.30" x2="421.50" y2="420.30" stroke="#111" stroke-width="1.2"/>
<line x1="409.40" y1="403.00" x2="409.40" y2="420.30" stroke="#111" stroke-width="1.2"/>
<circle cx="409.40" cy="394.30" r="1.85" fill="#000" />
<circle cx="403.70" cy="410.60" r="1.85" fill="#000" />
<circle cx="415.10" cy="410.60" r="1.85" fill="#000" />
<circle cx="409.40" cy="413.20" r="1.85" fill="#000" />
<circle cx="403.70" cy="415.60" r="1.85" fill="#000" />
<circle cx="415.10" cy="418.00" r="1.85" fill="#000" />
<circle cx="409.40" cy="420.50" r="1.85" fill="#000" />
<line x1="479.80" y1="436.10" x2="479.80" y2="438.90" stroke="#1c1c1c" stroke-width="1"/>
<line x1="456.00" y1="377.30" x2="503.20" y2="377.30" stroke="#111" stroke-width="1.2"/>
<line x1="468.10" y1="368.20" x2="491.50" y2="368.20" stroke="#111" stroke-width="1.2"/>
<line x1="468.10" y1="387.30" x2="491.50" y2="387.30" stroke="#111" stroke-width="1.2"/>
<line x1="479.80" y1="368.20" x2="479.80" y2="387.30" stroke="#111" stroke-width="1.2"/>
<rect x="472.20" y="362.00" width="3.80" height="3.80" fill="#000" />
<rect x="477.90" y="366.90" width="3.80" height="3.80" fill="#000" />
<rect x="483.70" y="373.70" width="3.80" height="3.80" fill="#000" />
<rect x="477.90" y="375.40" width="3.80" height="3.80" fill="#000" />
<rect x="472.00" y="380.70" width="3.80" height="3.80" fill="#000" />
<rect x="477.90" y="382.80" width="3.80" height="3.80" fill="#000" />
<rect x="477.90" y="390.30" width="3.80" height="3.80" fill="#000" />
<line x1="405.50" y1="351.20" x2="483.70" y2="351.20" stroke="#444" stroke-width="1.2"/>
<line x1="405.50" y1="349.20" x2="405.50" y2="353.80" stroke="#444" stroke-width="1.1"/>
<line x1="483.70" y1="349.20" x2="483.70" y2="353.80" stroke="#444" stroke-width="1.1"/>
<text x="446.30" y="346.20" font-family="'Liberation Sans', sans-serif" font-size="7.6" font-weight="normal" text-anchor="middle" fill="#555" textLength="28.33" lengthAdjust="spacingAndGlyphs"><tspan font-style="italic">p</tspan>&lt;0.001</text>
<text x="409.00" y="448.40" font-family="'Liberation Sans', sans-serif" font-size="6.8" font-weight="bold" text-anchor="middle" fill="#222" stroke="#222" stroke-width="0.22" textLength="21.08" lengthAdjust="spacingAndGlyphs">Vector</text>
<text x="480.30" y="448.40" font-family="'Liberation Sans', sans-serif" font-size="6.8" font-weight="bold" text-anchor="middle" fill="#222" stroke="#222" stroke-width="0.22" textLength="60.88" lengthAdjust="spacingAndGlyphs">miR-199b inhibitor</text>
<text x="357.00" y="387.95" font-family="'Liberation Sans', sans-serif" font-size="7.8" font-weight="bold" text-anchor="middle" fill="#222" stroke="#222" stroke-width="0.22" textLength="78.65" lengthAdjust="spacingAndGlyphs" transform="rotate(-90 357.00 387.95)">Tumor numbers/lung</text>
<line x1="573.40" y1="296.50" x2="573.40" y2="436.30" stroke="#333" stroke-width="1"/>
<line x1="575.30" y1="438.20" x2="768.40" y2="438.20" stroke="#333" stroke-width="1"/>
<line x1="575.30" y1="438.20" x2="575.30" y2="441.00" stroke="#333" stroke-width="1"/>
<text x="575.50" y="451.40" font-family="'Liberation Serif', serif" font-size="6.9" font-weight="bold" text-anchor="middle" fill="#222" stroke="#222" stroke-width="0.22" textLength="3.88" lengthAdjust="spacingAndGlyphs">0</text>
<line x1="599.41" y1="438.20" x2="599.41" y2="441.00" stroke="#333" stroke-width="1"/>
<text x="601.20" y="451.40" font-family="'Liberation Serif', serif" font-size="6.9" font-weight="bold" text-anchor="middle" fill="#222" stroke="#222" stroke-width="0.22" textLength="16.08" lengthAdjust="spacingAndGlyphs">1000</text>
<line x1="623.52" y1="438.20" x2="623.52" y2="441.00" stroke="#333" stroke-width="1"/>
<text x="624.95" y="451.40" font-family="'Liberation Serif', serif" font-size="6.9" font-weight="bold" text-anchor="middle" fill="#222" stroke="#222" stroke-width="0.22" textLength="16.98" lengthAdjust="spacingAndGlyphs">2000</text>
<line x1="647.64" y1="438.20" x2="647.64" y2="441.00" stroke="#333" stroke-width="1"/>
<text x="648.65" y="451.40" font-family="'Liberation Serif', serif" font-size="6.9" font-weight="bold" text-anchor="middle" fill="#222" stroke="#222" stroke-width="0.22" textLength="17.18" lengthAdjust="spacingAndGlyphs">3000</text>
<line x1="671.75" y1="438.20" x2="671.75" y2="441.00" stroke="#333" stroke-width="1"/>
<text x="672.40" y="451.40" font-family="'Liberation Serif', serif" font-size="6.9" font-weight="bold" text-anchor="middle" fill="#222" stroke="#222" stroke-width="0.22" textLength="16.68" lengthAdjust="spacingAndGlyphs">4000</text>
<line x1="695.86" y1="438.20" x2="695.86" y2="441.00" stroke="#333" stroke-width="1"/>
<text x="698.15" y="451.40" font-family="'Liberation Serif', serif" font-size="6.9" font-weight="bold" text-anchor="middle" fill="#222" stroke="#222" stroke-width="0.22" textLength="16.78" lengthAdjust="spacingAndGlyphs">5000</text>
<line x1="719.98" y1="438.20" x2="719.98" y2="441.00" stroke="#333" stroke-width="1"/>
<text x="722.25" y="451.40" font-family="'Liberation Serif', serif" font-size="6.9" font-weight="bold" text-anchor="middle" fill="#222" stroke="#222" stroke-width="0.22" textLength="17.38" lengthAdjust="spacingAndGlyphs">6000</text>
<line x1="744.09" y1="438.20" x2="744.09" y2="441.00" stroke="#333" stroke-width="1"/>
<text x="744.10" y="451.40" font-family="'Liberation Serif', serif" font-size="6.9" font-weight="bold" text-anchor="middle" fill="#222" stroke="#222" stroke-width="0.22" textLength="16.28" lengthAdjust="spacingAndGlyphs">7000</text>
<line x1="768.20" y1="438.20" x2="768.20" y2="441.00" stroke="#333" stroke-width="1"/>
<text x="769.35" y="451.40" font-family="'Liberation Serif', serif" font-size="6.9" font-weight="bold" text-anchor="middle" fill="#222" stroke="#222" stroke-width="0.22" textLength="16.98" lengthAdjust="spacingAndGlyphs">8000</text>
<line x1="570.80" y1="436.30" x2="573.40" y2="436.30" stroke="#333" stroke-width="1"/>
<text x="566.65" y="438.70" font-family="'Liberation Serif', serif" font-size="7.2" font-weight="bold" text-anchor="middle" fill="#222" stroke="#222" stroke-width="0.22" textLength="3.60" lengthAdjust="spacingAndGlyphs">0</text>
<line x1="570.80" y1="408.34" x2="573.40" y2="408.34" stroke="#333" stroke-width="1"/>
<text x="564.35" y="410.74" font-family="'Liberation Serif', serif" font-size="7.2" font-weight="bold" text-anchor="middle" fill="#222" stroke="#222" stroke-width="0.22" textLength="8.20" lengthAdjust="spacingAndGlyphs">20</text>
<line x1="570.80" y1="380.38" x2="573.40" y2="380.38" stroke="#333" stroke-width="1"/>
<text x="564.35" y="382.78" font-family="'Liberation Serif', serif" font-size="7.2" font-weight="bold" text-anchor="middle" fill="#222" stroke="#222" stroke-width="0.22" textLength="8.20" lengthAdjust="spacingAndGlyphs">40</text>
<line x1="570.80" y1="352.42" x2="573.40" y2="352.42" stroke="#333" stroke-width="1"/>
<text x="564.35" y="354.82" font-family="'Liberation Serif', serif" font-size="7.2" font-weight="bold" text-anchor="middle" fill="#222" stroke="#222" stroke-width="0.22" textLength="8.20" lengthAdjust="spacingAndGlyphs">60</text>
<line x1="570.80" y1="324.46" x2="573.40" y2="324.46" stroke="#333" stroke-width="1"/>
<text x="564.35" y="326.86" font-family="'Liberation Serif', serif" font-size="7.2" font-weight="bold" text-anchor="middle" fill="#222" stroke="#222" stroke-width="0.22" textLength="8.20" lengthAdjust="spacingAndGlyphs">80</text>
<line x1="570.80" y1="296.50" x2="573.40" y2="296.50" stroke="#333" stroke-width="1"/>
<text x="562.45" y="298.90" font-family="'Liberation Serif', serif" font-size="7.2" font-weight="bold" text-anchor="middle" fill="#222" stroke="#222" stroke-width="0.22" textLength="12.00" lengthAdjust="spacingAndGlyphs">100</text>
<text x="550.70" y="361.05" font-family="'Liberation Serif', serif" font-size="10.4" font-weight="bold" text-anchor="middle" fill="#222" textLength="109.63" lengthAdjust="spacingAndGlyphs" transform="rotate(-90 550.70 361.05)">Overall survival rate (%)</text>
<text x="675.15" y="468.80" font-family="'Liberation Serif', serif" font-size="10.2" font-weight="bold" text-anchor="middle" fill="#222" textLength="59.01" lengthAdjust="spacingAndGlyphs">Days survival</text>
<polyline points="575.20,297.30 577.30,297.30 577.30,300.50 579.00,300.50 579.00,302.50 581.50,302.50 581.50,306.90 585.10,306.90 585.10,308.60 586.80,308.60 586.80,312.20 590.00,312.20 590.00,315.40 592.10,315.40 592.10,319.60 592.65,319.60 592.65,322.80 593.20,322.80 593.20,326.00 595.30,326.00 595.30,330.20 598.50,330.20 598.50,334.50 600.10,334.50 600.10,337.15 601.70,337.15 601.70,339.80 602.75,339.80 602.75,342.45 603.80,342.45 603.80,345.10 604.50,345.10 604.50,347.57 605.20,347.57 605.20,350.03 605.90,350.03 605.90,352.50 609.10,352.50 609.10,356.80 610.15,356.80 610.15,359.45 611.20,359.45 611.20,362.10 612.80,362.10 612.80,365.25 614.40,365.25 614.40,368.40 616.50,368.40 616.50,372.70 617.27,372.70 617.27,374.90 618.03,374.90 618.03,377.10 618.80,377.10 618.80,379.30 627.50,379.30 628.10,379.30 628.10,382.60 638.20,382.60 638.33,382.60 638.33,385.50 638.47,385.50 638.47,388.40 638.60,388.40 638.60,391.30 656.50,391.30 656.70,397.40 745.80,397.40" fill="none" stroke="#c8474e" stroke-width="1.1" stroke-linejoin="round" />
<polyline points="575.20,297.30 578.00,297.30 578.00,301.00 579.75,301.00 579.75,303.95 581.50,303.95 581.50,306.90 582.23,306.90 582.23,309.73 582.97,309.73 582.97,312.57 583.70,312.57 583.70,315.40 584.75,315.40 584.75,318.55 585.80,318.55 585.80,321.70 587.40,321.70 587.40,324.90 589.00,324.90 589.00,328.10 589.70,328.10 589.70,330.57 590.40,330.57 590.40,333.03 591.10,333.03 591.10,335.50 594.30,335.50 594.30,339.80 595.35,339.80 595.35,342.45 596.40,342.45 596.40,345.10 597.45,345.10 597.45,347.75 598.50,347.75 598.50,350.40 599.55,350.40 599.55,353.60 600.60,353.60 600.60,356.80 603.80,356.80 603.80,359.90 604.85,359.90 604.85,363.10 605.90,363.10 605.90,366.30 608.00,366.30 608.00,370.60 610.00,370.60 610.00,371.80 611.15,371.80 611.15,374.40 612.30,374.40 612.30,377.00 613.80,377.00 613.80,379.35 615.30,379.35 615.30,381.70 619.30,381.70 619.30,385.80 630.40,385.80 631.60,385.80 631.60,389.30 633.30,389.30 633.30,393.40 639.80,393.40 640.05,393.40 640.05,396.40 640.30,396.40 640.30,399.40 651.40,399.40 651.53,399.40 651.53,402.00 651.67,402.00 651.67,404.60 651.80,404.60 651.80,407.20 694.80,407.20 695.00,421.60 750.70,421.60" fill="none" stroke="#2f3182" stroke-width="1.1" stroke-linejoin="round" />
<line x1="621.00" y1="378.00" x2="621.00" y2="380.60" stroke="#c8474e" stroke-width="0.6"/>
<line x1="624.00" y1="378.00" x2="624.00" y2="380.60" stroke="#c8474e" stroke-width="0.6"/>
<line x1="633.00" y1="381.30" x2="633.00" y2="383.90" stroke="#c8474e" stroke-width="0.6"/>
<line x1="645.00" y1="390.00" x2="645.00" y2="392.60" stroke="#c8474e" stroke-width="0.6"/>
<line x1="650.00" y1="390.00" x2="650.00" y2="392.60" stroke="#c8474e" stroke-width="0.6"/>
<line x1="664.00" y1="396.10" x2="664.00" y2="398.70" stroke="#c8474e" stroke-width="0.6"/>
<line x1="667.00" y1="396.10" x2="667.00" y2="398.70" stroke="#c8474e" stroke-width="0.6"/>
<line x1="669.00" y1="396.10" x2="669.00" y2="398.70" stroke="#c8474e" stroke-width="0.6"/>
<line x1="694.00" y1="396.10" x2="694.00" y2="398.70" stroke="#c8474e" stroke-width="0.6"/>
<line x1="718.00" y1="396.10" x2="718.00" y2="398.70" stroke="#c8474e" stroke-width="0.6"/>
<line x1="737.50" y1="396.10" x2="737.50" y2="398.70" stroke="#c8474e" stroke-width="0.6"/>
<line x1="742.00" y1="396.10" x2="742.00" y2="398.70" stroke="#c8474e" stroke-width="0.6"/>
<line x1="622.00" y1="384.50" x2="622.00" y2="387.10" stroke="#2f3182" stroke-width="0.6"/>
<line x1="626.00" y1="384.50" x2="626.00" y2="387.10" stroke="#2f3182" stroke-width="0.6"/>
<line x1="645.00" y1="398.10" x2="645.00" y2="400.70" stroke="#2f3182" stroke-width="0.6"/>
<line x1="663.00" y1="405.90" x2="663.00" y2="408.50" stroke="#2f3182" stroke-width="0.6"/>
<line x1="670.00" y1="405.90" x2="670.00" y2="408.50" stroke="#2f3182" stroke-width="0.6"/>
<line x1="681.00" y1="405.90" x2="681.00" y2="408.50" stroke="#2f3182" stroke-width="0.6"/>
<line x1="691.40" y1="306.40" x2="698.60" y2="306.40" stroke="#c0394a" stroke-width="2.2"/>
<line x1="691.40" y1="321.90" x2="698.60" y2="321.90" stroke="#1f2270" stroke-width="2.2"/>
<text x="730.75" y="308.80" font-family="'Liberation Serif', serif" font-size="7.6" font-weight="bold" text-anchor="middle" fill="#222" stroke="#222" stroke-width="0.22" textLength="45.83" lengthAdjust="spacingAndGlyphs">High (n=245)</text>
<text x="728.80" y="324.20" font-family="'Liberation Serif', serif" font-size="7.6" font-weight="bold" text-anchor="middle" fill="#222" stroke="#222" stroke-width="0.22" textLength="44.53" lengthAdjust="spacingAndGlyphs">Low (n=245)</text>
<text x="728.30" y="340.70" font-family="'Liberation Serif', serif" font-size="7.6" font-weight="bold" text-anchor="middle" fill="#222" stroke="#222" stroke-width="0.22" textLength="35.73" lengthAdjust="spacingAndGlyphs"><tspan font-style="italic">p</tspan> = 0.0256</text>
</svg>
</body></html>
